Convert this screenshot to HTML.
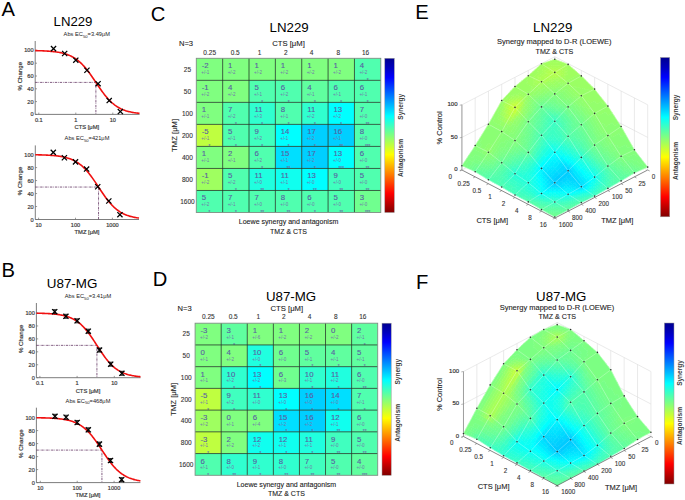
<!DOCTYPE html>
<html><head><meta charset="utf-8"><style>
html,body{margin:0;padding:0;background:#fff;}
svg{display:block;font-family:"Liberation Sans", sans-serif;}
.s text{stroke-width:0.18;}
</style></head><body>
<svg width="685" height="500" viewBox="0 0 685 500">
<rect width="685" height="500" fill="#fff"/>
<text x="1.50" y="16.40" font-size="20.20" text-anchor="start" fill="#000">A</text>
<text x="1.40" y="276.80" font-size="20.20" text-anchor="start" fill="#000">B</text>
<text x="150.80" y="20.90" font-size="20.20" text-anchor="start" fill="#000">C</text>
<text x="152.70" y="286.40" font-size="20.20" text-anchor="start" fill="#000">D</text>
<text x="415.20" y="18.60" font-size="20.20" text-anchor="start" fill="#000">E</text>
<text x="416.00" y="289.00" font-size="20.20" text-anchor="start" fill="#000">F</text>
<path d="M35.20 41.00 V114.40 H139.50" fill="none" stroke="#6e6e6e" stroke-width="0.9"/>
<line x1="35.20" y1="114.40" x2="37.00" y2="114.40" stroke="#6e6e6e" stroke-width="0.7"/>
<text x="33.60" y="116.40" font-size="5.60" text-anchor="end" fill="#3c3c3c" stroke="#3c3c3c" stroke-width="0.2">0</text>
<line x1="35.20" y1="101.60" x2="37.00" y2="101.60" stroke="#6e6e6e" stroke-width="0.7"/>
<text x="33.60" y="103.60" font-size="5.60" text-anchor="end" fill="#3c3c3c" stroke="#3c3c3c" stroke-width="0.2">20</text>
<line x1="35.20" y1="88.80" x2="37.00" y2="88.80" stroke="#6e6e6e" stroke-width="0.7"/>
<text x="33.60" y="90.80" font-size="5.60" text-anchor="end" fill="#3c3c3c" stroke="#3c3c3c" stroke-width="0.2">40</text>
<line x1="35.20" y1="76.00" x2="37.00" y2="76.00" stroke="#6e6e6e" stroke-width="0.7"/>
<text x="33.60" y="78.00" font-size="5.60" text-anchor="end" fill="#3c3c3c" stroke="#3c3c3c" stroke-width="0.2">60</text>
<line x1="35.20" y1="63.20" x2="37.00" y2="63.20" stroke="#6e6e6e" stroke-width="0.7"/>
<text x="33.60" y="65.20" font-size="5.60" text-anchor="end" fill="#3c3c3c" stroke="#3c3c3c" stroke-width="0.2">80</text>
<line x1="35.20" y1="50.40" x2="37.00" y2="50.40" stroke="#6e6e6e" stroke-width="0.7"/>
<text x="33.60" y="52.40" font-size="5.60" text-anchor="end" fill="#3c3c3c" stroke="#3c3c3c" stroke-width="0.2">100</text>
<line x1="38.80" y1="114.40" x2="38.80" y2="112.60" stroke="#6e6e6e" stroke-width="0.7"/>
<text x="38.80" y="122.00" font-size="5.60" text-anchor="middle" fill="#3c3c3c" stroke="#3c3c3c" stroke-width="0.2">0.1</text>
<line x1="75.80" y1="114.40" x2="75.80" y2="112.60" stroke="#6e6e6e" stroke-width="0.7"/>
<text x="75.80" y="122.00" font-size="5.60" text-anchor="middle" fill="#3c3c3c" stroke="#3c3c3c" stroke-width="0.2">1</text>
<line x1="112.80" y1="114.40" x2="112.80" y2="112.60" stroke="#6e6e6e" stroke-width="0.7"/>
<text x="112.80" y="122.00" font-size="5.60" text-anchor="middle" fill="#3c3c3c" stroke="#3c3c3c" stroke-width="0.2">10</text>
<text x="86.80" y="129.00" font-size="5.80" text-anchor="middle" fill="#3c3c3c" stroke="#3c3c3c" stroke-width="0.2">CTS [μM]</text>
<text x="22.00" y="76.20" font-size="6.10" text-anchor="middle" fill="#3c3c3c" stroke="#3c3c3c" stroke-width="0.2" transform="rotate(-90 22 76.2)">% Change</text>
<text x="86.80" y="35.90" font-size="5.7" text-anchor="middle" fill="#222">Abs EC<tspan font-size="4.2" dy="1.6">50</tspan><tspan dy="-1.6">=3.49μM</tspan></text>
<path d="M35.20 82.40 H95.88 V114.40" fill="none" stroke="#5a2a5a" stroke-width="0.75" stroke-dasharray="2.4,0.9,0.7,0.9"/>
<path d="M35.20 50.62 L36.07 50.64 L36.94 50.66 L37.81 50.68 L38.68 50.71 L39.55 50.73 L40.42 50.76 L41.28 50.79 L42.15 50.82 L43.02 50.86 L43.89 50.90 L44.76 50.94 L45.63 50.98 L46.50 51.03 L47.37 51.08 L48.24 51.14 L49.11 51.20 L49.98 51.27 L50.84 51.34 L51.71 51.42 L52.58 51.50 L53.45 51.60 L54.32 51.70 L55.19 51.80 L56.06 51.92 L56.93 52.04 L57.80 52.18 L58.67 52.32 L59.54 52.48 L60.41 52.65 L61.28 52.83 L62.14 53.03 L63.01 53.24 L63.88 53.47 L64.75 53.72 L65.62 53.98 L66.49 54.27 L67.36 54.57 L68.23 54.90 L69.10 55.25 L69.97 55.63 L70.84 56.03 L71.70 56.46 L72.57 56.92 L73.44 57.41 L74.31 57.94 L75.18 58.49 L76.05 59.09 L76.92 59.71 L77.79 60.38 L78.66 61.08 L79.53 61.82 L80.40 62.60 L81.27 63.42 L82.13 64.29 L83.00 65.19 L83.87 66.13 L84.74 67.11 L85.61 68.13 L86.48 69.19 L87.35 70.29 L88.22 71.42 L89.09 72.58 L89.96 73.77 L90.83 74.98 L91.70 76.22 L92.56 77.48 L93.43 78.76 L94.30 80.04 L95.17 81.34 L96.04 82.63 L96.91 83.93 L97.78 85.22 L98.65 86.51 L99.52 87.78 L100.39 89.03 L101.26 90.26 L102.13 91.47 L103.00 92.65 L103.86 93.80 L104.73 94.91 L105.60 95.99 L106.47 97.04 L107.34 98.05 L108.21 99.02 L109.08 99.94 L109.95 100.83 L110.82 101.68 L111.69 102.49 L112.56 103.25 L113.42 103.98 L114.29 104.67 L115.16 105.32 L116.03 105.93 L116.90 106.51 L117.77 107.06 L118.64 107.57 L119.51 108.05 L120.38 108.50 L121.25 108.92 L122.12 109.31 L122.99 109.68 L123.86 110.02 L124.72 110.34 L125.59 110.64 L126.46 110.91 L127.33 111.17 L128.20 111.41 L129.07 111.64 L129.94 111.84 L130.81 112.03 L131.68 112.21 L132.55 112.38 L133.42 112.53 L134.28 112.67 L135.15 112.80 L136.02 112.92 L136.89 113.04 L137.76 113.14 L138.63 113.24 L139.50 113.33" fill="none" stroke="#f01010" stroke-width="1.6"/>
<path d="M50.92 46.01 L56.12 51.21 M50.92 51.21 L56.12 46.01" stroke="#000" stroke-width="1.25"/>
<path d="M62.06 50.87 L67.26 56.07 M62.06 56.07 L67.26 50.87" stroke="#000" stroke-width="1.25"/>
<path d="M73.20 57.59 L78.40 62.79 M73.20 62.79 L78.40 57.59" stroke="#000" stroke-width="1.25"/>
<path d="M84.34 67.64 L89.54 72.84 M84.34 72.84 L89.54 67.64" stroke="#000" stroke-width="1.25"/>
<path d="M95.48 81.08 L100.68 86.28 M95.48 86.28 L100.68 81.08" stroke="#000" stroke-width="1.25"/>
<path d="M106.61 97.98 L111.81 103.18 M106.61 103.18 L111.81 97.98" stroke="#000" stroke-width="1.25"/>
<path d="M117.75 108.98 L122.95 114.18 M117.75 114.18 L122.95 108.98" stroke="#000" stroke-width="1.25"/>
<text x="53.60" y="25.80" font-size="13.20" text-anchor="start" fill="#000">LN229</text>
<path d="M35.30 145.40 V219.50 H139.00" fill="none" stroke="#6e6e6e" stroke-width="0.9"/>
<line x1="35.30" y1="219.50" x2="37.10" y2="219.50" stroke="#6e6e6e" stroke-width="0.7"/>
<text x="33.70" y="221.50" font-size="5.60" text-anchor="end" fill="#3c3c3c" stroke="#3c3c3c" stroke-width="0.2">0</text>
<line x1="35.30" y1="206.52" x2="37.10" y2="206.52" stroke="#6e6e6e" stroke-width="0.7"/>
<text x="33.70" y="208.52" font-size="5.60" text-anchor="end" fill="#3c3c3c" stroke="#3c3c3c" stroke-width="0.2">20</text>
<line x1="35.30" y1="193.54" x2="37.10" y2="193.54" stroke="#6e6e6e" stroke-width="0.7"/>
<text x="33.70" y="195.54" font-size="5.60" text-anchor="end" fill="#3c3c3c" stroke="#3c3c3c" stroke-width="0.2">40</text>
<line x1="35.30" y1="180.56" x2="37.10" y2="180.56" stroke="#6e6e6e" stroke-width="0.7"/>
<text x="33.70" y="182.56" font-size="5.60" text-anchor="end" fill="#3c3c3c" stroke="#3c3c3c" stroke-width="0.2">60</text>
<line x1="35.30" y1="167.58" x2="37.10" y2="167.58" stroke="#6e6e6e" stroke-width="0.7"/>
<text x="33.70" y="169.58" font-size="5.60" text-anchor="end" fill="#3c3c3c" stroke="#3c3c3c" stroke-width="0.2">80</text>
<line x1="35.30" y1="154.60" x2="37.10" y2="154.60" stroke="#6e6e6e" stroke-width="0.7"/>
<text x="33.70" y="156.60" font-size="5.60" text-anchor="end" fill="#3c3c3c" stroke="#3c3c3c" stroke-width="0.2">100</text>
<line x1="38.60" y1="219.50" x2="38.60" y2="217.70" stroke="#6e6e6e" stroke-width="0.7"/>
<text x="38.60" y="227.10" font-size="5.60" text-anchor="middle" fill="#3c3c3c" stroke="#3c3c3c" stroke-width="0.2">10</text>
<line x1="75.50" y1="219.50" x2="75.50" y2="217.70" stroke="#6e6e6e" stroke-width="0.7"/>
<text x="75.50" y="227.10" font-size="5.60" text-anchor="middle" fill="#3c3c3c" stroke="#3c3c3c" stroke-width="0.2">100</text>
<line x1="112.40" y1="219.50" x2="112.40" y2="217.70" stroke="#6e6e6e" stroke-width="0.7"/>
<text x="112.40" y="227.10" font-size="5.60" text-anchor="middle" fill="#3c3c3c" stroke="#3c3c3c" stroke-width="0.2">1000</text>
<text x="87.00" y="234.00" font-size="5.80" text-anchor="middle" fill="#3c3c3c" stroke="#3c3c3c" stroke-width="0.2">TMZ [μM]</text>
<text x="22.10" y="180.95" font-size="6.10" text-anchor="middle" fill="#3c3c3c" stroke="#3c3c3c" stroke-width="0.2" transform="rotate(-90 22.1 180.95)">% Change</text>
<text x="87.00" y="140.20" font-size="5.7" text-anchor="middle" fill="#222">Abs EC<tspan font-size="4.2" dy="1.6">50</tspan><tspan dy="-1.6">=421μM</tspan></text>
<path d="M35.30 187.05 H98.54 V219.50" fill="none" stroke="#5a2a5a" stroke-width="0.75" stroke-dasharray="2.4,0.9,0.7,0.9"/>
<path d="M35.30 154.77 L36.16 154.79 L37.03 154.80 L37.89 154.82 L38.76 154.84 L39.62 154.86 L40.48 154.88 L41.35 154.91 L42.21 154.93 L43.08 154.96 L43.94 154.99 L44.81 155.02 L45.67 155.06 L46.53 155.10 L47.40 155.14 L48.26 155.18 L49.13 155.23 L49.99 155.28 L50.85 155.34 L51.72 155.40 L52.58 155.47 L53.45 155.54 L54.31 155.62 L55.18 155.70 L56.04 155.79 L56.90 155.89 L57.77 156.00 L58.63 156.11 L59.50 156.24 L60.36 156.37 L61.22 156.52 L62.09 156.67 L62.95 156.84 L63.82 157.02 L64.68 157.22 L65.55 157.43 L66.41 157.66 L67.27 157.90 L68.14 158.16 L69.00 158.45 L69.87 158.75 L70.73 159.08 L71.59 159.43 L72.46 159.80 L73.32 160.20 L74.19 160.63 L75.05 161.08 L75.92 161.57 L76.78 162.09 L77.64 162.64 L78.51 163.23 L79.37 163.86 L80.24 164.52 L81.10 165.22 L81.97 165.95 L82.83 166.73 L83.69 167.55 L84.56 168.41 L85.42 169.31 L86.29 170.25 L87.15 171.23 L88.01 172.25 L88.88 173.31 L89.74 174.40 L90.61 175.53 L91.47 176.69 L92.33 177.89 L93.20 179.11 L94.06 180.35 L94.93 181.62 L95.79 182.90 L96.66 184.20 L97.52 185.51 L98.38 186.82 L99.25 188.13 L100.11 189.44 L100.98 190.74 L101.84 192.03 L102.70 193.30 L103.57 194.56 L104.43 195.79 L105.30 196.99 L106.16 198.16 L107.03 199.31 L107.89 200.41 L108.75 201.48 L109.62 202.52 L110.48 203.51 L111.35 204.47 L112.21 205.38 L113.08 206.25 L113.94 207.09 L114.80 207.88 L115.67 208.63 L116.53 209.34 L117.40 210.02 L118.26 210.65 L119.12 211.25 L119.99 211.82 L120.85 212.35 L121.72 212.85 L122.58 213.32 L123.44 213.75 L124.31 214.16 L125.17 214.55 L126.04 214.90 L126.90 215.24 L127.77 215.55 L128.63 215.84 L129.49 216.11 L130.36 216.36 L131.22 216.59 L132.09 216.81 L132.95 217.01 L133.81 217.20 L134.68 217.37 L135.54 217.53 L136.41 217.68 L137.27 217.82 L138.14 217.94 L139.00 218.06" fill="none" stroke="#f01010" stroke-width="1.6"/>
<path d="M50.68 149.79 L55.88 154.99 M50.68 154.99 L55.88 149.79" stroke="#000" stroke-width="1.25"/>
<path d="M61.79 155.12 L66.99 160.32 M61.79 160.32 L66.99 155.12" stroke="#000" stroke-width="1.25"/>
<path d="M72.90 159.27 L78.10 164.47 M72.90 164.47 L78.10 159.27" stroke="#000" stroke-width="1.25"/>
<path d="M84.01 166.47 L89.21 171.67 M84.01 171.67 L89.21 166.47" stroke="#000" stroke-width="1.25"/>
<path d="M95.12 184.13 L100.32 189.33 M95.12 189.33 L100.32 184.13" stroke="#000" stroke-width="1.25"/>
<path d="M106.22 198.40 L111.42 203.60 M106.22 203.60 L111.42 198.40" stroke="#000" stroke-width="1.25"/>
<path d="M117.33 212.10 L122.53 217.30 M117.33 217.30 L122.53 212.10" stroke="#000" stroke-width="1.25"/>
<path d="M36.40 303.00 V377.70 H140.50" fill="none" stroke="#6e6e6e" stroke-width="0.9"/>
<line x1="36.40" y1="377.70" x2="38.20" y2="377.70" stroke="#6e6e6e" stroke-width="0.7"/>
<text x="34.80" y="379.70" font-size="5.60" text-anchor="end" fill="#3c3c3c" stroke="#3c3c3c" stroke-width="0.2">0</text>
<line x1="36.40" y1="364.76" x2="38.20" y2="364.76" stroke="#6e6e6e" stroke-width="0.7"/>
<text x="34.80" y="366.76" font-size="5.60" text-anchor="end" fill="#3c3c3c" stroke="#3c3c3c" stroke-width="0.2">20</text>
<line x1="36.40" y1="351.82" x2="38.20" y2="351.82" stroke="#6e6e6e" stroke-width="0.7"/>
<text x="34.80" y="353.82" font-size="5.60" text-anchor="end" fill="#3c3c3c" stroke="#3c3c3c" stroke-width="0.2">40</text>
<line x1="36.40" y1="338.88" x2="38.20" y2="338.88" stroke="#6e6e6e" stroke-width="0.7"/>
<text x="34.80" y="340.88" font-size="5.60" text-anchor="end" fill="#3c3c3c" stroke="#3c3c3c" stroke-width="0.2">60</text>
<line x1="36.40" y1="325.94" x2="38.20" y2="325.94" stroke="#6e6e6e" stroke-width="0.7"/>
<text x="34.80" y="327.94" font-size="5.60" text-anchor="end" fill="#3c3c3c" stroke="#3c3c3c" stroke-width="0.2">80</text>
<line x1="36.40" y1="313.00" x2="38.20" y2="313.00" stroke="#6e6e6e" stroke-width="0.7"/>
<text x="34.80" y="315.00" font-size="5.60" text-anchor="end" fill="#3c3c3c" stroke="#3c3c3c" stroke-width="0.2">100</text>
<line x1="39.90" y1="377.70" x2="39.90" y2="375.90" stroke="#6e6e6e" stroke-width="0.7"/>
<text x="39.90" y="385.30" font-size="5.60" text-anchor="middle" fill="#3c3c3c" stroke="#3c3c3c" stroke-width="0.2">0.1</text>
<line x1="77.10" y1="377.70" x2="77.10" y2="375.90" stroke="#6e6e6e" stroke-width="0.7"/>
<text x="77.10" y="385.30" font-size="5.60" text-anchor="middle" fill="#3c3c3c" stroke="#3c3c3c" stroke-width="0.2">1</text>
<line x1="114.30" y1="377.70" x2="114.30" y2="375.90" stroke="#6e6e6e" stroke-width="0.7"/>
<text x="114.30" y="385.30" font-size="5.60" text-anchor="middle" fill="#3c3c3c" stroke="#3c3c3c" stroke-width="0.2">10</text>
<text x="88.00" y="392.80" font-size="5.80" text-anchor="middle" fill="#3c3c3c" stroke="#3c3c3c" stroke-width="0.2">CTS [μM]</text>
<text x="23.20" y="338.85" font-size="6.10" text-anchor="middle" fill="#3c3c3c" stroke="#3c3c3c" stroke-width="0.2" transform="rotate(-90 23.2 338.85)">% Change</text>
<text x="88.00" y="298.30" font-size="5.7" text-anchor="middle" fill="#222">Abs EC<tspan font-size="4.2" dy="1.6">50</tspan><tspan dy="-1.6">=3.41μM</tspan></text>
<path d="M36.40 345.35 H96.92 V377.70" fill="none" stroke="#5a2a5a" stroke-width="0.75" stroke-dasharray="2.4,0.9,0.7,0.9"/>
<path d="M36.40 313.19 L37.27 313.21 L38.13 313.23 L39.00 313.25 L39.87 313.27 L40.74 313.29 L41.60 313.32 L42.47 313.35 L43.34 313.38 L44.21 313.41 L45.08 313.44 L45.94 313.48 L46.81 313.52 L47.68 313.57 L48.55 313.62 L49.41 313.67 L50.28 313.73 L51.15 313.79 L52.02 313.86 L52.88 313.93 L53.75 314.01 L54.62 314.10 L55.48 314.19 L56.35 314.29 L57.22 314.40 L58.09 314.52 L58.95 314.65 L59.82 314.79 L60.69 314.94 L61.56 315.10 L62.42 315.28 L63.29 315.47 L64.16 315.68 L65.03 315.90 L65.89 316.14 L66.76 316.40 L67.63 316.67 L68.50 316.97 L69.36 317.30 L70.23 317.64 L71.10 318.01 L71.97 318.41 L72.83 318.84 L73.70 319.30 L74.57 319.79 L75.44 320.31 L76.30 320.87 L77.17 321.46 L78.04 322.09 L78.91 322.76 L79.78 323.47 L80.64 324.22 L81.51 325.01 L82.38 325.85 L83.25 326.73 L84.11 327.65 L84.98 328.61 L85.85 329.62 L86.71 330.67 L87.58 331.76 L88.45 332.89 L89.32 334.05 L90.19 335.25 L91.05 336.48 L91.92 337.74 L92.79 339.02 L93.66 340.33 L94.52 341.65 L95.39 342.98 L96.26 344.32 L97.12 345.67 L97.99 347.02 L98.86 348.35 L99.73 349.68 L100.59 351.00 L101.46 352.29 L102.33 353.56 L103.20 354.81 L104.06 356.03 L104.93 357.21 L105.80 358.36 L106.67 359.46 L107.53 360.53 L108.40 361.56 L109.27 362.55 L110.14 363.49 L111.00 364.40 L111.87 365.25 L112.74 366.07 L113.61 366.84 L114.47 367.57 L115.34 368.26 L116.21 368.92 L117.08 369.53 L117.94 370.10 L118.81 370.64 L119.68 371.15 L120.55 371.63 L121.41 372.07 L122.28 372.48 L123.15 372.87 L124.02 373.23 L124.88 373.56 L125.75 373.87 L126.62 374.16 L127.49 374.43 L128.35 374.68 L129.22 374.91 L130.09 375.12 L130.96 375.32 L131.82 375.50 L132.69 375.67 L133.56 375.83 L134.43 375.98 L135.29 376.11 L136.16 376.24 L137.03 376.35 L137.90 376.46 L138.76 376.55 L139.63 376.64 L140.50 376.73" fill="none" stroke="#f01010" stroke-width="1.6"/>
<path d="M52.10 309.11 L57.30 314.31 M52.10 314.31 L57.30 309.11" stroke="#000" stroke-width="1.25"/>
<path d="M54.70 309.71 V313.71 M52.90 309.71 H56.50 M52.90 313.71 H56.50" stroke="#000" stroke-width="0.8"/>
<path d="M63.30 313.70 L68.50 318.90 M63.30 318.90 L68.50 313.70" stroke="#000" stroke-width="1.25"/>
<path d="M65.90 314.30 V318.30 M64.10 314.30 H67.70 M64.10 318.30 H67.70" stroke="#000" stroke-width="0.8"/>
<path d="M74.50 318.23 L79.70 323.43 M74.50 323.43 L79.70 318.23" stroke="#000" stroke-width="1.25"/>
<path d="M77.10 318.83 V322.83 M75.30 318.83 H78.90 M75.30 322.83 H78.90" stroke="#000" stroke-width="0.8"/>
<path d="M85.70 328.58 L90.90 333.78 M85.70 333.78 L90.90 328.58" stroke="#000" stroke-width="1.25"/>
<path d="M88.30 329.18 V333.18 M86.50 329.18 H90.10 M86.50 333.18 H90.10" stroke="#000" stroke-width="0.8"/>
<path d="M96.90 347.47 L102.10 352.67 M96.90 352.67 L102.10 347.47" stroke="#000" stroke-width="1.25"/>
<path d="M99.50 348.07 V352.07 M97.70 348.07 H101.30 M97.70 352.07 H101.30" stroke="#000" stroke-width="0.8"/>
<path d="M108.09 361.58 L113.29 366.78 M108.09 366.78 L113.29 361.58" stroke="#000" stroke-width="1.25"/>
<path d="M110.69 362.18 V366.18 M108.89 362.18 H112.49 M108.89 366.18 H112.49" stroke="#000" stroke-width="0.8"/>
<path d="M119.29 370.70 L124.49 375.90 M119.29 375.90 L124.49 370.70" stroke="#000" stroke-width="1.25"/>
<path d="M121.89 371.30 V375.30 M120.09 371.30 H123.69 M120.09 375.30 H123.69" stroke="#000" stroke-width="0.8"/>
<text x="46.80" y="287.50" font-size="13.40" text-anchor="start" fill="#000">U87-MG</text>
<path d="M36.40 407.70 V482.60 H140.40" fill="none" stroke="#6e6e6e" stroke-width="0.9"/>
<line x1="36.40" y1="482.60" x2="38.20" y2="482.60" stroke="#6e6e6e" stroke-width="0.7"/>
<text x="34.80" y="484.60" font-size="5.60" text-anchor="end" fill="#3c3c3c" stroke="#3c3c3c" stroke-width="0.2">0</text>
<line x1="36.40" y1="469.60" x2="38.20" y2="469.60" stroke="#6e6e6e" stroke-width="0.7"/>
<text x="34.80" y="471.60" font-size="5.60" text-anchor="end" fill="#3c3c3c" stroke="#3c3c3c" stroke-width="0.2">20</text>
<line x1="36.40" y1="456.60" x2="38.20" y2="456.60" stroke="#6e6e6e" stroke-width="0.7"/>
<text x="34.80" y="458.60" font-size="5.60" text-anchor="end" fill="#3c3c3c" stroke="#3c3c3c" stroke-width="0.2">40</text>
<line x1="36.40" y1="443.60" x2="38.20" y2="443.60" stroke="#6e6e6e" stroke-width="0.7"/>
<text x="34.80" y="445.60" font-size="5.60" text-anchor="end" fill="#3c3c3c" stroke="#3c3c3c" stroke-width="0.2">60</text>
<line x1="36.40" y1="430.60" x2="38.20" y2="430.60" stroke="#6e6e6e" stroke-width="0.7"/>
<text x="34.80" y="432.60" font-size="5.60" text-anchor="end" fill="#3c3c3c" stroke="#3c3c3c" stroke-width="0.2">80</text>
<line x1="36.40" y1="417.60" x2="38.20" y2="417.60" stroke="#6e6e6e" stroke-width="0.7"/>
<text x="34.80" y="419.60" font-size="5.60" text-anchor="end" fill="#3c3c3c" stroke="#3c3c3c" stroke-width="0.2">100</text>
<line x1="40.30" y1="482.60" x2="40.30" y2="480.80" stroke="#6e6e6e" stroke-width="0.7"/>
<text x="40.30" y="490.20" font-size="5.60" text-anchor="middle" fill="#3c3c3c" stroke="#3c3c3c" stroke-width="0.2">10</text>
<line x1="77.20" y1="482.60" x2="77.20" y2="480.80" stroke="#6e6e6e" stroke-width="0.7"/>
<text x="77.20" y="490.20" font-size="5.60" text-anchor="middle" fill="#3c3c3c" stroke="#3c3c3c" stroke-width="0.2">100</text>
<line x1="114.10" y1="482.60" x2="114.10" y2="480.80" stroke="#6e6e6e" stroke-width="0.7"/>
<text x="114.10" y="490.20" font-size="5.60" text-anchor="middle" fill="#3c3c3c" stroke="#3c3c3c" stroke-width="0.2">1000</text>
<text x="88.00" y="497.30" font-size="5.80" text-anchor="middle" fill="#3c3c3c" stroke="#3c3c3c" stroke-width="0.2">TMZ [μM]</text>
<text x="23.20" y="443.65" font-size="6.10" text-anchor="middle" fill="#3c3c3c" stroke="#3c3c3c" stroke-width="0.2" transform="rotate(-90 23.2 443.65)">% Change</text>
<text x="88.00" y="402.50" font-size="5.7" text-anchor="middle" fill="#222">Abs EC<tspan font-size="4.2" dy="1.6">50</tspan><tspan dy="-1.6">=468μM</tspan></text>
<path d="M36.40 450.10 H101.93 V482.60" fill="none" stroke="#5a2a5a" stroke-width="0.75" stroke-dasharray="2.4,0.9,0.7,0.9"/>
<path d="M36.40 417.74 L37.27 417.75 L38.13 417.77 L39.00 417.78 L39.87 417.79 L40.73 417.81 L41.60 417.83 L42.47 417.85 L43.33 417.87 L44.20 417.89 L45.07 417.92 L45.93 417.94 L46.80 417.97 L47.67 418.00 L48.53 418.04 L49.40 418.07 L50.27 418.11 L51.13 418.15 L52.00 418.20 L52.87 418.25 L53.73 418.31 L54.60 418.37 L55.47 418.43 L56.33 418.50 L57.20 418.57 L58.07 418.65 L58.93 418.74 L59.80 418.84 L60.67 418.94 L61.53 419.05 L62.40 419.17 L63.27 419.30 L64.13 419.44 L65.00 419.59 L65.87 419.75 L66.73 419.92 L67.60 420.11 L68.47 420.32 L69.33 420.54 L70.20 420.77 L71.07 421.03 L71.93 421.30 L72.80 421.59 L73.67 421.91 L74.53 422.24 L75.40 422.61 L76.27 422.99 L77.13 423.41 L78.00 423.85 L78.87 424.33 L79.73 424.83 L80.60 425.37 L81.47 425.94 L82.33 426.55 L83.20 427.20 L84.07 427.88 L84.93 428.60 L85.80 429.36 L86.67 430.16 L87.53 431.01 L88.40 431.89 L89.27 432.81 L90.13 433.78 L91.00 434.79 L91.87 435.83 L92.73 436.91 L93.60 438.03 L94.47 439.19 L95.33 440.37 L96.20 441.58 L97.07 442.82 L97.93 444.09 L98.80 445.37 L99.67 446.67 L100.53 447.98 L101.40 449.29 L102.27 450.61 L103.13 451.93 L104.00 453.24 L104.87 454.54 L105.73 455.82 L106.60 457.09 L107.47 458.33 L108.33 459.56 L109.20 460.75 L110.07 461.91 L110.93 463.03 L111.80 464.13 L112.67 465.18 L113.53 466.19 L114.40 467.17 L115.27 468.10 L116.13 469.00 L117.00 469.85 L117.87 470.66 L118.73 471.43 L119.60 472.16 L120.47 472.85 L121.33 473.51 L122.20 474.12 L123.07 474.70 L123.93 475.25 L124.80 475.76 L125.67 476.24 L126.53 476.69 L127.40 477.11 L128.27 477.51 L129.13 477.88 L130.00 478.22 L130.87 478.54 L131.73 478.84 L132.60 479.11 L133.47 479.37 L134.33 479.61 L135.20 479.84 L136.07 480.04 L136.93 480.23 L137.80 480.41 L138.67 480.58 L139.53 480.73 L140.40 480.87" fill="none" stroke="#f01010" stroke-width="1.6"/>
<path d="M52.38 413.70 L57.58 418.90 M52.38 418.90 L57.58 413.70" stroke="#000" stroke-width="1.25"/>
<path d="M54.98 414.30 V418.30 M53.18 414.30 H56.78 M53.18 418.30 H56.78" stroke="#000" stroke-width="0.8"/>
<path d="M63.49 414.68 L68.69 419.88 M63.49 419.88 L68.69 414.68" stroke="#000" stroke-width="1.25"/>
<path d="M66.09 415.28 V419.28 M64.29 415.28 H67.89 M64.29 419.28 H67.89" stroke="#000" stroke-width="0.8"/>
<path d="M74.60 419.88 L79.80 425.08 M74.60 425.08 L79.80 419.88" stroke="#000" stroke-width="1.25"/>
<path d="M77.20 420.48 V424.48 M75.40 420.48 H79.00 M75.40 424.48 H79.00" stroke="#000" stroke-width="0.8"/>
<path d="M85.71 427.22 L90.91 432.42 M85.71 432.42 L90.91 427.22" stroke="#000" stroke-width="1.25"/>
<path d="M88.31 427.82 V431.82 M86.51 427.82 H90.11 M86.51 431.82 H90.11" stroke="#000" stroke-width="0.8"/>
<path d="M96.82 441.52 L102.02 446.72 M96.82 446.72 L102.02 441.52" stroke="#000" stroke-width="1.25"/>
<path d="M99.42 442.12 V446.12 M97.62 442.12 H101.22 M97.62 446.12 H101.22" stroke="#000" stroke-width="0.8"/>
<path d="M107.92 457.90 L113.12 463.10 M107.92 463.10 L113.12 457.90" stroke="#000" stroke-width="1.25"/>
<path d="M110.52 458.50 V462.50 M108.72 458.50 H112.32 M108.72 462.50 H112.32" stroke="#000" stroke-width="0.8"/>
<path d="M119.03 477.07 L124.23 482.28 M119.03 482.28 L124.23 477.07" stroke="#000" stroke-width="1.25"/>
<path d="M121.63 477.68 V481.68 M119.83 477.68 H123.43 M119.83 481.68 H123.43" stroke="#000" stroke-width="0.8"/>
<rect x="196.30" y="58.30" width="26.36" height="22.03" fill="#80ff80"/>
<rect x="222.66" y="58.30" width="26.36" height="22.03" fill="#80ff80"/>
<rect x="249.01" y="58.30" width="26.36" height="22.03" fill="#80ff80"/>
<rect x="275.37" y="58.30" width="26.36" height="22.03" fill="#80ff80"/>
<rect x="301.73" y="58.30" width="26.36" height="22.03" fill="#80ff80"/>
<rect x="328.09" y="58.30" width="26.36" height="22.03" fill="#80ff80"/>
<rect x="354.44" y="58.30" width="26.36" height="22.03" fill="#50ffaf"/>
<rect x="196.30" y="80.33" width="26.36" height="22.03" fill="#80ff80"/>
<rect x="222.66" y="80.33" width="26.36" height="22.03" fill="#80ff80"/>
<rect x="249.01" y="80.33" width="26.36" height="22.03" fill="#50ffaf"/>
<rect x="275.37" y="80.33" width="26.36" height="22.03" fill="#50ffaf"/>
<rect x="301.73" y="80.33" width="26.36" height="22.03" fill="#60ff9f"/>
<rect x="328.09" y="80.33" width="26.36" height="22.03" fill="#50ffaf"/>
<rect x="354.44" y="80.33" width="26.36" height="22.03" fill="#50ffaf"/>
<rect x="196.30" y="102.36" width="26.36" height="22.03" fill="#80ff80"/>
<rect x="222.66" y="102.36" width="26.36" height="22.03" fill="#50ffaf"/>
<rect x="249.01" y="102.36" width="26.36" height="22.03" fill="#30ffcf"/>
<rect x="275.37" y="102.36" width="26.36" height="22.03" fill="#50ffaf"/>
<rect x="301.73" y="102.36" width="26.36" height="22.03" fill="#30ffcf"/>
<rect x="328.09" y="102.36" width="26.36" height="22.03" fill="#00ffff"/>
<rect x="354.44" y="102.36" width="26.36" height="22.03" fill="#50ffaf"/>
<rect x="196.30" y="124.39" width="26.36" height="22.03" fill="#bfff40"/>
<rect x="222.66" y="124.39" width="26.36" height="22.03" fill="#50ffaf"/>
<rect x="249.01" y="124.39" width="26.36" height="22.03" fill="#40ffbf"/>
<rect x="275.37" y="124.39" width="26.36" height="22.03" fill="#00ffff"/>
<rect x="301.73" y="124.39" width="26.36" height="22.03" fill="#00cfff"/>
<rect x="328.09" y="124.39" width="26.36" height="22.03" fill="#00cfff"/>
<rect x="354.44" y="124.39" width="26.36" height="22.03" fill="#50ffaf"/>
<rect x="196.30" y="146.41" width="26.36" height="22.03" fill="#80ff80"/>
<rect x="222.66" y="146.41" width="26.36" height="22.03" fill="#80ff80"/>
<rect x="249.01" y="146.41" width="26.36" height="22.03" fill="#50ffaf"/>
<rect x="275.37" y="146.41" width="26.36" height="22.03" fill="#00dfff"/>
<rect x="301.73" y="146.41" width="26.36" height="22.03" fill="#00cfff"/>
<rect x="328.09" y="146.41" width="26.36" height="22.03" fill="#00ffff"/>
<rect x="354.44" y="146.41" width="26.36" height="22.03" fill="#50ffaf"/>
<rect x="196.30" y="168.44" width="26.36" height="22.03" fill="#9fff60"/>
<rect x="222.66" y="168.44" width="26.36" height="22.03" fill="#50ffaf"/>
<rect x="249.01" y="168.44" width="26.36" height="22.03" fill="#20ffdf"/>
<rect x="275.37" y="168.44" width="26.36" height="22.03" fill="#10ffef"/>
<rect x="301.73" y="168.44" width="26.36" height="22.03" fill="#00ffff"/>
<rect x="328.09" y="168.44" width="26.36" height="22.03" fill="#40ffbf"/>
<rect x="354.44" y="168.44" width="26.36" height="22.03" fill="#50ffaf"/>
<rect x="196.30" y="190.47" width="26.36" height="22.03" fill="#50ffaf"/>
<rect x="222.66" y="190.47" width="26.36" height="22.03" fill="#50ffaf"/>
<rect x="249.01" y="190.47" width="26.36" height="22.03" fill="#50ffaf"/>
<rect x="275.37" y="190.47" width="26.36" height="22.03" fill="#50ffaf"/>
<rect x="301.73" y="190.47" width="26.36" height="22.03" fill="#50ffaf"/>
<rect x="328.09" y="190.47" width="26.36" height="22.03" fill="#50ffaf"/>
<rect x="354.44" y="190.47" width="26.36" height="22.03" fill="#70ff8f"/>
<text x="201.70" y="68.30" font-size="7.8" fill="#5a60a2" stroke="#5a60a2" stroke-width="0.12">-2</text>
<text x="201.30" y="73.90" font-size="4.5" fill="#7278ac">+/-1</text>
<text x="228.06" y="68.30" font-size="7.8" fill="#5a60a2" stroke="#5a60a2" stroke-width="0.12">1</text>
<text x="227.66" y="73.90" font-size="4.5" fill="#7278ac">+/-2</text>
<text x="254.41" y="68.30" font-size="7.8" fill="#5a60a2" stroke="#5a60a2" stroke-width="0.12">1</text>
<text x="254.01" y="73.90" font-size="4.5" fill="#7278ac">+/-2</text>
<text x="280.77" y="68.30" font-size="7.8" fill="#5a60a2" stroke="#5a60a2" stroke-width="0.12">1</text>
<text x="280.37" y="73.90" font-size="4.5" fill="#7278ac">+/-2</text>
<text x="307.13" y="68.30" font-size="7.8" fill="#5a60a2" stroke="#5a60a2" stroke-width="0.12">1</text>
<text x="306.73" y="73.90" font-size="4.5" fill="#7278ac">+/-2</text>
<text x="333.49" y="68.30" font-size="7.8" fill="#5a60a2" stroke="#5a60a2" stroke-width="0.12">1</text>
<text x="333.09" y="73.90" font-size="4.5" fill="#7278ac">+/-2</text>
<text x="359.84" y="68.30" font-size="7.8" fill="#5a60a2" stroke="#5a60a2" stroke-width="0.12">4</text>
<text x="359.44" y="73.90" font-size="4.5" fill="#7278ac">+/-2</text>
<text x="367.62" y="81.93" font-size="4.6" text-anchor="middle" fill="#6a70a8" stroke="#6a70a8" stroke-width="0.1">*</text>
<text x="201.70" y="90.33" font-size="7.8" fill="#5a60a2" stroke="#5a60a2" stroke-width="0.12">-1</text>
<text x="201.30" y="95.93" font-size="4.5" fill="#7278ac">+/-2</text>
<text x="228.06" y="90.33" font-size="7.8" fill="#5a60a2" stroke="#5a60a2" stroke-width="0.12">4</text>
<text x="227.66" y="95.93" font-size="4.5" fill="#7278ac">+/-2</text>
<text x="254.41" y="90.33" font-size="7.8" fill="#5a60a2" stroke="#5a60a2" stroke-width="0.12">5</text>
<text x="254.01" y="95.93" font-size="4.5" fill="#7278ac">+/-1</text>
<text x="262.19" y="103.96" font-size="4.6" text-anchor="middle" fill="#6a70a8" stroke="#6a70a8" stroke-width="0.1">*</text>
<text x="280.77" y="90.33" font-size="7.8" fill="#5a60a2" stroke="#5a60a2" stroke-width="0.12">6</text>
<text x="280.37" y="95.93" font-size="4.5" fill="#7278ac">+/-2</text>
<text x="288.55" y="103.96" font-size="4.6" text-anchor="middle" fill="#6a70a8" stroke="#6a70a8" stroke-width="0.1">*</text>
<text x="307.13" y="90.33" font-size="7.8" fill="#5a60a2" stroke="#5a60a2" stroke-width="0.12">4</text>
<text x="306.73" y="95.93" font-size="4.5" fill="#7278ac">+/-1</text>
<text x="314.91" y="103.96" font-size="4.6" text-anchor="middle" fill="#6a70a8" stroke="#6a70a8" stroke-width="0.1">*</text>
<text x="333.49" y="90.33" font-size="7.8" fill="#5a60a2" stroke="#5a60a2" stroke-width="0.12">6</text>
<text x="333.09" y="95.93" font-size="4.5" fill="#7278ac">+/-1</text>
<text x="341.26" y="103.96" font-size="4.6" text-anchor="middle" fill="#6a70a8" stroke="#6a70a8" stroke-width="0.1">*</text>
<text x="359.84" y="90.33" font-size="7.8" fill="#5a60a2" stroke="#5a60a2" stroke-width="0.12">6</text>
<text x="359.44" y="95.93" font-size="4.5" fill="#7278ac">+/-1</text>
<text x="367.62" y="103.96" font-size="4.6" text-anchor="middle" fill="#6a70a8" stroke="#6a70a8" stroke-width="0.1">*</text>
<text x="201.70" y="112.36" font-size="7.8" fill="#5a60a2" stroke="#5a60a2" stroke-width="0.12">1</text>
<text x="201.30" y="117.96" font-size="4.5" fill="#7278ac">+/-1</text>
<text x="228.06" y="112.36" font-size="7.8" fill="#5a60a2" stroke="#5a60a2" stroke-width="0.12">7</text>
<text x="227.66" y="117.96" font-size="4.5" fill="#7278ac">+/-2</text>
<text x="235.84" y="125.99" font-size="4.6" text-anchor="middle" fill="#6a70a8" stroke="#6a70a8" stroke-width="0.1">*</text>
<text x="254.41" y="112.36" font-size="7.8" fill="#5a60a2" stroke="#5a60a2" stroke-width="0.12">11</text>
<text x="254.01" y="117.96" font-size="4.5" fill="#7278ac">+/-3</text>
<text x="262.19" y="125.99" font-size="4.6" text-anchor="middle" fill="#6a70a8" stroke="#6a70a8" stroke-width="0.1">*</text>
<text x="280.77" y="112.36" font-size="7.8" fill="#5a60a2" stroke="#5a60a2" stroke-width="0.12">8</text>
<text x="280.37" y="117.96" font-size="4.5" fill="#7278ac">+/-1</text>
<text x="288.55" y="125.99" font-size="4.6" text-anchor="middle" fill="#6a70a8" stroke="#6a70a8" stroke-width="0.1">*</text>
<text x="307.13" y="112.36" font-size="7.8" fill="#5a60a2" stroke="#5a60a2" stroke-width="0.12">11</text>
<text x="306.73" y="117.96" font-size="4.5" fill="#7278ac">+/-2</text>
<text x="314.91" y="125.99" font-size="4.6" text-anchor="middle" fill="#6a70a8" stroke="#6a70a8" stroke-width="0.1">*</text>
<text x="333.49" y="112.36" font-size="7.8" fill="#5a60a2" stroke="#5a60a2" stroke-width="0.12">13</text>
<text x="333.09" y="117.96" font-size="4.5" fill="#7278ac">+/-2</text>
<text x="341.26" y="125.99" font-size="4.6" text-anchor="middle" fill="#6a70a8" stroke="#6a70a8" stroke-width="0.1">*</text>
<text x="359.84" y="112.36" font-size="7.8" fill="#5a60a2" stroke="#5a60a2" stroke-width="0.12">7</text>
<text x="359.44" y="117.96" font-size="4.5" fill="#7278ac">+/-0</text>
<text x="367.62" y="125.99" font-size="4.6" text-anchor="middle" fill="#6a70a8" stroke="#6a70a8" stroke-width="0.1">**</text>
<text x="201.70" y="134.39" font-size="7.8" fill="#5a60a2" stroke="#5a60a2" stroke-width="0.12">-5</text>
<text x="201.30" y="139.99" font-size="4.5" fill="#7278ac">+/-1</text>
<text x="209.48" y="148.01" font-size="4.6" text-anchor="middle" fill="#6a70a8" stroke="#6a70a8" stroke-width="0.1">*</text>
<text x="228.06" y="134.39" font-size="7.8" fill="#5a60a2" stroke="#5a60a2" stroke-width="0.12">5</text>
<text x="227.66" y="139.99" font-size="4.5" fill="#7278ac">+/-1</text>
<text x="235.84" y="148.01" font-size="4.6" text-anchor="middle" fill="#6a70a8" stroke="#6a70a8" stroke-width="0.1">*</text>
<text x="254.41" y="134.39" font-size="7.8" fill="#5a60a2" stroke="#5a60a2" stroke-width="0.12">9</text>
<text x="254.01" y="139.99" font-size="4.5" fill="#7278ac">+/-2</text>
<text x="262.19" y="148.01" font-size="4.6" text-anchor="middle" fill="#6a70a8" stroke="#6a70a8" stroke-width="0.1">*</text>
<text x="280.77" y="134.39" font-size="7.8" fill="#5a60a2" stroke="#5a60a2" stroke-width="0.12">14</text>
<text x="280.37" y="139.99" font-size="4.5" fill="#7278ac">+/-1</text>
<text x="288.55" y="148.01" font-size="4.6" text-anchor="middle" fill="#6a70a8" stroke="#6a70a8" stroke-width="0.1">*</text>
<text x="307.13" y="134.39" font-size="7.8" fill="#5a60a2" stroke="#5a60a2" stroke-width="0.12">17</text>
<text x="306.73" y="139.99" font-size="4.5" fill="#7278ac">+/-2</text>
<text x="314.91" y="148.01" font-size="4.6" text-anchor="middle" fill="#6a70a8" stroke="#6a70a8" stroke-width="0.1">*</text>
<text x="333.49" y="134.39" font-size="7.8" fill="#5a60a2" stroke="#5a60a2" stroke-width="0.12">16</text>
<text x="333.09" y="139.99" font-size="4.5" fill="#7278ac">+/-1</text>
<text x="341.26" y="148.01" font-size="4.6" text-anchor="middle" fill="#6a70a8" stroke="#6a70a8" stroke-width="0.1">**</text>
<text x="359.84" y="134.39" font-size="7.8" fill="#5a60a2" stroke="#5a60a2" stroke-width="0.12">8</text>
<text x="359.44" y="139.99" font-size="4.5" fill="#7278ac">+/-0</text>
<text x="367.62" y="148.01" font-size="4.6" text-anchor="middle" fill="#6a70a8" stroke="#6a70a8" stroke-width="0.1">***</text>
<text x="201.70" y="156.41" font-size="7.8" fill="#5a60a2" stroke="#5a60a2" stroke-width="0.12">1</text>
<text x="201.30" y="162.01" font-size="4.5" fill="#7278ac">+/-1</text>
<text x="228.06" y="156.41" font-size="7.8" fill="#5a60a2" stroke="#5a60a2" stroke-width="0.12">2</text>
<text x="227.66" y="162.01" font-size="4.5" fill="#7278ac">+/-1</text>
<text x="254.41" y="156.41" font-size="7.8" fill="#5a60a2" stroke="#5a60a2" stroke-width="0.12">6</text>
<text x="254.01" y="162.01" font-size="4.5" fill="#7278ac">+/-2</text>
<text x="262.19" y="170.04" font-size="4.6" text-anchor="middle" fill="#6a70a8" stroke="#6a70a8" stroke-width="0.1">*</text>
<text x="280.77" y="156.41" font-size="7.8" fill="#5a60a2" stroke="#5a60a2" stroke-width="0.12">15</text>
<text x="280.37" y="162.01" font-size="4.5" fill="#7278ac">+/-1</text>
<text x="288.55" y="170.04" font-size="4.6" text-anchor="middle" fill="#6a70a8" stroke="#6a70a8" stroke-width="0.1">**</text>
<text x="307.13" y="156.41" font-size="7.8" fill="#5a60a2" stroke="#5a60a2" stroke-width="0.12">17</text>
<text x="306.73" y="162.01" font-size="4.5" fill="#7278ac">+/-2</text>
<text x="314.91" y="170.04" font-size="4.6" text-anchor="middle" fill="#6a70a8" stroke="#6a70a8" stroke-width="0.1">*</text>
<text x="333.49" y="156.41" font-size="7.8" fill="#5a60a2" stroke="#5a60a2" stroke-width="0.12">13</text>
<text x="333.09" y="162.01" font-size="4.5" fill="#7278ac">+/-0</text>
<text x="341.26" y="170.04" font-size="4.6" text-anchor="middle" fill="#6a70a8" stroke="#6a70a8" stroke-width="0.1">***</text>
<text x="359.84" y="156.41" font-size="7.8" fill="#5a60a2" stroke="#5a60a2" stroke-width="0.12">6</text>
<text x="359.44" y="162.01" font-size="4.5" fill="#7278ac">+/-0</text>
<text x="367.62" y="170.04" font-size="4.6" text-anchor="middle" fill="#6a70a8" stroke="#6a70a8" stroke-width="0.1">**</text>
<text x="201.70" y="178.44" font-size="7.8" fill="#5a60a2" stroke="#5a60a2" stroke-width="0.12">-1</text>
<text x="201.30" y="184.04" font-size="4.5" fill="#7278ac">+/-2</text>
<text x="228.06" y="178.44" font-size="7.8" fill="#5a60a2" stroke="#5a60a2" stroke-width="0.12">5</text>
<text x="227.66" y="184.04" font-size="4.5" fill="#7278ac">+/-2</text>
<text x="235.84" y="192.07" font-size="4.6" text-anchor="middle" fill="#6a70a8" stroke="#6a70a8" stroke-width="0.1">*</text>
<text x="254.41" y="178.44" font-size="7.8" fill="#5a60a2" stroke="#5a60a2" stroke-width="0.12">11</text>
<text x="254.01" y="184.04" font-size="4.5" fill="#7278ac">+/-0</text>
<text x="262.19" y="192.07" font-size="4.6" text-anchor="middle" fill="#6a70a8" stroke="#6a70a8" stroke-width="0.1">**</text>
<text x="280.77" y="178.44" font-size="7.8" fill="#5a60a2" stroke="#5a60a2" stroke-width="0.12">11</text>
<text x="280.37" y="184.04" font-size="4.5" fill="#7278ac">+/-1</text>
<text x="288.55" y="192.07" font-size="4.6" text-anchor="middle" fill="#6a70a8" stroke="#6a70a8" stroke-width="0.1">*</text>
<text x="307.13" y="178.44" font-size="7.8" fill="#5a60a2" stroke="#5a60a2" stroke-width="0.12">13</text>
<text x="306.73" y="184.04" font-size="4.5" fill="#7278ac">+/-0</text>
<text x="314.91" y="192.07" font-size="4.6" text-anchor="middle" fill="#6a70a8" stroke="#6a70a8" stroke-width="0.1">**</text>
<text x="333.49" y="178.44" font-size="7.8" fill="#5a60a2" stroke="#5a60a2" stroke-width="0.12">9</text>
<text x="333.09" y="184.04" font-size="4.5" fill="#7278ac">+/-0</text>
<text x="341.26" y="192.07" font-size="4.6" text-anchor="middle" fill="#6a70a8" stroke="#6a70a8" stroke-width="0.1">**</text>
<text x="359.84" y="178.44" font-size="7.8" fill="#5a60a2" stroke="#5a60a2" stroke-width="0.12">5</text>
<text x="359.44" y="184.04" font-size="4.5" fill="#7278ac">+/-0</text>
<text x="367.62" y="192.07" font-size="4.6" text-anchor="middle" fill="#6a70a8" stroke="#6a70a8" stroke-width="0.1">**</text>
<text x="201.70" y="200.47" font-size="7.8" fill="#5a60a2" stroke="#5a60a2" stroke-width="0.12">5</text>
<text x="201.30" y="206.07" font-size="4.5" fill="#7278ac">+/-2</text>
<text x="209.48" y="214.10" font-size="4.6" text-anchor="middle" fill="#6a70a8" stroke="#6a70a8" stroke-width="0.1">*</text>
<text x="228.06" y="200.47" font-size="7.8" fill="#5a60a2" stroke="#5a60a2" stroke-width="0.12">7</text>
<text x="227.66" y="206.07" font-size="4.5" fill="#7278ac">+/-1</text>
<text x="235.84" y="214.10" font-size="4.6" text-anchor="middle" fill="#6a70a8" stroke="#6a70a8" stroke-width="0.1">*</text>
<text x="254.41" y="200.47" font-size="7.8" fill="#5a60a2" stroke="#5a60a2" stroke-width="0.12">7</text>
<text x="254.01" y="206.07" font-size="4.5" fill="#7278ac">+/-0</text>
<text x="262.19" y="214.10" font-size="4.6" text-anchor="middle" fill="#6a70a8" stroke="#6a70a8" stroke-width="0.1">**</text>
<text x="280.77" y="200.47" font-size="7.8" fill="#5a60a2" stroke="#5a60a2" stroke-width="0.12">8</text>
<text x="280.37" y="206.07" font-size="4.5" fill="#7278ac">+/-0</text>
<text x="288.55" y="214.10" font-size="4.6" text-anchor="middle" fill="#6a70a8" stroke="#6a70a8" stroke-width="0.1">**</text>
<text x="307.13" y="200.47" font-size="7.8" fill="#5a60a2" stroke="#5a60a2" stroke-width="0.12">6</text>
<text x="306.73" y="206.07" font-size="4.5" fill="#7278ac">+/-0</text>
<text x="314.91" y="214.10" font-size="4.6" text-anchor="middle" fill="#6a70a8" stroke="#6a70a8" stroke-width="0.1">*</text>
<text x="333.49" y="200.47" font-size="7.8" fill="#5a60a2" stroke="#5a60a2" stroke-width="0.12">5</text>
<text x="333.09" y="206.07" font-size="4.5" fill="#7278ac">+/-0</text>
<text x="341.26" y="214.10" font-size="4.6" text-anchor="middle" fill="#6a70a8" stroke="#6a70a8" stroke-width="0.1">**</text>
<text x="359.84" y="200.47" font-size="7.8" fill="#5a60a2" stroke="#5a60a2" stroke-width="0.12">3</text>
<text x="359.44" y="206.07" font-size="4.5" fill="#7278ac">+/-0</text>
<text x="367.62" y="214.10" font-size="4.6" text-anchor="middle" fill="#6a70a8" stroke="#6a70a8" stroke-width="0.1">***</text>
<path d="M222.66 58.30 V212.50 M249.01 58.30 V212.50 M275.37 58.30 V212.50 M301.73 58.30 V212.50 M328.09 58.30 V212.50 M354.44 58.30 V212.50 M196.30 80.33 H380.80 M196.30 102.36 H380.80 M196.30 124.39 H380.80 M196.30 146.41 H380.80 M196.30 168.44 H380.80 M196.30 190.47 H380.80" stroke="#1f3a24" stroke-width="0.8" fill="none"/>
<rect x="196.30" y="58.30" width="184.50" height="154.20" fill="none" stroke="#7f8f84" stroke-width="0.9"/>
<text x="289.10" y="31.80" font-size="13.30" text-anchor="middle" fill="#000">LN229</text>
<text x="186.00" y="46.30" font-size="7.60" text-anchor="middle" fill="#222" stroke="#222" stroke-width="0.1">N=3</text>
<text x="288.50" y="46.30" font-size="7.70" text-anchor="middle" fill="#222" stroke="#222" stroke-width="0.1">CTS [μM]</text>
<text x="209.70" y="54.70" font-size="6.50" text-anchor="middle" fill="#333" stroke="#333" stroke-width="0.1">0.25</text>
<text x="235.20" y="54.70" font-size="6.50" text-anchor="middle" fill="#333" stroke="#333" stroke-width="0.1">0.5</text>
<text x="259.60" y="54.70" font-size="6.50" text-anchor="middle" fill="#333" stroke="#333" stroke-width="0.1">1</text>
<text x="285.70" y="54.70" font-size="6.50" text-anchor="middle" fill="#333" stroke="#333" stroke-width="0.1">2</text>
<text x="311.50" y="54.70" font-size="6.50" text-anchor="middle" fill="#333" stroke="#333" stroke-width="0.1">4</text>
<text x="338.40" y="54.70" font-size="6.50" text-anchor="middle" fill="#333" stroke="#333" stroke-width="0.1">8</text>
<text x="365.60" y="54.70" font-size="6.50" text-anchor="middle" fill="#333" stroke="#333" stroke-width="0.1">16</text>
<text x="187.40" y="71.61" font-size="6.50" text-anchor="middle" fill="#333" stroke="#333" stroke-width="0.1">25</text>
<text x="187.40" y="93.64" font-size="6.50" text-anchor="middle" fill="#333" stroke="#333" stroke-width="0.1">50</text>
<text x="187.40" y="115.67" font-size="6.50" text-anchor="middle" fill="#333" stroke="#333" stroke-width="0.1">100</text>
<text x="187.40" y="137.70" font-size="6.50" text-anchor="middle" fill="#333" stroke="#333" stroke-width="0.1">200</text>
<text x="187.40" y="159.73" font-size="6.50" text-anchor="middle" fill="#333" stroke="#333" stroke-width="0.1">400</text>
<text x="187.40" y="181.76" font-size="6.50" text-anchor="middle" fill="#333" stroke="#333" stroke-width="0.1">800</text>
<text x="187.40" y="203.79" font-size="6.50" text-anchor="middle" fill="#333" stroke="#333" stroke-width="0.1">1600</text>
<text x="176.70" y="135.40" font-size="7.70" text-anchor="middle" fill="#222" stroke="#222" stroke-width="0.1" transform="rotate(-90 176.7 135.4)">TMZ [μM]</text>
<defs><linearGradient id="g58" x1="0" y1="0" x2="0" y2="1">
<stop offset="0.0000" stop-color="#00008f"/>
<stop offset="0.0625" stop-color="#0000bf"/>
<stop offset="0.1250" stop-color="#0000ff"/>
<stop offset="0.1875" stop-color="#0040ff"/>
<stop offset="0.2500" stop-color="#0080ff"/>
<stop offset="0.3125" stop-color="#00bfff"/>
<stop offset="0.3750" stop-color="#00ffff"/>
<stop offset="0.4375" stop-color="#40ffbf"/>
<stop offset="0.5000" stop-color="#80ff80"/>
<stop offset="0.5625" stop-color="#bfff40"/>
<stop offset="0.6250" stop-color="#ffff00"/>
<stop offset="0.6875" stop-color="#ffbf00"/>
<stop offset="0.7500" stop-color="#ff8000"/>
<stop offset="0.8125" stop-color="#ff4000"/>
<stop offset="0.8750" stop-color="#ff0000"/>
<stop offset="0.9375" stop-color="#bf0000"/>
<stop offset="1.0000" stop-color="#800000"/>
</linearGradient></defs>
<rect x="384.80" y="58.30" width="9.50" height="154.20" fill="url(#g58)" stroke="#9a9a9a" stroke-width="0.5"/>
<text x="402.70" y="106.80" font-size="6.50" text-anchor="middle" fill="#3a3a3a" font-weight="bold" transform="rotate(-90 402.7 106.8)">Synergy</text>
<text x="402.70" y="157.90" font-size="6.60" text-anchor="middle" fill="#3a3a3a" font-weight="bold" transform="rotate(-90 402.7 157.9)">Antagonism</text>
<text x="288.55" y="224.30" font-size="7.05" text-anchor="middle" fill="#222" stroke="#222" stroke-width="0.1">Loewe synergy and antagonism</text>
<text x="288.55" y="233.60" font-size="7.00" text-anchor="middle" fill="#222" stroke="#222" stroke-width="0.1">TMZ &amp; CTS</text>
<rect x="195.10" y="323.20" width="26.09" height="21.73" fill="#80ff80"/>
<rect x="221.19" y="323.20" width="26.09" height="21.73" fill="#60ff9f"/>
<rect x="247.27" y="323.20" width="26.09" height="21.73" fill="#80ff80"/>
<rect x="273.36" y="323.20" width="26.09" height="21.73" fill="#80ff80"/>
<rect x="299.44" y="323.20" width="26.09" height="21.73" fill="#80ff80"/>
<rect x="325.53" y="323.20" width="26.09" height="21.73" fill="#80ff80"/>
<rect x="351.61" y="323.20" width="26.09" height="21.73" fill="#60ff9f"/>
<rect x="195.10" y="344.93" width="26.09" height="21.73" fill="#80ff80"/>
<rect x="221.19" y="344.93" width="26.09" height="21.73" fill="#80ff80"/>
<rect x="247.27" y="344.93" width="26.09" height="21.73" fill="#20ffdf"/>
<rect x="273.36" y="344.93" width="26.09" height="21.73" fill="#70ff8f"/>
<rect x="299.44" y="344.93" width="26.09" height="21.73" fill="#60ff9f"/>
<rect x="325.53" y="344.93" width="26.09" height="21.73" fill="#60ff9f"/>
<rect x="351.61" y="344.93" width="26.09" height="21.73" fill="#60ff9f"/>
<rect x="195.10" y="366.66" width="26.09" height="21.73" fill="#80ff80"/>
<rect x="221.19" y="366.66" width="26.09" height="21.73" fill="#30ffcf"/>
<rect x="247.27" y="366.66" width="26.09" height="21.73" fill="#00ffff"/>
<rect x="273.36" y="366.66" width="26.09" height="21.73" fill="#70ff8f"/>
<rect x="299.44" y="366.66" width="26.09" height="21.73" fill="#30ffcf"/>
<rect x="325.53" y="366.66" width="26.09" height="21.73" fill="#20ffdf"/>
<rect x="351.61" y="366.66" width="26.09" height="21.73" fill="#50ffaf"/>
<rect x="195.10" y="388.39" width="26.09" height="21.73" fill="#bfff40"/>
<rect x="221.19" y="388.39" width="26.09" height="21.73" fill="#40ffbf"/>
<rect x="247.27" y="388.39" width="26.09" height="21.73" fill="#30ffcf"/>
<rect x="273.36" y="388.39" width="26.09" height="21.73" fill="#00ffff"/>
<rect x="299.44" y="388.39" width="26.09" height="21.73" fill="#00cfff"/>
<rect x="325.53" y="388.39" width="26.09" height="21.73" fill="#00dfff"/>
<rect x="351.61" y="388.39" width="26.09" height="21.73" fill="#50ffaf"/>
<rect x="195.10" y="410.11" width="26.09" height="21.73" fill="#9fff60"/>
<rect x="221.19" y="410.11" width="26.09" height="21.73" fill="#80ff80"/>
<rect x="247.27" y="410.11" width="26.09" height="21.73" fill="#80ff80"/>
<rect x="273.36" y="410.11" width="26.09" height="21.73" fill="#00dfff"/>
<rect x="299.44" y="410.11" width="26.09" height="21.73" fill="#00cfff"/>
<rect x="325.53" y="410.11" width="26.09" height="21.73" fill="#10ffef"/>
<rect x="351.61" y="410.11" width="26.09" height="21.73" fill="#50ffaf"/>
<rect x="195.10" y="431.84" width="26.09" height="21.73" fill="#bfff40"/>
<rect x="221.19" y="431.84" width="26.09" height="21.73" fill="#80ff80"/>
<rect x="247.27" y="431.84" width="26.09" height="21.73" fill="#10ffef"/>
<rect x="273.36" y="431.84" width="26.09" height="21.73" fill="#10ffef"/>
<rect x="299.44" y="431.84" width="26.09" height="21.73" fill="#20ffdf"/>
<rect x="325.53" y="431.84" width="26.09" height="21.73" fill="#40ffbf"/>
<rect x="351.61" y="431.84" width="26.09" height="21.73" fill="#50ffaf"/>
<rect x="195.10" y="453.57" width="26.09" height="21.73" fill="#50ffaf"/>
<rect x="221.19" y="453.57" width="26.09" height="21.73" fill="#30ffcf"/>
<rect x="247.27" y="453.57" width="26.09" height="21.73" fill="#30ffcf"/>
<rect x="273.36" y="453.57" width="26.09" height="21.73" fill="#30ffcf"/>
<rect x="299.44" y="453.57" width="26.09" height="21.73" fill="#40ffbf"/>
<rect x="325.53" y="453.57" width="26.09" height="21.73" fill="#50ffaf"/>
<rect x="351.61" y="453.57" width="26.09" height="21.73" fill="#60ff9f"/>
<text x="200.50" y="333.20" font-size="7.8" fill="#5a60a2" stroke="#5a60a2" stroke-width="0.12">-3</text>
<text x="200.10" y="338.80" font-size="4.5" fill="#7278ac">+/-2</text>
<text x="226.59" y="333.20" font-size="7.8" fill="#5a60a2" stroke="#5a60a2" stroke-width="0.12">3</text>
<text x="226.19" y="338.80" font-size="4.5" fill="#7278ac">+/-1</text>
<text x="234.23" y="346.53" font-size="4.6" text-anchor="middle" fill="#6a70a8" stroke="#6a70a8" stroke-width="0.1">*</text>
<text x="252.67" y="333.20" font-size="7.8" fill="#5a60a2" stroke="#5a60a2" stroke-width="0.12">1</text>
<text x="252.27" y="338.80" font-size="4.5" fill="#7278ac">+/-6</text>
<text x="278.76" y="333.20" font-size="7.8" fill="#5a60a2" stroke="#5a60a2" stroke-width="0.12">1</text>
<text x="278.36" y="338.80" font-size="4.5" fill="#7278ac">+/-2</text>
<text x="304.84" y="333.20" font-size="7.8" fill="#5a60a2" stroke="#5a60a2" stroke-width="0.12">2</text>
<text x="304.44" y="338.80" font-size="4.5" fill="#7278ac">+/-2</text>
<text x="330.93" y="333.20" font-size="7.8" fill="#5a60a2" stroke="#5a60a2" stroke-width="0.12">0</text>
<text x="330.53" y="338.80" font-size="4.5" fill="#7278ac">+/-2</text>
<text x="357.01" y="333.20" font-size="7.8" fill="#5a60a2" stroke="#5a60a2" stroke-width="0.12">2</text>
<text x="356.61" y="338.80" font-size="4.5" fill="#7278ac">+/-1</text>
<text x="364.66" y="346.53" font-size="4.6" text-anchor="middle" fill="#6a70a8" stroke="#6a70a8" stroke-width="0.1">*</text>
<text x="200.50" y="354.93" font-size="7.8" fill="#5a60a2" stroke="#5a60a2" stroke-width="0.12">0</text>
<text x="200.10" y="360.53" font-size="4.5" fill="#7278ac">+/-1</text>
<text x="226.59" y="354.93" font-size="7.8" fill="#5a60a2" stroke="#5a60a2" stroke-width="0.12">4</text>
<text x="226.19" y="360.53" font-size="4.5" fill="#7278ac">+/-2</text>
<text x="252.67" y="354.93" font-size="7.8" fill="#5a60a2" stroke="#5a60a2" stroke-width="0.12">10</text>
<text x="252.27" y="360.53" font-size="4.5" fill="#7278ac">+/-0</text>
<text x="260.31" y="368.26" font-size="4.6" text-anchor="middle" fill="#6a70a8" stroke="#6a70a8" stroke-width="0.1">*</text>
<text x="278.76" y="354.93" font-size="7.8" fill="#5a60a2" stroke="#5a60a2" stroke-width="0.12">6</text>
<text x="278.36" y="360.53" font-size="4.5" fill="#7278ac">+/-0</text>
<text x="304.84" y="354.93" font-size="7.8" fill="#5a60a2" stroke="#5a60a2" stroke-width="0.12">5</text>
<text x="304.44" y="360.53" font-size="4.5" fill="#7278ac">+/-1</text>
<text x="312.49" y="368.26" font-size="4.6" text-anchor="middle" fill="#6a70a8" stroke="#6a70a8" stroke-width="0.1">*</text>
<text x="330.93" y="354.93" font-size="7.8" fill="#5a60a2" stroke="#5a60a2" stroke-width="0.12">4</text>
<text x="330.53" y="360.53" font-size="4.5" fill="#7278ac">+/-1</text>
<text x="338.57" y="368.26" font-size="4.6" text-anchor="middle" fill="#6a70a8" stroke="#6a70a8" stroke-width="0.1">*</text>
<text x="357.01" y="354.93" font-size="7.8" fill="#5a60a2" stroke="#5a60a2" stroke-width="0.12">5</text>
<text x="356.61" y="360.53" font-size="4.5" fill="#7278ac">+/-1</text>
<text x="364.66" y="368.26" font-size="4.6" text-anchor="middle" fill="#6a70a8" stroke="#6a70a8" stroke-width="0.1">*</text>
<text x="200.50" y="376.66" font-size="7.8" fill="#5a60a2" stroke="#5a60a2" stroke-width="0.12">1</text>
<text x="200.10" y="382.26" font-size="4.5" fill="#7278ac">+/-1</text>
<text x="226.59" y="376.66" font-size="7.8" fill="#5a60a2" stroke="#5a60a2" stroke-width="0.12">10</text>
<text x="226.19" y="382.26" font-size="4.5" fill="#7278ac">+/-2</text>
<text x="234.23" y="389.99" font-size="4.6" text-anchor="middle" fill="#6a70a8" stroke="#6a70a8" stroke-width="0.1">*</text>
<text x="252.67" y="376.66" font-size="7.8" fill="#5a60a2" stroke="#5a60a2" stroke-width="0.12">13</text>
<text x="252.27" y="382.26" font-size="4.5" fill="#7278ac">+/-2</text>
<text x="260.31" y="389.99" font-size="4.6" text-anchor="middle" fill="#6a70a8" stroke="#6a70a8" stroke-width="0.1">*</text>
<text x="278.76" y="376.66" font-size="7.8" fill="#5a60a2" stroke="#5a60a2" stroke-width="0.12">6</text>
<text x="278.36" y="382.26" font-size="4.5" fill="#7278ac">+/-3</text>
<text x="304.84" y="376.66" font-size="7.8" fill="#5a60a2" stroke="#5a60a2" stroke-width="0.12">10</text>
<text x="304.44" y="382.26" font-size="4.5" fill="#7278ac">+/-1</text>
<text x="312.49" y="389.99" font-size="4.6" text-anchor="middle" fill="#6a70a8" stroke="#6a70a8" stroke-width="0.1">*</text>
<text x="330.93" y="376.66" font-size="7.8" fill="#5a60a2" stroke="#5a60a2" stroke-width="0.12">11</text>
<text x="330.53" y="382.26" font-size="4.5" fill="#7278ac">+/-2</text>
<text x="338.57" y="389.99" font-size="4.6" text-anchor="middle" fill="#6a70a8" stroke="#6a70a8" stroke-width="0.1">*</text>
<text x="357.01" y="376.66" font-size="7.8" fill="#5a60a2" stroke="#5a60a2" stroke-width="0.12">6</text>
<text x="356.61" y="382.26" font-size="4.5" fill="#7278ac">+/-0</text>
<text x="364.66" y="389.99" font-size="4.6" text-anchor="middle" fill="#6a70a8" stroke="#6a70a8" stroke-width="0.1">**</text>
<text x="200.50" y="398.39" font-size="7.8" fill="#5a60a2" stroke="#5a60a2" stroke-width="0.12">-5</text>
<text x="200.10" y="403.99" font-size="4.5" fill="#7278ac">+/-1</text>
<text x="208.14" y="411.71" font-size="4.6" text-anchor="middle" fill="#6a70a8" stroke="#6a70a8" stroke-width="0.1">*</text>
<text x="226.59" y="398.39" font-size="7.8" fill="#5a60a2" stroke="#5a60a2" stroke-width="0.12">9</text>
<text x="226.19" y="403.99" font-size="4.5" fill="#7278ac">+/-2</text>
<text x="234.23" y="411.71" font-size="4.6" text-anchor="middle" fill="#6a70a8" stroke="#6a70a8" stroke-width="0.1">*</text>
<text x="252.67" y="398.39" font-size="7.8" fill="#5a60a2" stroke="#5a60a2" stroke-width="0.12">11</text>
<text x="252.27" y="403.99" font-size="4.5" fill="#7278ac">+/-0</text>
<text x="278.76" y="398.39" font-size="7.8" fill="#5a60a2" stroke="#5a60a2" stroke-width="0.12">13</text>
<text x="278.36" y="403.99" font-size="4.5" fill="#7278ac">+/-0</text>
<text x="286.40" y="411.71" font-size="4.6" text-anchor="middle" fill="#6a70a8" stroke="#6a70a8" stroke-width="0.1">*</text>
<text x="304.84" y="398.39" font-size="7.8" fill="#5a60a2" stroke="#5a60a2" stroke-width="0.12">16</text>
<text x="304.44" y="403.99" font-size="4.5" fill="#7278ac">+/-0</text>
<text x="312.49" y="411.71" font-size="4.6" text-anchor="middle" fill="#6a70a8" stroke="#6a70a8" stroke-width="0.1">*</text>
<text x="330.93" y="398.39" font-size="7.8" fill="#5a60a2" stroke="#5a60a2" stroke-width="0.12">14</text>
<text x="330.53" y="403.99" font-size="4.5" fill="#7278ac">+/-0</text>
<text x="338.57" y="411.71" font-size="4.6" text-anchor="middle" fill="#6a70a8" stroke="#6a70a8" stroke-width="0.1">*</text>
<text x="357.01" y="398.39" font-size="7.8" fill="#5a60a2" stroke="#5a60a2" stroke-width="0.12">7</text>
<text x="356.61" y="403.99" font-size="4.5" fill="#7278ac">+/-1</text>
<text x="364.66" y="411.71" font-size="4.6" text-anchor="middle" fill="#6a70a8" stroke="#6a70a8" stroke-width="0.1">*</text>
<text x="200.50" y="420.11" font-size="7.8" fill="#5a60a2" stroke="#5a60a2" stroke-width="0.12">-3</text>
<text x="200.10" y="425.71" font-size="4.5" fill="#7278ac">+/-2</text>
<text x="226.59" y="420.11" font-size="7.8" fill="#5a60a2" stroke="#5a60a2" stroke-width="0.12">0</text>
<text x="226.19" y="425.71" font-size="4.5" fill="#7278ac">+/-1</text>
<text x="252.67" y="420.11" font-size="7.8" fill="#5a60a2" stroke="#5a60a2" stroke-width="0.12">6</text>
<text x="252.27" y="425.71" font-size="4.5" fill="#7278ac">+/-4</text>
<text x="278.76" y="420.11" font-size="7.8" fill="#5a60a2" stroke="#5a60a2" stroke-width="0.12">15</text>
<text x="278.36" y="425.71" font-size="4.5" fill="#7278ac">+/-2</text>
<text x="286.40" y="433.44" font-size="4.6" text-anchor="middle" fill="#6a70a8" stroke="#6a70a8" stroke-width="0.1">*</text>
<text x="304.84" y="420.11" font-size="7.8" fill="#5a60a2" stroke="#5a60a2" stroke-width="0.12">16</text>
<text x="304.44" y="425.71" font-size="4.5" fill="#7278ac">+/-2</text>
<text x="312.49" y="433.44" font-size="4.6" text-anchor="middle" fill="#6a70a8" stroke="#6a70a8" stroke-width="0.1">*</text>
<text x="330.93" y="420.11" font-size="7.8" fill="#5a60a2" stroke="#5a60a2" stroke-width="0.12">12</text>
<text x="330.53" y="425.71" font-size="4.5" fill="#7278ac">+/-1</text>
<text x="338.57" y="433.44" font-size="4.6" text-anchor="middle" fill="#6a70a8" stroke="#6a70a8" stroke-width="0.1">**</text>
<text x="357.01" y="420.11" font-size="7.8" fill="#5a60a2" stroke="#5a60a2" stroke-width="0.12">6</text>
<text x="356.61" y="425.71" font-size="4.5" fill="#7278ac">+/-0</text>
<text x="364.66" y="433.44" font-size="4.6" text-anchor="middle" fill="#6a70a8" stroke="#6a70a8" stroke-width="0.1">**</text>
<text x="200.50" y="441.84" font-size="7.8" fill="#5a60a2" stroke="#5a60a2" stroke-width="0.12">-3</text>
<text x="200.10" y="447.44" font-size="4.5" fill="#7278ac">+/-1</text>
<text x="208.14" y="455.17" font-size="4.6" text-anchor="middle" fill="#6a70a8" stroke="#6a70a8" stroke-width="0.1">*</text>
<text x="226.59" y="441.84" font-size="7.8" fill="#5a60a2" stroke="#5a60a2" stroke-width="0.12">2</text>
<text x="226.19" y="447.44" font-size="4.5" fill="#7278ac">+/-2</text>
<text x="252.67" y="441.84" font-size="7.8" fill="#5a60a2" stroke="#5a60a2" stroke-width="0.12">12</text>
<text x="252.27" y="447.44" font-size="4.5" fill="#7278ac">+/-2</text>
<text x="260.31" y="455.17" font-size="4.6" text-anchor="middle" fill="#6a70a8" stroke="#6a70a8" stroke-width="0.1">*</text>
<text x="278.76" y="441.84" font-size="7.8" fill="#5a60a2" stroke="#5a60a2" stroke-width="0.12">12</text>
<text x="278.36" y="447.44" font-size="4.5" fill="#7278ac">+/-1</text>
<text x="286.40" y="455.17" font-size="4.6" text-anchor="middle" fill="#6a70a8" stroke="#6a70a8" stroke-width="0.1">*</text>
<text x="304.84" y="441.84" font-size="7.8" fill="#5a60a2" stroke="#5a60a2" stroke-width="0.12">11</text>
<text x="304.44" y="447.44" font-size="4.5" fill="#7278ac">+/-1</text>
<text x="312.49" y="455.17" font-size="4.6" text-anchor="middle" fill="#6a70a8" stroke="#6a70a8" stroke-width="0.1">*</text>
<text x="330.93" y="441.84" font-size="7.8" fill="#5a60a2" stroke="#5a60a2" stroke-width="0.12">9</text>
<text x="330.53" y="447.44" font-size="4.5" fill="#7278ac">+/-0</text>
<text x="338.57" y="455.17" font-size="4.6" text-anchor="middle" fill="#6a70a8" stroke="#6a70a8" stroke-width="0.1">**</text>
<text x="357.01" y="441.84" font-size="7.8" fill="#5a60a2" stroke="#5a60a2" stroke-width="0.12">5</text>
<text x="356.61" y="447.44" font-size="4.5" fill="#7278ac">+/-0</text>
<text x="364.66" y="455.17" font-size="4.6" text-anchor="middle" fill="#6a70a8" stroke="#6a70a8" stroke-width="0.1">**</text>
<text x="200.50" y="463.57" font-size="7.8" fill="#5a60a2" stroke="#5a60a2" stroke-width="0.12">6</text>
<text x="200.10" y="469.17" font-size="4.5" fill="#7278ac">+/-1</text>
<text x="208.14" y="476.90" font-size="4.6" text-anchor="middle" fill="#6a70a8" stroke="#6a70a8" stroke-width="0.1">*</text>
<text x="226.59" y="463.57" font-size="7.8" fill="#5a60a2" stroke="#5a60a2" stroke-width="0.12">8</text>
<text x="226.19" y="469.17" font-size="4.5" fill="#7278ac">+/-0</text>
<text x="234.23" y="476.90" font-size="4.6" text-anchor="middle" fill="#6a70a8" stroke="#6a70a8" stroke-width="0.1">**</text>
<text x="252.67" y="463.57" font-size="7.8" fill="#5a60a2" stroke="#5a60a2" stroke-width="0.12">9</text>
<text x="252.27" y="469.17" font-size="4.5" fill="#7278ac">+/-1</text>
<text x="260.31" y="476.90" font-size="4.6" text-anchor="middle" fill="#6a70a8" stroke="#6a70a8" stroke-width="0.1">*</text>
<text x="278.76" y="463.57" font-size="7.8" fill="#5a60a2" stroke="#5a60a2" stroke-width="0.12">8</text>
<text x="278.36" y="469.17" font-size="4.5" fill="#7278ac">+/-0</text>
<text x="286.40" y="476.90" font-size="4.6" text-anchor="middle" fill="#6a70a8" stroke="#6a70a8" stroke-width="0.1">**</text>
<text x="304.84" y="463.57" font-size="7.8" fill="#5a60a2" stroke="#5a60a2" stroke-width="0.12">7</text>
<text x="304.44" y="469.17" font-size="4.5" fill="#7278ac">+/-0</text>
<text x="312.49" y="476.90" font-size="4.6" text-anchor="middle" fill="#6a70a8" stroke="#6a70a8" stroke-width="0.1">**</text>
<text x="330.93" y="463.57" font-size="7.8" fill="#5a60a2" stroke="#5a60a2" stroke-width="0.12">5</text>
<text x="330.53" y="469.17" font-size="4.5" fill="#7278ac">+/-0</text>
<text x="338.57" y="476.90" font-size="4.6" text-anchor="middle" fill="#6a70a8" stroke="#6a70a8" stroke-width="0.1">**</text>
<text x="357.01" y="463.57" font-size="7.8" fill="#5a60a2" stroke="#5a60a2" stroke-width="0.12">4</text>
<text x="356.61" y="469.17" font-size="4.5" fill="#7278ac">+/-0</text>
<text x="364.66" y="476.90" font-size="4.6" text-anchor="middle" fill="#6a70a8" stroke="#6a70a8" stroke-width="0.1">***</text>
<path d="M221.19 323.20 V475.30 M247.27 323.20 V475.30 M273.36 323.20 V475.30 M299.44 323.20 V475.30 M325.53 323.20 V475.30 M351.61 323.20 V475.30 M195.10 344.93 H377.70 M195.10 366.66 H377.70 M195.10 388.39 H377.70 M195.10 410.11 H377.70 M195.10 431.84 H377.70 M195.10 453.57 H377.70" stroke="#1f3a24" stroke-width="0.8" fill="none"/>
<rect x="195.10" y="323.20" width="182.60" height="152.10" fill="none" stroke="#7f8f84" stroke-width="0.9"/>
<text x="291.10" y="301.00" font-size="13.30" text-anchor="middle" fill="#000">U87-MG</text>
<text x="184.60" y="311.10" font-size="7.60" text-anchor="middle" fill="#222" stroke="#222" stroke-width="0.1">N=3</text>
<text x="286.80" y="311.10" font-size="7.70" text-anchor="middle" fill="#222" stroke="#222" stroke-width="0.1">CTS [μM]</text>
<text x="208.30" y="319.20" font-size="6.50" text-anchor="middle" fill="#333" stroke="#333" stroke-width="0.1">0.25</text>
<text x="233.20" y="319.20" font-size="6.50" text-anchor="middle" fill="#333" stroke="#333" stroke-width="0.1">0.5</text>
<text x="258.20" y="319.20" font-size="6.50" text-anchor="middle" fill="#333" stroke="#333" stroke-width="0.1">1</text>
<text x="283.70" y="319.20" font-size="6.50" text-anchor="middle" fill="#333" stroke="#333" stroke-width="0.1">2</text>
<text x="309.50" y="319.20" font-size="6.50" text-anchor="middle" fill="#333" stroke="#333" stroke-width="0.1">4</text>
<text x="335.90" y="319.20" font-size="6.50" text-anchor="middle" fill="#333" stroke="#333" stroke-width="0.1">8</text>
<text x="362.80" y="319.20" font-size="6.50" text-anchor="middle" fill="#333" stroke="#333" stroke-width="0.1">16</text>
<text x="186.20" y="336.36" font-size="6.50" text-anchor="middle" fill="#333" stroke="#333" stroke-width="0.1">25</text>
<text x="186.20" y="358.09" font-size="6.50" text-anchor="middle" fill="#333" stroke="#333" stroke-width="0.1">50</text>
<text x="186.20" y="379.82" font-size="6.50" text-anchor="middle" fill="#333" stroke="#333" stroke-width="0.1">100</text>
<text x="186.20" y="401.55" font-size="6.50" text-anchor="middle" fill="#333" stroke="#333" stroke-width="0.1">200</text>
<text x="186.20" y="423.28" font-size="6.50" text-anchor="middle" fill="#333" stroke="#333" stroke-width="0.1">400</text>
<text x="186.20" y="445.01" font-size="6.50" text-anchor="middle" fill="#333" stroke="#333" stroke-width="0.1">800</text>
<text x="186.20" y="466.74" font-size="6.50" text-anchor="middle" fill="#333" stroke="#333" stroke-width="0.1">1600</text>
<text x="175.50" y="399.25" font-size="7.70" text-anchor="middle" fill="#222" stroke="#222" stroke-width="0.1" transform="rotate(-90 175.5 399.25)">TMZ [μM]</text>
<defs><linearGradient id="g323" x1="0" y1="0" x2="0" y2="1">
<stop offset="0.0000" stop-color="#00008f"/>
<stop offset="0.0625" stop-color="#0000bf"/>
<stop offset="0.1250" stop-color="#0000ff"/>
<stop offset="0.1875" stop-color="#0040ff"/>
<stop offset="0.2500" stop-color="#0080ff"/>
<stop offset="0.3125" stop-color="#00bfff"/>
<stop offset="0.3750" stop-color="#00ffff"/>
<stop offset="0.4375" stop-color="#40ffbf"/>
<stop offset="0.5000" stop-color="#80ff80"/>
<stop offset="0.5625" stop-color="#bfff40"/>
<stop offset="0.6250" stop-color="#ffff00"/>
<stop offset="0.6875" stop-color="#ffbf00"/>
<stop offset="0.7500" stop-color="#ff8000"/>
<stop offset="0.8125" stop-color="#ff4000"/>
<stop offset="0.8750" stop-color="#ff0000"/>
<stop offset="0.9375" stop-color="#bf0000"/>
<stop offset="1.0000" stop-color="#800000"/>
</linearGradient></defs>
<rect x="382.00" y="323.20" width="9.20" height="152.10" fill="url(#g323)" stroke="#9a9a9a" stroke-width="0.5"/>
<text x="399.60" y="371.70" font-size="6.50" text-anchor="middle" fill="#3a3a3a" font-weight="bold" transform="rotate(-90 399.6 371.7)">Synergy</text>
<text x="399.60" y="422.80" font-size="6.60" text-anchor="middle" fill="#3a3a3a" font-weight="bold" transform="rotate(-90 399.6 422.8)">Antagonism</text>
<text x="286.40" y="487.10" font-size="7.05" text-anchor="middle" fill="#222" stroke="#222" stroke-width="0.1">Loewe synergy and antagonism</text>
<text x="286.40" y="496.20" font-size="7.00" text-anchor="middle" fill="#222" stroke="#222" stroke-width="0.1">TMZ &amp; CTS</text>
<path d="M554.80 121.92 L554.80 56.72 M541.53 128.79 L541.53 63.59 M528.26 135.66 L528.26 70.46 M514.99 142.53 L514.99 77.33 M501.72 149.40 L501.72 84.20 M488.45 156.27 L488.45 91.07 M475.18 163.14 L475.18 97.94 M461.91 170.01 L461.91 104.81 M461.91 170.01 L554.80 121.92 M461.91 137.41 L554.80 89.32 M461.91 104.81 L554.80 56.72 M554.80 121.92 L554.80 56.72 M568.07 128.79 L568.07 63.59 M581.34 135.66 L581.34 70.46 M594.61 142.53 L594.61 77.33 M607.88 149.40 L607.88 84.20 M621.15 156.27 L621.15 91.07 M634.42 163.14 L634.42 97.94 M647.69 170.01 L647.69 104.81 M554.80 121.92 L647.69 170.01 M554.80 89.32 L647.69 137.41 M554.80 56.72 L647.69 104.81" stroke="#dcdcdc" stroke-width="0.6" fill="none"/>
<path d="M461.91 170.01 L461.91 104.81" stroke="#8a8a8a" stroke-width="0.8"/>
<path d="M459.71 170.41 L461.91 170.01" stroke="#8a8a8a" stroke-width="0.6"/>
<text x="457.51" y="171.31" font-size="6.00" text-anchor="end" fill="#333" stroke="#333" stroke-width="0.2">0</text>
<path d="M459.71 137.81 L461.91 137.41" stroke="#8a8a8a" stroke-width="0.6"/>
<text x="457.51" y="138.71" font-size="6.00" text-anchor="end" fill="#333" stroke="#333" stroke-width="0.2">50</text>
<path d="M459.71 105.21 L461.91 104.81" stroke="#8a8a8a" stroke-width="0.6"/>
<text x="457.51" y="106.11" font-size="6.00" text-anchor="end" fill="#333" stroke="#333" stroke-width="0.2">100</text>
<text x="442.40" y="127.90" font-size="7.50" text-anchor="middle" fill="#222" stroke="#222" stroke-width="0.1" transform="rotate(-90 442.4 127.9)">% Control</text>
<path fill="#9fff60" stroke="#9fff60" stroke-width="0.55" stroke-linejoin="round" d="M554.8 59.2l2.2 .9 -2.2 .8 -2.2 -.9zM552.6 60l2.2 .9 -2.2 .9 -2.2 -1.1zM550.4 60.7l2.2 1.1 -2.2 .8 -2.2 -1.1zM548.2 61.5l2.2 1.1 -2.2 .9 -2.2 -1.3zM546 62.2l2.2 1.3 -2.2 .8 -2.3 -1.3zM543.7 63l2.3 1.3 -2.3 .9 -2.2 -1.5zM557 60.1l2.2 .8 -2.2 1 -2.2 -1zM554.8 60.9l2.2 1 -2.2 .9 -2.2 -1zM559.2 60.9l2.2 .9 -2.2 1 -2.2 -.9zM561.4 61.8l2.2 .8 -2.2 1.2 -2.2 -1zM563.6 62.6l2.3 .9 -2.3 1.3 -2.2 -1zM565.9 63.5l2.2 .9 -2.2 1.3 -2.3 -.9zM541.5 63.7l2.2 1.5 -2.2 1.9 -2.2 -1.4zM539.3 65.7l2.2 1.4 -2.2 1.9 -2.2 -1.3zM537.1 67.7l2.2 1.3 -2.2 1.9 -2.2 -1.2zM534.9 69.7l2.2 1.2 -2.2 2 -2.2 -1.2zM532.7 71.7l2.2 1.2 -2.2 1.9 -2.2 -1.1zM530.5 73.7l2.2 1.1 -2.2 1.9 -2.2 -1zM537.1 70.9l2.2 1.3 -2.2 1.8 -2.2 -1.1zM534.9 72.9l2.2 1.1 -2.2 1.9 -2.2 -1.1zM532.7 74.8l2.2 1.1 -2.2 1.8 -2.2 -1zM528.3 75.7l2.2 1 -2.2 1.8 -2.3 -1zM530.5 76.7l2.2 1 -2.2 1.9 -2.2 -1.1zM528.3 78.5l2.2 1.1 -2.2 1.9 -2.3 -1.1zM532.7 77.7l2.2 1.1 -2.2 1.9 -2.2 -1.1zM530.5 79.6l2.2 1.1 -2.2 1.9 -2.2 -1.1zM528.3 81.5l2.2 1.1 -2.2 2 -2.3 -1.2zM532.7 80.7l2.2 1.1 -2.2 1.9 -2.2 -1.1zM530.5 82.6l2.2 1.1 -2.2 2 -2.2 -1.1zM532.7 83.7l2.2 1.2 -2.2 2 -2.2 -1.2zM534.9 84.9l2.2 1.1 -2.2 2 -2.2 -1.1zM532.7 86.9l2.2 1.1 -2.2 2.1 -2.2 -1.2zM510.6 94.7l2.2 1.2 -2.2 2.3 -2.2 -1.2zM508.4 97l2.2 1.2 -2.2 2.3 -2.3 -1.2zM515 93.6l2.2 1.3 -2.2 2.3 -2.2 -1.3zM519.4 92.6l2.2 1.3 -2.2 2.2 -2.2 -1.2zM521.6 93.9l2.2 1.3 -2.2 2.2 -2.2 -1.3zM523.8 95.2l2.2 1.2 -2.2 2.2 -2.2 -1.2zM501.7 110.7l2.2 1.2 -2.2 4 -2.2 -1.2zM503.9 117.1l2.2 1.2 -2.2 4 -2.2 -1.2zM568.1 64.4l2.2 1.9 -2.2 1.3 -2.2 -1.9zM570.3 66.3l2.2 1.9 -2.2 1.3 -2.2 -1.9zM568.1 67.6l2.2 1.9 -2.2 1.3 -2.2 -1.9zM572.5 68.2l2.2 1.9 -2.2 1.3 -2.2 -1.9zM570.3 69.5l2.2 1.9 -2.2 1.3 -2.2 -1.9zM568.1 70.8l2.2 1.9 -2.2 1.3 -2.2 -1.9zM574.7 70.1l2.2 1.9 -2.2 1.3 -2.2 -1.9zM572.5 71.4l2.2 1.9 -2.2 1.3 -2.2 -1.9zM570.3 72.7l2.2 1.9 -2.2 1.2 -2.2 -1.8zM568.1 74l2.2 1.8 -2.2 1.3 -2.2 -1.8zM565.9 75.3l2.2 1.8 -2.2 1.3 -2.3 -1.8zM576.9 72l2.2 2 -2.2 1.2 -2.2 -1.9zM574.7 73.3l2.2 1.9 -2.2 1.3 -2.2 -1.9zM572.5 74.6l2.2 1.9 -2.2 1.2 -2.2 -1.9zM570.3 75.8l2.2 1.9 -2.2 1.3 -2.2 -1.9zM568.1 77.1l2.2 1.9 -2.2 1.2 -2.2 -1.8zM565.9 78.4l2.2 1.8 -2.2 1.3 -2.3 -1.8zM548.2 80.6l2.2 2 -2.2 1.6 -2.2 -2zM546 82.2l2.2 2 -2.2 1.7 -2.3 -2.1zM554.8 79.3l2.2 1.9 -2.2 1.7 -2.2 -2zM552.6 80.9l2.2 2 -2.2 1.6 -2.2 -1.9zM561.4 77.9l2.2 1.8 -2.2 1.7 -2.2 -1.9zM559.2 79.5l2.2 1.9 -2.2 1.7 -2.2 -1.9zM563.6 79.7l2.3 1.8 -2.3 1.7 -2.2 -1.8zM539.3 83.9l2.2 2 -2.2 2.1 -2.2 -2zM523.8 103.1l2.2 2.2 -2.2 2.3 -2.2 -2.3zM521.6 109.9l2.2 2.3 -2.2 2.4 -2.2 -2.4zM508.4 119.5l2.2 1.9 -2.2 3.9 -2.3 -1.8zM512.8 117.5l2.2 2.1 -2.2 3.8 -2.2 -2zM519.4 112.2l2.2 2.4 -2.2 3.5 -2.2 -2.2z"/>
<path fill="#a3ff5c" stroke="#a3ff5c" stroke-width="0.55" stroke-linejoin="round" d="M552.6 61.8l2.2 1 -2.2 1 -2.2 -1.2zM550.4 62.6l2.2 1.2 -2.2 .9 -2.2 -1.2zM548.2 63.5l2.2 1.2 -2.2 1 -2.2 -1.4zM546 64.3l2.2 1.4 -2.2 .9 -2.3 -1.4zM557 61.9l2.2 .9 -2.2 1.1 -2.2 -1.1zM554.8 62.8l2.2 1.1 -2.2 1 -2.2 -1.1zM552.6 63.8l2.2 1.1 -2.2 1.1 -2.2 -1.3zM559.2 62.8l2.2 1 -2.2 1.1 -2.2 -1zM557 63.9l2.2 1 -2.2 1.2 -2.2 -1.2zM561.4 63.8l2.2 1 -2.2 1.2 -2.2 -1.1zM563.6 64.8l2.3 .9 -2.3 1.4 -2.2 -1.1zM543.7 65.2l2.3 1.4 -2.3 1.9 -2.2 -1.4zM541.5 67.1l2.2 1.4 -2.2 1.8 -2.2 -1.3zM539.3 69l2.2 1.3 -2.2 1.9 -2.2 -1.3zM541.5 70.3l2.2 1.3 -2.2 1.8 -2.2 -1.2zM539.3 72.2l2.2 1.2 -2.2 1.8 -2.2 -1.2zM537.1 74l2.2 1.2 -2.2 1.8 -2.2 -1.1zM534.9 75.9l2.2 1.1 -2.2 1.8 -2.2 -1.1zM537.1 77l2.2 1.1 -2.2 1.7 -2.2 -1zM534.9 78.8l2.2 1 -2.2 2 -2.2 -1.1zM534.9 81.8l2.2 1 -2.2 2.1 -2.2 -1.2zM537.1 82.8l2.2 1.1 -2.2 2.1 -2.2 -1.1zM506.1 99.3l2.3 1.2 -2.3 2.3 -2.2 -1.2zM512.8 95.9l2.2 1.3 -2.2 2.2 -2.2 -1.2zM517.2 94.9l2.2 1.2 -2.2 2.3 -2.2 -1.2zM503.9 101.6l2.2 1.2 -2.2 4 -2.2 -1.2zM503.9 106.8l2.2 1.1 -2.2 4 -2.2 -1.2zM503.9 111.9l2.2 1.2 -2.2 4 -2.2 -1.2zM506.1 118.3l2.3 1.2 -2.3 4 -2.2 -1.2zM565.9 65.7l2.2 1.9 -2.2 1.3 -2.3 -1.8zM565.9 68.9l2.2 1.9 -2.2 1.3 -2.3 -1.8zM565.9 72.1l2.2 1.9 -2.2 1.3 -2.3 -1.9zM563.6 76.6l2.3 1.8 -2.3 1.3 -2.2 -1.8zM550.4 79l2.2 1.9 -2.2 1.7 -2.2 -2zM557 77.7l2.2 1.8 -2.2 1.7 -2.2 -1.9zM541.5 81.8l2.2 2 -2.2 2.1 -2.2 -2zM523.8 98.6l2.2 2.2 -2.2 2.3 -2.2 -2.3z"/>
<path fill="#a7ff58" stroke="#a7ff58" stroke-width="0.55" stroke-linejoin="round" d="M550.4 64.7l2.2 1.3 -2.2 1 -2.2 -1.3zM548.2 65.7l2.2 1.3 -2.2 1.1 -2.2 -1.5zM554.8 64.9l2.2 1.2 -2.2 1.1 -2.2 -1.2zM552.6 66l2.2 1.2 -2.2 1.2 -2.2 -1.4zM559.2 64.9l2.2 1.1 -2.2 1.2 -2.2 -1.1zM557 66.1l2.2 1.1 -2.2 1.3 -2.2 -1.3zM561.4 66l2.2 1.1 -2.2 1.3 -2.2 -1.2zM546 66.6l2.2 1.5 -2.2 1.8 -2.3 -1.4zM543.7 68.5l2.3 1.4 -2.3 1.7 -2.2 -1.3zM543.7 71.6l2.3 1.3 -2.3 1.8 -2.2 -1.3zM541.5 73.4l2.2 1.3 -2.2 1.7 -2.2 -1.2zM539.3 75.2l2.2 1.2 -2.2 1.7 -2.2 -1.1zM539.3 78.1l2.2 1.1 -2.2 1.6 -2.2 -1zM537.1 79.8l2.2 1 -2.2 2 -2.2 -1zM539.3 80.8l2.2 1 -2.2 2.1 -2.2 -1.1zM510.6 98.2l2.2 1.2 -2.2 2.3 -2.2 -1.2zM515 97.2l2.2 1.2 -2.2 2.2 -2.2 -1.2zM519.4 96.1l2.2 1.3 -2.2 2.2 -2.2 -1.2zM563.6 67.1l2.3 1.8 -2.3 1.4 -2.2 -1.9zM563.6 70.3l2.3 1.8 -2.3 1.3 -2.2 -1.8zM563.6 73.4l2.3 1.9 -2.3 1.3 -2.2 -1.9zM561.4 74.7l2.2 1.9 -2.2 1.3 -2.2 -1.9zM543.7 80.3l2.3 1.9 -2.3 1.6 -2.2 -2zM552.6 77.4l2.2 1.9 -2.2 1.6 -2.2 -1.9zM559.2 76l2.2 1.9 -2.2 1.6 -2.2 -1.8zM521.6 105.3l2.2 2.3 -2.2 2.3 -2.2 -2.4zM515 113.7l2.2 2.2 -2.2 3.7 -2.2 -2.1z"/>
<path fill="#abff54" stroke="#abff54" stroke-width="0.55" stroke-linejoin="round" d="M550.4 67l2.2 1.4 -2.2 1.1 -2.2 -1.4zM554.8 67.2l2.2 1.3 -2.2 1.2 -2.2 -1.3zM559.2 67.2l2.2 1.2 -2.2 1.3 -2.2 -1.2zM548.2 68.1l2.2 1.4 -2.2 1.7 -2.2 -1.3zM546 69.9l2.2 1.3 -2.2 1.7 -2.3 -1.3zM546 72.9l2.2 1.4 -2.2 1.6 -2.3 -1.2zM543.7 74.7l2.3 1.2 -2.3 1.6 -2.2 -1.1zM541.5 76.4l2.2 1.1 -2.2 1.7 -2.2 -1.1zM543.7 77.5l2.3 1.2 -2.3 1.6 -2.2 -1.1zM541.5 79.2l2.2 1.1 -2.2 1.5 -2.2 -1zM508.4 100.5l2.2 1.2 -2.2 2.2 -2.3 -1.1zM521.6 97.4l2.2 1.2 -2.2 2.2 -2.2 -1.2zM506.1 102.8l2.3 1.1 -2.3 4 -2.2 -1.1zM506.1 107.9l2.3 1.2 -2.3 4 -2.2 -1.2zM506.1 113.1l2.3 1.2 -2.3 4 -2.2 -1.2zM561.4 68.4l2.2 1.9 -2.2 1.3 -2.2 -1.9zM561.4 71.6l2.2 1.8 -2.2 1.3 -2.2 -1.8zM548.2 77.1l2.2 1.9 -2.2 1.6 -2.2 -1.9zM546 78.7l2.2 1.9 -2.2 1.6 -2.3 -1.9zM554.8 75.8l2.2 1.9 -2.2 1.6 -2.2 -1.9zM510.6 115.4l2.2 2.1 -2.2 3.9 -2.2 -1.9z"/>
<path fill="#afff50" stroke="#afff50" stroke-width="0.55" stroke-linejoin="round" d="M552.6 68.4l2.2 1.3 -2.2 1.3 -2.2 -1.5zM557 68.5l2.2 1.2 -2.2 1.4 -2.2 -1.4zM550.4 69.5l2.2 1.5 -2.2 1.6 -2.2 -1.4zM548.2 71.2l2.2 1.4 -2.2 1.7 -2.2 -1.4zM548.2 74.3l2.2 1.3 -2.2 1.5 -2.2 -1.2zM546 75.9l2.2 1.2 -2.2 1.6 -2.3 -1.2zM512.8 99.4l2.2 1.2 -2.2 2.3 -2.2 -1.2zM517.2 98.4l2.2 1.2 -2.2 2.2 -2.2 -1.2zM508.4 114.3l2.2 1.1 -2.2 4.1 -2.3 -1.2zM559.2 69.7l2.2 1.9 -2.2 1.3 -2.2 -1.8zM559.2 72.9l2.2 1.8 -2.2 1.3 -2.2 -1.8zM552.6 74l2.2 1.8 -2.2 1.6 -2.2 -1.8zM550.4 75.6l2.2 1.8 -2.2 1.6 -2.2 -1.9zM557 74.2l2.2 1.8 -2.2 1.7 -2.2 -1.9zM521.6 100.8l2.2 2.3 -2.2 2.2 -2.2 -2.3zM519.4 107.5l2.2 2.4 -2.2 2.3 -2.2 -2.4zM517.2 109.8l2.2 2.4 -2.2 3.7 -2.2 -2.2z"/>
<path fill="#b3ff4c" stroke="#b3ff4c" stroke-width="0.55" stroke-linejoin="round" d="M554.8 69.7l2.2 1.4 -2.2 1.3 -2.2 -1.4zM552.6 71l2.2 1.4 -2.2 1.6 -2.2 -1.4zM550.4 72.6l2.2 1.4 -2.2 1.6 -2.2 -1.3zM510.6 101.7l2.2 1.2 -2.2 2.2 -2.2 -1.2zM519.4 99.6l2.2 1.2 -2.2 2.2 -2.2 -1.2zM508.4 103.9l2.2 1.2 -2.2 4 -2.3 -1.2zM508.4 109.1l2.2 1.2 -2.2 4 -2.3 -1.2zM557 71.1l2.2 1.8 -2.2 1.3 -2.2 -1.8zM554.8 72.4l2.2 1.8 -2.2 1.6 -2.2 -1.8z"/>
<path fill="#9bff64" stroke="#9bff64" stroke-width="0.55" stroke-linejoin="round" d="M526 77.5l2.3 1 -2.3 1.9 -2.2 -1.1zM523.8 79.3l2.2 1.1 -2.2 1.8 -2.2 -1.1zM521.6 81.1l2.2 1.1 -2.2 1.9 -2.2 -1.2zM519.4 82.9l2.2 1.2 -2.2 1.8 -2.2 -1.2zM517.2 84.7l2.2 1.2 -2.2 1.9 -2.2 -1.3zM526 80.4l2.3 1.1 -2.3 1.9 -2.2 -1.2zM523.8 82.2l2.2 1.2 -2.2 1.9 -2.2 -1.2zM521.6 84.1l2.2 1.2 -2.2 1.9 -2.2 -1.3zM519.4 85.9l2.2 1.3 -2.2 1.9 -2.2 -1.3zM526 83.4l2.3 1.2 -2.3 1.9 -2.2 -1.2zM523.8 85.3l2.2 1.2 -2.2 1.9 -2.2 -1.2zM521.6 87.2l2.2 1.2 -2.2 2 -2.2 -1.3zM528.3 84.6l2.2 1.1 -2.2 2 -2.3 -1.2zM526 86.5l2.3 1.2 -2.3 2 -2.2 -1.3zM523.8 88.4l2.2 1.3 -2.2 2 -2.2 -1.3zM530.5 85.7l2.2 1.2 -2.2 2 -2.2 -1.2zM528.3 87.7l2.2 1.2 -2.2 2 -2.3 -1.2zM526 89.7l2.3 1.2 -2.3 2.1 -2.2 -1.3zM530.5 88.9l2.2 1.2 -2.2 2.1 -2.2 -1.3zM515 86.5l2.2 1.3 -2.2 2.3 -2.2 -1.3zM512.8 88.8l2.2 1.3 -2.2 2.3 -2.2 -1.3zM510.6 91.1l2.2 1.3 -2.2 2.3 -2.2 -1.2zM508.4 93.5l2.2 1.2 -2.2 2.3 -2.3 -1.2zM506.1 95.8l2.3 1.2 -2.3 2.3 -2.2 -1.1zM503.9 98.2l2.2 1.1 -2.2 2.3 -2.2 -1.1zM517.2 87.8l2.2 1.3 -2.2 2.2 -2.2 -1.2zM515 90.1l2.2 1.2 -2.2 2.3 -2.2 -1.2zM512.8 92.4l2.2 1.2 -2.2 2.3 -2.2 -1.2zM519.4 89.1l2.2 1.3 -2.2 2.2 -2.2 -1.3zM517.2 91.3l2.2 1.3 -2.2 2.3 -2.2 -1.3zM521.6 90.4l2.2 1.3 -2.2 2.2 -2.2 -1.3zM523.8 91.7l2.2 1.3 -2.2 2.2 -2.2 -1.3zM526 93l2.3 1.3 -2.3 2.1 -2.2 -1.2zM501.7 105.6l2.2 1.2 -2.2 3.9 -2.2 -1.1zM501.7 115.9l2.2 1.2 -2.2 4 -2.2 -1.2zM579.1 74l2.2 1.9 -2.2 1.2 -2.2 -1.9zM576.9 75.2l2.2 1.9 -2.2 1.2 -2.2 -1.8zM574.7 76.5l2.2 1.8 -2.2 1.3 -2.2 -1.9zM572.5 77.7l2.2 1.9 -2.2 1.2 -2.2 -1.8zM570.3 79l2.2 1.8 -2.2 1.2 -2.2 -1.8zM568.1 80.2l2.2 1.8 -2.2 1.3 -2.2 -1.8zM550.4 82.6l2.2 1.9 -2.2 1.7 -2.2 -2zM548.2 84.2l2.2 2 -2.2 1.7 -2.2 -2zM557 81.2l2.2 1.9 -2.2 1.7 -2.2 -1.9zM554.8 82.9l2.2 1.9 -2.2 1.7 -2.2 -2zM561.4 81.4l2.2 1.8 -2.2 1.7 -2.2 -1.8zM565.9 81.5l2.2 1.8 -2.2 1.7 -2.3 -1.8zM537.1 86l2.2 2 -2.2 2.1 -2.2 -2.1zM534.9 88l2.2 2.1 -2.2 2.1 -2.2 -2.1zM543.7 83.8l2.3 2.1 -2.3 2.1 -2.2 -2.1zM541.5 85.9l2.2 2.1 -2.2 2.1 -2.2 -2.1zM526 96.4l2.3 2.2 -2.3 2.2 -2.2 -2.2zM581.3 75.9l2.3 2.2 -2.3 1.2 -2.2 -2.2zM579.1 77.1l2.2 2.2 -2.2 1.2 -2.2 -2.2zM576.9 78.3l2.2 2.2 -2.2 1.2 -2.2 -2.1zM574.7 79.6l2.2 2.1 -2.2 1.2 -2.2 -2.1zM572.5 80.8l2.2 2.1 -2.2 1.2 -2.2 -2.1zM570.3 82l2.2 2.1 -2.2 1.2 -2.2 -2zM583.6 78.1l2.2 2.2 -2.2 1.2 -2.3 -2.2zM581.3 79.3l2.3 2.2 -2.3 1.2 -2.2 -2.2zM579.1 80.5l2.2 2.2 -2.2 1.2 -2.2 -2.2zM576.9 81.7l2.2 2.2 -2.2 1.1 -2.2 -2.1zM574.7 82.9l2.2 2.1 -2.2 1.2 -2.2 -2.1zM572.5 84.1l2.2 2.1 -2.2 1.2 -2.2 -2.1zM585.8 80.3l2.2 2.2 -2.2 1.2 -2.2 -2.2zM583.6 81.5l2.2 2.2 -2.2 1.1 -2.3 -2.1zM581.3 82.7l2.3 2.1 -2.3 1.2 -2.2 -2.1zM579.1 83.9l2.2 2.1 -2.2 1.2 -2.2 -2.2zM576.9 85l2.2 2.2 -2.2 1.1 -2.2 -2.1zM588 82.5l2.2 2.2 -2.2 1.2 -2.2 -2.2zM585.8 83.7l2.2 2.2 -2.2 1.1 -2.2 -2.2zM583.6 84.8l2.2 2.2 -2.2 1.1 -2.3 -2.1zM581.3 86l2.3 2.1 -2.3 1.2 -2.2 -2.1zM590.2 84.7l2.2 2.2 -2.2 1.1 -2.2 -2.1zM588 85.9l2.2 2.1 -2.2 1.2 -2.2 -2.2zM585.8 87l2.2 2.2 -2.2 1.1 -2.2 -2.2zM592.4 86.9l2.2 2.2 -2.2 1.1 -2.2 -2.2zM590.2 88l2.2 2.2 -2.2 1.1 -2.2 -2.1z"/>
<path fill="#97ff68" stroke="#97ff68" stroke-width="0.55" stroke-linejoin="round" d="M528.3 90.9l2.2 1.3 -2.2 2.1 -2.3 -1.3zM501.7 100.5l2.2 1.1 -2.2 4 -2.2 -1.2zM499.5 104.4l2.2 1.2 -2.2 4 -2.2 -1.2zM499.5 109.6l2.2 1.1 -2.2 4 -2.2 -1.2zM499.5 114.7l2.2 1.2 -2.2 4 -2.2 -1.2zM501.7 121.1l2.2 1.2 -2.2 4 -2.2 -1.2zM503.9 122.3l2.2 1.2 -2.2 4 -2.2 -1.2zM552.6 84.5l2.2 2 -2.2 1.7 -2.2 -2zM559.2 83.1l2.2 1.8 -2.2 1.8 -2.2 -1.9zM557 84.8l2.2 1.9 -2.2 1.7 -2.2 -1.9zM563.6 83.2l2.3 1.8 -2.3 1.8 -2.2 -1.9zM532.7 90.1l2.2 2.1 -2.2 2.1 -2.2 -2.1zM530.5 92.2l2.2 2.1 -2.2 2.1 -2.2 -2.1zM539.3 88l2.2 2.1 -2.2 2.1 -2.2 -2.1zM546 85.9l2.2 2 -2.2 2.1 -2.3 -2zM528.3 94.3l2.2 2.1 -2.2 2.2 -2.3 -2.2zM526 100.8l2.3 2.2 -2.3 2.3 -2.2 -2.2zM523.8 107.6l2.2 2.3 -2.2 2.3 -2.2 -2.3zM510.6 121.4l2.2 2 -2.2 3.7 -2.2 -1.8zM517.2 115.9l2.2 2.2 -2.2 3.6 -2.2 -2.1zM574.7 86.2l2.2 2.1 -2.2 1.2 -2.2 -2.1zM579.1 87.2l2.2 2.1 -2.2 1.1 -2.2 -2.1zM576.9 88.3l2.2 2.1 -2.2 1.2 -2.2 -2.1zM583.6 88.1l2.2 2.2 -2.2 1.1 -2.3 -2.1zM581.3 89.3l2.3 2.1 -2.3 1.1 -2.2 -2.1zM579.1 90.4l2.2 2.1 -2.2 1.1 -2.2 -2zM588 89.2l2.2 2.1 -2.2 1.1 -2.2 -2.1zM585.8 90.3l2.2 2.1 -2.2 1.1 -2.2 -2.1zM583.6 91.4l2.2 2.1 -2.2 1.1 -2.3 -2.1zM581.3 92.5l2.3 2.1 -2.3 1.1 -2.2 -2.1zM568.1 83.3l2.2 2 -2.2 1.8 -2.2 -2.1zM570.3 85.3l2.2 2.1 -2.2 1.8 -2.2 -2.1zM572.5 87.4l2.2 2.1 -2.2 1.8 -2.2 -2.1zM574.7 89.5l2.2 2.1 -2.2 1.8 -2.2 -2.1zM576.9 91.6l2.2 2 -2.2 1.9 -2.2 -2.1zM579.1 93.6l2.2 2.1 -2.2 1.9 -2.2 -2.1zM594.6 89.1l2.2 2.9 -2.2 1.1 -2.2 -2.9zM592.4 90.2l2.2 2.9 -2.2 1.1 -2.2 -2.9zM590.2 91.3l2.2 2.9 -2.2 1.1 -2.2 -2.9zM588 92.4l2.2 2.9 -2.2 1.1 -2.2 -2.9zM585.8 93.5l2.2 2.9 -2.2 1.1 -2.2 -2.9zM583.6 94.6l2.2 2.9 -2.2 1.2 -2.3 -3zM596.8 92l2.2 2.8 -2.2 1.1 -2.2 -2.8zM594.6 93.1l2.2 2.8 -2.2 1.2 -2.2 -2.9zM592.4 94.2l2.2 2.9 -2.2 1.1 -2.2 -2.9zM590.2 95.3l2.2 2.9 -2.2 1.1 -2.2 -2.9zM588 96.4l2.2 2.9 -2.2 1.2 -2.2 -3zM585.8 97.5l2.2 3 -2.2 1.1 -2.2 -2.9zM599 94.8l2.2 2.8 -2.2 1.2 -2.2 -2.9zM596.8 95.9l2.2 2.9 -2.2 1.1 -2.2 -2.8zM594.6 97.1l2.2 2.8 -2.2 1.2 -2.2 -2.9zM592.4 98.2l2.2 2.9 -2.2 1.1 -2.2 -2.9zM590.2 99.3l2.2 2.9 -2.2 1.2 -2.2 -2.9zM601.2 97.6l2.3 2.8 -2.3 1.2 -2.2 -2.8zM599 98.8l2.2 2.8 -2.2 1.2 -2.2 -2.9zM596.8 99.9l2.2 2.9 -2.2 1.2 -2.2 -2.9zM603.5 100.4l2.2 2.9 -2.2 1.2 -2.3 -2.9z"/>
<path fill="#b7ff48" stroke="#b7ff48" stroke-width="0.55" stroke-linejoin="round" d="M515 100.6l2.2 1.2 -2.2 2.2 -2.2 -1.1zM519.4 103l2.2 2.3 -2.2 2.2 -2.2 -2.3zM512.8 111.4l2.2 2.3 -2.2 3.8 -2.2 -2.1z"/>
<path fill="#bfff40" stroke="#bfff40" stroke-width="0.55" stroke-linejoin="round" d="M512.8 102.9l2.2 1.1 -2.2 2.2 -2.2 -1.1zM517.2 101.8l2.2 1.2 -2.2 2.2 -2.2 -1.2zM510.6 105.1l2.2 1.1 -2.2 4.1 -2.2 -1.2z"/>
<path fill="#c7ff38" stroke="#c7ff38" stroke-width="0.55" stroke-linejoin="round" d="M515 104l2.2 1.2 -2.2 2.2 -2.2 -1.2zM512.8 106.2l2.2 1.2 -2.2 4 -2.2 -1.1z"/>
<path fill="#93ff6c" stroke="#93ff6c" stroke-width="0.55" stroke-linejoin="round" d="M497.3 108.4l2.2 1.2 -2.2 3.9 -2.2 -1.2zM495.1 112.3l2.2 1.2 -2.2 4 -2.2 -1.2zM497.3 113.5l2.2 1.2 -2.2 4 -2.2 -1.2zM495.1 117.5l2.2 1.2 -2.2 4 -2.2 -1.2zM497.3 118.7l2.2 1.2 -2.2 4 -2.2 -1.2zM499.5 119.9l2.2 1.2 -2.2 4 -2.2 -1.2zM488.4 147.6l2.3 1.2 -2.3 3.4 -2.2 -1.1zM550.4 86.2l2.2 2 -2.2 1.7 -2.2 -2zM554.8 86.5l2.2 1.9 -2.2 1.7 -2.2 -1.9zM561.4 84.9l2.2 1.9 -2.2 1.8 -2.2 -1.9zM537.1 90.1l2.2 2.1 -2.2 2.1 -2.2 -2.1zM534.9 92.2l2.2 2.1 -2.2 2.1 -2.2 -2.1zM543.7 88l2.3 2 -2.3 2.1 -2.2 -2zM541.5 90.1l2.2 2 -2.2 2.1 -2.2 -2zM548.2 87.9l2.2 2 -2.2 2.1 -2.2 -2zM528.3 98.6l2.2 2.2 -2.2 2.2 -2.3 -2.2zM526 105.3l2.3 2.3 -2.3 2.3 -2.2 -2.3zM523.8 112.2l2.2 2.4 -2.2 2.3 -2.2 -2.3zM506.1 123.5l2.3 1.8 -2.3 3.9 -2.2 -1.7zM515 119.6l2.2 2.1 -2.2 3.6 -2.2 -1.9zM521.6 114.6l2.2 2.3 -2.2 3.5 -2.2 -2.3zM565.9 85l2.2 2.1 -2.2 1.8 -2.3 -2.1zM563.6 86.8l2.3 2.1 -2.3 1.8 -2.2 -2.1zM568.1 87.1l2.2 2.1 -2.2 1.8 -2.2 -2.1zM570.3 89.2l2.2 2.1 -2.2 1.8 -2.2 -2.1zM572.5 91.3l2.2 2.1 -2.2 1.8 -2.2 -2.1zM574.7 93.4l2.2 2.1 -2.2 1.8 -2.2 -2.1zM588 100.5l2.2 2.9 -2.2 1.1 -2.2 -2.9zM594.6 101.1l2.2 2.9 -2.2 1.1 -2.2 -2.9zM592.4 102.2l2.2 2.9 -2.2 1.2 -2.2 -2.9zM590.2 103.4l2.2 2.9 -2.2 1.2 -2.2 -3zM601.2 101.6l2.3 2.9 -2.3 1.2 -2.2 -2.9zM599 102.8l2.2 2.9 -2.2 1.2 -2.2 -2.9zM596.8 104l2.2 2.9 -2.2 1.1 -2.2 -2.9zM594.6 105.1l2.2 2.9 -2.2 1.2 -2.2 -2.9zM592.4 106.3l2.2 2.9 -2.2 1.2 -2.2 -2.9zM605.7 103.3l2.2 2.8 -2.2 1.2 -2.2 -2.8zM603.5 104.5l2.2 2.8 -2.2 1.2 -2.3 -2.8zM601.2 105.7l2.3 2.8 -2.3 1.2 -2.2 -2.8zM599 106.9l2.2 2.8 -2.2 1.3 -2.2 -3zM596.8 108l2.2 3 -2.2 1.2 -2.2 -3zM594.6 109.2l2.2 3 -2.2 1.2 -2.2 -3zM581.3 95.7l2.3 3 -2.3 1.8 -2.2 -2.9zM583.6 98.7l2.2 2.9 -2.2 1.9 -2.3 -3zM585.8 101.6l2.2 2.9 -2.2 1.9 -2.2 -2.9zM588 104.5l2.2 3 -2.2 1.9 -2.2 -3zM607.9 106.1l2.2 3.4 -2.2 1.3 -2.2 -3.5zM605.7 107.3l2.2 3.5 -2.2 1.2 -2.2 -3.5zM603.5 108.5l2.2 3.5 -2.2 1.3 -2.3 -3.6zM601.2 109.7l2.3 3.6 -2.3 1.3 -2.2 -3.6zM599 111l2.2 3.6 -2.2 1.2 -2.2 -3.6zM610.1 109.5l2.2 3.4 -2.2 1.3 -2.2 -3.4zM607.9 110.8l2.2 3.4 -2.2 1.3 -2.2 -3.5z"/>
<path fill="#8fff70" stroke="#8fff70" stroke-width="0.55" stroke-linejoin="round" d="M492.9 116.3l2.2 1.2 -2.2 4 -2.2 -1.3zM490.7 120.2l2.2 1.3 -2.2 3.9 -2.3 -1.2zM492.9 121.5l2.2 1.2 -2.2 3.9 -2.2 -1.2zM495.1 122.7l2.2 1.2 -2.2 4 -2.2 -1.3zM497.3 123.9l2.2 1.2 -2.2 4 -2.2 -1.2zM499.5 125.1l2.2 1.2 -2.2 4 -2.2 -1.2zM501.7 126.3l2.2 1.2 -2.2 4.1 -2.2 -1.3zM488.4 124.2l2.3 1.2 -2.3 3.6 -2.2 -1.3zM488.4 143l2.3 1.2 -2.3 3.4 -2.2 -1.1zM486.2 146.5l2.2 1.1 -2.2 3.5 -2.2 -1.1zM490.7 144.2l2.2 1.1 -2.2 3.5 -2.3 -1.2zM552.6 88.2l2.2 1.9 -2.2 1.8 -2.2 -2zM559.2 86.7l2.2 1.9 -2.2 1.7 -2.2 -1.9zM532.7 94.3l2.2 2.1 -2.2 2.1 -2.2 -2.1zM539.3 92.2l2.2 2 -2.2 2.1 -2.2 -2zM546 90l2.2 2 -2.2 2.1 -2.3 -2zM530.5 96.4l2.2 2.1 -2.2 2.3 -2.2 -2.2zM528.3 103l2.2 2.2 -2.2 2.4 -2.3 -2.3zM526 109.9l2.3 2.3 -2.3 2.4 -2.2 -2.4zM503.9 127.5l2.2 1.7 -2.2 3.9 -2.2 -1.5zM508.4 125.3l2.2 1.8 -2.2 3.7 -2.3 -1.6zM512.8 123.4l2.2 1.9 -2.2 3.6 -2.2 -1.8zM510.6 127.1l2.2 1.8 -2.2 3.6 -2.2 -1.7zM519.4 118.1l2.2 2.3 -2.2 3.4 -2.2 -2.1zM517.2 121.7l2.2 2.1 -2.2 3.5 -2.2 -2zM490.7 148.8l2.2 1.7 -2.2 3.5 -2.3 -1.8zM561.4 88.6l2.2 2.1 -2.2 1.8 -2.2 -2.2zM565.9 88.9l2.2 2.1 -2.2 1.8 -2.3 -2.1zM568.1 91l2.2 2.1 -2.2 1.8 -2.2 -2.1zM570.3 93.1l2.2 2.1 -2.2 1.9 -2.2 -2.2zM572.5 95.2l2.2 2.1 -2.2 1.9 -2.2 -2.1zM576.9 95.5l2.2 2.1 -2.2 1.8 -2.2 -2.1zM579.1 97.6l2.2 2.9 -2.2 1.9 -2.2 -3zM581.3 100.5l2.3 3 -2.3 1.8 -2.2 -2.9zM583.6 103.5l2.2 2.9 -2.2 1.9 -2.3 -3zM590.2 107.5l2.2 2.9 -2.2 1.9 -2.2 -2.9zM592.4 110.4l2.2 3 -2.2 1.9 -2.2 -3zM596.8 112.2l2.2 3.6 -2.2 1.3 -2.2 -3.7zM605.7 112l2.2 3.5 -2.2 1.3 -2.2 -3.5zM603.5 113.3l2.2 3.5 -2.2 1.3 -2.3 -3.5zM601.2 114.6l2.3 3.5 -2.3 1.4 -2.2 -3.7zM599 115.8l2.2 3.7 -2.2 1.3 -2.2 -3.7zM612.3 112.9l2.2 3.4 -2.2 1.4 -2.2 -3.5zM610.1 114.2l2.2 3.5 -2.2 1.3 -2.2 -3.5zM607.9 115.5l2.2 3.5 -2.2 1.4 -2.2 -3.6zM605.7 116.8l2.2 3.6 -2.2 1.3 -2.2 -3.6zM603.5 118.1l2.2 3.6 -2.2 1.4 -2.3 -3.6zM601.2 119.5l2.3 3.6 -2.3 1.4 -2.2 -3.7zM614.5 116.3l2.2 3.4 -2.2 1.4 -2.2 -3.4zM612.3 117.7l2.2 3.4 -2.2 1.4 -2.2 -3.5zM610.1 119l2.2 3.5 -2.2 1.4 -2.2 -3.5zM607.9 120.4l2.2 3.5 -2.2 1.4 -2.2 -3.6zM605.7 121.7l2.2 3.6 -2.2 1.5 -2.2 -3.7zM616.7 119.7l2.2 3.4 -2.2 1.4 -2.2 -3.4zM614.5 121.1l2.2 3.4 -2.2 1.5 -2.2 -3.5zM594.6 113.4l2.2 3.7 -2.2 1.8 -2.2 -3.6z"/>
<path fill="#bbff44" stroke="#bbff44" stroke-width="0.55" stroke-linejoin="round" d="M510.6 110.3l2.2 1.1 -2.2 4 -2.2 -1.1z"/>
<path fill="#8bff74" stroke="#8bff74" stroke-width="0.55" stroke-linejoin="round" d="M486.2 127.7l2.2 1.3 -2.2 3.5 -2.2 -1.2zM484 131.3l2.2 1.2 -2.2 3.5 -2.2 -1.1zM481.8 134.9l2.2 1.1 -2.2 3.6 -2.2 -1.2zM490.7 125.4l2.2 1.2 -2.2 3.6 -2.3 -1.2zM488.4 129l2.3 1.2 -2.3 3.5 -2.2 -1.2zM486.2 132.5l2.2 1.2 -2.2 3.5 -2.2 -1.2zM484 136l2.2 1.2 -2.2 3.5 -2.2 -1.1zM481.8 139.6l2.2 1.1 -2.2 3.5 -2.2 -1.1zM492.9 126.6l2.2 1.3 -2.2 3.5 -2.2 -1.2zM490.7 130.2l2.2 1.2 -2.2 3.5 -2.3 -1.2zM488.4 133.7l2.3 1.2 -2.3 3.5 -2.2 -1.2zM486.2 137.2l2.2 1.2 -2.2 3.5 -2.2 -1.2zM484 140.7l2.2 1.2 -2.2 3.5 -2.2 -1.2zM481.8 144.2l2.2 1.2 -2.2 3.5 -2.2 -1.1zM495.1 127.9l2.2 1.2 -2.2 3.5 -2.2 -1.2zM492.9 131.4l2.2 1.2 -2.2 3.5 -2.2 -1.2zM490.7 134.9l2.2 1.2 -2.2 3.4 -2.3 -1.1zM488.4 138.4l2.3 1.1 -2.3 3.5 -2.2 -1.1zM486.2 141.9l2.2 1.1 -2.2 3.5 -2.2 -1.1zM484 145.4l2.2 1.1 -2.2 3.5 -2.2 -1.1zM497.3 129.1l2.2 1.2 -2.2 3.5 -2.2 -1.2zM495.1 132.6l2.2 1.2 -2.2 3.5 -2.2 -1.2zM492.9 136.1l2.2 1.2 -2.2 3.4 -2.2 -1.2zM490.7 139.5l2.2 1.2 -2.2 3.5 -2.3 -1.2zM499.5 130.3l2.2 1.3 -2.2 3.4 -2.2 -1.2zM497.3 133.8l2.2 1.2 -2.2 3.4 -2.2 -1.1zM495.1 137.3l2.2 1.1 -2.2 3.5 -2.2 -1.2zM492.9 140.7l2.2 1.2 -2.2 3.4 -2.2 -1.1zM484 150l2.2 1.1 -2.2 3.3 -2.2 -1.1zM486.2 151.1l2.2 1.1 -2.2 3.3 -2.2 -1.1zM557 88.4l2.2 1.9 -2.2 1.8 -2.2 -2zM554.8 90.1l2.2 2 -2.2 1.8 -2.2 -2zM537.1 94.3l2.2 2 -2.2 2.2 -2.2 -2.1zM543.7 92.1l2.3 2 -2.3 2.2 -2.2 -2.1zM550.4 89.9l2.2 2 -2.2 2.1 -2.2 -2zM530.5 100.8l2.2 2.1 -2.2 2.3 -2.2 -2.2zM528.3 107.6l2.2 2.2 -2.2 2.4 -2.3 -2.3zM506.1 129.2l2.3 1.6 -2.3 3.8 -2.2 -1.5zM508.4 130.8l2.2 1.7 -2.2 3.6 -2.3 -1.5zM515 125.3l2.2 2 -2.2 3.4 -2.2 -1.8zM512.8 128.9l2.2 1.8 -2.2 3.4 -2.2 -1.6zM501.7 131.6l2.2 1.5 -2.2 3.4 -2.2 -1.5zM499.5 135l2.2 1.5 -2.2 3.5 -2.2 -1.6zM497.3 138.4l2.2 1.6 -2.2 3.5 -2.2 -1.6zM495.1 141.9l2.2 1.6 -2.2 3.5 -2.2 -1.7zM492.9 145.3l2.2 1.7 -2.2 3.5 -2.2 -1.7zM559.2 90.3l2.2 2.2 -2.2 1.8 -2.2 -2.2zM563.6 90.7l2.3 2.1 -2.3 1.8 -2.2 -2.1zM565.9 92.8l2.2 2.1 -2.2 1.8 -2.3 -2.1zM568.1 94.9l2.2 2.2 -2.2 1.8 -2.2 -2.2zM574.7 97.3l2.2 2.1 -2.2 1.9 -2.2 -2.1zM576.9 99.4l2.2 3 -2.2 1.9 -2.2 -3zM579.1 102.4l2.2 2.9 -2.2 1.9 -2.2 -2.9zM585.8 106.4l2.2 3 -2.2 1.8 -2.2 -2.9zM588 109.4l2.2 2.9 -2.2 1.9 -2.2 -3zM590.2 112.3l2.2 3 -2.2 1.8 -2.2 -2.9zM603.5 123.1l2.2 3.7 -2.2 1.4 -2.3 -3.7zM612.3 122.5l2.2 3.5 -2.2 1.5 -2.2 -3.6zM610.1 123.9l2.2 3.6 -2.2 1.4 -2.2 -3.6zM607.9 125.3l2.2 3.6 -2.2 1.5 -2.2 -3.6zM605.7 126.8l2.2 3.6 -2.2 1.5 -2.2 -3.7zM618.9 123.1l2.2 3.4 -2.2 1.5 -2.2 -3.5zM616.7 124.5l2.2 3.5 -2.2 1.5 -2.2 -3.5zM614.5 126l2.2 3.5 -2.2 1.5 -2.2 -3.5zM612.3 127.5l2.2 3.5 -2.2 1.5 -2.2 -3.6zM610.1 128.9l2.2 3.6 -2.2 1.6 -2.2 -3.7zM607.9 130.4l2.2 3.7 -2.2 1.5 -2.2 -3.7zM596.8 117.1l2.2 3.7 -2.2 1.8 -2.2 -3.7zM599 120.8l2.2 3.7 -2.2 1.7 -2.2 -3.6zM601.2 124.5l2.3 3.7 -2.3 1.7 -2.2 -3.7zM603.5 128.2l2.2 3.7 -2.2 1.6 -2.3 -3.6zM621.1 126.5l2.3 3.9 -2.3 1.4 -2.2 -3.8zM618.9 128l2.2 3.8 -2.2 1.5 -2.2 -3.8zM616.7 129.5l2.2 3.8 -2.2 1.4 -2.2 -3.7zM614.5 131l2.2 3.7 -2.2 1.4 -2.2 -3.6zM612.3 132.5l2.2 3.6 -2.2 1.5 -2.2 -3.5zM623.4 130.4l2.2 3.9 -2.2 1.3 -2.3 -3.8zM621.1 131.8l2.3 3.8 -2.3 1.4 -2.2 -3.7z"/>
<path fill="#87ff78" stroke="#87ff78" stroke-width="0.55" stroke-linejoin="round" d="M479.6 138.4l2.2 1.2 -2.2 3.5 -2.2 -1.1zM477.4 142l2.2 1.1 -2.2 3.6 -2.2 -1.2zM479.6 143.1l2.2 1.1 -2.2 3.6 -2.2 -1.1zM475.2 145.5l2.2 1.2 -2.2 3.3 -2.2 -1.1zM477.4 146.7l2.2 1.1 -2.2 3.3 -2.2 -1.1zM479.6 147.8l2.2 1.1 -2.2 3.3 -2.2 -1.1zM481.8 148.9l2.2 1.1 -2.2 3.3 -2.2 -1.1zM534.9 96.4l2.2 2.1 -2.2 2.1 -2.2 -2.1zM541.5 94.2l2.2 2.1 -2.2 2.1 -2.2 -2.1zM548.2 92l2.2 2 -2.2 2.2 -2.2 -2.1zM552.6 91.9l2.2 2 -2.2 2.1 -2.2 -2zM532.7 98.5l2.2 2.1 -2.2 2.3 -2.2 -2.1zM530.5 105.2l2.2 2.2 -2.2 2.4 -2.2 -2.2zM526 114.6l2.3 2.3 -2.3 2.4 -2.2 -2.4zM510.6 132.5l2.2 1.6 -2.2 3.5 -2.2 -1.5zM523.8 116.9l2.2 2.4 -2.2 3.3 -2.2 -2.2zM521.6 120.4l2.2 2.2 -2.2 3.3 -2.2 -2.1zM519.4 123.8l2.2 2.1 -2.2 3.3 -2.2 -1.9zM517.2 127.3l2.2 1.9 -2.2 3.3 -2.2 -1.8zM515 130.7l2.2 1.8 -2.2 3.3 -2.2 -1.7zM512.8 134.1l2.2 1.7 -2.2 3.3 -2.2 -1.5zM503.9 133.1l2.2 1.5 -2.2 3.5 -2.2 -1.6zM501.7 136.5l2.2 1.6 -2.2 3.5 -2.2 -1.6zM499.5 140l2.2 1.6 -2.2 3.5 -2.2 -1.6zM497.3 143.5l2.2 1.6 -2.2 3.6 -2.2 -1.7zM495.1 147l2.2 1.7 -2.2 3.5 -2.2 -1.7zM492.9 150.5l2.2 1.7 -2.2 3.5 -2.2 -1.7zM506.1 134.6l2.3 1.5 -2.3 3.5 -2.2 -1.5zM503.9 138.1l2.2 1.5 -2.2 3.6 -2.2 -1.6zM508.4 136.1l2.2 1.5 -2.2 3.6 -2.3 -1.6zM488.4 152.2l2.3 1.8 -2.3 3.2 -2.2 -1.7zM557 92.1l2.2 2.2 -2.2 1.7 -2.2 -2.1zM561.4 92.5l2.2 2.1 -2.2 1.8 -2.2 -2.1zM563.6 94.6l2.3 2.1 -2.3 1.9 -2.2 -2.2zM565.9 96.7l2.2 2.2 -2.2 1.8 -2.3 -2.1zM570.3 97.1l2.2 2.1 -2.2 1.8 -2.2 -2.1zM572.5 99.2l2.2 2.1 -2.2 1.9 -2.2 -2.2zM574.7 101.3l2.2 3 -2.2 1.8 -2.2 -2.9zM581.3 105.3l2.3 3 -2.3 1.9 -2.2 -3zM583.6 108.3l2.2 2.9 -2.2 1.9 -2.3 -2.9zM585.8 111.2l2.2 3 -2.2 1.9 -2.2 -3zM592.4 115.3l2.2 3.6 -2.2 1.8 -2.2 -3.6zM594.6 118.9l2.2 3.7 -2.2 1.7 -2.2 -3.6zM596.8 122.6l2.2 3.6 -2.2 1.7 -2.2 -3.6zM599 126.2l2.2 3.7 -2.2 1.6 -2.2 -3.6zM601.2 129.9l2.3 3.6 -2.3 1.6 -2.2 -3.6zM605.7 131.9l2.2 3.7 -2.2 1.5 -2.2 -3.6zM610.1 134.1l2.2 3.5 -2.2 1.4 -2.2 -3.4zM618.9 133.3l2.2 3.7 -2.2 1.4 -2.2 -3.7zM616.7 134.7l2.2 3.7 -2.2 1.4 -2.2 -3.7zM614.5 136.1l2.2 3.7 -2.2 1.3 -2.2 -3.5zM612.3 137.6l2.2 3.5 -2.2 1.4 -2.2 -3.5zM625.6 134.3l2.2 3.9 -2.2 1.3 -2.2 -3.9zM623.4 135.6l2.2 3.9 -2.2 1.3 -2.3 -3.8zM621.1 137l2.3 3.8 -2.3 1.3 -2.2 -3.7zM618.9 138.4l2.2 3.7 -2.2 1.3 -2.2 -3.6zM616.7 139.8l2.2 3.6 -2.2 1.3 -2.2 -3.6zM614.5 141.1l2.2 3.6 -2.2 1.3 -2.2 -3.5zM627.8 138.2l2.2 3.9 -2.2 1.2 -2.2 -3.8zM625.6 139.5l2.2 3.8 -2.2 1.2 -2.2 -3.7zM623.4 140.8l2.2 3.7 -2.2 1.2 -2.3 -3.6zM621.1 142.1l2.3 3.6 -2.3 1.3 -2.2 -3.6zM618.9 143.4l2.2 3.6 -2.2 1.2 -2.2 -3.5zM630 142.1l2.2 3.8 -2.2 1.2 -2.2 -3.8zM627.8 143.3l2.2 3.8 -2.2 1.2 -2.2 -3.8zM607.9 135.6l2.2 3.4 -2.2 1.6 -2.2 -3.5zM610.1 139l2.2 3.5 -2.2 1.6 -2.2 -3.5z"/>
<path fill="#83ff7c" stroke="#83ff7c" stroke-width="0.55" stroke-linejoin="round" d="M473 148.9l2.2 1.1 -2.2 3.3 -2.2 -1zM470.8 152.3l2.2 1 -2.2 3.4 -2.3 -1.1zM475.2 150l2.2 1.1 -2.2 3.3 -2.2 -1.1zM473 153.3l2.2 1.1 -2.2 3.3 -2.2 -1zM477.4 151.1l2.2 1.1 -2.2 3.3 -2.2 -1.1zM479.6 152.2l2.2 1.1 -2.2 3.3 -2.2 -1.1zM481.8 153.3l2.2 1.1 -2.2 3.3 -2.2 -1.1zM484 154.4l2.2 1.1 -2.2 3.2 -2.2 -1zM539.3 96.3l2.2 2.1 -2.2 2.1 -2.2 -2zM546 94.1l2.2 2.1 -2.2 2.1 -2.3 -2zM550.4 94l2.2 2 -2.2 2.2 -2.2 -2zM532.7 102.9l2.2 2.2 -2.2 2.3 -2.2 -2.2zM530.5 109.8l2.2 2.3 -2.2 2.4 -2.2 -2.3zM528.3 112.2l2.2 2.3 -2.2 2.4 -2.3 -2.3zM519.4 129.2l2.2 1.9 -2.2 3.2 -2.2 -1.8zM517.2 132.5l2.2 1.8 -2.2 3.1 -2.2 -1.6zM515 135.8l2.2 1.6 -2.2 3.2 -2.2 -1.5zM501.7 141.6l2.2 1.6 -2.2 3.6 -2.2 -1.7zM499.5 145.1l2.2 1.7 -2.2 3.5 -2.2 -1.6zM497.3 148.7l2.2 1.6 -2.2 3.6 -2.2 -1.7zM506.1 139.6l2.3 1.6 -2.3 3.6 -2.2 -1.6zM503.9 143.2l2.2 1.6 -2.2 3.6 -2.2 -1.6zM510.6 137.6l2.2 1.5 -2.2 3.6 -2.2 -1.5zM512.8 139.1l2.2 1.5 -2.2 3.7 -2.2 -1.6zM486.2 155.5l2.2 1.7 -2.2 3.1 -2.2 -1.6zM490.7 154l2.2 1.7 -2.2 3.1 -2.3 -1.6zM559.2 94.3l2.2 2.1 -2.2 1.8 -2.2 -2.2zM561.4 96.4l2.2 2.2 -2.2 1.8 -2.2 -2.2zM568.1 98.9l2.2 2.1 -2.2 1.9 -2.2 -2.2zM570.3 101l2.2 2.2 -2.2 1.8 -2.2 -2.1zM576.9 104.3l2.2 2.9 -2.2 1.9 -2.2 -3zM579.1 107.2l2.2 3 -2.2 1.8 -2.2 -2.9zM588 114.2l2.2 2.9 -2.2 1.9 -2.2 -2.9zM590.2 117.1l2.2 3.6 -2.2 1.9 -2.2 -3.6zM592.4 120.7l2.2 3.6 -2.2 1.8 -2.2 -3.5zM594.6 124.3l2.2 3.6 -2.2 1.8 -2.2 -3.6zM596.8 127.9l2.2 3.6 -2.2 1.7 -2.2 -3.5zM599 131.5l2.2 3.6 -2.2 1.7 -2.2 -3.6zM603.5 133.5l2.2 3.6 -2.2 1.6 -2.3 -3.6zM616.7 144.7l2.2 3.5 -2.2 1.2 -2.2 -3.4zM625.6 144.5l2.2 3.8 -2.2 1.1 -2.2 -3.7zM623.4 145.7l2.2 3.7 -2.2 1.2 -2.3 -3.6zM621.1 147l2.3 3.6 -2.3 1.1 -2.2 -3.5zM618.9 148.2l2.2 3.5 -2.2 1.2 -2.2 -3.5zM632.2 145.9l2.2 3.9 -2.2 1.1 -2.2 -3.8zM630 147.1l2.2 3.8 -2.2 1.1 -2.2 -3.7zM627.8 148.3l2.2 3.7 -2.2 1.1 -2.2 -3.7zM625.6 149.4l2.2 3.7 -2.2 1.1 -2.2 -3.6zM623.4 150.6l2.2 3.6 -2.2 1.1 -2.3 -3.6zM621.1 151.7l2.3 3.6 -2.3 1 -2.2 -3.4zM605.7 137.1l2.2 3.5 -2.2 1.6 -2.2 -3.5zM607.9 140.6l2.2 3.5 -2.2 1.6 -2.2 -3.5zM612.3 142.5l2.2 3.5 -2.2 1.6 -2.2 -3.5zM614.5 146l2.2 3.4 -2.2 1.6 -2.2 -3.4zM634.4 149.8l2.2 2.9 -2.2 1.1 -2.2 -2.9zM632.2 150.9l2.2 2.9 -2.2 1.1 -2.2 -2.9zM630 152l2.2 2.9 -2.2 1 -2.2 -2.8zM627.8 153.1l2.2 2.8 -2.2 1.1 -2.2 -2.8zM636.6 152.7l2.2 2.9 -2.2 1 -2.2 -2.8z"/>
<path fill="#80ff80" stroke="#80ff80" stroke-width="0.55" stroke-linejoin="round" d="M468.5 155.6l2.3 1.1 -2.3 3.3 -2.2 -1zM466.3 159l2.2 1 -2.2 3.4 -2.2 -1.1zM464.1 162.3l2.2 1.1 -2.2 3.3 -2.2 -1zM470.8 156.7l2.2 1 -2.2 3.4 -2.3 -1.1zM475.2 154.4l2.2 1.1 -2.2 3.3 -2.2 -1.1zM473 157.7l2.2 1.1 -2.2 3.3 -2.2 -1zM477.4 155.5l2.2 1.1 -2.2 3.3 -2.2 -1.1zM479.6 156.6l2.2 1.1 -2.2 3.2 -2.2 -1zM481.8 157.7l2.2 1 -2.2 3.3 -2.2 -1.1zM537.1 98.5l2.2 2 -2.2 2.2 -2.2 -2.1zM543.7 96.3l2.3 2 -2.3 2.2 -2.2 -2.1zM534.9 100.6l2.2 2.1 -2.2 2.4 -2.2 -2.2zM532.7 107.4l2.2 2.2 -2.2 2.5 -2.2 -2.3zM523.8 122.6l2.2 2.3 -2.2 3.1 -2.2 -2.1zM521.6 125.9l2.2 2.1 -2.2 3.1 -2.2 -1.9zM495.1 152.2l2.2 1.7 -2.2 3.6 -2.2 -1.8zM501.7 146.8l2.2 1.6 -2.2 3.6 -2.2 -1.7zM508.4 141.2l2.2 1.5 -2.2 3.7 -2.3 -1.6zM506.1 144.8l2.3 1.6 -2.3 3.6 -2.2 -1.6zM510.6 142.7l2.2 1.6 -2.2 3.6 -2.2 -1.5zM488.4 157.2l2.3 1.6 -2.3 3.2 -2.2 -1.7zM492.9 155.7l2.2 1.8 -2.2 3 -2.2 -1.7zM563.6 98.6l2.3 2.1 -2.3 1.8 -2.2 -2.1zM565.9 100.7l2.2 2.2 -2.2 1.8 -2.3 -2.2zM554.8 93.9l2.2 2.1 -2.2 2.2 -2.2 -2.2zM557 96l2.2 2.2 -2.2 2.3 -2.2 -2.3zM519.4 134.3l2.2 2 -2.2 3.1 -2.2 -2zM517.2 137.4l2.2 2 -2.2 3.1 -2.2 -1.9zM515 140.6l2.2 1.9 -2.2 3.7 -2.2 -1.9zM572.5 103.2l2.2 2.9 -2.2 1.9 -2.2 -3zM574.7 106.1l2.2 3 -2.2 1.9 -2.2 -3zM581.3 110.2l2.3 2.9 -2.3 1.9 -2.2 -3zM583.6 113.1l2.2 3 -2.2 1.9 -2.3 -3zM585.8 116.1l2.2 2.9 -2.2 1.9 -2.2 -2.9zM594.6 129.7l2.2 3.5 -2.2 1.7 -2.2 -3.5zM596.8 133.2l2.2 3.6 -2.2 1.6 -2.2 -3.5zM601.2 135.1l2.3 3.6 -2.3 1.6 -2.2 -3.5zM599 136.8l2.2 3.5 -2.2 1.6 -2.2 -3.5zM603.5 138.7l2.2 3.5 -2.2 1.6 -2.3 -3.5zM605.7 142.2l2.2 3.5 -2.2 1.6 -2.2 -3.5zM610.1 144.1l2.2 3.5 -2.2 1.6 -2.2 -3.5zM612.3 147.6l2.2 3.4 -2.2 1.6 -2.2 -3.4zM616.7 149.4l2.2 3.5 -2.2 1.6 -2.2 -3.5zM618.9 152.9l2.2 3.4 -2.2 1.7 -2.2 -3.5zM625.6 154.2l2.2 2.8 -2.2 1 -2.2 -2.7zM623.4 155.3l2.2 2.7 -2.2 1.1 -2.3 -2.8zM634.4 153.8l2.2 2.8 -2.2 1.1 -2.2 -2.8zM632.2 154.9l2.2 2.8 -2.2 1 -2.2 -2.8zM630 155.9l2.2 2.8 -2.2 1.1 -2.2 -2.8zM627.8 157l2.2 2.8 -2.2 1 -2.2 -2.8zM638.8 155.6l2.3 2.9 -2.3 1 -2.2 -2.9zM636.6 156.6l2.2 2.9 -2.2 1 -2.2 -2.8zM634.4 157.7l2.2 2.8 -2.2 1.1 -2.2 -2.9zM641.1 158.5l2.2 2.9 -2.2 1 -2.3 -2.9zM638.8 159.5l2.3 2.9 -2.3 1 -2.2 -2.9zM643.3 161.4l2.2 2.9 -2.2 .9 -2.2 -2.8zM645.5 164.3l2.2 2.8 -2.2 1 -2.2 -2.9z"/>
<path fill="#7cff83" stroke="#7cff83" stroke-width="0.55" stroke-linejoin="round" d="M468.5 160l2.3 1.1 -2.3 3.3 -2.2 -1zM466.3 163.4l2.2 1 -2.2 3.3 -2.2 -1zM470.8 161.1l2.2 1 -2.2 3.3 -2.3 -1zM475.2 158.8l2.2 1.1 -2.2 3.3 -2.2 -1.1zM477.4 159.9l2.2 1 -2.2 3.3 -2.2 -1zM541.5 98.4l2.2 2.1 -2.2 2.1 -2.2 -2.1zM548.2 96.2l2.2 2 -2.2 2.2 -2.2 -2.1zM534.9 105.1l2.2 2.1 -2.2 2.4 -2.2 -2.2zM528.3 116.9l2.2 2.3 -2.2 2.5 -2.3 -2.4zM526 119.3l2.3 2.4 -2.3 3.2 -2.2 -2.3zM499.5 150.3l2.2 1.7 -2.2 3.6 -2.2 -1.7zM497.3 153.9l2.2 1.7 -2.2 3.6 -2.2 -1.7zM503.9 148.4l2.2 1.6 -2.2 3.7 -2.2 -1.7zM508.4 146.4l2.2 1.5 -2.2 3.7 -2.3 -1.6zM484 158.7l2.2 1.6 -2.2 3.2 -2.2 -1.5zM568.1 102.9l2.2 2.1 -2.2 1.9 -2.2 -2.2zM552.6 96l2.2 2.2 -2.2 2.3 -2.2 -2.3zM559.2 98.2l2.2 2.2 -2.2 2.3 -2.2 -2.2zM561.4 100.4l2.2 2.1 -2.2 2.4 -2.2 -2.2zM521.6 131.1l2.2 2.2 -2.2 3 -2.2 -2zM519.4 139.4l2.2 2.1 -2.2 3 -2.2 -2zM512.8 144.3l2.2 1.9 -2.2 3.7 -2.2 -2zM517.2 142.5l2.2 2 -2.2 3.6 -2.2 -1.9zM570.3 105l2.2 3 -2.2 1.9 -2.2 -3zM576.9 109.1l2.2 2.9 -2.2 1.9 -2.2 -2.9zM579.1 112l2.2 3 -2.2 1.9 -2.2 -3zM588 119l2.2 3.6 -2.2 1.8 -2.2 -3.5zM590.2 122.6l2.2 3.5 -2.2 1.8 -2.2 -3.5zM592.4 126.1l2.2 3.6 -2.2 1.7 -2.2 -3.5zM596.8 138.4l2.2 3.5 -2.2 1.6 -2.2 -3.5zM601.2 140.3l2.3 3.5 -2.3 1.6 -2.2 -3.5zM603.5 143.8l2.2 3.5 -2.2 1.6 -2.3 -3.5zM607.9 145.7l2.2 3.5 -2.2 1.6 -2.2 -3.5zM610.1 149.2l2.2 3.4 -2.2 1.6 -2.2 -3.4zM614.5 151l2.2 3.5 -2.2 1.6 -2.2 -3.5zM616.7 154.5l2.2 3.5 -2.2 1.6 -2.2 -3.5zM625.6 158l2.2 2.8 -2.2 1.1 -2.2 -2.8zM632.2 158.7l2.2 2.9 -2.2 1 -2.2 -2.8zM630 159.8l2.2 2.8 -2.2 1 -2.2 -2.8zM636.6 160.5l2.2 2.9 -2.2 1 -2.2 -2.8zM634.4 161.6l2.2 2.8 -2.2 1 -2.2 -2.8zM641.1 162.4l2.2 2.8 -2.2 1 -2.3 -2.8zM638.8 163.4l2.3 2.8 -2.3 1 -2.2 -2.8zM643.3 165.2l2.2 2.9 -2.2 1 -2.2 -2.9zM621.1 156.3l2.3 2.8 -2.3 1.6 -2.2 -2.7zM623.4 159.1l2.2 2.8 -2.2 1.5 -2.3 -2.7z"/>
<path fill="#78ff87" stroke="#78ff87" stroke-width="0.55" stroke-linejoin="round" d="M468.5 164.4l2.3 1 -2.3 3.3 -2.2 -1zM473 162.1l2.2 1.1 -2.2 3.3 -2.2 -1.1zM479.6 160.9l2.2 1.1 -2.2 3.2 -2.2 -1zM539.3 100.5l2.2 2.1 -2.2 2.2 -2.2 -2.1zM546 98.3l2.2 2.1 -2.2 2.2 -2.3 -2.1zM537.1 102.7l2.2 2.1 -2.2 2.4 -2.2 -2.1zM532.7 112.1l2.2 2.2 -2.2 2.5 -2.2 -2.3zM530.5 114.5l2.2 2.3 -2.2 2.4 -2.2 -2.3zM501.7 152l2.2 1.7 -2.2 3.6 -2.2 -1.7zM506.1 150l2.3 1.6 -2.3 3.7 -2.2 -1.6zM486.2 160.3l2.2 1.7 -2.2 3.1 -2.2 -1.6zM490.7 158.8l2.2 1.7 -2.2 3.1 -2.3 -1.6zM495.1 157.5l2.2 1.7 -2.2 3 -2.2 -1.7zM550.4 98.2l2.2 2.3 -2.2 2.2 -2.2 -2.3zM554.8 98.2l2.2 2.3 -2.2 2.2 -2.2 -2.2zM557 100.5l2.2 2.2 -2.2 2.2 -2.2 -2.2zM563.6 102.5l2.3 2.2 -2.3 2.4 -2.2 -2.2zM565.9 104.7l2.2 2.2 -2.2 2.4 -2.3 -2.2zM526 124.9l2.3 2.2 -2.3 3.1 -2.2 -2.2zM523.8 128l2.2 2.2 -2.2 3.1 -2.2 -2.2zM523.8 133.3l2.2 2.1 -2.2 3 -2.2 -2.1zM521.6 136.3l2.2 2.1 -2.2 3.1 -2.2 -2.1zM521.6 141.5l2.2 2 -2.2 3 -2.2 -2zM510.6 147.9l2.2 2 -2.2 3.6 -2.2 -1.9zM572.5 108l2.2 3 -2.2 1.8 -2.2 -2.9zM574.7 111l2.2 2.9 -2.2 1.9 -2.2 -3zM581.3 115l2.3 3 -2.3 1.8 -2.2 -2.9zM583.6 118l2.2 2.9 -2.2 1.9 -2.3 -3zM585.8 120.9l2.2 3.5 -2.2 1.8 -2.2 -3.4zM588 124.4l2.2 3.5 -2.2 1.8 -2.2 -3.5zM590.2 127.9l2.2 3.5 -2.2 1.7 -2.2 -3.4zM592.4 131.4l2.2 3.5 -2.2 1.7 -2.2 -3.5zM594.6 134.9l2.2 3.5 -2.2 1.6 -2.2 -3.4zM594.6 140l2.2 3.5 -2.2 1.6 -2.2 -3.4zM599 141.9l2.2 3.5 -2.2 1.6 -2.2 -3.5zM605.7 147.3l2.2 3.5 -2.2 1.6 -2.2 -3.5zM612.3 152.6l2.2 3.5 -2.2 1.6 -2.2 -3.5zM627.8 160.8l2.2 2.8 -2.2 1 -2.2 -2.7zM632.2 162.6l2.2 2.8 -2.2 1 -2.2 -2.8zM636.6 164.4l2.2 2.8 -2.2 1 -2.2 -2.8zM641.1 166.2l2.2 2.9 -2.2 .9 -2.3 -2.8zM618.9 158l2.2 2.7 -2.2 1.5 -2.2 -2.6zM625.6 161.9l2.2 2.7 -2.2 1.5 -2.2 -2.7z"/>
<path fill="#74ff8b" stroke="#74ff8b" stroke-width="0.55" stroke-linejoin="round" d="M470.8 165.4l2.2 1.1 -2.2 3.2 -2.3 -1zM475.2 163.2l2.2 1 -2.2 3.3 -2.2 -1zM543.7 100.5l2.3 2.1 -2.3 2.1 -2.2 -2.1zM534.9 109.6l2.2 2.2 -2.2 2.5 -2.2 -2.2zM499.5 155.6l2.2 1.7 -2.2 3.7 -2.2 -1.8zM503.9 153.7l2.2 1.6 -2.2 3.7 -2.2 -1.7zM481.8 162l2.2 1.5 -2.2 3.2 -2.2 -1.5zM488.4 162l2.3 1.6 -2.3 3 -2.2 -1.5zM492.9 160.5l2.2 1.7 -2.2 3 -2.2 -1.6zM548.2 100.4l2.2 2.3 -2.2 2.2 -2.2 -2.3zM552.6 100.5l2.2 2.2 -2.2 2.2 -2.2 -2.2zM559.2 102.7l2.2 2.2 -2.2 2.3 -2.2 -2.3zM528.3 121.7l2.2 2.3 -2.2 3.1 -2.3 -2.2zM526 130.2l2.3 2.1 -2.3 3.1 -2.2 -2.1zM523.8 138.4l2.2 2.1 -2.2 3 -2.2 -2zM515 146.2l2.2 1.9 -2.2 3.7 -2.2 -1.9zM519.4 144.5l2.2 2 -2.2 3.6 -2.2 -2zM576.9 113.9l2.2 3 -2.2 1.9 -2.2 -3zM579.1 116.9l2.2 2.9 -2.2 1.9 -2.2 -2.9zM568.1 106.9l2.2 3 -2.2 2.3 -2.2 -2.9zM570.3 109.9l2.2 2.9 -2.2 2.3 -2.2 -2.9zM588 129.7l2.2 3.4 -2.2 1.8 -2.2 -3.4zM590.2 133.1l2.2 3.5 -2.2 1.7 -2.2 -3.4zM592.4 136.6l2.2 3.4 -2.2 1.7 -2.2 -3.4zM596.8 143.5l2.2 3.5 -2.2 1.6 -2.2 -3.5zM601.2 145.4l2.3 3.5 -2.3 1.6 -2.2 -3.5zM603.5 148.9l2.2 3.5 -2.2 1.6 -2.3 -3.5zM607.9 150.8l2.2 3.4 -2.2 1.6 -2.2 -3.4zM610.1 154.2l2.2 3.5 -2.2 1.6 -2.2 -3.5zM614.5 156.1l2.2 3.5 -2.2 1.6 -2.2 -3.5zM630 163.6l2.2 2.8 -2.2 1 -2.2 -2.8zM634.4 165.4l2.2 2.8 -2.2 1 -2.2 -2.8zM638.8 167.2l2.3 2.8 -2.3 1 -2.2 -2.8zM616.7 159.6l2.2 2.6 -2.2 1.6 -2.2 -2.6zM621.1 160.7l2.3 2.7 -2.3 1.5 -2.2 -2.7zM623.4 163.4l2.2 2.7 -2.2 1.5 -2.3 -2.7zM627.8 164.6l2.2 2.8 -2.2 1.4 -2.2 -2.7z"/>
<path fill="#70ff8f" stroke="#70ff8f" stroke-width="0.55" stroke-linejoin="round" d="M473 166.5l2.2 1 -2.2 3.3 -2.2 -1.1zM477.4 164.2l2.2 1 -2.2 3.3 -2.2 -1zM541.5 102.6l2.2 2.1 -2.2 2.2 -2.2 -2.1zM539.3 104.8l2.2 2.1 -2.2 2.5 -2.2 -2.2zM537.1 107.2l2.2 2.2 -2.2 2.4 -2.2 -2.2zM484 163.5l2.2 1.6 -2.2 3.1 -2.2 -1.5zM497.3 159.2l2.2 1.8 -2.2 2.9 -2.2 -1.7zM554.8 102.7l2.2 2.2 -2.2 2.3 -2.2 -2.3zM561.4 104.9l2.2 2.2 -2.2 2.3 -2.2 -2.2zM532.7 116.8l2.2 2.3 -2.2 2.4 -2.2 -2.3zM530.5 119.2l2.2 2.3 -2.2 2.5 -2.2 -2.3zM528.3 127.1l2.2 2.2 -2.2 3 -2.3 -2.1zM528.3 132.3l2.2 2.2 -2.2 3 -2.3 -2.1zM526 135.4l2.3 2.1 -2.3 3 -2.2 -2.1zM526 140.5l2.3 2 -2.3 3 -2.2 -2zM523.8 143.5l2.2 2 -2.2 2.9 -2.2 -1.9zM508.4 151.6l2.2 1.9 -2.2 3.7 -2.3 -1.9zM512.8 149.9l2.2 1.9 -2.2 3.6 -2.2 -1.9zM517.2 148.1l2.2 2 -2.2 3.6 -2.2 -1.9zM521.6 146.5l2.2 1.9 -2.2 3.6 -2.2 -1.9zM581.3 119.8l2.3 3 -2.3 1.9 -2.2 -3zM572.5 112.8l2.2 3 -2.2 2.1 -2.2 -2.8zM574.7 115.8l2.2 3 -2.2 2 -2.2 -2.9zM583.6 122.8l2.2 3.4 -2.2 1.9 -2.3 -3.4zM585.8 126.2l2.2 3.5 -2.2 1.8 -2.2 -3.4zM590.2 138.3l2.2 3.4 -2.2 2 -2.2 -3.4zM592.4 141.7l2.2 3.4 -2.2 2 -2.2 -3.4zM599 147l2.2 3.5 -2.2 1.6 -2.2 -3.5zM605.7 152.4l2.2 3.4 -2.2 1.7 -2.2 -3.5zM612.3 157.7l2.2 3.5 -2.2 1.6 -2.2 -3.5zM632.2 166.4l2.2 2.8 -2.2 1 -2.2 -2.8zM636.6 168.2l2.2 2.8 -2.2 1 -2.2 -2.8zM618.9 162.2l2.2 2.7 -2.2 1.5 -2.2 -2.6zM625.6 166.1l2.2 2.7 -2.2 1.4 -2.2 -2.6zM630 167.4l2.2 2.8 -2.2 1.3 -2.2 -2.7z"/>
<path fill="#68ff97" stroke="#68ff97" stroke-width="0.55" stroke-linejoin="round" d="M475.2 167.5l2.2 1 -2.2 3.3 -2.2 -1zM481.8 166.7l2.2 1.5 -2.2 3.1 -2.2 -1.4zM488.4 166.6l2.3 1.6 -2.3 2.9 -2.2 -1.4zM492.9 165.2l2.2 1.6 -2.2 2.9 -2.2 -1.5zM499.5 161l2.2 1.7 -2.2 2.8 -2.2 -1.6zM543.7 104.7l2.3 2.4 -2.3 2.2 -2.2 -2.4zM548.2 104.9l2.2 2.3 -2.2 2.2 -2.2 -2.3zM552.6 104.9l2.2 2.3 -2.2 2.3 -2.2 -2.3zM559.2 107.2l2.2 2.2 -2.2 2.4 -2.2 -2.3zM539.3 109.4l2.2 2.3 -2.2 2.5 -2.2 -2.4zM534.9 119.1l2.2 2.3 -2.2 2.4 -2.2 -2.3zM532.7 126.2l2.2 2.3 -2.2 3 -2.2 -2.2zM530.5 134.5l2.2 2.1 -2.2 3 -2.2 -2.1zM528.3 142.5l2.2 2.1 -2.2 2.9 -2.3 -2zM510.6 153.5l2.2 1.9 -2.2 3.7 -2.2 -1.9zM515 151.8l2.2 1.9 -2.2 3.6 -2.2 -1.9zM519.4 150.1l2.2 1.9 -2.2 3.6 -2.2 -1.9zM523.8 148.4l2.2 2 -2.2 3.6 -2.2 -2zM570.3 115.1l2.2 2.8 -2.2 2.2 -2.2 -2.8zM572.5 117.9l2.2 2.9 -2.2 2.1 -2.2 -2.8zM574.7 120.8l2.2 2.9 -2.2 2 -2.2 -2.8zM576.9 123.7l2.2 2.9 -2.2 1.9 -2.2 -2.8zM579.1 126.6l2.2 3.4 -2.2 2 -2.2 -3.5zM603.5 154l2.2 3.5 -2.2 1.6 -2.3 -3.5zM605.7 157.5l2.2 3.5 -2.2 1.6 -2.2 -3.5zM610.1 159.3l2.2 3.5 -2.2 1.6 -2.2 -3.4zM596.8 148.6l2.2 3.5 -2.2 1.9 -2.2 -3.4zM612.3 162.8l2.2 2.6 -2.2 1.6 -2.2 -2.6zM618.9 166.4l2.2 2.6 -2.2 1.5 -2.2 -2.5zM625.6 170.2l2.2 2.7 -2.2 1.4 -2.2 -2.6zM630 171.5l2.2 2.7 -2.2 1.4 -2.2 -2.7zM550.4 212.1l2.2 1.2 -2.2 1.2 -2.2 -1.2zM554.8 212.1l2.2 1.3 -2.2 1.2 -2.2 -1.3zM559.2 212.2l2.2 1.3 -2.2 1.1 -2.2 -1.2z"/>
<path fill="#c3ff3c" stroke="#c3ff3c" stroke-width="0.55" stroke-linejoin="round" d="M517.2 105.2l2.2 2.3 -2.2 2.3 -2.2 -2.4zM515 107.4l2.2 2.4 -2.2 3.9 -2.2 -2.3z"/>
<path fill="#6cff93" stroke="#6cff93" stroke-width="0.55" stroke-linejoin="round" d="M501.7 157.3l2.2 1.7 -2.2 3.7 -2.2 -1.7zM479.6 165.2l2.2 1.5 -2.2 3.2 -2.2 -1.4zM486.2 165.1l2.2 1.5 -2.2 3.1 -2.2 -1.5zM490.7 163.6l2.2 1.6 -2.2 3 -2.3 -1.6zM495.1 162.2l2.2 1.7 -2.2 2.9 -2.2 -1.6zM546 102.6l2.2 2.3 -2.2 2.2 -2.3 -2.4zM550.4 102.7l2.2 2.2 -2.2 2.3 -2.2 -2.3zM557 104.9l2.2 2.3 -2.2 2.3 -2.2 -2.3zM563.6 107.1l2.3 2.2 -2.3 2.4 -2.2 -2.3zM537.1 111.8l2.2 2.4 -2.2 2.4 -2.2 -2.3zM534.9 114.3l2.2 2.3 -2.2 2.5 -2.2 -2.3zM532.7 121.5l2.2 2.3 -2.2 2.4 -2.2 -2.2zM530.5 124l2.2 2.2 -2.2 3.1 -2.2 -2.2zM530.5 129.3l2.2 2.2 -2.2 3 -2.2 -2.2zM528.3 137.5l2.2 2.1 -2.2 2.9 -2.3 -2zM526 145.5l2.3 2 -2.3 2.9 -2.2 -2zM506.1 155.3l2.3 1.9 -2.3 3.7 -2.2 -1.9zM565.9 109.3l2.2 2.9 -2.2 2.3 -2.3 -2.8zM568.1 112.2l2.2 2.9 -2.2 2.2 -2.2 -2.8zM576.9 118.8l2.2 2.9 -2.2 2 -2.2 -2.9zM579.1 121.7l2.2 3 -2.2 1.9 -2.2 -2.9zM581.3 124.7l2.3 3.4 -2.3 1.9 -2.2 -3.4zM583.6 128.1l2.2 3.4 -2.2 1.9 -2.3 -3.4zM585.8 131.5l2.2 3.4 -2.2 2 -2.2 -3.5zM588 134.9l2.2 3.4 -2.2 2 -2.2 -3.4zM601.2 150.5l2.3 3.5 -2.3 1.6 -2.2 -3.5zM607.9 155.8l2.2 3.5 -2.2 1.7 -2.2 -3.5zM594.6 145.1l2.2 3.5 -2.2 2 -2.2 -3.5zM634.4 169.2l2.2 2.8 -2.2 .9 -2.2 -2.7zM614.5 161.2l2.2 2.6 -2.2 1.6 -2.2 -2.6zM616.7 163.8l2.2 2.6 -2.2 1.6 -2.2 -2.6zM621.1 164.9l2.3 2.7 -2.3 1.4 -2.2 -2.6zM623.4 167.6l2.2 2.6 -2.2 1.5 -2.3 -2.7zM627.8 168.8l2.2 2.7 -2.2 1.4 -2.2 -2.7zM632.2 170.2l2.2 2.7 -2.2 1.3 -2.2 -2.7zM552.6 213.3l2.2 1.3 -2.2 1.2 -2.2 -1.3zM557 213.4l2.2 1.2 -2.2 1.2 -2.2 -1.2zM554.8 214.6l2.2 1.2 -2.2 1.2 -2.2 -1.2z"/>
<path fill="#64ff9b" stroke="#64ff9b" stroke-width="0.55" stroke-linejoin="round" d="M477.4 168.5l2.2 1.4 -2.2 3.2 -2.2 -1.3zM484 168.2l2.2 1.5 -2.2 3 -2.2 -1.4zM497.3 163.9l2.2 1.6 -2.2 2.9 -2.2 -1.6zM554.8 107.2l2.2 2.3 -2.2 2.3 -2.2 -2.3zM561.4 109.4l2.2 2.3 -2.2 2.4 -2.2 -2.3zM541.5 106.9l2.2 2.4 -2.2 2.4 -2.2 -2.3zM539.3 114.2l2.2 2.3 -2.2 2.5 -2.2 -2.4zM537.1 116.6l2.2 2.4 -2.2 2.4 -2.2 -2.3zM534.9 123.8l2.2 2.3 -2.2 2.4 -2.2 -2.3zM532.7 131.5l2.2 2.2 -2.2 2.9 -2.2 -2.1zM530.5 139.6l2.2 2.1 -2.2 2.9 -2.2 -2.1zM528.3 147.5l2.2 2 -2.2 2.9 -2.3 -2zM503.9 159l2.2 1.9 -2.2 3.6 -2.2 -1.8zM508.4 157.2l2.2 1.9 -2.2 3.6 -2.3 -1.8zM526 150.4l2.3 2 -2.3 3.5 -2.2 -1.9zM572.5 122.9l2.2 2.8 -2.2 2 -2.2 -2.7zM574.7 125.7l2.2 2.8 -2.2 2 -2.2 -2.8zM581.3 130l2.3 3.4 -2.3 2 -2.2 -3.4zM583.6 133.4l2.2 3.5 -2.2 2 -2.3 -3.5zM585.8 136.9l2.2 3.4 -2.2 2 -2.2 -3.4zM588 140.3l2.2 3.4 -2.2 2 -2.2 -3.4zM590.2 143.7l2.2 3.4 -2.2 2.1 -2.2 -3.5zM607.9 161l2.2 3.4 -2.2 1.7 -2.2 -3.5zM592.4 147.1l2.2 3.5 -2.2 2 -2.2 -3.4zM599 152.1l2.2 3.5 -2.2 1.9 -2.2 -3.5zM614.5 165.4l2.2 2.6 -2.2 1.5 -2.2 -2.5zM616.7 168l2.2 2.5 -2.2 1.5 -2.2 -2.5zM621.1 169l2.3 2.7 -2.3 1.4 -2.2 -2.6zM623.4 171.7l2.2 2.6 -2.2 1.3 -2.3 -2.5zM627.8 172.9l2.2 2.7 -2.2 1.3 -2.2 -2.6zM548.2 210.8l2.2 1.3 -2.2 1.2 -2.2 -1.2zM552.6 210.9l2.2 1.2 -2.2 1.2 -2.2 -1.2zM557 210.9l2.2 1.3 -2.2 1.2 -2.2 -1.3zM561.4 211l2.2 1.3 -2.2 1.2 -2.2 -1.3z"/>
<path fill="#60ff9f" stroke="#60ff9f" stroke-width="0.55" stroke-linejoin="round" d="M479.6 169.9l2.2 1.4 -2.2 3.1 -2.2 -1.3zM481.8 171.3l2.2 1.4 -2.2 3.1 -2.2 -1.4zM486.2 169.7l2.2 1.4 -2.2 3 -2.2 -1.4zM490.7 168.2l2.2 1.5 -2.2 2.9 -2.3 -1.5zM495.1 166.8l2.2 1.6 -2.2 2.8 -2.2 -1.5zM546 107.1l2.2 2.3 -2.2 2.3 -2.3 -2.4zM550.4 107.2l2.2 2.3 -2.2 2.3 -2.2 -2.4zM557 109.5l2.2 2.3 -2.2 2.3 -2.2 -2.3zM543.7 109.3l2.3 2.4 -2.3 2.4 -2.2 -2.4zM541.5 111.7l2.2 2.4 -2.2 2.4 -2.2 -2.3zM539.3 119l2.2 2.3 -2.2 2.4 -2.2 -2.3zM537.1 121.4l2.2 2.3 -2.2 2.4 -2.2 -2.3zM534.9 128.5l2.2 2.2 -2.2 3 -2.2 -2.2zM532.7 136.6l2.2 2.2 -2.2 2.9 -2.2 -2.1zM530.5 144.6l2.2 2.1 -2.2 2.8 -2.2 -2zM512.8 155.4l2.2 1.9 -2.2 3.7 -2.2 -1.9zM517.2 153.7l2.2 1.9 -2.2 3.6 -2.2 -1.9zM521.6 152l2.2 2 -2.2 3.6 -2.2 -2zM501.7 162.7l2.2 1.8 -2.2 2.8 -2.2 -1.8zM563.6 111.7l2.3 2.8 -2.3 2.3 -2.2 -2.7zM565.9 114.5l2.2 2.8 -2.2 2.2 -2.3 -2.7zM568.1 117.3l2.2 2.8 -2.2 2.2 -2.2 -2.8zM570.3 120.1l2.2 2.8 -2.2 2.1 -2.2 -2.7zM572.5 127.7l2.2 2.8 -2.2 1.9 -2.2 -2.7zM576.9 128.5l2.2 3.5 -2.2 1.9 -2.2 -3.4zM579.1 132l2.2 3.4 -2.2 2 -2.2 -3.5zM581.3 135.4l2.3 3.5 -2.3 2 -2.2 -3.5zM594.6 150.6l2.2 3.4 -2.2 2 -2.2 -3.4zM601.2 155.6l2.3 3.5 -2.3 1.9 -2.2 -3.5zM610.1 164.4l2.2 2.6 -2.2 1.5 -2.2 -2.4zM612.3 167l2.2 2.5 -2.2 1.5 -2.2 -2.5zM618.9 170.5l2.2 2.6 -2.2 1.4 -2.2 -2.5zM621.1 173.1l2.3 2.5 -2.3 1.4 -2.2 -2.5zM625.6 174.3l2.2 2.6 -2.2 1.3 -2.2 -2.6zM543.7 208.3l2.3 1.3 -2.3 1.2 -2.2 -1.2zM546 209.6l2.2 1.2 -2.2 1.3 -2.3 -1.3zM550.4 209.6l2.2 1.3 -2.2 1.2 -2.2 -1.3zM554.8 209.6l2.2 1.3 -2.2 1.2 -2.2 -1.2zM559.2 209.7l2.2 1.3 -2.2 1.2 -2.2 -1.3zM565.9 208.6l2.2 1.4 -2.2 1.1 -2.3 -1.3zM563.6 209.8l2.3 1.3 -2.3 1.2 -2.2 -1.3z"/>
<path fill="#5cffa3" stroke="#5cffa3" stroke-width="0.55" stroke-linejoin="round" d="M484 172.7l2.2 1.4 -2.2 3 -2.2 -1.3zM488.4 171.1l2.3 1.5 -2.3 2.9 -2.2 -1.4zM492.9 169.7l2.2 1.5 -2.2 2.9 -2.2 -1.5zM552.6 109.5l2.2 2.3 -2.2 2.3 -2.2 -2.3zM541.5 116.5l2.2 2.4 -2.2 2.4 -2.2 -2.3zM539.3 123.7l2.2 2.3 -2.2 2.4 -2.2 -2.3zM537.1 126.1l2.2 2.3 -2.2 2.3 -2.2 -2.2zM534.9 133.7l2.2 2.2 -2.2 2.9 -2.2 -2.2zM532.7 141.7l2.2 2.1 -2.2 2.9 -2.2 -2.1zM506.1 160.9l2.3 1.8 -2.3 3.7 -2.2 -1.9zM510.6 159.1l2.2 1.9 -2.2 3.6 -2.2 -1.9zM499.5 165.5l2.2 1.8 -2.2 2.7 -2.2 -1.6zM497.3 168.4l2.2 1.6 -2.2 2.8 -2.2 -1.6zM568.1 122.3l2.2 2.7 -2.2 2.1 -2.2 -2.7zM570.3 125l2.2 2.7 -2.2 2 -2.2 -2.6zM530.5 149.5l2.2 2.7 -2.2 2.8 -2.2 -2.6zM574.7 130.5l2.2 3.4 -2.2 2 -2.2 -3.5zM576.9 133.9l2.2 3.5 -2.2 2 -2.2 -3.5zM583.6 138.9l2.2 3.4 -2.2 2 -2.3 -3.4zM585.8 142.3l2.2 3.4 -2.2 2.1 -2.2 -3.5zM588 145.7l2.2 3.5 -2.2 2 -2.2 -3.4zM596.8 154l2.2 3.5 -2.2 2 -2.2 -3.5zM603.5 159.1l2.2 3.5 -2.2 1.8 -2.3 -3.4zM539.3 205.7l2.2 1.3 -2.2 1.3 -2.2 -1.3zM541.5 207l2.2 1.3 -2.2 1.3 -2.2 -1.3zM614.5 169.5l2.2 2.5 -2.2 1.5 -2.2 -2.5zM616.7 172l2.2 2.5 -2.2 1.4 -2.2 -2.4zM618.9 174.5l2.2 2.5 -2.2 1.4 -2.2 -2.5zM623.4 175.6l2.2 2.6 -2.2 1.3 -2.3 -2.5zM621.1 177l2.3 2.5 -2.3 1.4 -2.2 -2.5zM570.3 206.2l2.2 1.3 -2.2 1.2 -2.2 -1.3zM568.1 207.4l2.2 1.3 -2.2 1.3 -2.2 -1.4zM548.2 208.3l2.2 1.3 -2.2 1.2 -2.2 -1.2zM552.6 208.3l2.2 1.3 -2.2 1.3 -2.2 -1.3zM557 208.4l2.2 1.3 -2.2 1.2 -2.2 -1.3zM561.4 208.5l2.2 1.3 -2.2 1.2 -2.2 -1.3z"/>
<path fill="#58ffa7" stroke="#58ffa7" stroke-width="0.55" stroke-linejoin="round" d="M486.2 174.1l2.2 1.4 -2.2 3 -2.2 -1.4zM490.7 172.6l2.2 1.5 -2.2 2.8 -2.3 -1.4zM548.2 109.4l2.2 2.4 -2.2 2.3 -2.2 -2.4zM559.2 111.8l2.2 2.3 -2.2 2.4 -2.2 -2.4zM546 111.7l2.2 2.4 -2.2 2.4 -2.3 -2.4zM543.7 114.1l2.3 2.4 -2.3 2.4 -2.2 -2.4zM541.5 121.3l2.2 2.3 -2.2 2.4 -2.2 -2.3zM537.1 130.7l2.2 2.3 -2.2 2.9 -2.2 -2.2zM534.9 138.8l2.2 2.2 -2.2 2.8 -2.2 -2.1zM515 157.3l2.2 1.9 -2.2 3.6 -2.2 -1.8zM519.4 155.6l2.2 2 -2.2 3.5 -2.2 -1.9zM523.8 154l2.2 1.9 -2.2 3.6 -2.2 -1.9zM495.1 171.2l2.2 1.6 -2.2 2.7 -2.2 -1.4zM503.9 164.5l2.2 1.9 -2.2 2.6 -2.2 -1.7zM501.7 167.3l2.2 1.7 -2.2 2.6 -2.2 -1.6zM561.4 114.1l2.2 2.7 -2.2 2.3 -2.2 -2.6zM563.6 116.8l2.3 2.7 -2.3 2.3 -2.2 -2.7zM565.9 119.5l2.2 2.8 -2.2 2.1 -2.3 -2.6zM568.1 127.1l2.2 2.6 -2.2 2 -2.2 -2.5zM570.3 129.7l2.2 2.7 -2.2 1.9 -2.2 -2.6zM532.7 146.7l2.2 2.7 -2.2 2.8 -2.2 -2.7zM528.3 152.4l2.2 2.6 -2.2 3.4 -2.3 -2.5zM572.5 132.4l2.2 3.5 -2.2 1.9 -2.2 -3.5zM579.1 137.4l2.2 3.5 -2.2 1.9 -2.2 -3.4zM590.2 149.2l2.2 3.4 -2.2 2 -2.2 -3.4zM599 157.5l2.2 3.5 -2.2 1.9 -2.2 -3.4zM605.7 162.6l2.2 3.5 -2.2 1.8 -2.2 -3.5zM534.9 203.1l2.2 1.3 -2.2 1.3 -2.2 -1.3zM537.1 204.4l2.2 1.3 -2.2 1.3 -2.2 -1.3zM543.7 205.7l2.3 1.4 -2.3 1.2 -2.2 -1.3zM607.9 166.1l2.2 2.4 -2.2 1.8 -2.2 -2.4zM610.1 168.5l2.2 2.5 -2.2 1.6 -2.2 -2.3zM612.3 171l2.2 2.5 -2.2 1.5 -2.2 -2.4zM614.5 173.5l2.2 2.4 -2.2 1.5 -2.2 -2.4zM616.7 175.9l2.2 2.5 -2.2 1.4 -2.2 -2.4zM618.9 178.4l2.2 2.5 -2.2 1.2 -2.2 -2.3zM565.9 206.1l2.2 1.3 -2.2 1.2 -2.3 -1.3zM574.7 203.7l2.2 1.4 -2.2 1.2 -2.2 -1.4zM572.5 204.9l2.2 1.4 -2.2 1.2 -2.2 -1.3zM546 207.1l2.2 1.2 -2.2 1.3 -2.3 -1.3zM550.4 207.1l2.2 1.2 -2.2 1.3 -2.2 -1.3zM554.8 207.1l2.2 1.3 -2.2 1.2 -2.2 -1.3zM559.2 207.2l2.2 1.3 -2.2 1.2 -2.2 -1.3zM563.6 207.3l2.3 1.3 -2.3 1.2 -2.2 -1.3z"/>
<path fill="#54ffab" stroke="#54ffab" stroke-width="0.55" stroke-linejoin="round" d="M488.4 175.5l2.3 1.4 -2.3 2.9 -2.2 -1.3zM554.8 111.8l2.2 2.3 -2.2 2.4 -2.2 -2.4zM543.7 118.9l2.3 2.3 -2.3 2.4 -2.2 -2.3zM541.5 126l2.2 2.3 -2.2 2.3 -2.2 -2.2zM539.3 128.4l2.2 2.2 -2.2 2.4 -2.2 -2.3zM537.1 135.9l2.2 2.2 -2.2 2.9 -2.2 -2.2zM508.4 162.7l2.2 1.9 -2.2 3.6 -2.3 -1.8zM492.9 174.1l2.2 1.4 -2.2 2.8 -2.2 -1.4zM499.5 170l2.2 1.6 -2.2 2.7 -2.2 -1.5zM497.3 172.8l2.2 1.5 -2.2 2.6 -2.2 -1.4zM565.9 124.4l2.2 2.7 -2.2 2.1 -2.3 -2.6zM568.1 131.7l2.2 2.6 -2.2 1.9 -2.2 -2.5zM534.9 143.8l2.2 2.8 -2.2 2.8 -2.2 -2.7zM570.3 134.3l2.2 3.5 -2.2 2 -2.2 -3.6zM574.7 135.9l2.2 3.5 -2.2 1.9 -2.2 -3.5zM581.3 140.9l2.3 3.4 -2.3 2 -2.2 -3.5zM583.6 144.3l2.2 3.5 -2.2 2 -2.3 -3.5zM592.4 152.6l2.2 3.4 -2.2 2 -2.2 -3.4zM530.5 200.5l2.2 1.3 -2.2 1.4 -2.2 -1.3zM532.7 201.8l2.2 1.3 -2.2 1.3 -2.2 -1.2zM541.5 204.4l2.2 1.3 -2.2 1.3 -2.2 -1.3zM614.5 177.4l2.2 2.4 -2.2 1.3 -2.2 -2.3zM616.7 179.8l2.2 2.3 -2.2 1.3 -2.2 -2.3zM614.5 181.1l2.2 2.3 -2.2 1.2 -2.2 -2.1zM568.1 204.8l2.2 1.4 -2.2 1.2 -2.2 -1.3zM579.1 201.3l2.2 1.3 -2.2 1.3 -2.2 -1.4zM576.9 202.5l2.2 1.4 -2.2 1.2 -2.2 -1.4zM548.2 205.8l2.2 1.3 -2.2 1.2 -2.2 -1.2zM552.6 205.8l2.2 1.3 -2.2 1.2 -2.2 -1.2zM557 205.9l2.2 1.3 -2.2 1.2 -2.2 -1.3zM561.4 206l2.2 1.3 -2.2 1.2 -2.2 -1.3z"/>
<path fill="#50ffaf" stroke="#50ffaf" stroke-width="0.55" stroke-linejoin="round" d="M550.4 111.8l2.2 2.3 -2.2 2.4 -2.2 -2.4zM548.2 114.1l2.2 2.4 -2.2 2.3 -2.2 -2.3zM546 116.5l2.2 2.3 -2.2 2.4 -2.3 -2.3zM543.7 123.6l2.3 2.3 -2.3 2.4 -2.2 -2.3zM539.3 133l2.2 2.2 -2.2 2.9 -2.2 -2.2zM512.8 161l2.2 1.8 -2.2 3.6 -2.2 -1.8zM517.2 159.2l2.2 1.9 -2.2 3.6 -2.2 -1.9zM521.6 157.6l2.2 1.9 -2.2 3.5 -2.2 -1.9zM490.7 176.9l2.2 1.4 -2.2 2.7 -2.3 -1.2zM495.1 175.5l2.2 1.4 -2.2 2.7 -2.2 -1.3zM492.9 178.3l2.2 1.3 -2.2 2.6 -2.2 -1.2zM506.1 166.4l2.3 1.8 -2.3 2.5 -2.2 -1.7zM503.9 169l2.2 1.7 -2.2 2.6 -2.2 -1.7zM501.7 171.6l2.2 1.7 -2.2 2.5 -2.2 -1.5zM499.5 174.3l2.2 1.5 -2.2 2.5 -2.2 -1.4zM497.3 176.9l2.2 1.4 -2.2 2.6 -2.2 -1.3zM495.1 179.6l2.2 1.3 -2.2 2.5 -2.2 -1.2zM497.3 180.9l2.2 1.3 -2.2 2.4 -2.2 -1.2zM561.4 119.1l2.2 2.7 -2.2 2.2 -2.2 -2.6zM563.6 121.8l2.3 2.6 -2.3 2.2 -2.2 -2.6zM565.9 129.2l2.2 2.5 -2.2 2 -2.3 -2.5zM537.1 141l2.2 2.7 -2.2 2.9 -2.2 -2.8zM526 155.9l2.3 2.5 -2.3 3.4 -2.2 -2.3zM572.5 137.8l2.2 3.5 -2.2 2 -2.2 -3.5zM576.9 139.4l2.2 3.4 -2.2 2 -2.2 -3.5zM585.8 147.8l2.2 3.4 -2.2 2.1 -2.2 -3.5zM526 198l2.3 1.2 -2.3 1.5 -2.2 -1.1zM528.3 199.2l2.2 1.3 -2.2 1.4 -2.3 -1.2zM594.6 156l2.2 3.5 -2.2 1.9 -2.2 -3.4zM601.2 161l2.3 3.4 -2.3 1.9 -2.2 -3.4zM537.1 201.7l2.2 1.4 -2.2 1.3 -2.2 -1.3zM539.3 203.1l2.2 1.3 -2.2 1.3 -2.2 -1.3zM546 204.4l2.2 1.4 -2.2 1.3 -2.3 -1.4zM610.1 172.6l2.2 2.4 -2.2 1.6 -2.2 -2.3zM612.3 175l2.2 2.4 -2.2 1.4 -2.2 -2.2zM612.3 178.8l2.2 2.3 -2.2 1.4 -2.2 -2.2zM612.3 182.5l2.2 2.1 -2.2 1.3 -2.2 -2.1zM581.3 200.1l2.3 1.5 -2.3 1 -2.2 -1.3zM563.6 204.7l2.3 1.4 -2.3 1.2 -2.2 -1.3zM570.3 203.6l2.2 1.3 -2.2 1.3 -2.2 -1.4z"/>
<path fill="#48ffb7" stroke="#48ffb7" stroke-width="0.55" stroke-linejoin="round" d="M552.6 114.1l2.2 2.4 -2.2 2.4 -2.2 -2.4zM550.4 116.5l2.2 2.4 -2.2 2.3 -2.2 -2.4zM548.2 118.8l2.2 2.4 -2.2 2.4 -2.2 -2.4zM546 125.9l2.2 2.3 -2.2 2.4 -2.3 -2.3zM510.6 164.6l2.2 1.8 -2.2 3.7 -2.2 -1.9zM515 162.8l2.2 1.9 -2.2 3.6 -2.2 -1.9zM519.4 161.1l2.2 1.9 -2.2 3.6 -2.2 -1.9zM506.1 170.7l2.3 1.8 -2.3 2.4 -2.2 -1.6zM503.9 173.3l2.2 1.6 -2.2 2.4 -2.2 -1.5zM503.9 177.3l2.2 1.5 -2.2 2.4 -2.2 -1.4zM501.7 179.8l2.2 1.4 -2.2 2.3 -2.2 -1.3zM503.9 181.2l2.2 1.4 -2.2 2.2 -2.2 -1.3zM561.4 124l2.2 2.6 -2.2 2.1 -2.2 -2.5zM561.4 128.7l2.2 2.5 -2.2 2.6 -2.2 -2.6zM541.5 135.2l2.2 2.9 -2.2 2.8 -2.2 -2.8zM534.9 149.4l2.2 2.7 -2.2 2.8 -2.2 -2.7zM523.8 159.5l2.2 2.3 -2.2 3.3 -2.2 -2.1zM530.5 155l2.2 2.7 -2.2 3.2 -2.2 -2.5zM506.1 186.1l2.3 1.4 -2.3 2.2 -2.2 -1.4zM508.4 187.5l2.2 1.4 -2.2 2.1 -2.3 -1.3zM510.6 188.9l2.2 1.3 -2.2 2.1 -2.2 -1.3zM574.7 141.3l2.2 3.5 -2.2 2 -2.2 -3.5zM581.3 146.3l2.3 3.5 -2.3 2.1 -2.2 -3.5zM519.4 194.2l2.2 1.2 -2.2 1.9 -2.2 -1.2zM521.6 195.4l2.2 1.3 -2.2 1.7 -2.2 -1.1zM530.5 197.7l2.2 1.4 -2.2 1.4 -2.2 -1.3zM590.2 154.6l2.2 3.4 -2.2 2 -2.2 -3.3zM532.7 199.1l2.2 1.3 -2.2 1.4 -2.2 -1.3zM541.5 201.7l2.2 1.4 -2.2 1.3 -2.2 -1.3zM548.2 203.1l2.2 1.4 -2.2 1.3 -2.2 -1.4zM607.9 174.3l2.2 2.3 -2.2 1.5 -2.2 -2.2zM607.9 181.7l2.2 2.1 -2.2 1.4 -2.2 -2zM605.7 186.5l2.2 1.9 -2.2 1.3 -2.2 -1.8zM603.5 187.9l2.2 1.8 -2.2 1.3 -2.3 -1.8zM588 196.8l2.2 1.5 -2.2 1.1 -2.2 -1.5zM585.8 197.9l2.2 1.5 -2.2 1.1 -2.2 -1.5zM561.4 203.4l2.2 1.3 -2.2 1.3 -2.2 -1.4zM568.1 202.2l2.2 1.4 -2.2 1.2 -2.2 -1.3zM576.9 199.9l2.2 1.4 -2.2 1.2 -2.2 -1.4zM552.6 203.2l2.2 1.3 -2.2 1.3 -2.2 -1.3zM557 203.3l2.2 1.3 -2.2 1.3 -2.2 -1.4z"/>
<path fill="#4cffb3" stroke="#4cffb3" stroke-width="0.55" stroke-linejoin="round" d="M557 114.1l2.2 2.4 -2.2 2.4 -2.2 -2.4zM546 121.2l2.2 2.4 -2.2 2.3 -2.3 -2.3zM543.7 128.3l2.3 2.3 -2.3 2.3 -2.2 -2.3zM541.5 130.6l2.2 2.3 -2.2 2.3 -2.2 -2.2zM501.7 175.8l2.2 1.5 -2.2 2.5 -2.2 -1.5zM499.5 178.3l2.2 1.5 -2.2 2.4 -2.2 -1.3zM499.5 182.2l2.2 1.3 -2.2 2.3 -2.2 -1.2zM501.7 183.5l2.2 1.3 -2.2 2.2 -2.2 -1.2zM559.2 116.5l2.2 2.6 -2.2 2.3 -2.2 -2.5zM563.6 126.6l2.3 2.6 -2.3 2 -2.2 -2.5zM563.6 131.2l2.3 2.5 -2.3 2.7 -2.2 -2.6zM565.9 133.7l2.2 2.5 -2.2 2.7 -2.3 -2.5zM539.3 138.1l2.2 2.8 -2.2 2.8 -2.2 -2.7zM532.7 152.2l2.2 2.7 -2.2 2.8 -2.2 -2.7zM503.9 184.8l2.2 1.3 -2.2 2.2 -2.2 -1.3zM579.1 142.8l2.2 3.5 -2.2 2.1 -2.2 -3.6zM568.1 136.2l2.2 3.6 -2.2 2.6 -2.2 -3.5zM523.8 196.7l2.2 1.3 -2.2 1.6 -2.2 -1.2zM588 151.2l2.2 3.4 -2.2 2.1 -2.2 -3.4zM596.8 159.5l2.2 3.4 -2.2 1.9 -2.2 -3.4zM603.5 164.4l2.2 3.5 -2.2 1.9 -2.3 -3.5zM534.9 200.4l2.2 1.3 -2.2 1.4 -2.2 -1.3zM543.7 203.1l2.3 1.3 -2.3 1.3 -2.2 -1.3zM605.7 167.9l2.2 2.4 -2.2 1.7 -2.2 -2.2zM607.9 170.3l2.2 2.3 -2.2 1.7 -2.2 -2.3zM610.1 176.6l2.2 2.2 -2.2 1.5 -2.2 -2.2zM610.1 180.3l2.2 2.2 -2.2 1.3 -2.2 -2.1zM610.1 183.8l2.2 2.1 -2.2 1.3 -2.2 -2zM607.9 185.2l2.2 2 -2.2 1.2 -2.2 -1.9zM583.6 199l2.2 1.5 -2.2 1.1 -2.3 -1.5zM565.9 203.5l2.2 1.3 -2.2 1.3 -2.3 -1.4zM574.7 201.1l2.2 1.4 -2.2 1.2 -2.2 -1.4zM572.5 202.3l2.2 1.4 -2.2 1.2 -2.2 -1.3zM550.4 204.5l2.2 1.3 -2.2 1.3 -2.2 -1.3zM554.8 204.5l2.2 1.4 -2.2 1.2 -2.2 -1.3zM559.2 204.6l2.2 1.4 -2.2 1.2 -2.2 -1.3z"/>
<path fill="#40ffbf" stroke="#40ffbf" stroke-width="0.55" stroke-linejoin="round" d="M554.8 116.5l2.2 2.4 -2.2 2.4 -2.2 -2.4zM550.4 121.2l2.2 2.4 -2.2 2.3 -2.2 -2.3zM508.4 172.5l2.2 1.7 -2.2 2.3 -2.3 -1.6zM506.1 178.8l2.3 1.6 -2.3 2.2 -2.2 -1.4zM557 118.9l2.2 2.5 -2.2 2.3 -2.2 -2.4zM550.4 125.9l2.2 2.6 -2.2 2.4 -2.2 -2.7zM548.2 128.2l2.2 2.7 -2.2 2.4 -2.2 -2.7zM557 123.7l2.2 2.5 -2.2 2.5 -2.2 -2.6zM554.8 126.1l2.2 2.6 -2.2 2.4 -2.2 -2.6zM557 128.7l2.2 2.5 -2.2 2.5 -2.2 -2.6zM559.2 131.2l2.2 2.6 -2.2 2.6 -2.2 -2.7zM561.4 133.8l2.2 2.6 -2.2 2.6 -2.2 -2.6zM541.5 140.9l2.2 2.8 -2.2 2.8 -2.2 -2.8zM521.6 163l2.2 2.1 -2.2 3.4 -2.2 -1.9zM508.4 180.4l2.2 1.4 -2.2 2.2 -2.3 -1.4zM512.8 186.7l2.2 1.4 -2.2 2.1 -2.2 -1.3zM515 188.1l2.2 1.4 -2.2 2.1 -2.2 -1.4zM565.9 138.9l2.2 3.5 -2.2 2.6 -2.3 -3.4zM572.5 143.3l2.2 3.5 -2.2 2.5 -2.2 -3.5zM519.4 190.9l2.2 1.3 -2.2 2 -2.2 -1.3zM521.6 192.2l2.2 1.4 -2.2 1.8 -2.2 -1.2zM523.8 193.6l2.2 1.4 -2.2 1.7 -2.2 -1.3zM585.8 153.3l2.2 3.4 -2.2 2 -2.2 -3.3zM592.4 158l2.2 3.4 -2.2 2 -2.2 -3.4zM601.2 166.3l2.3 3.5 -2.3 1.8 -2.2 -3.4zM537.1 199l2.2 1.4 -2.2 1.3 -2.2 -1.3zM543.7 200.4l2.3 1.4 -2.3 1.3 -2.2 -1.4zM550.4 201.8l2.2 1.4 -2.2 1.3 -2.2 -1.4zM603.5 169.8l2.2 2.2 -2.2 1.8 -2.3 -2.2zM605.7 175.9l2.2 2.2 -2.2 1.6 -2.2 -2.1zM605.7 179.7l2.2 2 -2.2 1.5 -2.2 -2zM605.7 183.2l2.2 2 -2.2 1.3 -2.2 -1.8zM603.5 184.7l2.2 1.8 -2.2 1.4 -2.3 -1.9zM596.8 191.9l2.2 1.7 -2.2 1.2 -2.2 -1.6zM581.3 197.6l2.3 1.4 -2.3 1.1 -2.2 -1.4zM592.4 194.6l2.2 1.5 -2.2 1.1 -2.2 -1.5zM559.2 202l2.2 1.4 -2.2 1.2 -2.2 -1.3zM565.9 200.9l2.2 1.3 -2.2 1.3 -2.3 -1.4zM572.5 199.7l2.2 1.4 -2.2 1.2 -2.2 -1.3zM554.8 202l2.2 1.3 -2.2 1.2 -2.2 -1.3z"/>
<path fill="#3cffc3" stroke="#3cffc3" stroke-width="0.55" stroke-linejoin="round" d="M552.6 118.9l2.2 2.4 -2.2 2.3 -2.2 -2.4zM512.8 166.4l2.2 1.9 -2.2 3.6 -2.2 -1.8zM517.2 164.7l2.2 1.9 -2.2 3.6 -2.2 -1.9zM510.6 170.1l2.2 1.8 -2.2 2.3 -2.2 -1.7zM508.4 176.5l2.2 1.7 -2.2 2.2 -2.3 -1.6zM554.8 121.3l2.2 2.4 -2.2 2.4 -2.2 -2.5zM552.6 123.6l2.2 2.5 -2.2 2.4 -2.2 -2.6zM552.6 128.5l2.2 2.6 -2.2 2.5 -2.2 -2.7zM550.4 130.9l2.2 2.7 -2.2 2.4 -2.2 -2.7zM548.2 133.3l2.2 2.7 -2.2 2.5 -2.2 -2.8zM546 135.7l2.2 2.8 -2.2 2.4 -2.3 -2.8zM554.8 131.1l2.2 2.6 -2.2 2.5 -2.2 -2.6zM557 133.7l2.2 2.7 -2.2 2.5 -2.2 -2.7zM543.7 138.1l2.3 2.8 -2.3 2.8 -2.2 -2.8zM534.9 154.9l2.2 2.7 -2.2 2.8 -2.2 -2.7zM526 161.8l2.3 2.3 -2.3 3.1 -2.2 -2.1zM510.6 181.8l2.2 1.4 -2.2 2.1 -2.2 -1.3zM512.8 183.2l2.2 1.4 -2.2 2.1 -2.2 -1.4zM515 184.6l2.2 1.4 -2.2 2.1 -2.2 -1.4zM517.2 189.5l2.2 1.4 -2.2 2 -2.2 -1.3zM579.1 148.4l2.2 3.5 -2.2 2 -2.2 -3.5zM530.5 194.7l2.2 1.5 -2.2 1.5 -2.2 -1.4zM532.7 196.2l2.2 1.5 -2.2 1.4 -2.2 -1.4zM594.6 161.4l2.2 3.4 -2.2 1.9 -2.2 -3.3zM534.9 197.7l2.2 1.3 -2.2 1.4 -2.2 -1.3zM541.5 199l2.2 1.4 -2.2 1.3 -2.2 -1.3zM548.2 200.5l2.2 1.3 -2.2 1.3 -2.2 -1.3zM601.2 186l2.3 1.9 -2.3 1.3 -2.2 -1.8zM594.6 193.2l2.2 1.6 -2.2 1.3 -2.2 -1.5zM583.6 196.4l2.2 1.5 -2.2 1.1 -2.3 -1.4zM561.4 200.8l2.2 1.3 -2.2 1.3 -2.2 -1.4zM568.1 199.6l2.2 1.4 -2.2 1.2 -2.2 -1.3zM574.7 198.5l2.2 1.4 -2.2 1.2 -2.2 -1.4z"/>
<path fill="#44ffbb" stroke="#44ffbb" stroke-width="0.55" stroke-linejoin="round" d="M548.2 123.6l2.2 2.3 -2.2 2.3 -2.2 -2.3zM508.4 168.2l2.2 1.9 -2.2 2.4 -2.3 -1.8zM506.1 174.9l2.3 1.6 -2.3 2.3 -2.2 -1.5zM559.2 121.4l2.2 2.6 -2.2 2.2 -2.2 -2.5zM546 130.6l2.2 2.7 -2.2 2.4 -2.3 -2.8zM543.7 132.9l2.3 2.8 -2.3 2.4 -2.2 -2.9zM559.2 126.2l2.2 2.5 -2.2 2.5 -2.2 -2.5zM563.6 136.4l2.3 2.5 -2.3 2.7 -2.2 -2.6zM539.3 143.7l2.2 2.8 -2.2 2.8 -2.2 -2.7zM537.1 146.6l2.2 2.7 -2.2 2.8 -2.2 -2.7zM528.3 158.4l2.2 2.5 -2.2 3.2 -2.3 -2.3zM506.1 182.6l2.3 1.4 -2.3 2.1 -2.2 -1.3zM508.4 184l2.2 1.3 -2.2 2.2 -2.3 -1.4zM510.6 185.3l2.2 1.4 -2.2 2.2 -2.2 -1.4zM512.8 190.2l2.2 1.4 -2.2 2 -2.2 -1.3zM515 191.6l2.2 1.3 -2.2 2.1 -2.2 -1.4zM576.9 144.8l2.2 3.6 -2.2 2 -2.2 -3.6zM583.6 149.8l2.2 3.5 -2.2 2.1 -2.3 -3.5zM570.3 139.8l2.2 3.5 -2.2 2.5 -2.2 -3.4zM517.2 192.9l2.2 1.3 -2.2 1.9 -2.2 -1.1zM526 195l2.3 1.3 -2.3 1.7 -2.2 -1.3zM528.3 196.3l2.2 1.4 -2.2 1.5 -2.3 -1.2zM599 162.9l2.2 3.4 -2.2 1.9 -2.2 -3.4zM539.3 200.4l2.2 1.3 -2.2 1.4 -2.2 -1.4zM546 201.8l2.2 1.3 -2.2 1.3 -2.3 -1.3zM605.7 172l2.2 2.3 -2.2 1.6 -2.2 -2.1zM607.9 178.1l2.2 2.2 -2.2 1.4 -2.2 -2zM601.2 189.2l2.3 1.8 -2.3 1.3 -2.2 -1.7zM599 190.6l2.2 1.7 -2.2 1.3 -2.2 -1.7zM579.1 198.7l2.2 1.4 -2.2 1.2 -2.2 -1.4zM590.2 195.7l2.2 1.5 -2.2 1.1 -2.2 -1.5zM563.6 202.1l2.3 1.4 -2.3 1.2 -2.2 -1.3zM570.3 201l2.2 1.3 -2.2 1.3 -2.2 -1.4z"/>
<path fill="#30ffcf" stroke="#30ffcf" stroke-width="0.55" stroke-linejoin="round" d="M515 168.3l2.2 1.9 -2.2 3.5 -2.2 -1.8zM512.8 171.9l2.2 1.8 -2.2 2.2 -2.2 -1.7zM548.2 138.5l2.2 2.8 -2.2 2.5 -2.2 -2.9zM552.6 138.8l2.2 2.7 -2.2 2.5 -2.2 -2.7zM557 138.9l2.2 2.7 -2.2 2.6 -2.2 -2.7zM546 140.9l2.2 2.9 -2.2 2.7 -2.3 -2.8zM521.6 168.5l2.2 1.9 -2.2 3.1 -2.2 -1.6zM526 167.2l2.3 2.1 -2.3 3 -2.2 -1.9zM512.8 175.9l2.2 1.5 -2.2 2.2 -2.2 -1.4zM515 177.4l2.2 1.5 -2.2 2.1 -2.2 -1.4zM517.2 178.9l2.2 1.4 -2.2 2.2 -2.2 -1.5zM519.4 180.3l2.2 1.5 -2.2 2.1 -2.2 -1.4zM521.6 181.8l2.2 1.5 -2.2 2 -2.2 -1.4zM570.3 145.8l2.2 3.5 -2.2 2.4 -2.2 -3.4zM576.9 150.4l2.2 3.5 -2.2 2.3 -2.2 -3.5zM526 188.4l2.3 1.5 -2.3 1.9 -2.2 -1.5zM528.3 189.9l2.2 1.6 -2.2 1.8 -2.3 -1.5zM530.5 191.5l2.2 1.6 -2.2 1.6 -2.2 -1.4zM532.7 193.1l2.2 1.6 -2.2 1.5 -2.2 -1.5zM534.9 194.7l2.2 1.6 -2.2 1.4 -2.2 -1.5zM583.6 155.4l2.2 3.3 -2.2 2 -2.3 -3.3zM592.4 163.4l2.2 3.3 -2.2 2 -2.2 -3.4zM537.1 196.3l2.2 1.4 -2.2 1.3 -2.2 -1.3zM543.7 197.7l2.3 1.4 -2.3 1.3 -2.2 -1.4zM601.2 175.5l2.3 2.1 -2.3 1.6 -2.2 -1.9zM601.2 179.2l2.3 2 -2.3 1.6 -2.2 -1.9zM599 184.2l2.2 1.8 -2.2 1.4 -2.2 -1.7zM592.4 191.6l2.2 1.6 -2.2 1.4 -2.2 -1.6zM581.3 195l2.3 1.4 -2.3 1.2 -2.2 -1.5zM590.2 193l2.2 1.6 -2.2 1.1 -2.2 -1.5zM565.9 198.2l2.2 1.4 -2.2 1.3 -2.3 -1.4zM572.5 197.1l2.2 1.4 -2.2 1.2 -2.2 -1.4z"/>
<path fill="#34ffcb" stroke="#34ffcb" stroke-width="0.55" stroke-linejoin="round" d="M510.6 174.2l2.2 1.7 -2.2 2.3 -2.2 -1.7zM550.4 136l2.2 2.8 -2.2 2.5 -2.2 -2.8zM554.8 136.2l2.2 2.7 -2.2 2.6 -2.2 -2.7zM543.7 143.7l2.3 2.8 -2.3 2.8 -2.2 -2.8zM541.5 146.5l2.2 2.8 -2.2 2.8 -2.2 -2.8zM519.4 166.6l2.2 1.9 -2.2 3.4 -2.2 -1.7zM530.5 160.9l2.2 2.5 -2.2 2.9 -2.2 -2.2zM528.3 164.1l2.2 2.2 -2.2 3 -2.3 -2.1zM517.2 182.5l2.2 1.4 -2.2 2.1 -2.2 -1.4zM519.4 183.9l2.2 1.4 -2.2 2.1 -2.2 -1.4zM521.6 185.3l2.2 1.5 -2.2 2 -2.2 -1.4zM581.3 151.9l2.3 3.5 -2.3 2 -2.2 -3.5zM563.6 141.6l2.3 3.4 -2.3 2.6 -2.2 -3.3zM523.8 186.8l2.2 1.6 -2.2 1.9 -2.2 -1.5zM590.2 160l2.2 3.4 -2.2 1.9 -2.2 -3.3zM599 168.2l2.2 3.4 -2.2 1.8 -2.2 -3.3zM554.8 199.2l2.2 1.5 -2.2 1.3 -2.2 -1.4zM539.3 197.7l2.2 1.3 -2.2 1.4 -2.2 -1.4zM546 199.1l2.2 1.4 -2.2 1.3 -2.3 -1.4zM550.4 199.1l2.2 1.5 -2.2 1.2 -2.2 -1.3zM601.2 171.6l2.3 2.2 -2.3 1.7 -2.2 -2.1zM601.2 182.8l2.3 1.9 -2.3 1.3 -2.2 -1.8zM596.8 188.8l2.2 1.8 -2.2 1.3 -2.2 -1.7zM594.6 190.2l2.2 1.7 -2.2 1.3 -2.2 -1.6zM579.1 196.1l2.2 1.5 -2.2 1.1 -2.2 -1.4zM588 194.2l2.2 1.5 -2.2 1.1 -2.2 -1.5zM559.2 199.4l2.2 1.4 -2.2 1.2 -2.2 -1.3zM563.6 199.5l2.3 1.4 -2.3 1.2 -2.2 -1.3zM570.3 198.3l2.2 1.4 -2.2 1.3 -2.2 -1.4z"/>
<path fill="#38ffc7" stroke="#38ffc7" stroke-width="0.55" stroke-linejoin="round" d="M552.6 133.6l2.2 2.6 -2.2 2.6 -2.2 -2.8zM559.2 136.4l2.2 2.6 -2.2 2.6 -2.2 -2.7zM561.4 139l2.2 2.6 -2.2 2.7 -2.2 -2.7zM539.3 149.3l2.2 2.8 -2.2 2.8 -2.2 -2.8zM537.1 152.1l2.2 2.8 -2.2 2.7 -2.2 -2.7zM523.8 165.1l2.2 2.1 -2.2 3.2 -2.2 -1.9zM532.7 157.7l2.2 2.7 -2.2 3 -2.2 -2.5zM510.6 178.2l2.2 1.4 -2.2 2.2 -2.2 -1.4zM512.8 179.6l2.2 1.4 -2.2 2.2 -2.2 -1.4zM515 181l2.2 1.5 -2.2 2.1 -2.2 -1.4zM517.2 186l2.2 1.4 -2.2 2.1 -2.2 -1.4zM519.4 187.4l2.2 1.4 -2.2 2.1 -2.2 -1.4zM568.1 142.4l2.2 3.4 -2.2 2.5 -2.2 -3.3zM574.7 146.8l2.2 3.6 -2.2 2.3 -2.2 -3.4zM521.6 188.8l2.2 1.5 -2.2 1.9 -2.2 -1.3zM523.8 190.3l2.2 1.5 -2.2 1.8 -2.2 -1.4zM526 191.8l2.3 1.5 -2.3 1.7 -2.2 -1.4zM528.3 193.3l2.2 1.4 -2.2 1.6 -2.3 -1.3zM588 156.7l2.2 3.3 -2.2 2 -2.2 -3.3zM596.8 164.8l2.2 3.4 -2.2 1.9 -2.2 -3.4zM552.6 200.6l2.2 1.4 -2.2 1.2 -2.2 -1.4zM603.5 173.8l2.2 2.1 -2.2 1.7 -2.3 -2.1zM603.5 177.6l2.2 2.1 -2.2 1.5 -2.3 -2zM603.5 181.2l2.2 2 -2.2 1.5 -2.3 -1.9zM599 187.4l2.2 1.8 -2.2 1.4 -2.2 -1.8zM576.9 197.3l2.2 1.4 -2.2 1.2 -2.2 -1.4zM585.8 195.3l2.2 1.5 -2.2 1.1 -2.2 -1.5zM557 200.7l2.2 1.3 -2.2 1.3 -2.2 -1.3z"/>
<path fill="#28ffd7" stroke="#28ffd7" stroke-width="0.55" stroke-linejoin="round" d="M550.4 141.3l2.2 2.7 -2.2 2.6 -2.2 -2.8zM554.8 141.5l2.2 2.7 -2.2 2.6 -2.2 -2.8zM541.5 152.1l2.2 2.7 -2.2 2.8 -2.2 -2.7zM539.3 154.9l2.2 2.7 -2.2 2.7 -2.2 -2.7zM537.1 157.6l2.2 2.7 -2.2 2.8 -2.2 -2.7zM519.4 171.9l2.2 1.6 -2.2 3.2 -2.2 -1.5zM521.6 173.5l2.2 1.7 -2.2 3 -2.2 -1.5zM534.9 160.4l2.2 2.7 -2.2 2.8 -2.2 -2.5zM532.7 163.4l2.2 2.5 -2.2 2.7 -2.2 -2.3zM530.5 166.3l2.2 2.3 -2.2 2.8 -2.2 -2.1zM528.3 169.3l2.2 2.1 -2.2 2.8 -2.3 -1.9zM515 173.7l2.2 1.5 -2.2 2.2 -2.2 -1.5zM517.2 175.2l2.2 1.5 -2.2 2.2 -2.2 -1.5zM519.4 176.7l2.2 1.5 -2.2 2.1 -2.2 -1.4zM521.6 178.2l2.2 1.5 -2.2 2.1 -2.2 -1.5zM523.8 179.7l2.2 1.5 -2.2 2.1 -2.2 -1.5zM526 181.2l2.3 1.5 -2.3 2 -2.2 -1.4zM579.1 153.9l2.2 3.5 -2.2 2.3 -2.2 -3.5zM528.3 186.4l2.2 1.7 -2.2 1.8 -2.3 -1.5zM530.5 188.1l2.2 1.7 -2.2 1.7 -2.2 -1.6zM594.6 166.7l2.2 3.4 -2.2 1.9 -2.2 -3.3zM541.5 196.3l2.2 1.4 -2.2 1.3 -2.2 -1.3zM599 173.4l2.2 2.1 -2.2 1.8 -2.2 -2zM599 180.9l2.2 1.9 -2.2 1.4 -2.2 -1.8zM594.6 187.1l2.2 1.7 -2.2 1.4 -2.2 -1.6zM568.1 197l2.2 1.3 -2.2 1.3 -2.2 -1.4z"/>
<path fill="#1cffe3" stroke="#1cffe3" stroke-width="0.55" stroke-linejoin="round" d="M552.6 144l2.2 2.8 -2.2 2.6 -2.2 -2.8zM532.7 168.6l2.2 2.3 -2.2 2.6 -2.2 -2.1zM530.5 171.4l2.2 2.1 -2.2 2.5 -2.2 -1.8zM530.5 176l2.2 1.9 -2.2 2.4 -2.2 -1.7zM570.3 151.7l2.2 3.4 -2.2 2.4 -2.2 -3.3zM576.9 156.2l2.2 3.5 -2.2 2.2 -2.2 -3.4zM534.9 188.1l2.2 1.8 -2.2 1.6 -2.2 -1.7zM592.4 168.7l2.2 3.3 -2.2 1.8 -2.2 -3.2zM583.6 160.7l2.2 3.3 -2.2 2 -2.3 -3.2zM552.6 194.7l2.2 1.6 -2.2 1.4 -2.2 -1.5zM543.7 194.9l2.3 1.4 -2.3 1.4 -2.2 -1.4zM596.8 179l2.2 1.9 -2.2 1.5 -2.2 -1.8zM594.6 183.9l2.2 1.8 -2.2 1.4 -2.2 -1.7zM572.5 194.5l2.2 1.4 -2.2 1.2 -2.2 -1.4zM581.3 192.3l2.3 1.5 -2.3 1.2 -2.2 -1.5zM565.9 195.6l2.2 1.4 -2.2 1.2 -2.3 -1.3z"/>
<path fill="#2cffd3" stroke="#2cffd3" stroke-width="0.55" stroke-linejoin="round" d="M559.2 141.6l2.2 2.7 -2.2 2.6 -2.2 -2.7zM517.2 170.2l2.2 1.7 -2.2 3.3 -2.2 -1.5zM523.8 170.4l2.2 1.9 -2.2 2.9 -2.2 -1.7zM523.8 183.3l2.2 1.4 -2.2 2.1 -2.2 -1.5zM565.9 145l2.2 3.3 -2.2 2.6 -2.3 -3.3zM572.5 149.3l2.2 3.4 -2.2 2.4 -2.2 -3.4zM526 184.7l2.3 1.7 -2.3 2 -2.2 -1.6zM585.8 158.7l2.2 3.3 -2.2 2 -2.2 -3.3zM552.6 197.7l2.2 1.5 -2.2 1.4 -2.2 -1.5zM557 197.8l2.2 1.6 -2.2 1.3 -2.2 -1.5zM548.2 197.7l2.2 1.4 -2.2 1.4 -2.2 -1.4zM596.8 185.7l2.2 1.7 -2.2 1.4 -2.2 -1.7zM574.7 195.9l2.2 1.4 -2.2 1.2 -2.2 -1.4zM583.6 193.8l2.2 1.5 -2.2 1.1 -2.3 -1.4zM561.4 198.1l2.2 1.4 -2.2 1.3 -2.2 -1.4z"/>
<path fill="#20ffdf" stroke="#20ffdf" stroke-width="0.55" stroke-linejoin="round" d="M557 144.2l2.2 2.7 -2.2 2.7 -2.2 -2.8zM528.3 174.2l2.2 1.8 -2.2 2.6 -2.3 -1.7zM528.3 178.6l2.2 1.7 -2.2 2.4 -2.3 -1.5zM563.6 147.6l2.3 3.3 -2.3 2.5 -2.2 -3.2zM530.5 180.3l2.2 1.9 -2.2 2.3 -2.2 -1.8zM532.7 186.3l2.2 1.8 -2.2 1.7 -2.2 -1.7zM537.1 193.2l2.2 1.7 -2.2 1.4 -2.2 -1.6zM590.2 165.3l2.2 3.4 -2.2 1.9 -2.2 -3.3zM581.3 157.4l2.3 3.3 -2.3 2.1 -2.2 -3.1zM590.2 190l2.2 1.6 -2.2 1.4 -2.2 -1.5zM579.1 193.5l2.2 1.5 -2.2 1.1 -2.2 -1.4zM588 191.5l2.2 1.5 -2.2 1.2 -2.2 -1.6z"/>
<path fill="#14ffeb" stroke="#14ffeb" stroke-width="0.55" stroke-linejoin="round" d="M554.8 146.8l2.2 2.8 -2.2 2.7 -2.2 -2.9zM543.7 154.8l2.3 2.8 -2.3 2.7 -2.2 -2.7zM541.5 157.6l2.2 2.7 -2.2 2.7 -2.2 -2.7zM539.3 160.3l2.2 2.7 -2.2 2.8 -2.2 -2.7zM537.1 163.1l2.2 2.7 -2.2 2.5 -2.2 -2.4zM532.7 173.5l2.2 2.1 -2.2 2.3 -2.2 -1.9zM572.5 155.1l2.2 3.4 -2.2 2.3 -2.2 -3.3zM534.9 184.1l2.2 1.9 -2.2 2.1 -2.2 -1.8zM539.3 191.7l2.2 1.8 -2.2 1.4 -2.2 -1.7zM594.6 172l2.2 3.3 -2.2 1.8 -2.2 -3.3zM579.1 159.7l2.2 3.1 -2.2 2.2 -2.2 -3.1zM588 167.3l2.2 3.3 -2.2 1.8 -2.2 -3.2zM541.5 193.5l2.2 1.4 -2.2 1.4 -2.2 -1.4zM594.6 180.6l2.2 1.8 -2.2 1.5 -2.2 -1.8zM590.2 186.9l2.2 1.7 -2.2 1.4 -2.2 -1.6zM583.6 191.1l2.2 1.5 -2.2 1.2 -2.3 -1.5zM568.1 194.3l2.2 1.4 -2.2 1.3 -2.2 -1.4z"/>
<path fill="#24ffdb" stroke="#24ffdb" stroke-width="0.55" stroke-linejoin="round" d="M548.2 143.8l2.2 2.8 -2.2 2.7 -2.2 -2.8zM546 146.5l2.2 2.8 -2.2 2.8 -2.3 -2.8zM543.7 149.3l2.3 2.8 -2.3 2.7 -2.2 -2.7zM526 172.3l2.3 1.9 -2.3 2.7 -2.2 -1.7zM523.8 175.2l2.2 1.7 -2.2 2.8 -2.2 -1.5zM526 176.9l2.3 1.7 -2.3 2.6 -2.2 -1.5zM561.4 144.3l2.2 3.3 -2.2 2.6 -2.2 -3.3zM568.1 148.3l2.2 3.4 -2.2 2.5 -2.2 -3.3zM574.7 152.7l2.2 3.5 -2.2 2.3 -2.2 -3.4zM528.3 182.7l2.2 1.8 -2.2 1.9 -2.3 -1.7zM530.5 184.5l2.2 1.8 -2.2 1.8 -2.2 -1.7zM532.7 189.8l2.2 1.7 -2.2 1.6 -2.2 -1.6zM534.9 191.5l2.2 1.7 -2.2 1.5 -2.2 -1.6zM588 162l2.2 3.3 -2.2 2 -2.2 -3.3zM596.8 170.1l2.2 3.3 -2.2 1.9 -2.2 -3.3zM550.4 196.2l2.2 1.5 -2.2 1.4 -2.2 -1.4zM554.8 196.3l2.2 1.5 -2.2 1.4 -2.2 -1.5zM559.2 196.5l2.2 1.6 -2.2 1.3 -2.2 -1.6zM539.3 194.9l2.2 1.4 -2.2 1.4 -2.2 -1.4zM546 196.3l2.2 1.4 -2.2 1.4 -2.3 -1.4zM599 177.3l2.2 1.9 -2.2 1.7 -2.2 -1.9zM596.8 182.4l2.2 1.8 -2.2 1.5 -2.2 -1.8zM592.4 188.6l2.2 1.6 -2.2 1.4 -2.2 -1.6zM576.9 194.7l2.2 1.4 -2.2 1.2 -2.2 -1.4zM585.8 192.6l2.2 1.6 -2.2 1.1 -2.2 -1.5zM563.6 196.9l2.3 1.3 -2.3 1.3 -2.2 -1.4zM570.3 195.7l2.2 1.4 -2.2 1.2 -2.2 -1.3z"/>
<path fill="#18ffe7" stroke="#18ffe7" stroke-width="0.55" stroke-linejoin="round" d="M550.4 146.6l2.2 2.8 -2.2 2.8 -2.2 -2.9zM548.2 149.3l2.2 2.9 -2.2 2.7 -2.2 -2.8zM546 152.1l2.2 2.8 -2.2 2.7 -2.3 -2.8zM534.9 165.9l2.2 2.4 -2.2 2.6 -2.2 -2.3zM559.2 146.9l2.2 3.3 -2.2 2.6 -2.2 -3.2zM565.9 150.9l2.2 3.3 -2.2 2.4 -2.3 -3.2zM532.7 177.9l2.2 2 -2.2 2.3 -2.2 -1.9zM532.7 182.2l2.2 1.9 -2.2 2.2 -2.2 -1.8zM537.1 189.9l2.2 1.8 -2.2 1.5 -2.2 -1.7zM585.8 164l2.2 3.3 -2.2 1.9 -2.2 -3.2zM548.2 194.7l2.2 1.5 -2.2 1.5 -2.2 -1.4zM557 194.8l2.2 1.7 -2.2 1.3 -2.2 -1.5zM561.4 195.1l2.2 1.8 -2.2 1.2 -2.2 -1.6zM596.8 175.3l2.2 2 -2.2 1.7 -2.2 -1.9zM592.4 185.4l2.2 1.7 -2.2 1.5 -2.2 -1.7zM574.7 193.3l2.2 1.4 -2.2 1.2 -2.2 -1.4z"/>
<path fill="#0cfff3" stroke="#0cfff3" stroke-width="0.55" stroke-linejoin="round" d="M552.6 149.4l2.2 2.9 -2.2 2.7 -2.2 -2.8zM568.1 154.2l2.2 3.3 -2.2 2.4 -2.2 -3.3zM574.7 158.5l2.2 3.4 -2.2 2.2 -2.2 -3.3zM537.1 181.9l2.2 2 -2.2 2.1 -2.2 -1.9zM539.3 187.9l2.2 1.9 -2.2 1.9 -2.2 -1.8zM583.6 166l2.2 3.2 -2.2 1.9 -2.3 -3.1zM590.2 170.6l2.2 3.2 -2.2 1.8 -2.2 -3.2zM594.6 177.1l2.2 1.9 -2.2 1.6 -2.2 -1.9zM570.3 193.1l2.2 1.4 -2.2 1.2 -2.2 -1.4z"/>
<path fill="#08fff7" stroke="#08fff7" stroke-width="0.55" stroke-linejoin="round" d="M550.4 152.2l2.2 2.8 -2.2 2.7 -2.2 -2.8zM537.1 168.3l2.2 2.5 -2.2 2.4 -2.2 -2.3zM557 149.6l2.2 3.2 -2.2 2.6 -2.2 -3.1zM563.6 153.4l2.3 3.2 -2.3 2.5 -2.2 -3.2zM537.1 177.7l2.2 2.1 -2.2 2.1 -2.2 -2zM539.3 183.9l2.2 2 -2.2 2 -2.2 -1.9zM541.5 189.8l2.2 1.9 -2.2 1.8 -2.2 -1.8zM576.9 161.9l2.2 3.1 -2.2 2.1 -2.2 -3zM585.8 169.2l2.2 3.2 -2.2 1.8 -2.2 -3.1zM592.4 173.8l2.2 3.3 -2.2 1.6 -2.2 -3.1zM543.7 191.7l2.3 1.5 -2.3 1.7 -2.2 -1.4zM548.2 191.5l2.2 1.6 -2.2 1.6 -2.2 -1.5zM552.6 191.5l2.2 1.6 -2.2 1.6 -2.2 -1.6zM557 191.6l2.2 1.8 -2.2 1.4 -2.2 -1.7zM561.4 191.9l2.2 1.9 -2.2 1.3 -2.2 -1.7zM565.9 192.4l2.2 1.9 -2.2 1.3 -2.3 -1.8zM592.4 178.7l2.2 1.9 -2.2 1.5 -2.2 -1.7zM590.2 183.7l2.2 1.7 -2.2 1.5 -2.2 -1.7zM579.1 190.8l2.2 1.5 -2.2 1.2 -2.2 -1.5z"/>
<path fill="#04fffb" stroke="#04fffb" stroke-width="0.55" stroke-linejoin="round" d="M548.2 154.9l2.2 2.8 -2.2 2.7 -2.2 -2.8zM546 157.6l2.2 2.8 -2.2 2.7 -2.3 -2.8zM570.3 157.5l2.2 3.3 -2.2 2.3 -2.2 -3.2zM537.1 173.2l2.2 2.2 -2.2 2.3 -2.2 -2.1zM539.3 179.8l2.2 2.1 -2.2 2 -2.2 -2zM541.5 185.9l2.2 2 -2.2 1.9 -2.2 -1.9zM579.1 165l2.2 3 -2.2 2.1 -2.2 -3zM588 172.4l2.2 3.2 -2.2 1.7 -2.2 -3.1zM588 185.2l2.2 1.7 -2.2 1.5 -2.2 -1.6zM572.5 191.8l2.2 1.5 -2.2 1.2 -2.2 -1.4zM581.3 189.6l2.3 1.5 -2.3 1.2 -2.2 -1.5z"/>
<path fill="#00ffff" stroke="#00ffff" stroke-width="0.55" stroke-linejoin="round" d="M543.7 160.3l2.3 2.8 -2.3 2.7 -2.2 -2.8zM541.5 163l2.2 2.8 -2.2 2.6 -2.2 -2.6zM539.3 165.8l2.2 2.6 -2.2 2.4 -2.2 -2.5zM559.2 152.8l2.2 3.1 -2.2 2.5 -2.2 -3zM565.9 156.6l2.2 3.3 -2.2 2.3 -2.3 -3.1zM554.8 152.3l2.2 3.1 -2.2 2.5 -2.2 -2.9zM539.3 175.4l2.2 2.2 -2.2 2.2 -2.2 -2.1zM541.5 181.9l2.2 2.1 -2.2 1.9 -2.2 -2zM581.3 168l2.3 3.1 -2.3 1.9 -2.2 -2.9zM583.6 171.1l2.2 3.1 -2.2 1.8 -2.3 -3zM590.2 175.6l2.2 3.1 -2.2 1.7 -2.2 -3.1zM568.1 191l2.2 2.1 -2.2 1.2 -2.2 -1.9zM546 189.9l2.2 1.6 -2.2 1.7 -2.3 -1.5zM550.4 189.8l2.2 1.7 -2.2 1.6 -2.2 -1.6zM554.8 189.9l2.2 1.7 -2.2 1.5 -2.2 -1.6zM559.2 190.1l2.2 1.8 -2.2 1.5 -2.2 -1.8zM563.6 190.5l2.3 1.9 -2.3 1.4 -2.2 -1.9zM590.2 180.4l2.2 1.7 -2.2 1.6 -2.2 -1.7zM574.7 190.6l2.2 1.4 -2.2 1.3 -2.2 -1.5z"/>
<path fill="#10ffef" stroke="#10ffef" stroke-width="0.55" stroke-linejoin="round" d="M534.9 170.9l2.2 2.3 -2.2 2.4 -2.2 -2.1zM561.4 150.2l2.2 3.2 -2.2 2.5 -2.2 -3.1zM534.9 175.6l2.2 2.1 -2.2 2.2 -2.2 -2zM534.9 179.9l2.2 2 -2.2 2.2 -2.2 -1.9zM537.1 186l2.2 1.9 -2.2 2 -2.2 -1.8zM581.3 162.8l2.3 3.2 -2.3 2 -2.2 -3zM546 193.2l2.2 1.5 -2.2 1.6 -2.3 -1.4zM550.4 193.1l2.2 1.6 -2.2 1.5 -2.2 -1.5zM554.8 193.1l2.2 1.7 -2.2 1.5 -2.2 -1.6zM559.2 193.4l2.2 1.7 -2.2 1.4 -2.2 -1.7zM563.6 193.8l2.3 1.8 -2.3 1.3 -2.2 -1.8zM592.4 182.1l2.2 1.8 -2.2 1.5 -2.2 -1.7zM588 188.4l2.2 1.6 -2.2 1.5 -2.2 -1.6zM576.9 192l2.2 1.5 -2.2 1.2 -2.2 -1.4zM585.8 189.9l2.2 1.6 -2.2 1.1 -2.2 -1.5z"/>
<path fill="#00f7ff" stroke="#00f7ff" stroke-width="0.55" stroke-linejoin="round" d="M561.4 155.9l2.2 3.2 -2.2 2.4 -2.2 -3.1zM568.1 159.9l2.2 3.2 -2.2 2.3 -2.2 -3.2zM550.4 157.7l2.2 2.8 -2.2 2.6 -2.2 -2.7zM548.2 160.4l2.2 2.7 -2.2 2.6 -2.2 -2.6zM557 155.4l2.2 3 -2.2 2.5 -2.2 -3zM541.5 173.1l2.2 2.3 -2.2 2.2 -2.2 -2.2zM543.7 184l2.3 2.1 -2.3 1.8 -2.2 -2zM574.7 164.1l2.2 3 -2.2 2.1 -2.2 -2.9zM576.9 167.1l2.2 3 -2.2 2 -2.2 -2.9zM588 177.3l2.2 3.1 -2.2 1.6 -2.2 -3zM565.9 189l2.2 2 -2.2 1.4 -2.3 -1.9zM570.3 189.6l2.2 2.2 -2.2 1.3 -2.2 -2.1zM588 182l2.2 1.7 -2.2 1.5 -2.2 -1.6zM576.9 189.3l2.2 1.5 -2.2 1.2 -2.2 -1.4z"/>
<path fill="#00efff" stroke="#00efff" stroke-width="0.55" stroke-linejoin="round" d="M563.6 159.1l2.3 3.1 -2.3 2.4 -2.2 -3.1zM543.7 165.8l2.3 2.5 -2.3 2.5 -2.2 -2.4zM552.6 160.5l2.2 2.9 -2.2 2.4 -2.2 -2.7zM550.4 163.1l2.2 2.7 -2.2 2.5 -2.2 -2.6zM559.2 158.4l2.2 3.1 -2.2 2.4 -2.2 -3zM543.7 175.4l2.3 2.3 -2.3 2.1 -2.2 -2.2zM546 182l2.2 2.2 -2.2 1.9 -2.3 -2.1zM583.6 176l2.2 3 -2.2 1.7 -2.3 -2.9zM585.8 179l2.2 3 -2.2 1.6 -2.2 -2.9zM563.6 186.9l2.3 2.1 -2.3 1.5 -2.2 -2zM585.8 183.6l2.2 1.6 -2.2 1.6 -2.2 -1.6zM579.1 188.1l2.2 1.5 -2.2 1.2 -2.2 -1.5z"/>
<path fill="#00e3ff" stroke="#00e3ff" stroke-width="0.55" stroke-linejoin="round" d="M565.9 162.2l2.2 3.2 -2.2 2.3 -2.3 -3.1zM550.4 168.3l2.2 2.6 -2.2 2.4 -2.2 -2.5zM548.2 170.8l2.2 2.5 -2.2 2.3 -2.2 -2.4zM561.4 161.5l2.2 3.1 -2.2 2.2 -2.2 -2.9zM559.2 163.9l2.2 2.9 -2.2 2.3 -2.2 -2.9zM557 166.2l2.2 2.9 -2.2 2.2 -2.2 -2.7zM548.2 180l2.2 2.3 -2.2 1.9 -2.2 -2.2zM563.6 183.1l2.3 2.2 -2.3 1.6 -2.2 -2zM561.4 184.9l2.2 2 -2.2 1.6 -2.2 -1.9zM568.1 183.7l2.2 2.3 -2.2 1.5 -2.2 -2.2zM576.9 185.5l2.2 2.6 -2.2 1.2 -2.2 -2.4z"/>
<path fill="#00fbff" stroke="#00fbff" stroke-width="0.55" stroke-linejoin="round" d="M572.5 160.8l2.2 3.3 -2.2 2.2 -2.2 -3.2zM552.6 155l2.2 2.9 -2.2 2.6 -2.2 -2.8zM539.3 170.8l2.2 2.3 -2.2 2.3 -2.2 -2.2zM541.5 177.6l2.2 2.2 -2.2 2.1 -2.2 -2.1zM543.7 187.9l2.3 2 -2.3 1.8 -2.2 -1.9zM585.8 174.2l2.2 3.1 -2.2 1.7 -2.2 -3zM585.8 186.8l2.2 1.6 -2.2 1.5 -2.2 -1.5zM583.6 188.4l2.2 1.5 -2.2 1.2 -2.3 -1.5z"/>
<path fill="#00ebff" stroke="#00ebff" stroke-width="0.55" stroke-linejoin="round" d="M570.3 163.1l2.2 3.2 -2.2 2.3 -2.2 -3.2zM548.2 165.7l2.2 2.6 -2.2 2.5 -2.2 -2.5zM557 160.9l2.2 3 -2.2 2.3 -2.2 -2.8zM554.8 163.4l2.2 2.8 -2.2 2.4 -2.2 -2.8zM543.7 170.8l2.3 2.4 -2.3 2.2 -2.2 -2.3zM546 177.7l2.2 2.3 -2.2 2 -2.3 -2.2zM565.9 185.3l2.2 2.2 -2.2 1.5 -2.3 -2.1zM570.3 186l2.2 2.3 -2.2 1.3 -2.2 -2.1zM574.7 186.9l2.2 2.4 -2.2 1.3 -2.2 -2.3zM550.4 186.4l2.2 1.7 -2.2 1.7 -2.2 -1.6zM554.8 186.4l2.2 1.8 -2.2 1.7 -2.2 -1.8zM559.2 186.6l2.2 1.9 -2.2 1.6 -2.2 -1.9z"/>
<path fill="#00dbff" stroke="#00dbff" stroke-width="0.55" stroke-linejoin="round" d="M568.1 165.4l2.2 3.2 -2.2 2.2 -2.2 -3.1zM550.4 173.3l2.2 2.5 -2.2 2.2 -2.2 -2.4zM563.6 164.6l2.3 3.1 -2.3 2.1 -2.2 -3zM561.4 166.8l2.2 3 -2.2 2.1 -2.2 -2.8zM559.2 169.1l2.2 2.8 -2.2 2.1 -2.2 -2.7zM550.4 178l2.2 2.4 -2.2 1.9 -2.2 -2.3zM572.5 171.3l2.2 2.8 -2.2 2 -2.2 -2.6zM574.7 174.1l2.2 2.8 -2.2 1.9 -2.2 -2.7zM576.9 176.9l2.2 2.8 -2.2 1.8 -2.2 -2.7zM579.1 179.7l2.2 2.7 -2.2 1.7 -2.2 -2.6zM561.4 181l2.2 2.1 -2.2 1.8 -2.2 -2.1zM559.2 182.8l2.2 2.1 -2.2 1.7 -2.2 -1.9zM568.1 179.6l2.2 2.4 -2.2 1.7 -2.2 -2.3zM572.5 180.4l2.2 2.6 -2.2 1.5 -2.2 -2.5zM576.9 181.5l2.2 2.6 -2.2 1.4 -2.2 -2.5zM579.1 184.1l2.2 2.7 -2.2 1.3 -2.2 -2.6z"/>
<path fill="#00f3ff" stroke="#00f3ff" stroke-width="0.55" stroke-linejoin="round" d="M546 163.1l2.2 2.6 -2.2 2.6 -2.3 -2.5zM554.8 157.9l2.2 3 -2.2 2.5 -2.2 -2.9zM541.5 168.4l2.2 2.4 -2.2 2.3 -2.2 -2.3zM543.7 179.8l2.3 2.2 -2.3 2 -2.2 -2.1zM546 186.1l2.2 2.1 -2.2 1.7 -2.3 -2zM579.1 170.1l2.2 2.9 -2.2 2 -2.2 -2.9zM581.3 173l2.3 3 -2.3 1.8 -2.2 -2.8zM568.1 187.5l2.2 2.1 -2.2 1.4 -2.2 -2zM572.5 188.3l2.2 2.3 -2.2 1.2 -2.2 -2.2zM548.2 188.2l2.2 1.6 -2.2 1.7 -2.2 -1.6zM552.6 188.1l2.2 1.8 -2.2 1.6 -2.2 -1.7zM557 188.2l2.2 1.9 -2.2 1.5 -2.2 -1.7zM561.4 188.5l2.2 2 -2.2 1.4 -2.2 -1.8z"/>
<path fill="#00e7ff" stroke="#00e7ff" stroke-width="0.55" stroke-linejoin="round" d="M546 168.3l2.2 2.5 -2.2 2.4 -2.3 -2.4zM552.6 165.8l2.2 2.8 -2.2 2.3 -2.2 -2.6zM546 173.2l2.2 2.4 -2.2 2.1 -2.3 -2.3zM548.2 184.2l2.2 2.2 -2.2 1.8 -2.2 -2.1zM572.5 166.3l2.2 2.9 -2.2 2.1 -2.2 -2.7zM574.7 169.2l2.2 2.9 -2.2 2 -2.2 -2.8zM576.9 172.1l2.2 2.9 -2.2 1.9 -2.2 -2.8zM579.1 175l2.2 2.8 -2.2 1.9 -2.2 -2.8zM581.3 177.8l2.3 2.9 -2.3 1.7 -2.2 -2.7zM583.6 180.7l2.2 2.9 -2.2 1.6 -2.3 -2.8zM572.5 184.5l2.2 2.4 -2.2 1.4 -2.2 -2.3zM583.6 185.2l2.2 1.6 -2.2 1.6 -2.3 -1.6zM581.3 186.8l2.3 1.6 -2.3 1.2 -2.2 -1.5z"/>
<path fill="#00dfff" stroke="#00dfff" stroke-width="0.55" stroke-linejoin="round" d="M554.8 168.6l2.2 2.7 -2.2 2.2 -2.2 -2.6zM552.6 170.9l2.2 2.6 -2.2 2.3 -2.2 -2.5zM548.2 175.6l2.2 2.4 -2.2 2 -2.2 -2.3zM550.4 182.3l2.2 2.3 -2.2 1.8 -2.2 -2.2zM581.3 182.4l2.3 2.8 -2.3 1.6 -2.2 -2.7zM565.9 181.4l2.2 2.3 -2.2 1.6 -2.3 -2.2zM570.3 182l2.2 2.5 -2.2 1.5 -2.2 -2.3zM574.7 183l2.2 2.5 -2.2 1.4 -2.2 -2.4zM552.6 184.6l2.2 1.8 -2.2 1.7 -2.2 -1.7zM557 184.7l2.2 1.9 -2.2 1.6 -2.2 -1.8z"/>
<path fill="#00d7ff" stroke="#00d7ff" stroke-width="0.55" stroke-linejoin="round" d="M557 171.3l2.2 2.7 -2.2 2.2 -2.2 -2.7zM554.8 173.5l2.2 2.7 -2.2 2.1 -2.2 -2.5zM552.6 175.8l2.2 2.5 -2.2 2.1 -2.2 -2.4zM570.3 168.6l2.2 2.7 -2.2 2.2 -2.2 -2.7zM565.9 177.2l2.2 2.4 -2.2 1.8 -2.3 -2.3zM563.6 179.1l2.3 2.3 -2.3 1.7 -2.2 -2.1zM572.5 176.1l2.2 2.7 -2.2 1.6 -2.2 -2.5zM570.3 177.9l2.2 2.5 -2.2 1.6 -2.2 -2.4zM574.7 178.8l2.2 2.7 -2.2 1.5 -2.2 -2.6zM554.8 182.8l2.2 1.9 -2.2 1.7 -2.2 -1.8z"/>
<path fill="#00d3ff" stroke="#00d3ff" stroke-width="0.55" stroke-linejoin="round" d="M565.9 167.7l2.2 3.1 -2.2 2 -2.3 -3zM563.6 169.8l2.3 3 -2.3 2 -2.2 -2.9zM561.4 171.9l2.2 2.9 -2.2 2 -2.2 -2.8zM552.6 180.4l2.2 2.4 -2.2 1.8 -2.2 -2.3zM557 180.8l2.2 2 -2.2 1.9 -2.2 -1.9zM570.3 173.5l2.2 2.6 -2.2 1.8 -2.2 -2.6zM568.1 175.3l2.2 2.6 -2.2 1.7 -2.2 -2.4z"/>
<path fill="#00cfff" stroke="#00cfff" stroke-width="0.55" stroke-linejoin="round" d="M559.2 174l2.2 2.8 -2.2 2 -2.2 -2.6zM557 176.2l2.2 2.6 -2.2 2 -2.2 -2.5zM554.8 178.3l2.2 2.5 -2.2 2 -2.2 -2.4zM568.1 170.8l2.2 2.7 -2.2 1.8 -2.2 -2.5zM565.9 172.8l2.2 2.5 -2.2 1.9 -2.3 -2.4zM563.6 174.8l2.3 2.4 -2.3 1.9 -2.2 -2.3zM561.4 176.8l2.2 2.3 -2.2 1.9 -2.2 -2.2zM559.2 178.8l2.2 2.2 -2.2 1.8 -2.2 -2z"/>
<path d="M554.80 59.20 L541.53 63.72 L528.26 75.68 L514.99 86.46 L501.72 100.50 L488.45 124.19 L475.18 145.54 L461.91 165.71 M568.07 64.37 L554.80 72.43 L541.53 81.84 L528.26 94.25 L514.99 107.39 L501.72 131.56 L488.45 152.22 L475.18 171.76 M581.34 75.87 L568.07 83.27 L554.80 93.87 L541.53 106.90 L528.26 121.72 L514.99 140.57 L501.72 162.70 L488.45 179.79 M594.61 89.13 L581.34 95.71 L568.07 106.89 L554.80 121.25 L541.53 135.24 L528.26 152.36 L514.99 173.73 L501.72 187.00 M607.88 106.11 L594.61 113.38 L581.34 124.69 L568.07 136.23 L554.80 152.27 L541.53 168.45 L528.26 182.66 L514.99 194.98 M621.15 126.47 L607.88 135.57 L594.61 145.05 L581.34 157.45 L568.07 170.79 L554.80 182.77 L541.53 193.53 L528.26 201.86 M634.42 149.84 L621.15 156.34 L607.88 166.07 L594.61 177.13 L581.34 186.81 L568.07 194.31 L554.80 201.96 L541.53 209.61 M647.69 167.14 L634.42 172.91 L621.15 180.86 L607.88 188.42 L594.61 196.14 L581.34 202.64 L568.07 209.95 L554.80 216.99 M554.80 59.20 L568.07 64.37 L581.34 75.87 L594.61 89.13 L607.88 106.11 L621.15 126.47 L634.42 149.84 L647.69 167.14 M541.53 63.72 L554.80 72.43 L568.07 83.27 L581.34 95.71 L594.61 113.38 L607.88 135.57 L621.15 156.34 L634.42 172.91 M528.26 75.68 L541.53 81.84 L554.80 93.87 L568.07 106.89 L581.34 124.69 L594.61 145.05 L607.88 166.07 L621.15 180.86 M514.99 86.46 L528.26 94.25 L541.53 106.90 L554.80 121.25 L568.07 136.23 L581.34 157.45 L594.61 177.13 L607.88 188.42 M501.72 100.50 L514.99 107.39 L528.26 121.72 L541.53 135.24 L554.80 152.27 L568.07 170.79 L581.34 186.81 L594.61 196.14 M488.45 124.19 L501.72 131.56 L514.99 140.57 L528.26 152.36 L541.53 168.45 L554.80 182.77 L568.07 194.31 L581.34 202.64 M475.18 145.54 L488.45 152.22 L501.72 162.70 L514.99 173.73 L528.26 182.66 L541.53 193.53 L554.80 201.96 L568.07 209.95 M461.91 165.71 L475.18 171.76 L488.45 179.79 L501.72 187.00 L514.99 194.98 L528.26 201.86 L541.53 209.61 L554.80 216.99" stroke="#ffffff" stroke-opacity="0.5" stroke-width="0.55" fill="none"/>
<circle cx="554.8" cy="59.2" r="0.8" fill="#303030"/>
<circle cx="541.5" cy="63.7" r="0.8" fill="#303030"/>
<circle cx="528.3" cy="75.7" r="0.8" fill="#303030"/>
<circle cx="515.0" cy="86.5" r="0.8" fill="#303030"/>
<circle cx="501.7" cy="100.5" r="0.8" fill="#303030"/>
<circle cx="488.4" cy="124.2" r="0.8" fill="#303030"/>
<circle cx="475.2" cy="145.5" r="0.8" fill="#303030"/>
<circle cx="461.9" cy="165.7" r="0.8" fill="#303030"/>
<circle cx="568.1" cy="64.4" r="0.8" fill="#303030"/>
<circle cx="554.8" cy="72.4" r="0.8" fill="#303030"/>
<circle cx="541.5" cy="81.8" r="0.8" fill="#303030"/>
<circle cx="528.3" cy="94.3" r="0.8" fill="#303030"/>
<circle cx="515.0" cy="107.4" r="0.8" fill="#303030"/>
<circle cx="501.7" cy="131.6" r="0.8" fill="#303030"/>
<circle cx="488.4" cy="152.2" r="0.8" fill="#303030"/>
<circle cx="475.2" cy="171.8" r="0.8" fill="#303030"/>
<circle cx="581.3" cy="75.9" r="0.8" fill="#303030"/>
<circle cx="568.1" cy="83.3" r="0.8" fill="#303030"/>
<circle cx="554.8" cy="93.9" r="0.8" fill="#303030"/>
<circle cx="541.5" cy="106.9" r="0.8" fill="#303030"/>
<circle cx="528.3" cy="121.7" r="0.8" fill="#303030"/>
<circle cx="515.0" cy="140.6" r="0.8" fill="#303030"/>
<circle cx="501.7" cy="162.7" r="0.8" fill="#303030"/>
<circle cx="488.4" cy="179.8" r="0.8" fill="#303030"/>
<circle cx="594.6" cy="89.1" r="0.8" fill="#303030"/>
<circle cx="581.3" cy="95.7" r="0.8" fill="#303030"/>
<circle cx="568.1" cy="106.9" r="0.8" fill="#303030"/>
<circle cx="554.8" cy="121.3" r="0.8" fill="#303030"/>
<circle cx="541.5" cy="135.2" r="0.8" fill="#303030"/>
<circle cx="528.3" cy="152.4" r="0.8" fill="#303030"/>
<circle cx="515.0" cy="173.7" r="0.8" fill="#303030"/>
<circle cx="501.7" cy="187.0" r="0.8" fill="#303030"/>
<circle cx="607.9" cy="106.1" r="0.8" fill="#303030"/>
<circle cx="594.6" cy="113.4" r="0.8" fill="#303030"/>
<circle cx="581.3" cy="124.7" r="0.8" fill="#303030"/>
<circle cx="568.1" cy="136.2" r="0.8" fill="#303030"/>
<circle cx="554.8" cy="152.3" r="0.8" fill="#303030"/>
<circle cx="541.5" cy="168.4" r="0.8" fill="#303030"/>
<circle cx="528.3" cy="182.7" r="0.8" fill="#303030"/>
<circle cx="515.0" cy="195.0" r="0.8" fill="#303030"/>
<circle cx="621.1" cy="126.5" r="0.8" fill="#303030"/>
<circle cx="607.9" cy="135.6" r="0.8" fill="#303030"/>
<circle cx="594.6" cy="145.1" r="0.8" fill="#303030"/>
<circle cx="581.3" cy="157.4" r="0.8" fill="#303030"/>
<circle cx="568.1" cy="170.8" r="0.8" fill="#303030"/>
<circle cx="554.8" cy="182.8" r="0.8" fill="#303030"/>
<circle cx="541.5" cy="193.5" r="0.8" fill="#303030"/>
<circle cx="528.3" cy="201.9" r="0.8" fill="#303030"/>
<circle cx="634.4" cy="149.8" r="0.8" fill="#303030"/>
<circle cx="621.1" cy="156.3" r="0.8" fill="#303030"/>
<circle cx="607.9" cy="166.1" r="0.8" fill="#303030"/>
<circle cx="594.6" cy="177.1" r="0.8" fill="#303030"/>
<circle cx="581.3" cy="186.8" r="0.8" fill="#303030"/>
<circle cx="568.1" cy="194.3" r="0.8" fill="#303030"/>
<circle cx="554.8" cy="202.0" r="0.8" fill="#303030"/>
<circle cx="541.5" cy="209.6" r="0.8" fill="#303030"/>
<circle cx="647.7" cy="167.1" r="0.8" fill="#303030"/>
<circle cx="634.4" cy="172.9" r="0.8" fill="#303030"/>
<circle cx="621.1" cy="180.9" r="0.8" fill="#303030"/>
<circle cx="607.9" cy="188.4" r="0.8" fill="#303030"/>
<circle cx="594.6" cy="196.1" r="0.8" fill="#303030"/>
<circle cx="581.3" cy="202.6" r="0.8" fill="#303030"/>
<circle cx="568.1" cy="210.0" r="0.8" fill="#303030"/>
<circle cx="554.8" cy="217.0" r="0.8" fill="#303030"/>
<path d="M461.91 170.01 L554.80 218.10 L647.69 170.01" stroke="#6a6a6a" stroke-width="0.8" fill="none"/>
<path d="M461.91 170.01 L459.91 171.01 M475.18 176.88 L473.18 177.88 M488.45 183.75 L486.45 184.75 M501.72 190.62 L499.72 191.62 M514.99 197.49 L512.99 198.49 M528.26 204.36 L526.26 205.36 M541.53 211.23 L539.53 212.23 M554.80 218.10 L552.80 219.10 M647.69 170.01 L649.69 171.01 M634.42 176.88 L636.42 177.88 M621.15 183.75 L623.15 184.75 M607.88 190.62 L609.88 191.62 M594.61 197.49 L596.61 198.49 M581.34 204.36 L583.34 205.36 M568.07 211.23 L570.07 212.23 M554.80 218.10 L556.80 219.10" stroke="#6a6a6a" stroke-width="0.6"/>
<text x="450.31" y="178.81" font-size="6.30" text-anchor="middle" fill="#333" stroke="#333" stroke-width="0.1">0</text>
<text x="463.58" y="185.68" font-size="6.30" text-anchor="middle" fill="#333" stroke="#333" stroke-width="0.1">0.25</text>
<text x="476.85" y="192.55" font-size="6.30" text-anchor="middle" fill="#333" stroke="#333" stroke-width="0.1">0.5</text>
<text x="490.12" y="199.42" font-size="6.30" text-anchor="middle" fill="#333" stroke="#333" stroke-width="0.1">1</text>
<text x="503.39" y="206.29" font-size="6.30" text-anchor="middle" fill="#333" stroke="#333" stroke-width="0.1">2</text>
<text x="516.66" y="213.16" font-size="6.30" text-anchor="middle" fill="#333" stroke="#333" stroke-width="0.1">4</text>
<text x="529.93" y="220.03" font-size="6.30" text-anchor="middle" fill="#333" stroke="#333" stroke-width="0.1">8</text>
<text x="543.20" y="226.90" font-size="6.30" text-anchor="middle" fill="#333" stroke="#333" stroke-width="0.1">16</text>
<text x="651.69" y="178.81" font-size="6.30" text-anchor="start" fill="#333" stroke="#333" stroke-width="0.1">0</text>
<text x="638.42" y="185.68" font-size="6.30" text-anchor="start" fill="#333" stroke="#333" stroke-width="0.1">25</text>
<text x="625.15" y="192.55" font-size="6.30" text-anchor="start" fill="#333" stroke="#333" stroke-width="0.1">50</text>
<text x="611.88" y="199.42" font-size="6.30" text-anchor="start" fill="#333" stroke="#333" stroke-width="0.1">100</text>
<text x="598.61" y="206.29" font-size="6.30" text-anchor="start" fill="#333" stroke="#333" stroke-width="0.1">200</text>
<text x="585.34" y="213.16" font-size="6.30" text-anchor="start" fill="#333" stroke="#333" stroke-width="0.1">400</text>
<text x="572.07" y="220.03" font-size="6.30" text-anchor="start" fill="#333" stroke="#333" stroke-width="0.1">800</text>
<text x="558.80" y="226.90" font-size="6.30" text-anchor="start" fill="#333" stroke="#333" stroke-width="0.1">1600</text>
<text x="492.30" y="222.50" font-size="7.50" text-anchor="middle" fill="#222" stroke="#222" stroke-width="0.1">CTS [μM]</text>
<text x="617.30" y="222.70" font-size="7.50" text-anchor="middle" fill="#222" stroke="#222" stroke-width="0.1">TMZ [μM]</text>
<text x="552.70" y="32.20" font-size="13.30" text-anchor="middle" fill="#000">LN229</text>
<text x="554.30" y="44.40" font-size="7.50" text-anchor="middle" fill="#222" stroke="#222" stroke-width="0.1">Synergy mapped to D-R (LOEWE)</text>
<text x="554.40" y="53.90" font-size="7.15" text-anchor="middle" fill="#222" stroke="#222" stroke-width="0.1">TMZ &amp; CTS</text>
<defs><linearGradient id="cbE" x1="0" y1="0" x2="0" y2="1">
<stop offset="0.0000" stop-color="#00008f"/>
<stop offset="0.0625" stop-color="#0000bf"/>
<stop offset="0.1250" stop-color="#0000ff"/>
<stop offset="0.1875" stop-color="#0040ff"/>
<stop offset="0.2500" stop-color="#0080ff"/>
<stop offset="0.3125" stop-color="#00bfff"/>
<stop offset="0.3750" stop-color="#00ffff"/>
<stop offset="0.4375" stop-color="#40ffbf"/>
<stop offset="0.5000" stop-color="#80ff80"/>
<stop offset="0.5625" stop-color="#bfff40"/>
<stop offset="0.6250" stop-color="#ffff00"/>
<stop offset="0.6875" stop-color="#ffbf00"/>
<stop offset="0.7500" stop-color="#ff8000"/>
<stop offset="0.8125" stop-color="#ff4000"/>
<stop offset="0.8750" stop-color="#ff0000"/>
<stop offset="0.9375" stop-color="#bf0000"/>
<stop offset="1.0000" stop-color="#800000"/>
</linearGradient></defs>
<rect x="660.50" y="57.50" width="9.20" height="159.30" fill="url(#cbE)" stroke="#9a9a9a" stroke-width="0.5"/>
<text x="677.90" y="107.50" font-size="6.50" text-anchor="middle" fill="#3a3a3a" font-weight="bold" transform="rotate(-90 677.9 107.5)">Synergy</text>
<text x="677.90" y="160.90" font-size="6.60" text-anchor="middle" fill="#3a3a3a" font-weight="bold" transform="rotate(-90 677.9 160.9)">Antagonism</text>
<path d="M557.20 387.50 L557.20 322.50 M543.81 394.50 L543.81 329.50 M530.42 401.50 L530.42 336.50 M517.03 408.50 L517.03 343.50 M503.64 415.50 L503.64 350.50 M490.25 422.50 L490.25 357.50 M476.86 429.50 L476.86 364.50 M463.47 436.50 L463.47 371.50 M463.47 436.50 L557.20 387.50 M463.47 404.00 L557.20 355.00 M463.47 371.50 L557.20 322.50 M557.20 387.50 L557.20 322.50 M570.59 394.50 L570.59 329.50 M583.98 401.50 L583.98 336.50 M597.37 408.50 L597.37 343.50 M610.76 415.50 L610.76 350.50 M624.15 422.50 L624.15 357.50 M637.54 429.50 L637.54 364.50 M650.93 436.50 L650.93 371.50 M557.20 387.50 L650.93 436.50 M557.20 355.00 L650.93 404.00 M557.20 322.50 L650.93 371.50" stroke="#dcdcdc" stroke-width="0.6" fill="none"/>
<path d="M463.47 436.50 L463.47 371.50" stroke="#8a8a8a" stroke-width="0.8"/>
<path d="M461.27 436.90 L463.47 436.50" stroke="#8a8a8a" stroke-width="0.6"/>
<text x="459.07" y="437.80" font-size="6.00" text-anchor="end" fill="#333" stroke="#333" stroke-width="0.2">0</text>
<path d="M461.27 404.40 L463.47 404.00" stroke="#8a8a8a" stroke-width="0.6"/>
<text x="459.07" y="405.30" font-size="6.00" text-anchor="end" fill="#333" stroke="#333" stroke-width="0.2">50</text>
<path d="M461.27 371.90 L463.47 371.50" stroke="#8a8a8a" stroke-width="0.6"/>
<text x="459.07" y="372.80" font-size="6.00" text-anchor="end" fill="#333" stroke="#333" stroke-width="0.2">100</text>
<text x="442.30" y="394.60" font-size="7.50" text-anchor="middle" fill="#222" stroke="#222" stroke-width="0.1" transform="rotate(-90 442.3 394.6)">% Control</text>
<path fill="#80ff80" stroke="#80ff80" stroke-width="0.55" stroke-linejoin="round" d="M557.2 324.8l2.2 .8 -2.2 .8 -2.2 -.8zM555 325.6l2.2 .8 -2.2 .9 -2.3 -1zM552.7 326.3l2.3 1 -2.3 .9 -2.2 -1.1zM550.5 327.1l2.2 1.1 -2.2 .8 -2.2 -1.1zM548.3 327.9l2.2 1.1 -2.2 .9 -2.3 -1.2zM546 328.7l2.3 1.2 -2.3 .9 -2.2 -1.3zM559.4 325.6l2.3 .7 -2.3 1 -2.2 -.9zM557.2 326.4l2.2 .9 -2.2 .9 -2.2 -.9zM555 327.3l2.2 .9 -2.2 1 -2.3 -1zM561.7 326.3l2.2 .8 -2.2 1.1 -2.3 -.9zM559.4 327.3l2.3 .9 -2.3 1 -2.2 -1zM563.9 327.1l2.2 .8 -2.2 1.1 -2.2 -.8zM566.1 327.9l2.3 .8 -2.3 1.2 -2.2 -.9zM568.4 328.7l2.2 .8 -2.2 1.3 -2.3 -.9zM543.8 329.5l2.2 1.3 -2.2 1.3 -2.2 -1.3zM541.6 330.8l2.2 1.3 -2.2 1.4 -2.3 -1.4zM539.3 332.1l2.3 1.4 -2.3 1.4 -2.2 -1.5zM537.1 333.4l2.2 1.5 -2.2 1.4 -2.2 -1.6zM541.6 333.5l2.2 1.4 -2.2 1.5 -2.3 -1.5zM539.3 334.9l2.3 1.5 -2.3 1.5 -2.2 -1.6zM537.1 336.3l2.2 1.6 -2.2 1.4 -2.2 -1.6zM534.9 337.7l2.2 1.6 -2.2 1.5 -2.2 -1.8zM539.3 337.9l2.3 1.5 -2.3 1.6 -2.2 -1.7zM537.1 339.3l2.2 1.7 -2.2 1.5 -2.2 -1.7zM539.3 341l2.3 1.7 -2.3 1.6 -2.2 -1.8zM541.6 342.7l2.2 1.6 -2.2 1.7 -2.3 -1.7zM534.9 340.8l2.2 1.7 -2.2 2 -2.2 -1.7zM537.1 342.5l2.2 1.8 -2.2 2 -2.2 -1.8zM534.9 344.5l2.2 1.8 -2.2 1.9 -2.2 -1.7zM539.3 344.3l2.3 1.7 -2.3 2 -2.2 -1.7zM537.1 346.3l2.2 1.7 -2.2 1.9 -2.2 -1.7zM541.6 346l2.2 1.8 -2.2 1.9 -2.3 -1.7zM539.3 348l2.3 1.7 -2.3 1.9 -2.2 -1.7zM512.6 354.5l2.2 1.4 -2.2 2.3 -2.3 -1.4zM510.3 356.8l2.3 1.4 -2.3 2.3 -2.2 -1.3zM508.1 359.2l2.2 1.3 -2.2 2.2 -2.2 -1.2zM505.9 361.5l2.2 1.2 -2.2 2.3 -2.3 -1.2zM517 353.7l2.3 1.5 -2.3 2.2 -2.2 -1.5zM514.8 355.9l2.2 1.5 -2.2 2.2 -2.2 -1.4zM519.3 355.2l2.2 1.5 -2.2 2.1 -2.3 -1.4zM521.5 356.7l2.2 1.5 -2.2 2.1 -2.2 -1.5zM503.6 363.8l2.3 1.2 -2.3 3.5 -2.2 -1.2zM501.4 367.3l2.2 1.2 -2.2 3.6 -2.2 -1.2zM499.2 370.9l2.2 1.2 -2.2 3.5 -2.3 -1.2zM496.9 374.4l2.3 1.2 -2.3 3.6 -2.2 -1.3zM494.7 377.9l2.2 1.3 -2.2 3.6 -2.2 -1.4zM492.5 381.4l2.2 1.4 -2.2 3.5 -2.3 -1.4zM490.2 384.9l2.3 1.4 -2.2 3.9 -2.3 -1.4zM488 388.8l2.3 1.4 -2.3 3.9 -2.2 -1.4zM485.8 392.7l2.2 1.4 -2.2 3.8 -2.2 -1.3zM483.6 396.6l2.2 1.3 -2.2 3.9 -2.3 -1.3zM481.3 400.5l2.3 1.3 -2.3 3.9 -2.2 -1.3zM479.1 404.4l2.2 1.3 -2.2 3.8 -2.2 -1.2zM476.9 408.3l2.2 1.2 -2.2 4.2 -2.3 -1.2zM476.9 413.7l2.2 1.2 -2.2 4.1 -2.3 -1.2zM479.1 414.9l2.2 1.2 -2.2 4 -2.2 -1.1zM570.6 329.5l2.2 1.9 -2.2 1.3 -2.2 -1.9zM572.8 331.4l2.3 1.8 -2.3 1.4 -2.2 -1.9zM570.6 332.7l2.2 1.9 -2.2 1.4 -2.2 -2zM572.8 334.6l2.3 2 -2.3 1.4 -2.2 -2zM570.6 336l2.2 2 -2.2 1.4 -2.2 -2zM568.4 337.4l2.2 2 -2.2 1.5 -2.3 -2.1zM546 346l2.3 2.1 -2.3 1.7 -2.2 -2zM552.7 344.6l2.3 2.1 -2.3 1.7 -2.2 -2.1zM559.4 343.2l2.3 2.2 -2.3 1.7 -2.2 -2.1zM528.2 361.3l2.2 2.7 -2.2 2 -2.2 -2.8zM519.3 380.4l2.2 2.9 -2.2 3.1 -2.3 -2.7zM508.1 408l2.2 1.8 -2.2 3.8 -2.2 -1.8zM505.9 411.8l2.2 1.8 -2.2 3.8 -2.3 -1.9zM514.8 402.2l2.2 1.8 -2.2 3.8 -2.2 -1.8zM512.6 406l2.2 1.8 -2.2 3.8 -2.3 -1.8zM490.2 421.4l2.3 1.8 -2.2 3.8 -2.3 -1.7zM630.8 415.4l2.3 3.4 -2.3 1.1 -2.2 -3.4zM628.6 416.5l2.2 3.4 -2.2 1.1 -2.2 -3.4zM626.4 417.6l2.2 3.4 -2.2 1.1 -2.2 -3.3zM624.2 418.8l2.2 3.3 -2.2 1.1 -2.3 -3.3zM633.1 418.8l2.2 2.7 -2.2 1.1 -2.3 -2.7zM630.8 419.9l2.3 2.7 -2.3 1.1 -2.2 -2.7zM628.6 421l2.2 2.7 -2.2 1.1 -2.2 -2.7zM626.4 422.1l2.2 2.7 -2.2 1.1 -2.2 -2.7z"/>
<path fill="#83ff7c" stroke="#83ff7c" stroke-width="0.55" stroke-linejoin="round" d="M552.7 328.2l2.3 1 -2.3 .9 -2.2 -1.1zM550.5 329l2.2 1.1 -2.2 1 -2.2 -1.2zM548.3 329.9l2.2 1.2 -2.2 .9 -2.3 -1.2zM557.2 328.2l2.2 1 -2.2 1 -2.2 -1zM561.7 328.2l2.2 .8 -2.2 1.1 -2.3 -.9zM563.9 329l2.2 .9 -2.2 1.2 -2.2 -1zM566.1 329.9l2.3 .9 -2.3 1.2 -2.2 -.9zM546 330.8l2.3 1.2 -2.3 1.5 -2.2 -1.4zM543.8 332.1l2.2 1.4 -2.2 1.4 -2.2 -1.4zM541.6 336.4l2.2 1.5 -2.2 1.5 -2.3 -1.5zM541.6 339.4l2.2 1.6 -2.2 1.7 -2.3 -1.7zM543.8 344.3l2.2 1.7 -2.2 1.8 -2.2 -1.8zM512.6 358.2l2.2 1.4 -2.2 2.2 -2.3 -1.3zM517 357.4l2.3 1.4 -2.3 2.2 -2.2 -1.4zM523.7 358.2l2.3 1.5 -2.3 2 -2.2 -1.4zM492.5 386.3l2.2 1.4 -2.2 3.8 -2.2 -1.3zM490.3 390.2l2.2 1.3 -2.2 3.9 -2.3 -1.3zM488 394.1l2.3 1.3 -2.3 3.8 -2.2 -1.3zM485.8 397.9l2.2 1.3 -2.2 3.9 -2.2 -1.3zM483.6 401.8l2.2 1.3 -2.2 3.8 -2.3 -1.2zM481.3 405.7l2.3 1.2 -2.3 3.9 -2.2 -1.3zM479.1 409.5l2.2 1.3 -2.2 4.1 -2.2 -1.2zM481.3 416.1l2.3 1.2 -2.3 4 -2.2 -1.2zM568.4 330.8l2.2 1.9 -2.2 1.3 -2.3 -2zM568.4 334l2.2 2 -2.2 1.4 -2.3 -2.1zM566.1 338.8l2.3 2.1 -2.3 1.4 -2.2 -2.2zM548.3 344.2l2.2 2.1 -2.2 1.8 -2.3 -2.1zM561.7 341.5l2.2 2.2 -2.2 1.7 -2.3 -2.2zM523.7 370l2.3 2.9 -2.3 2.1 -2.2 -3zM517 383.7l2.3 2.7 -2.3 3 -2.2 -2.5zM514.8 392.5l2.2 2.2 -2.2 2.9 -2.2 -2.1zM514.8 397.6l2.2 2 -2.2 2.6 -2.2 -1.8zM501.4 413.7l2.2 1.8 -2.2 3.8 -2.2 -1.8zM499.2 417.5l2.2 1.8 -2.2 3.8 -2.3 -1.9zM510.3 404.2l2.3 1.8 -2.3 3.8 -2.2 -1.8zM488 419.6l2.2 1.8 -2.2 3.9 -2.2 -1.8zM494.7 419.4l2.2 1.8 -2.2 3.8 -2.2 -1.8z"/>
<path fill="#87ff78" stroke="#87ff78" stroke-width="0.55" stroke-linejoin="round" d="M555 329.2l2.2 1 -2.2 1 -2.3 -1.1zM552.7 330.1l2.3 1.1 -2.3 1.1 -2.2 -1.2zM559.4 329.2l2.3 .9 -2.3 1.1 -2.2 -1zM561.7 330.1l2.2 1 -2.2 1.2 -2.3 -1.1zM546 333.5l2.3 1.3 -2.3 1.6 -2.2 -1.5zM543.8 334.9l2.2 1.5 -2.2 1.5 -2.2 -1.5zM543.8 337.9l2.2 1.5 -2.2 1.6 -2.2 -1.6zM543.8 341l2.2 1.6 -2.2 1.7 -2.2 -1.6zM546 342.6l2.3 1.6 -2.3 1.8 -2.2 -1.7zM510.3 360.5l2.3 1.3 -2.3 2.2 -2.2 -1.3zM519.3 358.8l2.2 1.5 -2.2 2 -2.3 -1.3zM526 359.7l2.2 1.6 -2.2 1.9 -2.3 -1.5zM501.4 372.1l2.2 1.2 -2.2 3.6 -2.2 -1.3zM499.2 375.6l2.2 1.3 -2.2 3.6 -2.3 -1.3zM496.9 379.2l2.3 1.3 -2.3 3.6 -2.2 -1.3zM494.7 382.8l2.2 1.3 -2.2 3.6 -2.2 -1.4zM481.3 410.8l2.3 1.2 -2.3 4.1 -2.2 -1.2zM483.6 417.3l2.2 1.1 -2.2 4 -2.3 -1.1zM485.8 418.4l2.2 1.2 -2.2 3.9 -2.2 -1.1zM566.1 335.3l2.3 2.1 -2.3 1.4 -2.2 -2.1zM563.9 340.1l2.2 2.2 -2.2 1.4 -2.2 -2.2zM555 342.8l2.2 2.2 -2.2 1.7 -2.3 -2.1zM526 363.2l2.2 2.8 -2.2 2 -2.3 -2.9zM503.6 409.9l2.3 1.9 -2.3 3.7 -2.2 -1.8zM512.6 400.4l2.2 1.8 -2.2 3.8 -2.3 -1.8z"/>
<path fill="#8bff74" stroke="#8bff74" stroke-width="0.55" stroke-linejoin="round" d="M550.5 331.1l2.2 1.2 -2.2 1 -2.2 -1.3zM557.2 330.2l2.2 1 -2.2 1.1 -2.2 -1.1zM563.9 331.1l2.2 .9 -2.2 1.3 -2.2 -1zM548.3 332l2.2 1.3 -2.2 1.5 -2.3 -1.3zM546 336.4l2.3 1.4 -2.3 1.6 -2.2 -1.5zM546 339.4l2.3 1.5 -2.3 1.7 -2.2 -1.6zM508.1 362.7l2.2 1.3 -2.2 2.2 -2.2 -1.2zM514.8 359.6l2.2 1.4 -2.2 2.1 -2.2 -1.3zM505.9 365l2.2 1.2 -2.2 3.5 -2.3 -1.2zM503.6 368.5l2.3 1.2 -2.3 3.6 -2.2 -1.2zM566.1 332l2.3 2 -2.3 1.3 -2.2 -2zM550.5 342.4l2.2 2.2 -2.2 1.7 -2.2 -2.1zM557.2 341.1l2.2 2.1 -2.2 1.8 -2.2 -2.2zM514.8 386.9l2.2 2.5 -2.2 3.1 -2.2 -2.3zM512.6 395.5l2.2 2.1 -2.2 2.8 -2.3 -1.8zM505.9 406.2l2.2 1.8 -2.2 3.8 -2.3 -1.9z"/>
<path fill="#8fff70" stroke="#8fff70" stroke-width="0.55" stroke-linejoin="round" d="M555 331.2l2.2 1.1 -2.2 1.2 -2.3 -1.2zM559.4 331.2l2.3 1.1 -2.3 1.2 -2.2 -1.2zM548.3 334.8l2.2 1.4 -2.2 1.6 -2.3 -1.4zM548.3 337.8l2.2 1.4 -2.2 1.7 -2.3 -1.5zM548.3 340.9l2.2 1.5 -2.2 1.8 -2.3 -1.6zM512.6 361.8l2.2 1.3 -2.2 2.1 -2.3 -1.2zM521.5 360.3l2.2 1.4 -2.2 2 -2.2 -1.4zM499.2 380.5l2.2 1.3 -2.2 3.6 -2.3 -1.3zM496.9 384.1l2.3 1.3 -2.3 3.7 -2.2 -1.4zM494.7 387.7l2.2 1.4 -2.2 3.8 -2.2 -1.4zM492.5 391.5l2.2 1.4 -2.2 3.8 -2.2 -1.3zM490.3 395.4l2.2 1.3 -2.2 3.8 -2.3 -1.3zM488 399.2l2.3 1.3 -2.3 3.9 -2.2 -1.3zM485.8 403.1l2.2 1.3 -2.2 3.8 -2.2 -1.3zM483.6 406.9l2.2 1.3 -2.2 3.8 -2.3 -1.2zM483.6 412l2.2 1.2 -2.2 4.1 -2.3 -1.2zM563.9 336.7l2.2 2.1 -2.2 1.3 -2.2 -2.1zM521.5 372l2.2 3 -2.2 2.1 -2.2 -3.1zM512.6 390.2l2.2 2.3 -2.2 3 -2.3 -2zM499.2 411.9l2.2 1.8 -2.2 3.8 -2.3 -1.9zM496.9 415.6l2.3 1.9 -2.3 3.7 -2.2 -1.8zM510.3 398.6l2.3 1.8 -2.3 3.8 -2.2 -1.8zM508.1 402.4l2.2 1.8 -2.2 3.8 -2.2 -1.8zM492.5 417.6l2.2 1.8 -2.2 3.8 -2.3 -1.8z"/>
<path fill="#93ff6c" stroke="#93ff6c" stroke-width="0.55" stroke-linejoin="round" d="M552.7 332.3l2.3 1.2 -2.3 1.1 -2.2 -1.3zM561.7 332.3l2.2 1 -2.2 1.3 -2.3 -1.1zM550.5 333.3l2.2 1.3 -2.2 1.6 -2.2 -1.4zM517 361l2.3 1.3 -2.3 2.1 -2.2 -1.3zM523.7 361.7l2.3 1.5 -2.3 1.9 -2.2 -1.4zM503.6 373.3l2.3 1.3 -2.3 3.6 -2.2 -1.3zM501.4 376.9l2.2 1.3 -2.2 3.6 -2.2 -1.3zM563.9 333.3l2.2 2 -2.2 1.4 -2.2 -2.1zM561.7 338l2.2 2.1 -2.2 1.4 -2.3 -2.2zM552.7 340.6l2.3 2.2 -2.3 1.8 -2.2 -2.2zM559.4 339.3l2.3 2.2 -2.3 1.7 -2.2 -2.1zM503.6 404.3l2.3 1.9 -2.3 3.7 -2.2 -1.8zM501.4 408.1l2.2 1.8 -2.2 3.8 -2.2 -1.8z"/>
<path fill="#97ff68" stroke="#97ff68" stroke-width="0.55" stroke-linejoin="round" d="M557.2 332.3l2.2 1.2 -2.2 1.1 -2.2 -1.1zM550.5 336.2l2.2 1.3 -2.2 1.7 -2.2 -1.4zM550.5 339.2l2.2 1.4 -2.2 1.8 -2.2 -1.5zM510.3 364l2.3 1.2 -2.3 2.1 -2.2 -1.1zM508.1 366.2l2.2 1.1 -2.2 3.6 -2.2 -1.2zM505.9 369.7l2.2 1.2 -2.2 3.7 -2.3 -1.3zM499.2 385.4l2.2 1.4 -2.2 3.6 -2.3 -1.3zM496.9 389.1l2.3 1.3 -2.3 3.8 -2.2 -1.3zM494.7 392.9l2.2 1.3 -2.2 3.8 -2.2 -1.3zM492.5 396.7l2.2 1.3 -2.2 3.8 -2.2 -1.3zM490.3 400.5l2.2 1.3 -2.2 3.8 -2.3 -1.2zM488 404.4l2.3 1.2 -2.3 3.8 -2.2 -1.2zM485.8 408.2l2.2 1.2 -2.2 3.8 -2.2 -1.2zM485.8 413.2l2.2 1.3 -2.2 3.9 -2.2 -1.1zM523.7 365.1l2.3 2.9 -2.3 2 -2.2 -3zM519.3 374l2.2 3.1 -2.2 3.3 -2.3 -2.9zM517 377.5l2.3 2.9 -2.3 3.3 -2.2 -2.7zM510.3 393.5l2.3 2 -2.3 3.1 -2.2 -1.8zM508.1 396.8l2.2 1.8 -2.2 3.8 -2.2 -1.8zM505.9 400.6l2.2 1.8 -2.2 3.8 -2.3 -1.9z"/>
<path fill="#9bff64" stroke="#9bff64" stroke-width="0.55" stroke-linejoin="round" d="M555 333.5l2.2 1.1 -2.2 1.2 -2.3 -1.2zM559.4 333.5l2.3 1.1 -2.3 1.2 -2.2 -1.2zM552.7 334.6l2.3 1.2 -2.3 1.7 -2.2 -1.3zM514.8 363.1l2.2 1.3 -2.2 2 -2.2 -1.2zM519.3 362.3l2.2 1.4 -2.2 2 -2.3 -1.3zM501.4 381.8l2.2 1.3 -2.2 3.7 -2.2 -1.4zM561.7 334.6l2.2 2.1 -2.2 1.3 -2.3 -2.2zM555 338.9l2.2 2.2 -2.2 1.7 -2.3 -2.2zM514.8 381l2.2 2.7 -2.2 3.2 -2.2 -2.4zM512.6 384.5l2.2 2.4 -2.2 3.3 -2.3 -2.2zM499.2 406.3l2.2 1.8 -2.2 3.8 -2.3 -1.9zM496.9 410l2.3 1.9 -2.3 3.7 -2.2 -1.8zM494.7 413.8l2.2 1.8 -2.2 3.8 -2.2 -1.8zM490.2 415.7l2.3 1.9 -2.3 3.8 -2.2 -1.8z"/>
<path fill="#a3ff5c" stroke="#a3ff5c" stroke-width="0.55" stroke-linejoin="round" d="M557.2 334.6l2.2 1.2 -2.2 1.3 -2.2 -1.3zM555 335.8l2.2 1.3 -2.2 1.8 -2.3 -1.4zM512.6 365.2l2.2 1.2 -2.2 2.1 -2.3 -1.2zM517 364.4l2.3 1.3 -2.3 2 -2.2 -1.3zM508.1 370.9l2.2 1.2 -2.2 3.7 -2.2 -1.2zM503.6 383.1l2.3 1.3 -2.3 3.7 -2.2 -1.3zM521.5 367l2.2 3 -2.2 2 -2.2 -3.1z"/>
<path fill="#7cff83" stroke="#7cff83" stroke-width="0.55" stroke-linejoin="round" d="M534.9 334.7l2.2 1.6 -2.2 1.4 -2.2 -1.7zM532.7 336l2.2 1.7 -2.2 1.3 -2.3 -1.7zM530.4 337.3l2.3 1.7 -2.3 2.1 -2.2 -1.7zM528.2 339.4l2.2 1.7 -2.2 2.1 -2.2 -1.7zM526 341.5l2.2 1.7 -2.2 2 -2.3 -1.7zM523.7 343.5l2.3 1.7 -2.3 2.1 -2.2 -1.7zM521.5 345.6l2.2 1.7 -2.2 2 -2.2 -1.6zM519.3 347.7l2.2 1.6 -2.2 2.1 -2.3 -1.6zM532.7 339l2.2 1.8 -2.2 2 -2.3 -1.7zM530.4 341.1l2.3 1.7 -2.3 2 -2.2 -1.6zM528.2 343.2l2.2 1.6 -2.2 2.1 -2.2 -1.7zM526 345.2l2.2 1.7 -2.2 2 -2.3 -1.6zM523.7 347.3l2.3 1.6 -2.3 2.1 -2.2 -1.7zM521.5 349.3l2.2 1.7 -2.2 2 -2.2 -1.6zM532.7 342.8l2.2 1.7 -2.2 2 -2.3 -1.7zM530.4 344.8l2.3 1.7 -2.3 2.1 -2.2 -1.7zM528.2 346.9l2.2 1.7 -2.2 2 -2.2 -1.7zM526 348.9l2.2 1.7 -2.2 2 -2.3 -1.6zM523.7 351l2.3 1.6 -2.3 2 -2.2 -1.6zM532.7 346.5l2.2 1.7 -2.2 2 -2.3 -1.6zM530.4 348.6l2.3 1.6 -2.3 2 -2.2 -1.6zM528.2 350.6l2.2 1.6 -2.2 2 -2.2 -1.6zM526 352.6l2.2 1.6 -2.2 2 -2.3 -1.6zM534.9 348.2l2.2 1.7 -2.2 2 -2.2 -1.7zM532.7 350.2l2.2 1.7 -2.2 1.9 -2.3 -1.6zM530.4 352.2l2.3 1.6 -2.3 2 -2.2 -1.6zM528.2 354.2l2.2 1.6 -2.2 2 -2.2 -1.6zM537.1 349.9l2.2 1.7 -2.2 2 -2.2 -1.7zM534.9 351.9l2.2 1.7 -2.2 1.9 -2.2 -1.7zM532.7 353.8l2.2 1.7 -2.2 1.9 -2.3 -1.6zM530.4 355.8l2.3 1.6 -2.3 2 -2.2 -1.6zM517 349.8l2.3 1.6 -2.3 2.3 -2.2 -1.6zM514.8 352.1l2.2 1.6 -2.2 2.2 -2.2 -1.4zM519.3 351.4l2.2 1.6 -2.2 2.2 -2.3 -1.5zM521.5 353l2.2 1.6 -2.2 2.1 -2.2 -1.5zM523.7 354.6l2.3 1.6 -2.3 2 -2.2 -1.5zM526 356.2l2.2 1.6 -2.2 1.9 -2.3 -1.5zM528.2 357.8l2.2 1.6 -2.2 1.9 -2.2 -1.6zM474.6 412.5l2.3 1.2 -2.3 4.1 -2.2 -1.1zM472.4 416.7l2.2 1.1 -2.2 4.2 -2.2 -1.1zM470.2 420.9l2.2 1.1 -2.2 4.2 -2.3 -1.1zM467.9 425.1l2.3 1.1 -2.3 4.1 -2.2 -1zM465.7 429.3l2.2 1 -2.2 4.2 -2.2 -1zM474.6 417.8l2.3 1.2 -2.3 4.1 -2.2 -1.1zM472.4 422l2.2 1.1 -2.2 4.1 -2.2 -1zM476.9 419l2.2 1.1 -2.2 4.1 -2.3 -1.1zM479.1 420.1l2.2 1.2 -2.2 4 -2.2 -1.1zM481.3 421.3l2.3 1.1 -2.3 4 -2.2 -1.1zM483.6 422.4l2.2 1.1 -2.2 4 -2.3 -1.1zM575.1 333.2l2.2 1.9 -2.2 1.5 -2.3 -2zM577.3 335.1l2.2 1.9 -2.2 1.5 -2.2 -1.9zM575.1 336.6l2.2 1.9 -2.2 1.5 -2.3 -2zM572.8 338l2.3 2 -2.3 1.5 -2.2 -2.1zM570.6 339.4l2.2 2.1 -2.2 1.5 -2.2 -2.1zM568.4 340.9l2.2 2.1 -2.2 1.5 -2.3 -2.2zM566.1 342.3l2.3 2.2 -2.3 1.5 -2.2 -2.3zM579.5 337l2.2 1.9 -2.2 1.5 -2.2 -1.9zM577.3 338.5l2.2 1.9 -2.2 1.6 -2.2 -2zM575.1 340l2.2 2 -2.2 1.5 -2.3 -2zM581.7 338.9l2.3 1.8 -2.3 1.6 -2.2 -1.9zM579.5 340.4l2.2 1.9 -2.2 1.7 -2.2 -2zM550.5 346.3l2.2 2.1 -2.2 1.7 -2.2 -2zM548.3 348.1l2.2 2 -2.2 1.7 -2.3 -2zM557.2 345l2.2 2.1 -2.2 1.7 -2.2 -2.1zM555 346.7l2.2 2.1 -2.2 1.7 -2.3 -2.1zM563.9 343.7l2.2 2.3 -2.2 1.6 -2.2 -2.2zM561.7 345.4l2.2 2.2 -2.2 1.7 -2.3 -2.2zM543.8 347.8l2.2 2 -2.2 2 -2.2 -2.1zM541.6 349.7l2.2 2.1 -2.2 2.1 -2.3 -2.3zM539.3 351.6l2.3 2.3 -2.3 2 -2.2 -2.3zM526 368l2.2 2.9 -2.2 2 -2.3 -2.9zM521.5 377.1l2.2 3.1 -2.2 3.1 -2.2 -2.9zM517 389.4l2.3 2.5 -2.3 2.8 -2.2 -2.2zM517 394.7l2.3 2.3 -2.3 2.6 -2.2 -2zM517 399.6l2.3 2 -2.3 2.4 -2.2 -1.8zM503.6 415.5l2.3 1.9 -2.3 3.8 -2.2 -1.9zM501.4 419.3l2.2 1.9 -2.2 3.7 -2.2 -1.8zM510.3 409.8l2.3 1.8 -2.3 3.8 -2.2 -1.8zM508.1 413.6l2.2 1.8 -2.2 3.8 -2.2 -1.8zM492.5 423.2l2.2 1.8 -2.2 3.7 -2.2 -1.7zM496.9 421.2l2.3 1.9 -2.3 3.6 -2.2 -1.7zM584 340.7l2.2 2 -2.2 1.6 -2.3 -2zM586.2 342.7l2.2 1.9 -2.2 1.6 -2.2 -1.9zM584 344.3l2.2 1.9 -2.2 1.6 -2.3 -1.9zM588.4 344.6l2.3 2 -2.3 1.5 -2.2 -1.9zM586.2 346.2l2.2 1.9 -2.2 1.6 -2.2 -1.9zM590.7 346.6l2.2 1.9 -2.2 1.6 -2.3 -2zM588.4 348.1l2.3 2 -2.3 1.6 -2.2 -2zM592.9 348.5l2.2 2 -2.2 1.5 -2.2 -1.9zM590.7 350.1l2.2 1.9 -2.2 1.6 -2.3 -1.9zM588.4 351.7l2.3 1.9 -2.3 1.5 -2.2 -1.9zM595.1 350.5l2.3 1.9 -2.3 1.6 -2.2 -2zM592.9 352l2.2 2 -2.2 1.5 -2.2 -1.9zM590.7 353.6l2.2 1.9 -2.2 1.5 -2.3 -1.9zM588.4 355.1l2.3 1.9 -2.3 1.6 -2.2 -1.9zM586.2 356.7l2.2 1.9 -2.2 1.5 -2.2 -1.8zM517 404l2.3 2.4 -2.3 3.8 -2.2 -2.4zM597.4 352.4l2.2 2.9 -2.2 1.6 -2.3 -2.9zM595.1 354l2.3 2.9 -2.3 1.5 -2.2 -2.9zM592.9 355.5l2.2 2.9 -2.2 1.6 -2.2 -3zM590.7 357l2.2 3 -2.2 1.6 -2.3 -3zM588.4 358.6l2.3 3 -2.3 1.5 -2.2 -3zM586.2 360.1l2.2 3 -2.2 1.6 -2.2 -3zM599.6 355.3l2.2 2.9 -2.2 1.6 -2.2 -2.9zM597.4 356.9l2.2 2.9 -2.2 1.6 -2.3 -3zM595.1 358.4l2.3 3 -2.3 1.6 -2.2 -3zM592.9 360l2.2 3 -2.2 1.6 -2.2 -3zM590.7 361.6l2.2 3 -2.2 1.6 -2.3 -3.1zM588.4 363.1l2.3 3.1 -2.3 1.5 -2.2 -3zM601.8 358.2l2.3 2.9 -2.3 1.6 -2.2 -2.9zM599.6 359.8l2.2 2.9 -2.2 1.6 -2.2 -2.9zM597.4 361.4l2.2 2.9 -2.2 1.6 -2.3 -2.9zM595.1 363l2.3 2.9 -2.3 1.6 -2.2 -2.9zM592.9 364.6l2.2 2.9 -2.2 1.7 -2.2 -3zM590.7 366.2l2.2 3 -2.2 1.6 -2.3 -3.1zM604.1 361.1l2.2 2.9 -2.2 1.6 -2.3 -2.9zM601.8 362.7l2.3 2.9 -2.3 1.7 -2.2 -3zM599.6 364.3l2.2 3 -2.2 1.6 -2.2 -3zM597.4 365.9l2.2 3 -2.2 1.6 -2.3 -3zM595.1 367.5l2.3 3 -2.3 1.7 -2.2 -3zM592.9 369.2l2.2 3 -2.2 1.6 -2.2 -3zM606.3 364l2.2 2.9 -2.2 1.7 -2.2 -3zM604.1 365.6l2.2 3 -2.2 1.6 -2.3 -2.9zM601.8 367.3l2.3 2.9 -2.3 1.7 -2.2 -3zM599.6 368.9l2.2 3 -2.2 1.6 -2.2 -3zM597.4 370.5l2.2 3 -2.2 1.7 -2.3 -3zM595.1 372.2l2.3 3 -2.3 1.6 -2.2 -3zM608.5 366.9l2.3 2.9 -2.3 1.7 -2.2 -2.9zM606.3 368.6l2.2 2.9 -2.2 1.6 -2.2 -2.9zM604.1 370.2l2.2 2.9 -2.2 1.7 -2.3 -2.9zM601.8 371.9l2.3 2.9 -2.3 1.7 -2.2 -3zM599.6 373.5l2.2 3 -2.2 1.7 -2.2 -3zM597.4 375.2l2.2 3 -2.2 1.6 -2.3 -3zM610.8 369.8l2.2 4.3 -2.2 1.6 -2.3 -4.2zM608.5 371.5l2.3 4.2 -2.3 1.7 -2.2 -4.3zM606.3 373.1l2.2 4.3 -2.2 1.6 -2.2 -4.2zM604.1 374.8l2.2 4.2 -2.2 1.6 -2.3 -4.1zM601.8 376.5l2.3 4.1 -2.3 1.6 -2.2 -4zM599.6 378.2l2.2 4 -2.2 1.6 -2.2 -4zM613 374.1l2.2 4.4 -2.2 1.5 -2.2 -4.3zM610.8 375.7l2.2 4.3 -2.2 1.6 -2.3 -4.2zM608.5 377.4l2.3 4.2 -2.3 1.5 -2.2 -4.1zM606.3 379l2.2 4.1 -2.2 1.5 -2.2 -4zM615.2 378.5l2.3 4.3 -2.3 1.5 -2.2 -4.3zM613 380l2.2 4.3 -2.2 1.5 -2.2 -4.2zM610.8 381.6l2.2 4.2 -2.2 1.4 -2.3 -4.1zM608.5 383.1l2.3 4.1 -2.3 1.5 -2.2 -4.1zM617.5 382.8l2.2 4.4 -2.2 1.4 -2.3 -4.3zM615.2 384.3l2.3 4.3 -2.3 1.4 -2.2 -4.2zM613 385.8l2.2 4.2 -2.2 1.4 -2.2 -4.2zM619.7 387.2l2.2 4.3 -2.2 1.3 -2.2 -4.2zM617.5 388.6l2.2 4.2 -2.2 1.4 -2.3 -4.2zM615.2 390l2.3 4.2 -2.3 1.3 -2.2 -4.1zM621.9 391.5l2.3 4.4 -2.3 1.2 -2.2 -4.3zM619.7 392.8l2.2 4.3 -2.2 1.3 -2.2 -4.2zM624.2 395.9l2.2 3.4 -2.2 1.2 -2.3 -3.4zM621.9 397.1l2.3 3.4 -2.3 1.3 -2.2 -3.4zM626.4 399.3l2.2 3.5 -2.2 1.2 -2.2 -3.5zM624.2 400.5l2.2 3.5 -2.3 1.2 -2.2 -3.4zM621.9 401.8l2.2 3.4 -2.2 1.2 -2.2 -3.4zM628.6 402.8l2.2 3.4 -2.2 1.2 -2.2 -3.4zM626.4 404l2.2 3.4 -2.2 1.2 -2.3 -3.4zM624.1 405.2l2.3 3.4 -2.3 1.2 -2.2 -3.4zM621.9 406.4l2.2 3.4 -2.2 1.1 -2.2 -3.3zM619.7 407.6l2.2 3.3 -2.2 1.2 -2.2 -3.3zM630.8 406.2l2.3 3.5 -2.3 1.2 -2.2 -3.5zM628.6 407.4l2.2 3.5 -2.2 1.1 -2.2 -3.4zM626.4 408.6l2.2 3.4 -2.2 1.1 -2.3 -3.3zM624.1 409.8l2.3 3.3 -2.3 1.2 -2.2 -3.4zM621.9 410.9l2.2 3.4 -2.2 1.1 -2.2 -3.3zM619.7 412.1l2.2 3.3 -2.2 1.2 -2.2 -3.3zM633.1 409.7l2.2 3.5 -2.2 1.1 -2.3 -3.4zM630.8 410.9l2.3 3.4 -2.3 1.1 -2.2 -3.4zM628.6 412l2.2 3.4 -2.2 1.1 -2.2 -3.4zM626.4 413.1l2.2 3.4 -2.2 1.1 -2.3 -3.3zM624.1 414.3l2.3 3.3 -2.2 1.2 -2.3 -3.4zM621.9 415.4l2.3 3.4 -2.3 1.1 -2.2 -3.3zM635.3 413.2l2.2 3.4 -2.2 1.1 -2.2 -3.4zM633.1 414.3l2.2 3.4 -2.2 1.1 -2.3 -3.4zM619.7 416.6l2.2 3.3 -2.2 1.7 -2.2 -3.3zM621.9 419.9l2.3 3.3 -2.3 1.6 -2.2 -3.2zM637.5 416.6l2.3 2.6 -2.3 1.1 -2.2 -2.6zM635.3 417.7l2.2 2.6 -2.2 1.2 -2.2 -2.7zM639.8 419.2l2.2 2.6 -2.2 1.2 -2.3 -2.7zM637.5 420.3l2.3 2.7 -2.3 1.1 -2.2 -2.6zM635.3 421.5l2.2 2.6 -2.2 1.1 -2.2 -2.6zM633.1 422.6l2.2 2.6 -2.2 1.1 -2.3 -2.6zM630.8 423.7l2.3 2.6 -2.3 1.2 -2.2 -2.7zM628.6 424.8l2.2 2.7 -2.2 1.1 -2.2 -2.7zM642 421.8l2.2 2.6 -2.2 1.2 -2.2 -2.6zM639.8 423l2.2 2.6 -2.2 1.1 -2.3 -2.6zM637.5 424.1l2.3 2.6 -2.3 1.2 -2.2 -2.7zM635.3 425.2l2.2 2.7 -2.2 1.1 -2.2 -2.7zM633.1 426.3l2.2 2.7 -2.2 1.2 -2.3 -2.7zM630.8 427.5l2.3 2.7 -2.3 1.1 -2.2 -2.7zM644.2 424.4l2.3 2.6 -2.3 1.2 -2.2 -2.6zM642 425.6l2.2 2.6 -2.2 1.2 -2.2 -2.7zM639.8 426.7l2.2 2.7 -2.2 1.1 -2.3 -2.6zM637.5 427.9l2.3 2.6 -2.3 1.2 -2.2 -2.7zM635.3 429l2.2 2.7 -2.2 1.2 -2.2 -2.7zM646.5 427l2.2 2.6 -2.2 1.2 -2.3 -2.6zM644.2 428.2l2.3 2.6 -2.3 1.2 -2.2 -2.6zM642 429.4l2.2 2.6 -2.2 1.2 -2.2 -2.7zM648.7 429.6l2.2 2.6 -2.2 1.2 -2.2 -2.6zM646.5 430.8l2.2 2.6 -2.2 1.2 -2.3 -2.6zM624.2 423.2l2.2 2.7 -2.2 1.6 -2.3 -2.7zM626.4 425.9l2.2 2.7 -2.2 1.6 -2.2 -2.7z"/>
<path fill="#9fff60" stroke="#9fff60" stroke-width="0.55" stroke-linejoin="round" d="M552.7 337.5l2.3 1.4 -2.3 1.7 -2.2 -1.4zM521.5 363.7l2.2 1.4 -2.2 1.9 -2.2 -1.3zM505.9 374.6l2.2 1.2 -2.2 3.7 -2.3 -1.3zM503.6 378.2l2.3 1.3 -2.3 3.6 -2.2 -1.3zM501.4 386.8l2.2 1.3 -2.2 3.7 -2.2 -1.4zM499.2 390.4l2.2 1.4 -2.2 3.8 -2.3 -1.4zM496.9 394.2l2.3 1.4 -2.3 3.8 -2.2 -1.4zM494.7 398l2.2 1.4 -2.2 3.7 -2.2 -1.3zM492.5 401.8l2.2 1.3 -2.2 3.8 -2.2 -1.3zM490.3 405.6l2.2 1.3 -2.2 3.8 -2.3 -1.3zM488 409.4l2.3 1.3 -2.3 3.8 -2.2 -1.3zM488 414.5l2.2 1.2 -2.2 3.9 -2.2 -1.2zM559.4 335.8l2.3 2.2 -2.3 1.3 -2.2 -2.2zM557.2 337.1l2.2 2.2 -2.2 1.8 -2.2 -2.2zM510.3 388l2.3 2.2 -2.3 3.3 -2.2 -2zM508.1 391.5l2.2 2 -2.2 3.3 -2.2 -1.8zM505.9 395l2.2 1.8 -2.2 3.8 -2.3 -1.9zM503.6 398.7l2.3 1.9 -2.3 3.7 -2.2 -1.8zM501.4 402.5l2.2 1.8 -2.2 3.8 -2.2 -1.8z"/>
<path fill="#afff50" stroke="#afff50" stroke-width="0.55" stroke-linejoin="round" d="M514.8 366.4l2.2 1.3 -2.2 2 -2.2 -1.2zM519.3 365.7l2.2 1.3 -2.2 1.9 -2.3 -1.2zM510.3 372.1l2.3 1.2 -2.3 3.7 -2.2 -1.2zM505.9 384.4l2.2 1.3 -2.2 3.7 -2.3 -1.3zM510.3 382l2.3 2.5 -2.3 3.5 -2.2 -2.3z"/>
<path fill="#bbff44" stroke="#bbff44" stroke-width="0.55" stroke-linejoin="round" d="M517 367.7l2.3 1.2 -2.3 1.9 -2.2 -1.1zM512.6 373.3l2.2 1.2 -2.2 3.8 -2.3 -1.3z"/>
<path fill="#a7ff58" stroke="#a7ff58" stroke-width="0.55" stroke-linejoin="round" d="M510.3 367.3l2.3 1.2 -2.3 3.6 -2.2 -1.2zM505.9 379.5l2.2 1.2 -2.2 3.7 -2.3 -1.3zM501.4 391.8l2.2 1.4 -2.2 3.7 -2.2 -1.3zM499.2 395.6l2.2 1.3 -2.2 3.8 -2.3 -1.3zM496.9 399.4l2.3 1.3 -2.3 3.7 -2.2 -1.3zM494.7 403.1l2.2 1.3 -2.2 3.8 -2.2 -1.3zM492.5 406.9l2.2 1.3 -2.2 3.8 -2.2 -1.3zM490.3 410.7l2.2 1.3 -2.3 3.7 -2.2 -1.2zM503.6 393.2l2.3 1.8 -2.3 3.7 -2.2 -1.8zM501.4 396.9l2.2 1.8 -2.2 3.8 -2.2 -1.8zM499.2 400.7l2.2 1.8 -2.2 3.8 -2.3 -1.9zM496.9 404.4l2.3 1.9 -2.3 3.7 -2.2 -1.8zM494.7 408.2l2.2 1.8 -2.2 3.8 -2.2 -1.8zM492.5 412l2.2 1.8 -2.2 3.8 -2.3 -1.9z"/>
<path fill="#b3ff4c" stroke="#b3ff4c" stroke-width="0.55" stroke-linejoin="round" d="M512.6 368.5l2.2 1.2 -2.2 3.6 -2.3 -1.2zM508.1 380.7l2.2 1.3 -2.2 3.7 -2.2 -1.3zM519.3 368.9l2.2 3.1 -2.2 2 -2.3 -3.2zM514.8 374.5l2.2 3 -2.2 3.5 -2.2 -2.7zM512.6 378.3l2.2 2.7 -2.2 3.5 -2.3 -2.5z"/>
<path fill="#abff54" stroke="#abff54" stroke-width="0.55" stroke-linejoin="round" d="M508.1 375.8l2.2 1.2 -2.2 3.7 -2.2 -1.2zM503.6 388.1l2.3 1.3 -2.3 3.8 -2.2 -1.4zM508.1 385.7l2.2 2.3 -2.2 3.5 -2.2 -2.1zM505.9 389.4l2.2 2.1 -2.2 3.5 -2.3 -1.8z"/>
<path fill="#bfff40" stroke="#bfff40" stroke-width="0.55" stroke-linejoin="round" d="M514.8 369.7l2.2 1.1 -2.2 3.7 -2.2 -1.2z"/>
<path fill="#b7ff48" stroke="#b7ff48" stroke-width="0.55" stroke-linejoin="round" d="M510.3 377l2.3 1.3 -2.3 3.7 -2.2 -1.3zM517 370.8l2.3 3.2 -2.3 3.5 -2.2 -3z"/>
<path fill="#78ff87" stroke="#78ff87" stroke-width="0.55" stroke-linejoin="round" d="M470.2 426.2l2.2 1 -2.2 4.1 -2.3 -1zM474.6 423.1l2.3 1.1 -2.3 4 -2.2 -1zM476.9 424.2l2.2 1.1 -2.2 4 -2.3 -1.1zM572.8 341.5l2.3 2 -2.3 1.6 -2.2 -2.1zM570.6 343l2.2 2.1 -2.2 1.5 -2.2 -2.1zM568.4 344.5l2.2 2.1 -2.2 1.6 -2.3 -2.2zM577.3 342l2.2 2 -2.2 1.6 -2.2 -2.1zM575.1 343.5l2.2 2.1 -2.2 1.6 -2.3 -2.1zM552.7 348.4l2.3 2.1 -2.3 1.7 -2.2 -2.1zM550.5 350.1l2.2 2.1 -2.2 1.7 -2.2 -2.1zM559.4 347.1l2.3 2.2 -2.3 1.7 -2.2 -2.2zM557.2 348.8l2.2 2.2 -2.2 1.6 -2.2 -2.1zM566.1 346l2.3 2.2 -2.3 1.6 -2.2 -2.2zM537.1 353.6l2.2 2.3 -2.2 2 -2.2 -2.4zM534.9 355.5l2.2 2.4 -2.2 2 -2.2 -2.5zM532.7 357.4l2.2 2.5 -2.2 2.1 -2.3 -2.6zM546 349.8l2.3 2 -2.3 2.2 -2.2 -2.2zM543.8 351.8l2.2 2.2 -2.2 2.1 -2.2 -2.2zM530.4 359.4l2.3 2.6 -2.3 2 -2.2 -2.7zM528.2 366l2.2 2.8 -2.2 2.1 -2.2 -2.9zM523.7 375l2.3 3.1 -2.3 2.1 -2.2 -3.1zM519.3 386.4l2.2 2.7 -2.2 2.8 -2.3 -2.5zM505.9 417.4l2.2 1.8 -2.2 3.8 -2.3 -1.8zM503.6 421.2l2.3 1.8 -2.3 3.8 -2.2 -1.9zM485.8 423.5l2.2 1.8 -2.2 3.8 -2.2 -1.6zM499.2 423.1l2.2 1.8 -2.2 3.6 -2.3 -1.8zM581.7 342.3l2.3 2 -2.3 1.6 -2.2 -1.9zM579.5 344l2.2 1.9 -2.2 1.6 -2.2 -1.9zM581.7 345.9l2.3 1.9 -2.3 1.6 -2.2 -1.9zM579.5 347.5l2.2 1.9 -2.2 1.6 -2.2 -1.9zM584 347.8l2.2 1.9 -2.2 1.6 -2.3 -1.9zM581.7 349.4l2.3 1.9 -2.3 1.6 -2.2 -1.9zM586.2 349.7l2.2 2 -2.2 1.5 -2.2 -1.9zM584 351.3l2.2 1.9 -2.2 1.6 -2.3 -1.9zM581.7 352.9l2.3 1.9 -2.3 1.6 -2.2 -1.9zM586.2 353.2l2.2 1.9 -2.2 1.6 -2.2 -1.9zM584 354.8l2.2 1.9 -2.2 1.6 -2.3 -1.9zM581.7 356.4l2.3 1.9 -2.3 1.5 -2.2 -1.9zM584 358.3l2.2 1.8 -2.2 1.6 -2.3 -1.9zM519.3 401.6l2.2 2.4 -2.2 2.4 -2.3 -2.4zM514.8 407.8l2.2 2.4 -2.2 3.8 -2.2 -2.4zM512.6 411.6l2.2 2.4 -2.2 3.9 -2.3 -2.5zM586.2 364.7l2.2 3 -2.2 2.4 -2.2 -3zM588.4 367.7l2.3 3.1 -2.3 2.2 -2.2 -2.9zM590.7 370.8l2.2 3 -2.2 2.2 -2.3 -3zM592.9 373.8l2.2 3 -2.2 2.1 -2.2 -2.9zM595.1 376.8l2.3 3 -2.3 2 -2.2 -2.9zM604.1 380.6l2.2 4 -2.2 1.6 -2.3 -4zM601.8 382.2l2.3 4 -2.3 1.5 -2.2 -3.9zM606.3 384.6l2.2 4.1 -2.2 1.5 -2.2 -4zM604.1 386.2l2.2 4 -2.2 1.4 -2.3 -3.9zM610.8 387.2l2.2 4.2 -2.2 1.4 -2.3 -4.1zM608.5 388.7l2.3 4.1 -2.3 1.3 -2.2 -3.9zM606.3 390.2l2.2 3.9 -2.2 1.4 -2.2 -3.9zM613 391.4l2.2 4.1 -2.2 1.3 -2.2 -4zM610.8 392.8l2.2 4 -2.2 1.3 -2.3 -4zM608.5 394.1l2.3 4 -2.3 1.4 -2.2 -4zM617.5 394.2l2.2 4.2 -2.2 1.2 -2.3 -4.1zM615.2 395.5l2.3 4.1 -2.3 1.3 -2.2 -4.1zM613 396.8l2.2 4.1 -2.2 1.2 -2.2 -4zM597.4 379.8l2.2 4 -2.2 1.9 -2.3 -3.9zM599.6 383.8l2.2 3.9 -2.2 1.9 -2.2 -3.9zM619.7 398.4l2.2 3.4 -2.2 1.2 -2.2 -3.4zM617.5 399.6l2.2 3.4 -2.2 1.2 -2.3 -3.3zM615.2 400.9l2.3 3.3 -2.3 1.3 -2.2 -3.4zM619.7 403l2.2 3.4 -2.2 1.2 -2.2 -3.4zM617.5 404.2l2.2 3.4 -2.2 1.2 -2.3 -3.3zM615.2 405.5l2.3 3.3 -2.3 1.2 -2.2 -3.3zM617.5 408.8l2.2 3.3 -2.2 1.2 -2.3 -3.3zM615.2 410l2.3 3.3 -2.3 1.7 -2.2 -3.3zM617.5 413.3l2.2 3.3 -2.2 1.7 -2.3 -3.3zM617.5 418.3l2.2 3.3 -2.2 1.6 -2.3 -3.3zM619.7 421.6l2.2 3.2 -2.2 1.7 -2.2 -3.3zM633.1 430.2l2.2 2.7 -2.2 1.1 -2.3 -2.7zM639.8 430.5l2.2 2.7 -2.2 1.2 -2.3 -2.7zM637.5 431.7l2.3 2.7 -2.3 1.2 -2.2 -2.7zM635.3 432.9l2.2 2.7 -2.2 1.1 -2.2 -2.7zM644.2 432l2.3 2.6 -2.3 1.2 -2.2 -2.6zM642 433.2l2.2 2.6 -2.2 1.2 -2.2 -2.6zM639.8 434.4l2.2 2.6 -2.2 1.3 -2.3 -2.7zM621.9 424.8l2.3 2.7 -2.3 1.7 -2.2 -2.7zM624.2 427.5l2.2 2.7 -2.2 1.6 -2.3 -2.6zM628.6 428.6l2.2 2.7 -2.2 1.6 -2.2 -2.7zM630.8 431.3l2.3 2.7 -2.3 1.6 -2.2 -2.7z"/>
<path fill="#74ff8b" stroke="#74ff8b" stroke-width="0.55" stroke-linejoin="round" d="M467.9 430.3l2.3 1 -2.3 4.1 -2.2 -.9zM472.4 427.2l2.2 1 -2.2 4.1 -2.2 -1zM479.1 425.3l2.2 1.1 -2.2 3.9 -2.2 -1zM481.3 426.4l2.3 1.1 -2.3 3.9 -2.2 -1.1zM572.8 345.1l2.3 2.1 -2.3 1.6 -2.2 -2.2zM555 350.5l2.2 2.1 -2.2 1.7 -2.3 -2.1zM552.7 352.2l2.3 2.1 -2.3 1.6 -2.2 -2zM563.9 347.6l2.2 2.2 -2.2 1.7 -2.2 -2.2zM561.7 349.3l2.2 2.2 -2.2 1.6 -2.3 -2.1zM541.6 353.9l2.2 2.2 -2.2 2.1 -2.3 -2.3zM548.3 351.8l2.2 2.1 -2.2 2.2 -2.3 -2.1zM530.4 364l2.3 2.7 -2.3 2.1 -2.2 -2.8zM526 372.9l2.2 3 -2.2 2.2 -2.3 -3.1zM521.5 383.3l2.2 2.9 -2.2 2.9 -2.2 -2.7zM519.3 391.9l2.2 2.5 -2.2 2.6 -2.3 -2.3zM519.3 397l2.2 2.2 -2.2 2.4 -2.3 -2zM488 425.3l2.3 1.7 -2.3 3.7 -2.2 -1.6zM494.7 425l2.2 1.7 -2.2 3.7 -2.2 -1.7zM501.4 424.9l2.2 1.9 -2.2 3.5 -2.2 -1.8zM577.3 345.6l2.2 1.9 -2.2 1.6 -2.2 -1.9zM575.1 347.2l2.2 1.9 -2.2 1.6 -2.3 -1.9zM577.3 349.1l2.2 1.9 -2.2 1.6 -2.2 -1.9zM579.5 351l2.2 1.9 -2.2 1.6 -2.2 -1.9zM577.3 352.6l2.2 1.9 -2.2 1.5 -2.2 -1.8zM579.5 354.5l2.2 1.9 -2.2 1.5 -2.2 -1.9zM579.5 357.9l2.2 1.9 -2.2 2.4 -2.2 -2.1zM581.7 359.8l2.3 1.9 -2.3 2.5 -2.2 -2zM521.5 404l2.2 2.4 -2.2 2.4 -2.2 -2.4zM510.3 415.4l2.3 2.5 -2.3 3.8 -2.2 -2.5zM508.1 419.2l2.2 2.5 -2.2 3.8 -2.2 -2.5zM519.3 406.4l2.2 2.4 -2.2 3.8 -2.3 -2.4zM517 410.2l2.3 2.4 -2.3 3.9 -2.2 -2.5zM584 361.7l2.2 3 -2.2 2.4 -2.3 -2.9zM610.8 398.1l2.2 4 -2.2 1.3 -2.3 -3.9zM601.8 387.7l2.3 3.9 -2.3 1.9 -2.2 -3.9zM604.1 391.6l2.2 3.9 -2.2 1.8 -2.3 -3.8zM606.3 395.5l2.2 4 -2.2 1.7 -2.2 -3.9zM608.5 399.5l2.3 3.9 -2.3 1.7 -2.2 -3.9zM613 402.1l2.2 3.4 -2.2 1.2 -2.2 -3.3zM610.8 403.4l2.2 3.3 -2.2 1.7 -2.3 -3.3zM613 406.7l2.2 3.3 -2.2 1.7 -2.2 -3.3zM613 411.7l2.2 3.3 -2.2 1.6 -2.2 -3.3zM615.2 415l2.3 3.3 -2.3 1.6 -2.2 -3.3zM615.2 419.9l2.3 3.3 -2.3 1.7 -2.2 -3.3zM617.5 423.2l2.2 3.3 -2.2 1.7 -2.3 -3.3zM637.5 435.6l2.3 2.7 -2.3 1.2 -2.2 -2.8zM619.7 426.5l2.2 2.7 -2.2 1.6 -2.2 -2.6zM621.9 429.2l2.3 2.6 -2.3 1.6 -2.2 -2.6zM626.4 430.2l2.2 2.7 -2.2 1.6 -2.2 -2.7zM628.6 432.9l2.2 2.7 -2.2 1.6 -2.2 -2.7zM633.1 434l2.2 2.7 -2.2 1.6 -2.3 -2.7zM635.3 436.7l2.2 2.8 -2.2 1.5 -2.2 -2.7z"/>
<path fill="#70ff8f" stroke="#70ff8f" stroke-width="0.55" stroke-linejoin="round" d="M470.2 431.3l2.2 1 -2.2 4.1 -2.3 -1zM474.6 428.2l2.3 1.1 -2.3 4 -2.2 -1zM570.6 346.6l2.2 2.2 -2.2 1.6 -2.2 -2.2zM559.4 351l2.3 2.1 -2.3 1.6 -2.2 -2.1zM557.2 352.6l2.2 2.1 -2.2 1.6 -2.2 -2zM568.4 348.2l2.2 2.2 -2.2 1.6 -2.3 -2.2zM566.1 349.8l2.3 2.2 -2.3 1.6 -2.2 -2.1zM539.3 355.9l2.3 2.3 -2.3 2.1 -2.2 -2.4zM537.1 357.9l2.2 2.4 -2.2 2.2 -2.2 -2.6zM546 354l2.3 2.1 -2.3 2.2 -2.2 -2.2zM550.5 353.9l2.2 2 -2.2 2.4 -2.2 -2.2zM528.2 370.9l2.2 2.8 -2.2 2.2 -2.2 -3zM523.7 380.2l2.3 3.2 -2.3 2.8 -2.2 -2.9zM483.6 427.5l2.2 1.6 -2.2 3.8 -2.3 -1.5zM490.3 427l2.2 1.7 -2.2 3.7 -2.3 -1.7zM496.9 426.7l2.3 1.8 -2.3 3.6 -2.2 -1.7zM572.8 348.8l2.3 1.9 -2.3 1.6 -2.2 -1.9zM575.1 350.7l2.2 1.9 -2.2 1.6 -2.3 -1.9zM572.8 352.3l2.3 1.9 -2.3 1.9 -2.2 -2.1zM575.1 354.2l2.2 1.8 -2.2 2.1 -2.3 -2zM577.3 356l2.2 1.9 -2.2 2.2 -2.2 -2zM521.5 399.2l2.2 2.4 -2.2 2.4 -2.2 -2.4zM505.9 423l2.2 2.5 -2.2 3.8 -2.3 -2.5zM514.8 414l2.2 2.5 -2.2 3.8 -2.2 -2.4zM521.5 408.8l2.2 2.4 -2.2 3.8 -2.2 -2.4zM588.4 373l2.3 3 -2.3 2.1 -2.2 -2.8zM590.7 376l2.2 2.9 -2.2 2.1 -2.3 -2.9zM592.9 378.9l2.2 2.9 -2.2 2.1 -2.2 -2.9zM595.1 381.8l2.3 3.9 -2.3 2 -2.2 -3.8zM597.4 385.7l2.2 3.9 -2.2 1.9 -2.3 -3.8zM599.6 389.6l2.2 3.9 -2.2 1.8 -2.2 -3.8zM601.8 393.5l2.3 3.8 -2.3 1.8 -2.2 -3.8zM604.1 397.3l2.2 3.9 -2.2 1.7 -2.3 -3.8zM606.3 401.2l2.2 3.9 -2.2 1.6 -2.2 -3.8zM608.5 405.1l2.3 3.3 -2.3 1.6 -2.2 -3.3zM610.8 408.4l2.2 3.3 -2.2 1.6 -2.3 -3.3zM610.8 413.3l2.2 3.3 -2.2 1.7 -2.3 -3.3zM613 416.6l2.2 3.3 -2.2 1.7 -2.2 -3.3zM613 421.6l2.2 3.3 -2.2 1.6 -2.2 -3.3zM615.2 424.9l2.3 3.3 -2.3 1.6 -2.2 -3.3zM617.5 428.2l2.2 2.6 -2.2 1.6 -2.3 -2.6zM619.7 430.8l2.2 2.6 -2.2 1.6 -2.2 -2.6zM624.2 431.8l2.2 2.7 -2.3 1.6 -2.2 -2.7zM626.4 434.5l2.2 2.7 -2.2 1.5 -2.3 -2.6zM630.8 435.6l2.3 2.7 -2.3 1.5 -2.2 -2.6zM633.1 438.3l2.2 2.7 -2.2 1.5 -2.3 -2.7z"/>
<path fill="#6cff93" stroke="#6cff93" stroke-width="0.55" stroke-linejoin="round" d="M472.4 432.3l2.2 1 -2.2 4 -2.2 -.9zM476.9 429.3l2.2 1 -2.2 4 -2.3 -1zM555 354.3l2.2 2 -2.2 1.7 -2.3 -2.1zM563.9 351.5l2.2 2.1 -2.2 1.6 -2.2 -2.1zM561.7 353.1l2.2 2.1 -2.2 1.6 -2.3 -2.1zM534.9 359.9l2.2 2.6 -2.2 2.1 -2.2 -2.6zM543.8 356.1l2.2 2.2 -2.2 2.3 -2.2 -2.4zM548.3 356.1l2.2 2.2 -2.2 2.3 -2.3 -2.3zM532.7 362l2.2 2.6 -2.2 2.1 -2.3 -2.7zM530.4 368.8l2.3 2.8 -2.3 2.1 -2.2 -2.8zM521.5 389.1l2.2 2.7 -2.2 2.6 -2.2 -2.5zM521.5 394.4l2.2 2.5 -2.2 2.3 -2.2 -2.2zM485.8 429.1l2.2 1.6 -2.2 3.8 -2.2 -1.6zM492.5 428.7l2.2 1.7 -2.2 3.6 -2.2 -1.6zM499.2 428.5l2.2 1.8 -2.2 3.5 -2.3 -1.7zM570.6 350.4l2.2 1.9 -2.2 1.7 -2.2 -2zM568.4 352l2.2 2 -2.2 1.8 -2.3 -2.2zM570.6 354l2.2 2.1 -2.2 1.9 -2.2 -2.2zM572.8 356.1l2.3 2 -2.3 2 -2.2 -2.1zM575.1 358.1l2.2 2 -2.2 2.2 -2.3 -2.2zM577.3 360.1l2.2 2.1 -2.2 2.3 -2.2 -2.2zM579.5 362.2l2.2 2 -2.2 2.5 -2.2 -2.2zM523.7 406.4l2.3 2.3 -2.3 2.5 -2.2 -2.4zM512.6 417.9l2.2 2.4 -2.2 3.8 -2.3 -2.4zM503.6 426.8l2.3 2.5 -2.3 3.3 -2.2 -2.3zM581.7 364.2l2.3 2.9 -2.3 2.4 -2.2 -2.8zM584 367.1l2.2 3 -2.2 2.3 -2.3 -2.9zM586.2 370.1l2.2 2.9 -2.2 2.3 -2.2 -2.9zM590.7 381l2.2 2.9 -2.2 2 -2.3 -2.8zM592.9 383.9l2.2 3.8 -2.2 1.9 -2.2 -3.7zM595.1 387.7l2.3 3.8 -2.3 1.9 -2.2 -3.8zM597.4 391.5l2.2 3.8 -2.2 1.8 -2.3 -3.7zM599.6 395.3l2.2 3.8 -2.2 1.8 -2.2 -3.8zM601.8 399.1l2.3 3.8 -2.3 1.7 -2.2 -3.7zM604.1 402.9l2.2 3.8 -2.2 1.7 -2.3 -3.8zM606.3 406.7l2.2 3.3 -2.2 1.7 -2.2 -3.3zM608.5 410l2.3 3.3 -2.3 1.7 -2.2 -3.3zM608.5 415l2.3 3.3 -2.3 1.6 -2.2 -3.3zM610.8 418.3l2.2 3.3 -2.2 1.6 -2.3 -3.3zM610.8 423.2l2.2 3.3 -2.2 1.7 -2.3 -3.3zM613 426.5l2.2 3.3 -2.2 1.7 -2.2 -3.3zM615.2 429.8l2.3 2.6 -2.3 1.7 -2.2 -2.6zM617.5 432.4l2.2 2.6 -2.2 1.7 -2.3 -2.6zM621.9 433.4l2.2 2.7 -2.2 1.6 -2.2 -2.7zM624.1 436.1l2.3 2.6 -2.3 1.6 -2.2 -2.6zM628.6 437.2l2.2 2.6 -2.2 1.5 -2.2 -2.6zM630.8 439.8l2.3 2.7 -2.3 1.5 -2.2 -2.7z"/>
<path fill="#64ff9b" stroke="#64ff9b" stroke-width="0.55" stroke-linejoin="round" d="M474.6 433.3l2.3 1 -2.3 4 -2.2 -1zM539.3 360.3l2.3 2.5 -2.3 2.2 -2.2 -2.5zM546 358.3l2.3 2.3 -2.3 2.3 -2.2 -2.3zM550.5 358.3l2.2 2.1 -2.2 2.4 -2.2 -2.2zM555 358l2.2 2 -2.2 2.5 -2.3 -2.1zM528.2 375.9l2.2 3 -2.2 2.2 -2.2 -3zM523.7 386.2l2.3 2.9 -2.3 2.7 -2.2 -2.7zM481.3 431.4l2.3 1.5 -2.3 3.9 -2.2 -1.5zM490.3 432.4l2.2 1.6 -2.3 3.6 -2.2 -1.5zM496.9 432.1l2.3 1.7 -2.3 3.5 -2.2 -1.7zM561.7 356.8l2.2 2.5 -2.2 1.7 -2.3 -2.6zM566.1 357.5l2.3 2.4 -2.3 1.9 -2.2 -2.5zM570.6 358l2.2 2.1 -2.2 2.1 -2.2 -2.3zM572.8 360.1l2.3 2.2 -2.3 2.2 -2.2 -2.3zM523.7 396.9l2.3 2.3 -2.3 2.4 -2.2 -2.4zM526 408.7l2.2 2.4 -2.2 2.5 -2.3 -2.4zM508.1 425.5l2.2 2.5 -2.2 3.8 -2.2 -2.5zM517 416.5l2.3 2.4 -2.3 3.8 -2.2 -2.4zM523.7 411.2l2.3 2.4 -2.3 3.9 -2.2 -2.5zM501.4 430.3l2.2 2.3 -2.2 3.3 -2.2 -2.1zM584 372.4l2.2 2.9 -2.2 2.2 -2.3 -2.8zM588.4 383.1l2.3 2.8 -2.3 2 -2.2 -2.7zM590.7 385.9l2.2 3.7 -2.2 2 -2.3 -3.7zM592.9 389.6l2.2 3.8 -2.2 1.9 -2.2 -3.7zM595.1 393.4l2.3 3.7 -2.3 1.9 -2.2 -3.7zM599.6 406.4l2.2 3.7 -2.2 1.6 -2.2 -3.6zM601.8 410.1l2.3 3.3 -2.3 1.6 -2.2 -3.3zM604.1 413.4l2.2 3.2 -2.2 1.7 -2.3 -3.3zM604.1 418.3l2.2 3.3 -2.2 1.7 -2.3 -3.3zM606.3 421.6l2.2 3.3 -2.2 1.7 -2.2 -3.3zM608.5 424.9l2.3 3.3 -2.3 1.7 -2.2 -3.3zM615.2 434.1l2.3 2.6 -2.3 1.6 -2.2 -2.6zM617.5 436.7l2.2 2.5 -2.2 1.6 -2.3 -2.5zM619.7 439.2l2.2 2.6 -2.2 1.6 -2.2 -2.6zM624.1 440.3l2.3 2.6 -2.3 1.5 -2.2 -2.6zM626.4 442.9l2.2 2.6 -2.2 1.5 -2.3 -2.6zM557.2 483.1l2.2 1.3 -2.2 1.3 -2.2 -1.4z"/>
<path fill="#68ff97" stroke="#68ff97" stroke-width="0.55" stroke-linejoin="round" d="M479.1 430.3l2.2 1.1 -2.2 3.9 -2.2 -1zM559.4 354.7l2.3 2.1 -2.3 1.6 -2.2 -2.1zM557.2 356.3l2.2 2.1 -2.2 1.6 -2.2 -2zM541.6 358.2l2.2 2.4 -2.2 2.2 -2.3 -2.5zM552.7 355.9l2.3 2.1 -2.3 2.4 -2.2 -2.1zM532.7 366.7l2.2 2.7 -2.2 2.2 -2.3 -2.8zM526 378.1l2.2 3 -2.2 2.3 -2.3 -3.2zM488 430.7l2.3 1.7 -2.3 3.7 -2.2 -1.6zM494.7 430.4l2.2 1.7 -2.2 3.5 -2.2 -1.6zM566.1 353.6l2.3 2.2 -2.3 1.7 -2.2 -2.3zM563.9 355.2l2.2 2.3 -2.2 1.8 -2.2 -2.5zM568.4 355.8l2.2 2.2 -2.2 1.9 -2.3 -2.4zM523.7 401.6l2.3 2.3 -2.3 2.5 -2.2 -2.4zM510.3 421.7l2.3 2.4 -2.3 3.9 -2.2 -2.5zM519.3 412.6l2.2 2.4 -2.2 3.9 -2.3 -2.4zM586.2 375.3l2.2 2.8 -2.2 2.2 -2.2 -2.8zM588.4 378.1l2.3 2.9 -2.3 2.1 -2.2 -2.8zM597.4 397.1l2.2 3.8 -2.2 1.8 -2.3 -3.7zM599.6 400.9l2.2 3.7 -2.2 1.8 -2.2 -3.7zM601.8 404.6l2.3 3.8 -2.3 1.7 -2.2 -3.7zM604.1 408.4l2.2 3.3 -2.2 1.7 -2.3 -3.3zM606.3 411.7l2.2 3.3 -2.2 1.6 -2.2 -3.2zM606.3 416.6l2.2 3.3 -2.2 1.7 -2.2 -3.3zM608.5 419.9l2.3 3.3 -2.3 1.7 -2.2 -3.3zM610.8 428.2l2.2 3.3 -2.2 1.6 -2.3 -3.2zM613 431.5l2.2 2.6 -2.2 1.6 -2.2 -2.6zM619.7 435l2.2 2.7 -2.2 1.5 -2.2 -2.5zM621.9 437.7l2.2 2.6 -2.2 1.5 -2.2 -2.6zM626.4 438.7l2.2 2.6 -2.2 1.6 -2.3 -2.6zM628.6 441.3l2.2 2.7 -2.2 1.5 -2.2 -2.6z"/>
<path fill="#5cffa3" stroke="#5cffa3" stroke-width="0.55" stroke-linejoin="round" d="M476.9 434.3l2.2 1 -2.2 3.9 -2.3 -.9zM548.3 360.6l2.2 2.2 -2.2 2.4 -2.3 -2.3zM552.7 360.4l2.3 2.1 -2.3 2.5 -2.2 -2.2zM532.7 371.6l2.2 2.8 -2.2 2.2 -2.3 -2.9zM526 383.4l2.2 3.1 -2.2 2.6 -2.3 -2.9zM485.8 434.5l2.2 1.6 -2.2 3.7 -2.2 -1.5zM570.6 362.2l2.2 2.3 -2.2 2.2 -2.2 -2.5zM557.2 360l2.2 2.8 -2.2 2.4 -2.2 -2.7zM526 399.2l2.2 2.3 -2.2 2.4 -2.3 -2.3zM528.2 406.3l2.2 2.3 -2.2 2.5 -2.2 -2.4zM528.2 411.1l2.2 2.4 -2.2 2.5 -2.2 -2.4zM526 413.6l2.2 2.4 -2.2 3.9 -2.3 -2.4zM499.2 433.8l2.2 2.1 -2.2 3.3 -2.3 -1.9zM505.9 429.3l2.2 2.5 -2.2 3.1 -2.3 -2.3zM584 377.5l2.2 2.8 -2.2 2.2 -2.3 -2.7zM586.2 385.2l2.2 2.7 -2.2 2 -2.2 -2.6zM592.9 400.8l2.2 3.7 -2.2 1.7 -2.2 -3.5zM595.1 404.5l2.3 3.6 -2.3 1.7 -2.2 -3.6zM597.4 408.1l2.2 3.6 -2.2 1.7 -2.3 -3.6zM601.8 420l2.3 3.3 -2.3 2 -2.2 -3.3zM604.1 423.3l2.2 3.3 -2.2 2 -2.3 -3.3zM606.3 426.6l2.2 3.3 -2.2 2 -2.2 -3.3zM615.2 438.3l2.3 2.5 -2.3 1.7 -2.2 -2.4zM617.5 440.8l2.2 2.6 -2.2 1.5 -2.3 -2.4zM619.7 443.4l2.2 2.5 -2.2 1.5 -2.2 -2.5zM621.9 445.9l2.3 2.6 -2.3 1.3 -2.2 -2.4zM548.3 477.9l2.2 1.3 -2.2 1.2 -2.3 -1.4zM550.5 479.2l2.2 1.3 -2.2 1.2 -2.2 -1.3zM555 479.3l2.2 1.3 -2.2 1.2 -2.3 -1.3zM559.4 479.4l2.3 1.3 -2.3 1.2 -2.2 -1.3zM566.1 478.2l2.3 1.3 -2.3 1.2 -2.2 -1.2zM563.9 479.5l2.2 1.2 -2.2 1.3 -2.2 -1.3z"/>
<path fill="#60ff9f" stroke="#60ff9f" stroke-width="0.55" stroke-linejoin="round" d="M537.1 362.5l2.2 2.5 -2.2 2.2 -2.2 -2.6zM543.8 360.6l2.2 2.3 -2.2 2.3 -2.2 -2.4zM534.9 364.6l2.2 2.6 -2.2 2.2 -2.2 -2.7zM530.4 373.7l2.3 2.9 -2.3 2.3 -2.2 -3zM523.7 391.8l2.3 2.7 -2.3 2.4 -2.2 -2.5zM483.6 432.9l2.2 1.6 -2.2 3.8 -2.3 -1.5zM492.5 434l2.2 1.6 -2.2 3.6 -2.3 -1.6zM559.4 358.4l2.3 2.6 -2.3 1.8 -2.2 -2.8zM563.9 359.3l2.2 2.5 -2.2 1.9 -2.2 -2.7zM568.4 359.9l2.2 2.3 -2.2 2 -2.3 -2.4zM575.1 362.3l2.2 2.2 -2.2 2.3 -2.3 -2.3zM577.3 364.5l2.2 2.2 -2.2 2.5 -2.2 -2.4zM526 403.9l2.2 2.4 -2.2 2.4 -2.3 -2.3zM514.8 420.3l2.2 2.4 -2.2 3.9 -2.2 -2.5zM521.5 415l2.2 2.5 -2.2 3.8 -2.2 -2.4zM579.5 366.7l2.2 2.8 -2.2 2.5 -2.2 -2.8zM581.7 369.5l2.3 2.9 -2.3 2.3 -2.2 -2.7zM586.2 380.3l2.2 2.8 -2.2 2.1 -2.2 -2.7zM588.4 387.9l2.3 3.7 -2.3 1.9 -2.2 -3.6zM590.7 391.6l2.2 3.7 -2.2 1.9 -2.3 -3.7zM592.9 395.3l2.2 3.7 -2.2 1.8 -2.2 -3.6zM595.1 399l2.3 3.7 -2.3 1.8 -2.2 -3.7zM597.4 402.7l2.2 3.7 -2.2 1.7 -2.3 -3.6zM599.6 411.7l2.2 3.3 -2.2 1.7 -2.2 -3.3zM601.8 415l2.3 3.3 -2.3 1.7 -2.2 -3.3zM608.5 429.9l2.3 3.2 -2.3 2.1 -2.2 -3.3zM621.9 441.8l2.2 2.6 -2.2 1.5 -2.2 -2.5zM624.1 444.4l2.3 2.6 -2.2 1.5 -2.3 -2.6zM610.8 433.1l2.2 2.6 -2.2 1.9 -2.3 -2.4zM613 435.7l2.2 2.6 -2.2 1.8 -2.2 -2.5zM552.7 480.5l2.3 1.3 -2.3 1.2 -2.2 -1.3zM557.2 480.6l2.2 1.3 -2.2 1.2 -2.2 -1.3zM555 481.8l2.2 1.3 -2.2 1.2 -2.3 -1.3zM561.7 480.7l2.2 1.3 -2.2 1.2 -2.3 -1.3zM559.4 481.9l2.3 1.3 -2.3 1.2 -2.2 -1.3z"/>
<path fill="#58ffa7" stroke="#58ffa7" stroke-width="0.55" stroke-linejoin="round" d="M541.6 362.8l2.2 2.4 -2.2 2.3 -2.3 -2.5zM534.9 369.4l2.2 2.7 -2.2 2.3 -2.2 -2.8zM479.1 435.3l2.2 1.5 -2.2 3.8 -2.2 -1.4zM488 436.1l2.2 1.5 -2.2 3.7 -2.2 -1.5zM494.7 435.6l2.2 1.7 -2.2 3.5 -2.2 -1.6zM561.7 361l2.2 2.7 -2.2 1.9 -2.3 -2.8zM566.1 361.8l2.3 2.4 -2.3 2.1 -2.2 -2.6zM572.8 364.5l2.3 2.3 -2.3 2.4 -2.2 -2.5zM526 394.5l2.2 2.2 -2.2 2.5 -2.3 -2.3zM528.2 401.5l2.2 2.3 -2.2 2.5 -2.2 -2.4zM512.6 424.1l2.2 2.5 -2.2 3.8 -2.3 -2.4zM519.3 418.9l2.2 2.4 -2.2 3.9 -2.3 -2.5zM503.6 432.6l2.3 2.3 -2.3 3.1 -2.2 -2.1zM581.7 374.7l2.3 2.8 -2.3 2.3 -2.2 -2.7zM584 382.5l2.2 2.7 -2.2 2.1 -2.3 -2.6zM586.2 389.9l2.2 3.6 -2.2 2 -2.2 -3.6zM588.4 393.5l2.3 3.7 -2.3 1.9 -2.2 -3.6zM590.7 397.2l2.2 3.6 -2.2 1.9 -2.3 -3.6zM592.9 406.2l2.2 3.6 -2.2 2 -2.2 -3.6zM595.1 409.8l2.3 3.6 -2.3 2 -2.2 -3.6zM597.4 413.4l2.2 3.3 -2.2 2 -2.3 -3.3zM599.6 416.7l2.2 3.3 -2.2 2 -2.2 -3.3zM543.8 475.3l2.2 1.2 -2.2 1.2 -2.2 -1.2zM610.8 437.6l2.2 2.5 -2.2 1.7 -2.3 -2.3zM613 440.1l2.2 2.4 -2.2 1.7 -2.2 -2.4zM615.2 442.5l2.3 2.4 -2.3 1.6 -2.2 -2.3zM617.5 444.9l2.2 2.5 -2.2 1.4 -2.3 -2.3zM619.7 447.4l2.2 2.4 -2.2 1.3 -2.2 -2.3zM617.5 448.8l2.2 2.3 -2.2 1.3 -2.3 -2.2zM572.8 474.6l2.3 1.3 -2.3 1.2 -2.2 -1.3zM570.6 475.8l2.2 1.3 -2.2 1.2 -2.2 -1.3zM546 476.5l2.3 1.4 -2.3 1.1 -2.2 -1.3zM550.5 476.7l2.2 1.3 -2.2 1.2 -2.2 -1.3zM552.7 478l2.3 1.3 -2.3 1.2 -2.2 -1.3zM557.2 478.1l2.2 1.3 -2.2 1.2 -2.2 -1.3zM563.9 477l2.2 1.2 -2.2 1.3 -2.2 -1.3zM561.7 478.2l2.2 1.3 -2.2 1.2 -2.3 -1.3zM568.4 477l2.2 1.3 -2.2 1.2 -2.3 -1.3z"/>
<path fill="#54ffab" stroke="#54ffab" stroke-width="0.55" stroke-linejoin="round" d="M539.3 365l2.3 2.5 -2.3 2.3 -2.2 -2.6zM546 362.9l2.3 2.3 -2.3 2.4 -2.2 -2.4zM550.5 362.8l2.2 2.2 -2.2 2.6 -2.2 -2.4zM537.1 367.2l2.2 2.6 -2.2 2.3 -2.2 -2.7zM528.2 381.1l2.2 3.1 -2.2 2.3 -2.2 -3.1zM526 389.1l2.2 3 -2.2 2.4 -2.3 -2.7zM481.3 436.8l2.3 1.5 -2.3 3.8 -2.2 -1.5zM490.2 437.6l2.3 1.6 -2.2 3.6 -2.3 -1.5zM575.1 366.8l2.2 2.4 -2.2 2.5 -2.3 -2.5zM555 362.5l2.2 2.7 -2.2 2.5 -2.3 -2.7zM559.4 362.8l2.3 2.8 -2.3 2.4 -2.2 -2.8zM530.4 408.6l2.3 2.3 -2.3 2.6 -2.2 -2.4zM530.4 413.5l2.3 2.3 -2.3 2.6 -2.2 -2.4zM510.3 428l2.3 2.4 -2.3 3.9 -2.2 -2.5zM517 422.7l2.3 2.5 -2.3 3.8 -2.2 -2.4zM523.7 417.5l2.3 2.4 -2.3 3.8 -2.2 -2.4zM528.2 416l2.2 2.4 -2.2 3.9 -2.2 -2.4zM496.9 437.3l2.3 1.9 -2.3 3.3 -2.2 -1.7zM579.5 372l2.2 2.7 -2.2 2.4 -2.2 -2.7zM581.7 379.8l2.3 2.7 -2.3 2.2 -2.2 -2.7zM584 387.3l2.2 2.6 -2.2 2 -2.3 -2.5zM584 391.9l2.2 3.6 -2.2 1.8 -2.3 -3.6zM581.7 393.7l2.3 3.6 -2.3 1.8 -2.2 -3.7zM586.2 395.5l2.2 3.6 -2.2 1.8 -2.2 -3.6zM588.4 399.1l2.3 3.6 -2.3 1.8 -2.2 -3.6zM590.7 402.7l2.2 3.5 -2.2 2 -2.3 -3.7zM601.8 425.3l2.3 3.3 -2.3 2 -2.2 -3.3zM604.1 428.6l2.2 3.3 -2.2 2 -2.3 -3.3zM606.3 431.9l2.2 3.3 -2.2 2 -2.2 -3.3zM541.6 474l2.2 1.3 -2.2 1.2 -2.3 -1.2zM608.5 435.2l2.3 2.4 -2.3 1.9 -2.2 -2.3zM615.2 446.5l2.3 2.3 -2.3 1.4 -2.2 -2.2zM615.2 450.2l2.3 2.2 -2.3 1.3 -2.2 -2.1zM577.3 472.2l2.2 1.3 -2.2 1.2 -2.2 -1.3zM575.1 473.4l2.2 1.3 -2.2 1.2 -2.3 -1.3zM548.3 475.4l2.2 1.3 -2.2 1.2 -2.3 -1.4zM555 476.8l2.2 1.3 -2.2 1.2 -2.3 -1.3zM559.4 476.9l2.3 1.3 -2.3 1.2 -2.2 -1.3zM566.1 475.8l2.3 1.2 -2.3 1.2 -2.2 -1.2z"/>
<path fill="#4cffb3" stroke="#4cffb3" stroke-width="0.55" stroke-linejoin="round" d="M543.8 365.2l2.2 2.4 -2.2 2.4 -2.2 -2.5zM534.9 374.4l2.2 2.7 -2.2 2.4 -2.2 -2.9zM532.7 376.6l2.2 2.9 -2.2 2.3 -2.3 -2.9zM485.8 439.8l2.2 1.5 -2.2 3.6 -2.2 -1.4zM570.6 366.7l2.2 2.5 -2.2 2.3 -2.2 -2.6zM557.2 365.2l2.2 2.8 -2.2 2.4 -2.2 -2.7zM530.4 399l2.3 2.3 -2.3 2.5 -2.2 -2.3zM514.8 426.6l2.2 2.4 -2.2 3.9 -2.2 -2.5zM521.5 421.3l2.2 2.4 -2.2 3.9 -2.2 -2.4zM494.7 440.8l2.2 1.7 -2.2 3.3 -2.2 -1.5zM499.2 439.2l2.2 1.9 -2.2 3.1 -2.3 -1.7zM505.9 434.9l2.2 2.3 -2.2 2.9 -2.3 -2.1zM579.5 377.1l2.2 2.7 -2.2 2.2 -2.2 -2.6zM581.7 384.7l2.3 2.6 -2.3 2.1 -2.2 -2.6zM577.3 393l2.2 2.4 -2.2 1.7 -2.2 -2.3zM575.1 394.8l2.2 2.3 -2.2 1.8 -2.3 -2.3zM572.8 396.6l2.3 2.3 -2.3 1.7 -2.2 -2.2zM570.6 398.4l2.2 2.2 -2.2 1.7 -2.2 -2.1zM579.5 400.9l2.2 3.7 -2.2 1.8 -2.2 -3.8zM577.3 402.6l2.2 3.8 -2.2 1.8 -2.2 -3.8zM584 402.7l2.2 3.7 -2.2 1.9 -2.3 -3.7zM581.7 404.6l2.3 3.7 -2.3 1.9 -2.2 -3.8zM586.2 406.4l2.2 3.7 -2.2 1.9 -2.2 -3.7zM588.4 410.1l2.3 3.7 -2.3 2 -2.2 -3.8zM537.1 471.4l2.2 1.3 -2.2 1.4 -2.2 -1.2zM543.8 472.7l2.2 1.3 -2.2 1.3 -2.2 -1.3zM606.3 437.2l2.2 2.3 -2.2 1.9 -2.2 -2.1zM608.5 439.5l2.3 2.3 -2.3 1.8 -2.2 -2.2zM610.8 445.8l2.2 2.2 -2.2 1.6 -2.3 -2.1zM610.8 449.6l2.2 2 -2.2 1.5 -2.3 -2zM608.5 454.5l2.3 1.8 -2.3 1.3 -2.2 -1.7zM606.3 455.9l2.2 1.7 -2.2 1.4 -2.2 -1.7zM586.2 467.5l2.2 1.3 -2.2 1.2 -2.2 -1.4zM584 468.6l2.2 1.4 -2.2 1.1 -2.3 -1.3zM572.8 472.1l2.3 1.3 -2.3 1.2 -2.2 -1.3zM550.5 474.2l2.2 1.3 -2.2 1.2 -2.2 -1.3zM555 474.3l2.2 1.3 -2.2 1.2 -2.3 -1.3zM559.4 474.4l2.3 1.3 -2.3 1.2 -2.2 -1.3zM563.9 474.5l2.2 1.3 -2.2 1.2 -2.2 -1.3z"/>
<path fill="#44ffbb" stroke="#44ffbb" stroke-width="0.55" stroke-linejoin="round" d="M541.6 367.5l2.2 2.5 -2.2 2.5 -2.3 -2.7zM490.3 442.8l2.2 1.5 -2.2 3.4 -2.3 -1.4zM572.8 369.2l2.3 2.5 -2.3 2.5 -2.2 -2.7zM530.4 394.3l2.3 2.3 -2.3 2.4 -2.2 -2.3zM532.7 401.3l2.2 2.3 -2.2 2.5 -2.3 -2.3zM512.6 430.4l2.2 2.5 -2.2 3.9 -2.3 -2.5zM519.3 425.2l2.2 2.4 -2.2 3.9 -2.3 -2.5zM496.9 442.5l2.3 1.7 -2.3 3.1 -2.2 -1.5zM501.4 441.1l2.2 1.9 -2.2 3 -2.2 -1.8zM575.1 371.7l2.2 2.7 -2.2 2.4 -2.3 -2.6zM575.1 390.6l2.2 2.4 -2.2 1.8 -2.3 -2.3zM572.8 392.5l2.3 2.3 -2.3 1.8 -2.2 -2.2zM577.3 408.2l2.2 3.9 -2.2 1.9 -2.2 -3.9zM586.2 412l2.2 3.8 -2.2 1.9 -2.2 -3.7zM530.4 467.6l2.3 1.3 -2.3 1.6 -2.2 -1.3zM537.1 468.7l2.2 1.3 -2.2 1.4 -2.2 -1.2zM543.8 470l2.2 1.4 -2.2 1.3 -2.2 -1.3zM550.5 471.6l2.2 1.4 -2.2 1.2 -2.2 -1.4zM606.3 441.4l2.2 2.2 -2.2 1.8 -2.2 -2zM608.5 447.5l2.3 2.1 -2.3 1.5 -2.2 -1.9zM606.3 452.7l2.2 1.8 -2.2 1.4 -2.2 -1.8zM599.6 460l2.2 1.6 -2.2 1.3 -2.2 -1.5zM597.4 461.4l2.2 1.5 -2.2 1.4 -2.3 -1.5zM595.1 462.8l2.3 1.5 -2.3 1.1 -2.2 -1.4zM592.9 464l2.2 1.4 -2.2 1.2 -2.2 -1.5zM563.9 472l2.2 1.3 -2.2 1.2 -2.2 -1.3zM570.6 470.8l2.2 1.3 -2.2 1.2 -2.2 -1.3zM579.5 468.5l2.2 1.3 -2.2 1.2 -2.2 -1.3z"/>
<path fill="#48ffb7" stroke="#48ffb7" stroke-width="0.55" stroke-linejoin="round" d="M548.3 365.2l2.2 2.4 -2.2 2.5 -2.3 -2.5zM537.1 372.1l2.2 2.7 -2.2 2.3 -2.2 -2.7zM528.2 386.5l2.2 3.2 -2.2 2.4 -2.2 -3zM488 441.3l2.3 1.5 -2.3 3.5 -2.2 -1.4zM566.1 366.3l2.3 2.6 -2.3 2.2 -2.2 -2.8zM552.7 365l2.3 2.7 -2.3 2.5 -2.2 -2.6zM561.7 365.6l2.2 2.7 -2.2 2.4 -2.3 -2.7zM528.2 392.1l2.2 2.2 -2.2 2.4 -2.2 -2.2zM532.7 406.1l2.2 2.3 -2.2 2.5 -2.3 -2.3zM532.7 410.9l2.2 2.4 -2.2 2.5 -2.3 -2.3zM526 419.9l2.2 2.4 -2.2 3.9 -2.3 -2.5zM503.6 438l2.3 2.1 -2.3 2.9 -2.2 -1.9zM577.3 374.4l2.2 2.7 -2.2 2.3 -2.2 -2.6zM579.5 382l2.2 2.7 -2.2 2.1 -2.2 -2.5zM579.5 386.8l2.2 2.6 -2.2 1.8 -2.2 -2.5zM577.3 388.7l2.2 2.5 -2.2 1.8 -2.2 -2.4zM568.4 400.2l2.2 2.1 -2.2 2.9 -2.3 -2.2zM532.7 415.8l2.2 3 -2.2 2.6 -2.3 -3zM530.4 418.4l2.3 3 -2.3 3.7 -2.2 -2.8zM575.1 404.4l2.2 3.8 -2.2 1.9 -2.3 -3.9zM579.5 406.4l2.2 3.8 -2.2 1.9 -2.2 -3.9zM584 408.3l2.2 3.7 -2.2 2 -2.3 -3.8zM590.7 413.8l2.2 3.6 -2.2 2.1 -2.3 -3.7zM570.6 402.3l2.2 3.9 -2.2 2.8 -2.2 -3.8zM592.9 417.4l2.2 3.3 -2.2 2.1 -2.2 -3.3zM595.1 420.7l2.3 3.3 -2.3 2.1 -2.2 -3.3zM597.4 424l2.2 3.3 -2.2 2.1 -2.3 -3.3zM599.6 427.3l2.2 3.3 -2.2 2.1 -2.2 -3.3zM601.8 430.6l2.3 3.3 -2.3 2.1 -2.2 -3.3zM604.1 433.9l2.2 3.3 -2.2 2.1 -2.3 -3.3zM532.7 468.9l2.2 1.3 -2.2 1.5 -2.3 -1.2zM534.9 470.2l2.2 1.2 -2.2 1.5 -2.2 -1.2zM539.3 470l2.3 1.4 -2.3 1.3 -2.2 -1.3zM541.6 471.4l2.2 1.3 -2.2 1.3 -2.3 -1.3zM546 471.4l2.3 1.4 -2.3 1.2 -2.2 -1.3zM548.3 472.8l2.2 1.4 -2.2 1.2 -2.3 -1.4zM608.5 443.6l2.3 2.2 -2.3 1.7 -2.2 -2.1zM608.5 451.1l2.3 2 -2.3 1.4 -2.2 -1.8zM604.1 457.3l2.2 1.7 -2.2 1.3 -2.3 -1.7zM601.8 458.6l2.3 1.7 -2.3 1.3 -2.2 -1.6zM590.7 465.1l2.2 1.5 -2.2 1.1 -2.3 -1.4zM588.4 466.3l2.3 1.4 -2.3 1.1 -2.2 -1.3zM568.4 472l2.2 1.3 -2.2 1.2 -2.3 -1.2zM566.1 473.3l2.3 1.2 -2.3 1.3 -2.2 -1.3zM577.3 469.7l2.2 1.3 -2.2 1.2 -2.2 -1.3zM575.1 470.9l2.2 1.3 -2.2 1.2 -2.3 -1.3zM552.7 473l2.3 1.3 -2.3 1.2 -2.2 -1.3zM557.2 473.1l2.2 1.3 -2.2 1.2 -2.2 -1.3zM561.7 473.2l2.2 1.3 -2.2 1.2 -2.3 -1.3z"/>
<path fill="#40ffbf" stroke="#40ffbf" stroke-width="0.55" stroke-linejoin="round" d="M546 367.6l2.3 2.5 -2.3 2.5 -2.2 -2.6zM539.3 369.8l2.3 2.7 -2.3 2.3 -2.2 -2.7zM550.5 367.6l2.2 2.6 -2.2 2.4 -2.2 -2.5zM555 367.7l2.2 2.7 -2.2 2.4 -2.3 -2.6zM559.4 368l2.3 2.7 -2.3 2.3 -2.2 -2.6zM563.9 368.3l2.2 2.8 -2.2 2.3 -2.2 -2.7zM534.9 408.4l2.2 2.3 -2.2 2.6 -2.2 -2.4zM523.7 423.7l2.3 2.5 -2.3 3.9 -2.2 -2.5zM492.5 444.3l2.2 1.5 -2.2 3.3 -2.2 -1.4zM499.2 444.2l2.2 1.8 -2.2 2.9 -2.3 -1.6zM510.3 434.3l2.3 2.5 -2.3 2.7 -2.2 -2.3zM577.3 379.4l2.2 2.6 -2.2 2.3 -2.2 -2.6zM577.3 384.3l2.2 2.5 -2.2 1.9 -2.2 -2.5zM570.6 394.4l2.2 2.2 -2.2 1.8 -2.2 -2.1zM568.4 396.3l2.2 2.1 -2.2 1.8 -2.3 -2.1zM534.9 413.3l2.2 2.9 -2.2 2.6 -2.2 -3zM581.7 410.2l2.3 3.8 -2.3 1.9 -2.2 -3.8zM588.4 415.8l2.3 3.7 -2.3 2 -2.2 -3.8zM572.8 406.2l2.3 3.9 -2.3 2.7 -2.2 -3.8zM526 464.9l2.2 1.4 -2.2 1.6 -2.3 -1.2zM528.2 466.3l2.2 1.3 -2.2 1.6 -2.2 -1.3zM534.9 467.3l2.2 1.4 -2.2 1.5 -2.2 -1.3zM541.6 468.6l2.2 1.4 -2.2 1.4 -2.3 -1.4zM548.3 470.1l2.2 1.5 -2.2 1.2 -2.3 -1.4zM604.1 439.3l2.2 2.1 -2.2 2 -2.3 -2.1zM606.3 445.4l2.2 2.1 -2.2 1.7 -2.2 -2zM606.3 449.2l2.2 1.9 -2.2 1.6 -2.2 -1.9zM604.1 454.1l2.2 1.8 -2.2 1.4 -2.3 -1.7zM601.8 455.6l2.3 1.7 -2.3 1.3 -2.2 -1.6zM584 466.1l2.2 1.4 -2.2 1.1 -2.3 -1.3zM581.7 467.3l2.3 1.3 -2.3 1.2 -2.2 -1.3zM566.1 470.7l2.3 1.3 -2.3 1.3 -2.2 -1.3zM572.8 469.6l2.3 1.3 -2.3 1.2 -2.2 -1.3zM555 471.9l2.2 1.2 -2.2 1.2 -2.3 -1.3zM559.4 472l2.3 1.2 -2.3 1.2 -2.2 -1.3z"/>
<path fill="#34ffcb" stroke="#34ffcb" stroke-width="0.55" stroke-linejoin="round" d="M543.8 370l2.2 2.6 -2.2 2.5 -2.2 -2.6zM539.3 374.8l2.3 2.7 -2.3 2.4 -2.2 -2.8zM537.1 377.1l2.2 2.8 -2.2 2.5 -2.2 -2.9zM570.6 371.5l2.2 2.7 -2.2 2.5 -2.2 -2.8zM548.3 370.1l2.2 2.5 -2.2 2.5 -2.3 -2.5zM566.1 371.1l2.3 2.8 -2.3 2.2 -2.2 -2.7zM532.7 391.9l2.2 2.2 -2.2 2.5 -2.3 -2.3zM537.1 405.9l2.2 2.3 -2.2 2.5 -2.2 -2.3zM521.5 427.6l2.2 2.5 -2.2 3.9 -2.2 -2.5zM501.4 450.4l2.2 1.5 -2.2 2.6 -2.2 -1.4zM572.8 383.8l2.3 2.4 -2.3 2 -2.2 -2.4zM568.4 392.1l2.2 2.3 -2.2 1.9 -2.3 -2.2zM566.1 394.1l2.3 2.2 -2.3 1.8 -2.2 -2zM510.3 456l2.3 1.2 -2.3 2.2 -2.2 -1.2zM512.6 457.2l2.2 1.3 -2.2 2.1 -2.3 -1.2zM581.7 415.9l2.3 3.8 -2.3 2 -2.2 -3.9zM570.6 409l2.2 3.8 -2.2 2.7 -2.2 -3.7zM577.3 414l2.2 3.8 -2.2 2.6 -2.2 -3.8zM521.5 459l2.2 1.4 -2.2 1.9 -2.2 -1.3zM523.7 460.4l2.3 1.4 -2.3 1.8 -2.2 -1.3zM532.7 462.9l2.2 1.4 -2.2 1.7 -2.3 -1.4zM534.9 464.3l2.2 1.5 -2.2 1.5 -2.2 -1.3zM588.4 421.5l2.3 3.3 -2.3 2 -2.2 -3.3zM590.7 424.8l2.2 3.3 -2.2 2 -2.3 -3.3zM541.6 465.7l2.2 1.5 -2.2 1.4 -2.3 -1.4zM548.3 467.3l2.2 1.5 -2.2 1.3 -2.3 -1.5zM555 469.1l2.2 1.6 -2.2 1.2 -2.3 -1.6zM599.6 453.9l2.2 1.7 -2.2 1.4 -2.2 -1.6zM595.1 459.9l2.3 1.5 -2.3 1.4 -2.2 -1.5zM581.7 464.7l2.3 1.4 -2.3 1.2 -2.2 -1.4zM579.5 465.9l2.2 1.4 -2.2 1.2 -2.2 -1.4zM592.9 461.3l2.2 1.5 -2.2 1.2 -2.2 -1.5zM559.4 469.4l2.3 1.3 -2.3 1.3 -2.2 -1.3zM563.9 469.5l2.2 1.2 -2.2 1.3 -2.2 -1.3zM570.6 468.3l2.2 1.3 -2.2 1.2 -2.2 -1.3z"/>
<path fill="#50ffaf" stroke="#50ffaf" stroke-width="0.55" stroke-linejoin="round" d="M530.4 378.9l2.3 2.9 -2.3 2.4 -2.2 -3.1zM483.6 438.3l2.2 1.5 -2.2 3.7 -2.3 -1.4zM492.5 439.2l2.2 1.6 -2.2 3.5 -2.2 -1.5zM563.9 363.7l2.2 2.6 -2.2 2 -2.2 -2.7zM568.4 364.2l2.2 2.5 -2.2 2.2 -2.3 -2.6zM528.2 396.7l2.2 2.3 -2.2 2.5 -2.2 -2.3zM530.4 403.8l2.3 2.3 -2.3 2.5 -2.2 -2.3zM501.4 435.9l2.2 2.1 -2.2 3.1 -2.2 -1.9zM508.1 431.8l2.2 2.5 -2.2 2.9 -2.2 -2.3zM577.3 369.2l2.2 2.8 -2.2 2.4 -2.2 -2.7zM581.7 389.4l2.3 2.5 -2.3 1.8 -2.2 -2.5zM579.5 391.2l2.2 2.5 -2.2 1.7 -2.2 -2.4zM579.5 395.4l2.2 3.7 -2.2 1.8 -2.2 -3.8zM577.3 397.1l2.2 3.8 -2.2 1.7 -2.2 -3.7zM575.1 398.9l2.2 3.7 -2.2 1.8 -2.3 -3.8zM572.8 400.6l2.3 3.8 -2.3 1.8 -2.2 -3.9zM584 397.3l2.2 3.6 -2.2 1.8 -2.3 -3.6zM581.7 399.1l2.3 3.6 -2.3 1.9 -2.2 -3.7zM586.2 400.9l2.2 3.6 -2.2 1.9 -2.2 -3.7zM588.4 404.5l2.3 3.7 -2.3 1.9 -2.2 -3.7zM590.7 408.2l2.2 3.6 -2.2 2 -2.3 -3.7zM592.9 411.8l2.2 3.6 -2.2 2 -2.2 -3.6zM595.1 415.4l2.3 3.3 -2.3 2 -2.2 -3.3zM597.4 418.7l2.2 3.3 -2.2 2 -2.3 -3.3zM599.6 422l2.2 3.3 -2.2 2 -2.2 -3.3zM539.3 472.7l2.3 1.3 -2.3 1.3 -2.2 -1.2zM546 474l2.3 1.4 -2.3 1.1 -2.2 -1.2zM610.8 441.8l2.2 2.4 -2.2 1.6 -2.3 -2.2zM613 444.2l2.2 2.3 -2.2 1.5 -2.2 -2.2zM613 448l2.2 2.2 -2.2 1.4 -2.2 -2zM613 451.6l2.2 2.1 -2.2 1.3 -2.2 -1.9zM610.8 453.1l2.2 1.9 -2.2 1.3 -2.3 -1.8zM570.6 473.3l2.2 1.3 -2.2 1.2 -2.2 -1.3zM568.4 474.5l2.2 1.3 -2.2 1.2 -2.3 -1.2zM581.7 469.8l2.3 1.3 -2.3 1.2 -2.2 -1.3zM579.5 471l2.2 1.3 -2.2 1.2 -2.2 -1.3zM552.7 475.5l2.3 1.3 -2.3 1.2 -2.2 -1.3zM557.2 475.6l2.2 1.3 -2.2 1.2 -2.2 -1.3zM561.7 475.7l2.2 1.3 -2.2 1.2 -2.3 -1.3z"/>
<path fill="#30ffcf" stroke="#30ffcf" stroke-width="0.55" stroke-linejoin="round" d="M541.6 372.5l2.2 2.6 -2.2 2.4 -2.3 -2.7zM534.9 394.1l2.2 2.3 -2.2 2.4 -2.2 -2.2zM537.1 401.1l2.2 2.3 -2.2 2.5 -2.2 -2.3zM514.8 432.9l2.2 2.5 -2.2 3.9 -2.2 -2.5zM508.1 442.2l2.2 2.1 -2.2 2.6 -2.2 -1.9zM505.9 445l2.2 1.9 -2.2 2.5 -2.3 -1.7zM503.6 447.7l2.3 1.7 -2.3 2.5 -2.2 -1.5zM503.6 451.9l2.3 1.6 -2.3 2.3 -2.2 -1.3zM572.8 374.2l2.3 2.6 -2.3 2.4 -2.2 -2.5zM572.8 379.2l2.3 2.5 -2.3 2.1 -2.2 -2.5zM570.6 385.8l2.2 2.4 -2.2 2 -2.2 -2.4zM563.9 396.1l2.2 2 -2.2 2.7 -2.2 -2.2zM563.9 400.8l2.2 2.2 -2.2 2.8 -2.2 -2.3zM563.9 405.8l2.2 2.4 -2.2 2.9 -2.2 -2.5zM537.1 416.2l2.2 3 -2.2 2.6 -2.2 -3zM526 426.2l2.2 2.5 -2.2 3.7 -2.3 -2.3zM530.4 425.1l2.3 2.8 -2.3 3.4 -2.2 -2.6zM505.9 453.5l2.2 1.2 -2.2 2.3 -2.3 -1.2zM508.1 454.7l2.2 1.3 -2.2 2.2 -2.2 -1.2zM517 456.4l2.3 1.3 -2.3 2 -2.2 -1.2zM519.3 457.7l2.2 1.3 -2.2 2 -2.3 -1.3zM566.1 408.2l2.3 3.6 -2.3 2.9 -2.2 -3.6zM528.2 460l2.2 1.4 -2.2 1.8 -2.2 -1.4zM530.4 461.4l2.3 1.5 -2.3 1.7 -2.2 -1.4zM592.9 428.1l2.2 3.3 -2.2 2 -2.2 -3.3zM595.1 431.4l2.3 3.3 -2.3 2 -2.2 -3.3zM597.4 434.7l2.2 3.3 -2.2 2 -2.3 -3.3zM599.6 438l2.2 3.3 -2.2 2 -2.2 -3.3zM539.3 464.2l2.3 1.5 -2.3 1.5 -2.2 -1.4zM546 465.7l2.3 1.6 -2.3 1.3 -2.2 -1.4zM552.7 467.5l2.3 1.6 -2.3 1.2 -2.2 -1.5zM601.8 441.3l2.3 2.1 -2.3 1.9 -2.2 -2zM601.8 449l2.3 1.8 -2.3 1.5 -2.2 -1.7zM597.4 455.4l2.2 1.6 -2.2 1.4 -2.3 -1.5zM584 463.5l2.2 1.4 -2.2 1.2 -2.3 -1.4zM566.1 468.2l2.3 1.3 -2.3 1.2 -2.2 -1.2zM572.8 467l2.3 1.3 -2.3 1.3 -2.2 -1.3z"/>
<path fill="#38ffc7" stroke="#38ffc7" stroke-width="0.55" stroke-linejoin="round" d="M534.9 379.5l2.2 2.9 -2.2 2.4 -2.2 -3zM552.7 370.2l2.3 2.6 -2.3 2.4 -2.2 -2.6zM557.2 370.4l2.2 2.6 -2.2 2.4 -2.2 -2.6zM561.7 370.7l2.2 2.7 -2.2 2.3 -2.3 -2.7zM530.4 389.7l2.3 2.2 -2.3 2.4 -2.2 -2.2zM534.9 398.8l2.2 2.3 -2.2 2.5 -2.2 -2.3zM503.6 443l2.3 2 -2.3 2.7 -2.2 -1.7zM501.4 446l2.2 1.7 -2.2 2.7 -2.2 -1.5zM499.2 448.9l2.2 1.5 -2.2 2.7 -2.3 -1.3zM575.1 376.8l2.2 2.6 -2.2 2.3 -2.3 -2.5zM575.1 381.7l2.2 2.6 -2.2 1.9 -2.3 -2.4zM570.6 390.2l2.2 2.3 -2.2 1.9 -2.2 -2.3zM537.1 410.7l2.2 2.9 -2.2 2.6 -2.2 -2.9zM534.9 418.8l2.2 3 -2.2 2.7 -2.2 -3.1zM532.7 421.4l2.2 3.1 -2.2 3.4 -2.3 -2.8zM514.8 458.5l2.2 1.2 -2.2 2 -2.2 -1.1zM517 459.7l2.3 1.3 -2.3 1.9 -2.2 -1.2zM586.2 417.7l2.2 3.8 -2.2 2 -2.2 -3.8zM526 461.8l2.2 1.4 -2.2 1.7 -2.3 -1.3zM528.2 463.2l2.2 1.4 -2.2 1.7 -2.2 -1.4zM537.1 465.8l2.2 1.4 -2.2 1.5 -2.2 -1.4zM543.8 467.2l2.2 1.4 -2.2 1.4 -2.2 -1.4zM550.5 468.8l2.2 1.5 -2.2 1.3 -2.2 -1.5zM604.1 443.4l2.2 2 -2.2 1.8 -2.3 -1.9zM604.1 447.2l2.2 2 -2.2 1.6 -2.3 -1.8zM601.8 452.3l2.3 1.8 -2.3 1.5 -2.2 -1.7zM597.4 458.4l2.2 1.6 -2.2 1.4 -2.3 -1.5zM590.7 462.5l2.2 1.5 -2.2 1.1 -2.3 -1.4zM577.3 467.1l2.2 1.4 -2.2 1.2 -2.2 -1.4zM557.2 470.7l2.2 1.3 -2.2 1.1 -2.2 -1.2z"/>
<path fill="#3cffc3" stroke="#3cffc3" stroke-width="0.55" stroke-linejoin="round" d="M532.7 381.8l2.2 3 -2.2 2.4 -2.3 -3zM530.4 384.2l2.3 3 -2.3 2.5 -2.2 -3.2zM568.4 368.9l2.2 2.6 -2.2 2.4 -2.3 -2.8zM532.7 396.6l2.2 2.2 -2.2 2.5 -2.3 -2.3zM534.9 403.6l2.2 2.3 -2.2 2.5 -2.2 -2.3zM517 429l2.3 2.5 -2.3 3.9 -2.2 -2.5zM494.7 445.8l2.2 1.5 -2.2 3.1 -2.2 -1.3zM496.9 447.3l2.3 1.6 -2.3 2.9 -2.2 -1.4zM508.1 437.2l2.2 2.3 -2.2 2.7 -2.2 -2.1zM505.9 440.1l2.2 2.1 -2.2 2.8 -2.3 -2zM575.1 386.2l2.2 2.5 -2.2 1.9 -2.3 -2.4zM572.8 388.2l2.3 2.4 -2.3 1.9 -2.2 -2.3zM566.1 398.1l2.3 2.1 -2.3 2.8 -2.2 -2.2zM566.1 403l2.3 2.2 -2.3 3 -2.2 -2.4zM528.2 422.3l2.2 2.8 -2.2 3.6 -2.2 -2.5zM579.5 412.1l2.2 3.8 -2.2 1.9 -2.2 -3.8zM584 414l2.2 3.7 -2.2 2 -2.3 -3.8zM568.4 405.2l2.2 3.8 -2.2 2.8 -2.3 -3.6zM575.1 410.1l2.2 3.9 -2.2 2.6 -2.3 -3.8zM519.3 461l2.2 1.3 -2.2 1.9 -2.3 -1.3zM521.5 462.3l2.2 1.3 -2.2 1.8 -2.2 -1.2zM523.7 463.6l2.3 1.3 -2.3 1.8 -2.2 -1.3zM530.4 464.6l2.3 1.4 -2.3 1.6 -2.2 -1.3zM532.7 466l2.2 1.3 -2.2 1.6 -2.3 -1.3zM590.7 419.5l2.2 3.3 -2.2 2 -2.3 -3.3zM592.9 422.8l2.2 3.3 -2.2 2 -2.2 -3.3zM595.1 426.1l2.3 3.3 -2.3 2 -2.2 -3.3zM597.4 429.4l2.2 3.3 -2.2 2 -2.3 -3.3zM599.6 432.7l2.2 3.3 -2.2 2 -2.2 -3.3zM601.8 436l2.3 3.3 -2.3 2 -2.2 -3.3zM539.3 467.2l2.3 1.4 -2.3 1.4 -2.2 -1.3zM546 468.6l2.3 1.5 -2.3 1.3 -2.2 -1.4zM552.7 470.3l2.3 1.6 -2.3 1.1 -2.2 -1.4zM604.1 450.8l2.2 1.9 -2.2 1.4 -2.3 -1.8zM599.6 457l2.2 1.6 -2.2 1.4 -2.2 -1.6zM588.4 463.7l2.3 1.4 -2.3 1.2 -2.2 -1.4zM586.2 464.9l2.2 1.4 -2.2 1.2 -2.2 -1.4zM561.7 470.7l2.2 1.3 -2.2 1.2 -2.3 -1.2zM568.4 469.5l2.2 1.3 -2.2 1.2 -2.3 -1.3zM575.1 468.3l2.2 1.4 -2.2 1.2 -2.3 -1.3z"/>
<path fill="#28ffd7" stroke="#28ffd7" stroke-width="0.55" stroke-linejoin="round" d="M546 372.6l2.3 2.5 -2.3 2.4 -2.2 -2.4zM568.4 373.9l2.2 2.8 -2.2 2.1 -2.3 -2.7zM539.3 379.9l2.3 2.4 -2.3 2.4 -2.2 -2.3zM537.1 382.4l2.2 2.3 -2.2 2.4 -2.2 -2.3zM537.1 387.1l2.2 2.3 -2.2 2.4 -2.2 -2.3zM534.9 389.5l2.2 2.3 -2.2 2.3 -2.2 -2.2zM537.1 396.4l2.2 2.2 -2.2 2.5 -2.2 -2.3zM519.3 431.5l2.2 2.5 -2.2 3.9 -2.3 -2.5zM508.1 446.9l2.2 1.9 -2.2 2.3 -2.2 -1.7zM566.1 389.9l2.3 2.2 -2.3 2 -2.2 -2.2zM561.7 398.6l2.2 2.2 -2.2 2.7 -2.3 -2.3zM561.7 403.5l2.2 2.3 -2.2 2.8 -2.3 -2.4zM539.3 413.6l2.3 3 -2.3 2.6 -2.2 -3zM523.7 430.1l2.3 2.3 -2.3 3.6 -2.2 -2zM528.2 428.7l2.2 2.6 -2.2 3.4 -2.2 -2.3zM508.1 451.1l2.2 1.4 -2.2 2.2 -2.2 -1.2zM519.3 454.3l2.2 1.4 -2.2 2 -2.3 -1.3zM521.5 455.7l2.2 1.4 -2.2 1.9 -2.2 -1.3zM568.4 411.8l2.2 3.7 -2.2 2.8 -2.3 -3.6zM523.7 457.1l2.3 1.4 -2.3 1.9 -2.2 -1.4zM532.7 459.7l2.2 1.5 -2.2 1.7 -2.3 -1.5zM534.9 461.2l2.2 1.5 -2.2 1.6 -2.2 -1.4zM586.2 423.5l2.2 3.3 -2.2 2.1 -2.2 -3.3zM588.4 426.8l2.3 3.3 -2.3 2.1 -2.2 -3.3zM555 466.1l2.2 1.7 -2.2 1.3 -2.3 -1.6zM541.6 462.7l2.2 1.5 -2.2 1.5 -2.3 -1.5zM548.3 464.3l2.2 1.6 -2.2 1.4 -2.3 -1.6zM597.4 452.2l2.2 1.7 -2.2 1.5 -2.3 -1.7zM592.9 458.4l2.2 1.5 -2.2 1.4 -2.2 -1.4zM577.3 464.6l2.2 1.3 -2.2 1.2 -2.2 -1.3zM590.7 459.9l2.2 1.4 -2.2 1.2 -2.3 -1.4zM563.9 466.9l2.2 1.3 -2.2 1.3 -2.2 -1.3zM570.6 465.7l2.2 1.3 -2.2 1.3 -2.2 -1.4z"/>
<path fill="#2cffd3" stroke="#2cffd3" stroke-width="0.55" stroke-linejoin="round" d="M550.5 372.6l2.2 2.6 -2.2 2.4 -2.2 -2.5zM555 372.8l2.2 2.6 -2.2 2.3 -2.3 -2.5zM559.4 373l2.3 2.7 -2.3 2.3 -2.2 -2.6zM563.9 373.4l2.2 2.7 -2.2 2.3 -2.2 -2.7zM534.9 384.8l2.2 2.3 -2.2 2.4 -2.2 -2.3zM532.7 387.2l2.2 2.3 -2.2 2.4 -2.3 -2.2zM539.3 403.4l2.3 2.2 -2.3 2.6 -2.2 -2.3zM512.6 436.8l2.2 2.5 -2.2 2.5 -2.3 -2.3zM510.3 439.5l2.3 2.3 -2.3 2.5 -2.2 -2.1zM505.9 449.4l2.2 1.7 -2.2 2.4 -2.3 -1.6zM570.6 381.3l2.2 2.5 -2.2 2 -2.2 -2.4zM568.4 387.8l2.2 2.4 -2.2 1.9 -2.3 -2.2zM539.3 408.2l2.3 2.8 -2.3 2.6 -2.2 -2.9zM510.3 452.5l2.3 1.3 -2.3 2.2 -2.2 -1.3zM512.6 453.8l2.2 1.3 -2.2 2.1 -2.3 -1.2zM514.8 455.1l2.2 1.3 -2.2 2.1 -2.2 -1.3zM584 419.7l2.2 3.8 -2.2 2.1 -2.3 -3.9zM572.8 412.8l2.3 3.8 -2.3 2.6 -2.2 -3.7zM579.5 417.8l2.2 3.9 -2.2 2.4 -2.2 -3.7zM526 458.5l2.2 1.5 -2.2 1.8 -2.3 -1.4zM537.1 462.7l2.2 1.5 -2.2 1.6 -2.2 -1.5zM557.2 467.8l2.2 1.6 -2.2 1.3 -2.2 -1.6zM543.8 464.2l2.2 1.5 -2.2 1.5 -2.2 -1.5zM550.5 465.9l2.2 1.6 -2.2 1.3 -2.2 -1.5zM601.8 445.3l2.3 1.9 -2.3 1.8 -2.2 -1.8zM599.6 450.6l2.2 1.7 -2.2 1.6 -2.2 -1.7zM595.1 456.9l2.3 1.5 -2.3 1.5 -2.2 -1.5zM588.4 461.1l2.3 1.4 -2.3 1.2 -2.2 -1.4zM586.2 462.3l2.2 1.4 -2.2 1.2 -2.2 -1.4zM561.7 468.2l2.2 1.3 -2.2 1.2 -2.3 -1.3zM568.4 466.9l2.2 1.4 -2.2 1.2 -2.3 -1.3zM575.1 465.8l2.2 1.3 -2.2 1.2 -2.3 -1.3z"/>
<path fill="#20ffdf" stroke="#20ffdf" stroke-width="0.55" stroke-linejoin="round" d="M548.3 375.1l2.2 2.5 -2.2 2.4 -2.3 -2.5zM566.1 376.1l2.3 2.7 -2.3 2.2 -2.2 -2.6zM543.8 379.9l2.2 2.4 -2.2 2.4 -2.2 -2.4zM541.6 382.3l2.2 2.4 -2.2 2.4 -2.3 -2.4zM541.6 387.1l2.2 2.3 -2.2 2.3 -2.3 -2.3zM539.3 394l2.3 2.3 -2.3 2.3 -2.2 -2.2zM541.6 400.8l2.2 2.3 -2.2 2.5 -2.3 -2.2zM510.3 444.3l2.3 2.2 -2.3 2.3 -2.2 -1.9zM568.4 378.8l2.2 2.5 -2.2 2.1 -2.3 -2.4zM566.1 385.5l2.3 2.3 -2.3 2.1 -2.2 -2.3zM561.7 394l2.2 2.1 -2.2 2.5 -2.3 -2.2zM559.4 401.2l2.3 2.3 -2.3 2.7 -2.2 -2.5zM561.7 408.6l2.2 2.5 -2.2 2.9 -2.3 -2.6zM539.3 419.2l2.3 3 -2.3 2.7 -2.2 -3.1zM526 432.4l2.2 2.3 -2.2 3.4 -2.3 -2.1zM532.7 427.9l2.2 2.8 -2.2 3.2 -2.3 -2.6zM510.3 448.8l2.3 1.4 -2.3 2.3 -2.2 -1.4zM521.5 452.2l2.2 1.5 -2.2 2 -2.2 -1.4zM523.7 453.7l2.3 1.4 -2.3 2 -2.2 -1.4zM563.9 411.1l2.2 3.6 -2.2 2.8 -2.2 -3.5zM570.6 415.5l2.2 3.7 -2.2 2.7 -2.2 -3.6zM526 455.1l2.2 1.6 -2.2 1.8 -2.3 -1.4zM534.9 457.9l2.2 1.6 -2.2 1.7 -2.2 -1.5zM537.1 459.5l2.2 1.6 -2.2 1.6 -2.2 -1.5zM595.1 436.7l2.3 3.3 -2.3 2.1 -2.2 -3.3zM597.4 440l2.2 3.3 -2.2 2.1 -2.3 -3.3zM557.2 464.8l2.2 1.7 -2.2 1.3 -2.2 -1.7zM561.7 465.1l2.2 1.8 -2.2 1.3 -2.3 -1.7zM597.4 448.8l2.2 1.8 -2.2 1.6 -2.3 -1.8zM584 460.9l2.2 1.4 -2.2 1.2 -2.3 -1.4zM566.1 465.6l2.3 1.3 -2.3 1.3 -2.2 -1.3zM572.8 464.4l2.3 1.4 -2.3 1.2 -2.2 -1.3z"/>
<path fill="#24ffdb" stroke="#24ffdb" stroke-width="0.55" stroke-linejoin="round" d="M552.7 375.2l2.3 2.5 -2.3 2.4 -2.2 -2.5zM557.2 375.4l2.2 2.6 -2.2 2.3 -2.2 -2.6zM561.7 375.7l2.2 2.7 -2.2 2.2 -2.3 -2.6zM543.8 375.1l2.2 2.4 -2.2 2.4 -2.2 -2.4zM541.6 377.5l2.2 2.4 -2.2 2.4 -2.3 -2.4zM539.3 384.7l2.3 2.4 -2.3 2.3 -2.2 -2.3zM539.3 389.4l2.3 2.3 -2.3 2.3 -2.2 -2.2zM537.1 391.8l2.2 2.2 -2.2 2.4 -2.2 -2.3zM539.3 398.6l2.3 2.2 -2.3 2.6 -2.2 -2.3zM570.6 376.7l2.2 2.5 -2.2 2.1 -2.2 -2.5zM568.4 383.4l2.2 2.4 -2.2 2 -2.3 -2.3zM563.9 391.9l2.2 2.2 -2.2 2 -2.2 -2.1zM541.6 405.6l2.2 2.9 -2.2 2.5 -2.3 -2.8zM541.6 411l2.2 2.9 -2.2 2.7 -2.3 -3zM537.1 421.8l2.2 3.1 -2.2 2.6 -2.2 -3zM534.9 424.5l2.2 3 -2.2 3.2 -2.2 -2.8zM512.6 450.2l2.2 1.4 -2.2 2.2 -2.3 -1.3zM514.8 451.6l2.2 1.3 -2.2 2.2 -2.2 -1.3zM517 452.9l2.3 1.4 -2.3 2.1 -2.2 -1.3zM575.1 416.6l2.2 3.8 -2.2 2.5 -2.3 -3.7zM581.7 421.7l2.3 3.9 -2.3 2.3 -2.2 -3.8zM528.2 456.7l2.2 1.5 -2.2 1.8 -2.2 -1.5zM530.4 458.2l2.3 1.5 -2.3 1.7 -2.2 -1.4zM539.3 461.1l2.3 1.6 -2.3 1.5 -2.2 -1.5zM590.7 430.1l2.2 3.3 -2.2 2.1 -2.3 -3.3zM592.9 433.4l2.2 3.3 -2.2 2.1 -2.2 -3.3zM552.7 464.5l2.3 1.6 -2.3 1.4 -2.2 -1.6zM559.4 466.5l2.3 1.7 -2.3 1.2 -2.2 -1.6zM546 462.7l2.3 1.6 -2.3 1.4 -2.2 -1.5zM599.6 443.3l2.2 2 -2.2 1.9 -2.2 -1.8zM599.6 447.2l2.2 1.8 -2.2 1.6 -2.2 -1.8zM595.1 453.7l2.3 1.7 -2.3 1.5 -2.2 -1.6zM581.7 462.1l2.3 1.4 -2.3 1.2 -2.2 -1.4zM579.5 463.3l2.2 1.4 -2.2 1.2 -2.2 -1.3z"/>
<path fill="#18ffe7" stroke="#18ffe7" stroke-width="0.55" stroke-linejoin="round" d="M550.5 377.6l2.2 2.5 -2.2 2.3 -2.2 -2.4zM563.9 378.4l2.2 2.6 -2.2 2.2 -2.2 -2.6zM546 382.3l2.3 2.4 -2.3 2.4 -2.2 -2.4zM543.8 389.4l2.2 2.3 -2.2 2.3 -2.2 -2.3zM543.8 394l2.2 2.3 -2.2 2.3 -2.2 -2.3zM543.8 398.6l2.2 2.3 -2.2 2.2 -2.2 -2.3zM514.8 439.3l2.2 2.5 -2.2 2.3 -2.2 -2.3zM566.1 381l2.3 2.4 -2.3 2.1 -2.2 -2.3zM561.7 389.7l2.2 2.2 -2.2 2.1 -2.3 -2.1zM557.2 398.9l2.2 2.3 -2.2 2.5 -2.2 -2.4zM557.2 403.7l2.2 2.5 -2.2 2.7 -2.2 -2.6zM543.8 403.1l2.2 2.8 -2.2 2.6 -2.2 -2.9zM543.8 413.9l2.2 2.9 -2.2 2.7 -2.2 -2.9zM523.7 436l2.3 2.1 -2.3 3.4 -2.2 -1.8zM528.2 434.7l2.2 2.3 -2.2 3.2 -2.2 -2.1zM523.7 450.2l2.3 1.5 -2.3 2 -2.2 -1.5zM526 451.7l2.2 1.5 -2.2 1.9 -2.3 -1.4zM566.1 414.7l2.3 3.6 -2.3 2.7 -2.2 -3.5zM572.8 419.2l2.3 3.7 -2.3 2.6 -2.2 -3.6zM528.2 453.2l2.2 1.6 -2.2 1.9 -2.2 -1.6zM539.3 457.8l2.3 1.7 -2.3 1.6 -2.2 -1.6zM588.4 432.2l2.3 3.3 -2.3 2 -2.2 -3.2zM590.7 435.5l2.2 3.3 -2.2 1.9 -2.3 -3.2zM592.9 438.8l2.2 3.3 -2.2 1.8 -2.2 -3.2zM548.3 461.2l2.2 1.6 -2.2 1.5 -2.3 -1.6zM555 463l2.2 1.8 -2.2 1.3 -2.3 -1.6zM559.4 463.4l2.3 1.7 -2.3 1.4 -2.2 -1.7zM563.9 463.8l2.2 1.8 -2.2 1.3 -2.2 -1.8zM597.4 445.4l2.2 1.8 -2.2 1.6 -2.3 -1.7zM595.1 450.4l2.3 1.8 -2.3 1.5 -2.2 -1.6zM590.7 456.9l2.2 1.5 -2.2 1.5 -2.3 -1.5zM577.3 462l2.2 1.3 -2.2 1.3 -2.2 -1.4zM588.4 458.4l2.3 1.5 -2.3 1.2 -2.2 -1.4zM568.4 464.4l2.2 1.3 -2.2 1.2 -2.3 -1.3z"/>
<path fill="#1cffe3" stroke="#1cffe3" stroke-width="0.55" stroke-linejoin="round" d="M555 377.7l2.2 2.6 -2.2 2.3 -2.3 -2.5zM559.4 378l2.3 2.6 -2.3 2.2 -2.2 -2.5zM546 377.5l2.3 2.5 -2.3 2.3 -2.2 -2.4zM543.8 384.7l2.2 2.4 -2.2 2.3 -2.2 -2.3zM541.6 391.7l2.2 2.3 -2.2 2.3 -2.3 -2.3zM541.6 396.3l2.2 2.3 -2.2 2.2 -2.3 -2.2zM517 435.4l2.3 2.5 -2.3 3.9 -2.2 -2.5zM512.6 441.8l2.2 2.3 -2.2 2.4 -2.3 -2.2zM563.9 387.6l2.2 2.3 -2.2 2 -2.2 -2.2zM559.4 396.4l2.3 2.2 -2.3 2.6 -2.2 -2.3zM559.4 406.2l2.3 2.4 -2.3 2.8 -2.2 -2.5zM543.8 408.5l2.2 2.8 -2.2 2.6 -2.2 -2.9zM541.6 416.6l2.2 2.9 -2.2 2.7 -2.3 -3zM521.5 434l2.2 2 -2.2 3.7 -2.2 -1.8zM530.4 431.3l2.3 2.6 -2.3 3.1 -2.2 -2.3zM512.6 446.5l2.2 1.4 -2.2 2.3 -2.3 -1.4zM514.8 447.9l2.2 1.5 -2.2 2.2 -2.2 -1.4zM517 449.4l2.3 1.4 -2.3 2.1 -2.2 -1.3zM519.3 450.8l2.2 1.4 -2.2 2.1 -2.3 -1.4zM577.3 420.4l2.2 3.7 -2.2 2.5 -2.2 -3.7zM530.4 454.8l2.3 1.5 -2.3 1.9 -2.2 -1.5zM532.7 456.3l2.2 1.6 -2.2 1.8 -2.3 -1.5zM541.6 459.5l2.2 1.6 -2.2 1.6 -2.3 -1.6zM584 425.6l2.2 3.3 -2.2 2.2 -2.3 -3.2zM586.2 428.9l2.2 3.3 -2.2 2.1 -2.2 -3.2zM550.5 462.8l2.2 1.7 -2.2 1.4 -2.2 -1.6zM543.8 461.1l2.2 1.6 -2.2 1.5 -2.2 -1.5zM592.9 455.3l2.2 1.6 -2.2 1.5 -2.2 -1.5zM575.1 463.2l2.2 1.4 -2.2 1.2 -2.3 -1.4zM586.2 459.7l2.2 1.4 -2.2 1.2 -2.2 -1.4z"/>
<path fill="#10ffef" stroke="#10ffef" stroke-width="0.55" stroke-linejoin="round" d="M552.7 380.1l2.3 2.5 -2.3 2.3 -2.2 -2.5zM561.7 380.6l2.2 2.6 -2.2 2.2 -2.3 -2.6zM550.5 382.4l2.2 2.5 -2.2 2.3 -2.2 -2.5zM548.3 389.4l2.2 2.4 -2.2 2.3 -2.3 -2.4zM548.3 394.1l2.2 2.3 -2.2 2.2 -2.3 -2.3zM548.3 398.6l2.2 2.6 -2.2 2.3 -2.3 -2.6zM552.7 398.9l2.3 2.4 -2.3 2.4 -2.2 -2.5zM550.5 401.2l2.2 2.5 -2.2 2.5 -2.2 -2.7zM548.3 403.5l2.2 2.7 -2.2 2.4 -2.3 -2.7zM552.7 403.7l2.3 2.6 -2.3 2.6 -2.2 -2.7zM543.8 419.5l2.2 2.9 -2.2 2.7 -2.2 -2.9zM541.6 422.2l2.2 2.9 -2.2 2.8 -2.3 -3zM519.3 437.9l2.2 1.8 -2.2 3.7 -2.3 -1.6zM526 438.1l2.2 2.1 -2.2 3.2 -2.3 -1.9zM534.9 430.7l2.2 2.8 -2.2 2.9 -2.2 -2.5zM532.7 433.9l2.2 2.5 -2.2 2.9 -2.3 -2.3zM561.7 414l2.2 3.5 -2.2 2.8 -2.3 -3.4zM568.4 418.3l2.2 3.6 -2.2 2.6 -2.3 -3.5zM575.1 422.9l2.2 3.7 -2.2 2.5 -2.3 -3.6zM541.6 456l2.2 1.7 -2.2 1.8 -2.3 -1.7zM543.8 457.7l2.2 1.8 -2.2 1.6 -2.2 -1.6zM530.4 451.3l2.3 1.6 -2.3 1.9 -2.2 -1.6zM532.7 452.9l2.2 1.6 -2.2 1.8 -2.3 -1.5zM581.7 427.9l2.3 3.2 -2.3 2.3 -2.2 -3.1zM584 431.1l2.2 3.2 -2.2 2.1 -2.3 -3zM586.2 434.3l2.2 3.2 -2.2 2 -2.2 -3.1zM550.5 459.6l2.2 1.7 -2.2 1.5 -2.2 -1.6zM557.2 461.6l2.2 1.8 -2.2 1.4 -2.2 -1.8zM561.7 462l2.2 1.8 -2.2 1.3 -2.3 -1.7zM566.1 462.5l2.3 1.9 -2.3 1.2 -2.2 -1.8zM590.7 453.7l2.2 1.6 -2.2 1.6 -2.3 -1.6zM581.7 459.5l2.3 1.4 -2.3 1.2 -2.2 -1.4z"/>
<path fill="#14ffeb" stroke="#14ffeb" stroke-width="0.55" stroke-linejoin="round" d="M557.2 380.3l2.2 2.5 -2.2 2.3 -2.2 -2.5zM548.3 380l2.2 2.4 -2.2 2.3 -2.3 -2.4zM548.3 384.7l2.2 2.5 -2.2 2.2 -2.3 -2.3zM546 387.1l2.3 2.3 -2.3 2.3 -2.2 -2.3zM546 391.7l2.3 2.4 -2.3 2.2 -2.2 -2.3zM546 396.3l2.3 2.3 -2.3 2.3 -2.2 -2.3zM563.9 383.2l2.2 2.3 -2.2 2.1 -2.2 -2.2zM546 400.9l2.3 2.6 -2.3 2.4 -2.2 -2.8zM559.4 391.9l2.3 2.1 -2.3 2.4 -2.2 -2.2zM557.2 394.2l2.2 2.2 -2.2 2.5 -2.2 -2.4zM555 396.5l2.2 2.4 -2.2 2.4 -2.3 -2.4zM555 401.3l2.2 2.4 -2.2 2.6 -2.3 -2.6zM555 406.3l2.2 2.6 -2.2 2.6 -2.3 -2.6zM557.2 408.9l2.2 2.5 -2.2 2.8 -2.2 -2.7zM559.4 411.4l2.3 2.6 -2.3 2.9 -2.2 -2.7zM546 405.9l2.3 2.7 -2.3 2.7 -2.2 -2.8zM546 411.3l2.3 2.8 -2.3 2.7 -2.2 -2.9zM539.3 424.9l2.3 3 -2.3 2.7 -2.2 -3.1zM537.1 427.5l2.2 3.1 -2.2 2.9 -2.2 -2.8zM514.8 444.1l2.2 1.5 -2.2 2.3 -2.2 -1.4zM517 445.6l2.3 1.5 -2.3 2.3 -2.2 -1.5zM519.3 447.1l2.2 1.6 -2.2 2.1 -2.3 -1.4zM521.5 448.7l2.2 1.5 -2.2 2 -2.2 -1.4zM579.5 424.1l2.2 3.8 -2.2 2.4 -2.2 -3.7zM534.9 454.5l2.2 1.7 -2.2 1.7 -2.2 -1.6zM537.1 456.2l2.2 1.6 -2.2 1.7 -2.2 -1.6zM595.1 442.1l2.3 3.3 -2.3 1.7 -2.2 -3.2zM546 459.5l2.3 1.7 -2.3 1.5 -2.2 -1.6zM552.7 461.3l2.3 1.7 -2.3 1.5 -2.2 -1.7zM595.1 447.1l2.3 1.7 -2.3 1.6 -2.2 -1.7zM592.9 452.1l2.2 1.6 -2.2 1.6 -2.2 -1.6zM579.5 460.7l2.2 1.4 -2.2 1.2 -2.2 -1.3zM570.6 463.1l2.2 1.3 -2.2 1.3 -2.2 -1.3z"/>
<path fill="#08fff7" stroke="#08fff7" stroke-width="0.55" stroke-linejoin="round" d="M555 382.6l2.2 2.5 -2.2 2.2 -2.3 -2.4zM559.4 382.8l2.3 2.6 -2.3 2.2 -2.2 -2.5zM552.7 384.9l2.3 2.4 -2.3 2.3 -2.2 -2.4zM550.5 391.8l2.2 2.4 -2.2 2.2 -2.2 -2.3zM559.4 387.6l2.3 2.1 -2.3 2.2 -2.2 -2.1zM555 392l2.2 2.2 -2.2 2.3 -2.3 -2.3zM555 411.5l2.2 2.7 -2.2 2.8 -2.3 -2.8zM550.5 411.4l2.2 2.8 -2.2 2.8 -2.2 -2.9zM548.3 414.1l2.2 2.9 -2.2 2.7 -2.3 -2.9zM526 443.4l2.2 1.8 -2.2 2.9 -2.3 -1.6zM530.4 442.3l2.3 2 -2.3 2.7 -2.2 -1.8zM528.2 445.2l2.2 1.8 -2.2 2.7 -2.2 -1.6zM530.4 447l2.3 1.8 -2.3 2.5 -2.2 -1.6zM563.9 417.5l2.2 3.5 -2.2 2.7 -2.2 -3.4zM570.6 421.9l2.2 3.6 -2.2 2.5 -2.2 -3.5zM532.7 448.8l2.2 1.8 -2.2 2.3 -2.3 -1.6zM534.9 450.6l2.2 1.8 -2.2 2.1 -2.2 -1.6zM548.3 457.9l2.2 1.7 -2.2 1.6 -2.3 -1.7zM559.4 460.2l2.3 1.8 -2.3 1.4 -2.2 -1.8zM563.9 460.6l2.2 1.9 -2.2 1.3 -2.2 -1.8zM568.4 461.2l2.2 1.9 -2.2 1.3 -2.3 -1.9zM588.4 455.3l2.3 1.6 -2.3 1.5 -2.2 -1.4zM575.1 460.6l2.2 1.4 -2.2 1.2 -2.3 -1.4zM586.2 457l2.2 1.4 -2.2 1.3 -2.2 -1.5z"/>
<path fill="#00ffff" stroke="#00ffff" stroke-width="0.55" stroke-linejoin="round" d="M557.2 385.1l2.2 2.5 -2.2 2.2 -2.2 -2.5zM555 387.3l2.2 2.5 -2.2 2.2 -2.3 -2.4zM552.7 414.2l2.3 2.8 -2.3 2.8 -2.2 -2.8zM550.5 417l2.2 2.8 -2.2 2.8 -2.2 -2.9zM548.3 419.7l2.2 2.9 -2.2 2.7 -2.3 -2.9zM546 422.4l2.3 2.9 -2.3 2.8 -2.2 -3zM543.8 425.1l2.2 3 -2.2 2.8 -2.2 -3zM541.6 427.9l2.2 3 -2.2 2.8 -2.3 -3.1zM539.3 430.6l2.3 3.1 -2.3 2.6 -2.2 -2.8zM537.1 433.5l2.2 2.8 -2.2 2.7 -2.2 -2.6zM532.7 444.3l2.2 2.1 -2.2 2.4 -2.3 -1.8zM559.4 416.9l2.3 3.4 -2.3 2.8 -2.2 -3.3zM566.1 421l2.3 3.5 -2.3 2.6 -2.2 -3.4zM572.8 425.5l2.3 3.6 -2.3 2.4 -2.2 -3.5zM534.9 446.4l2.2 1.9 -2.2 2.3 -2.2 -1.8zM537.1 448.3l2.2 1.9 -2.2 2.2 -2.2 -1.8zM539.3 450.2l2.3 2 -2.3 2 -2.2 -1.8zM579.5 430.3l2.2 3.1 -2.2 2.2 -2.2 -2.9zM570.6 459.8l2.2 2 -2.2 1.3 -2.2 -1.9zM557.2 458.4l2.2 1.8 -2.2 1.4 -2.2 -1.7zM561.7 458.8l2.2 1.8 -2.2 1.4 -2.3 -1.8zM566.1 459.3l2.3 1.9 -2.3 1.3 -2.2 -1.9zM588.4 452.1l2.3 1.6 -2.3 1.6 -2.2 -1.5zM579.5 458l2.2 1.5 -2.2 1.2 -2.2 -1.4z"/>
<path fill="#0cfff3" stroke="#0cfff3" stroke-width="0.55" stroke-linejoin="round" d="M550.5 387.2l2.2 2.4 -2.2 2.2 -2.2 -2.4zM561.7 385.4l2.2 2.2 -2.2 2.1 -2.3 -2.1zM552.7 394.2l2.3 2.3 -2.3 2.4 -2.2 -2.5zM550.5 396.4l2.2 2.5 -2.2 2.3 -2.2 -2.6zM550.5 406.2l2.2 2.7 -2.2 2.5 -2.2 -2.8zM552.7 408.9l2.3 2.6 -2.3 2.7 -2.2 -2.8zM548.3 408.6l2.2 2.8 -2.2 2.7 -2.3 -2.8zM546 416.8l2.3 2.9 -2.3 2.7 -2.2 -2.9zM521.5 439.7l2.2 1.8 -2.2 3.4 -2.2 -1.5zM523.7 441.5l2.3 1.9 -2.3 3.1 -2.2 -1.6zM530.4 437l2.3 2.3 -2.3 3 -2.2 -2.1zM528.2 440.2l2.2 2.1 -2.2 2.9 -2.2 -1.8zM517 441.8l2.3 1.6 -2.3 2.2 -2.2 -1.5zM519.3 443.4l2.2 1.5 -2.2 2.2 -2.3 -1.5zM521.5 444.9l2.2 1.6 -2.2 2.2 -2.2 -1.6zM523.7 446.5l2.3 1.6 -2.3 2.1 -2.2 -1.5zM526 448.1l2.2 1.6 -2.2 2 -2.3 -1.5zM528.2 449.7l2.2 1.6 -2.2 1.9 -2.2 -1.5zM537.1 452.4l2.2 1.8 -2.2 2 -2.2 -1.7zM539.3 454.2l2.3 1.8 -2.3 1.8 -2.2 -1.6zM588.4 437.5l2.3 3.2 -2.3 1.9 -2.2 -3.1zM590.7 440.7l2.2 3.2 -2.2 1.8 -2.3 -3.1zM592.9 443.9l2.2 3.2 -2.2 1.6 -2.2 -3zM555 459.9l2.2 1.7 -2.2 1.4 -2.3 -1.7zM592.9 448.7l2.2 1.7 -2.2 1.7 -2.2 -1.7zM572.8 461.8l2.3 1.4 -2.3 1.2 -2.2 -1.3zM584 458.2l2.2 1.5 -2.2 1.2 -2.3 -1.4z"/>
<path fill="#04fffb" stroke="#04fffb" stroke-width="0.55" stroke-linejoin="round" d="M552.7 389.6l2.3 2.4 -2.3 2.2 -2.2 -2.4zM557.2 389.8l2.2 2.1 -2.2 2.3 -2.2 -2.2zM557.2 414.2l2.2 2.7 -2.2 2.9 -2.2 -2.8zM534.9 436.4l2.2 2.6 -2.2 2.7 -2.2 -2.4zM532.7 439.3l2.2 2.4 -2.2 2.6 -2.3 -2zM577.3 426.6l2.2 3.7 -2.2 2.4 -2.2 -3.6zM541.6 452.2l2.2 1.9 -2.2 1.9 -2.3 -1.8zM543.8 454.1l2.2 1.9 -2.2 1.7 -2.2 -1.7zM546 456l2.3 1.9 -2.3 1.6 -2.2 -1.8zM581.7 433.4l2.3 3 -2.3 2.2 -2.2 -3zM584 436.4l2.2 3.1 -2.2 2 -2.3 -2.9zM586.2 439.5l2.2 3.1 -2.2 1.9 -2.2 -3zM588.4 442.6l2.3 3.1 -2.3 1.8 -2.2 -3zM590.7 445.7l2.2 3 -2.2 1.7 -2.3 -2.9zM552.7 458.1l2.3 1.8 -2.3 1.4 -2.2 -1.7zM590.7 450.4l2.2 1.7 -2.2 1.6 -2.3 -1.6zM577.3 459.3l2.2 1.4 -2.2 1.3 -2.2 -1.4z"/>
<path fill="#00fbff" stroke="#00fbff" stroke-width="0.55" stroke-linejoin="round" d="M555 417l2.2 2.8 -2.2 2.8 -2.3 -2.8zM534.9 441.7l2.2 2.3 -2.2 2.4 -2.2 -2.1zM586.2 444.5l2.2 3 -2.2 1.8 -2.2 -2.9zM588.4 447.5l2.3 2.9 -2.3 1.7 -2.2 -2.8zM572.8 458.4l2.3 2.2 -2.3 1.2 -2.2 -2zM550.5 456.4l2.2 1.7 -2.2 1.5 -2.2 -1.7zM581.7 456.8l2.3 1.4 -2.3 1.3 -2.2 -1.5z"/>
<path fill="#00f7ff" stroke="#00f7ff" stroke-width="0.55" stroke-linejoin="round" d="M552.7 419.8l2.3 2.8 -2.3 2.8 -2.2 -2.8zM561.7 420.3l2.2 3.4 -2.2 2.7 -2.3 -3.3zM568.4 424.5l2.2 3.5 -2.2 2.6 -2.3 -3.5zM575.1 429.1l2.2 3.6 -2.2 2.3 -2.3 -3.5zM537.1 444l2.2 2 -2.2 2.3 -2.2 -1.9zM539.3 446l2.3 2.1 -2.3 2.1 -2.2 -1.9zM541.6 448.1l2.2 2.1 -2.2 2 -2.3 -2zM543.8 450.2l2.2 2 -2.2 1.9 -2.2 -1.9zM546 452.2l2.3 2.1 -2.3 1.7 -2.2 -1.9zM548.3 454.3l2.2 2.1 -2.2 1.5 -2.3 -1.9zM581.7 438.6l2.3 2.9 -2.3 2.1 -2.2 -2.9zM584 441.5l2.2 3 -2.2 1.9 -2.3 -2.8zM568.4 457.8l2.2 2 -2.2 1.4 -2.3 -1.9zM575.1 457l2.2 2.3 -2.2 1.3 -2.3 -2.2zM555 456.6l2.2 1.8 -2.2 1.5 -2.3 -1.8zM586.2 453.8l2.2 1.5 -2.2 1.7 -2.2 -1.5z"/>
<path fill="#00f3ff" stroke="#00f3ff" stroke-width="0.55" stroke-linejoin="round" d="M550.5 422.6l2.2 2.8 -2.2 2.9 -2.2 -3zM537.1 439l2.2 2.6 -2.2 2.4 -2.2 -2.3zM557.2 419.8l2.2 3.3 -2.2 2.7 -2.2 -3.2zM577.3 432.7l2.2 2.9 -2.2 2.3 -2.2 -2.9zM579.5 435.6l2.2 3 -2.2 2.1 -2.2 -2.8zM586.2 449.3l2.2 2.8 -2.2 1.7 -2.2 -2.7zM570.6 456.3l2.2 2.1 -2.2 1.4 -2.2 -2zM577.3 455.7l2.2 2.3 -2.2 1.3 -2.2 -2.3zM559.4 456.9l2.3 1.9 -2.3 1.4 -2.2 -1.8zM563.9 457.4l2.2 1.9 -2.2 1.3 -2.2 -1.8zM584 455.5l2.2 1.5 -2.2 1.2 -2.3 -1.4z"/>
<path fill="#00efff" stroke="#00efff" stroke-width="0.55" stroke-linejoin="round" d="M548.3 425.3l2.2 3 -2.2 2.8 -2.3 -3zM539.3 436.3l2.3 2.8 -2.3 2.5 -2.2 -2.6zM563.9 423.7l2.2 3.4 -2.2 2.7 -2.2 -3.4zM570.6 428l2.2 3.5 -2.2 2.5 -2.2 -3.4zM555 422.6l2.2 3.2 -2.2 2.7 -2.3 -3.1zM584 446.4l2.2 2.9 -2.2 1.8 -2.3 -2.8zM572.8 454.8l2.3 2.2 -2.3 1.4 -2.2 -2.1zM579.5 454.3l2.2 2.5 -2.2 1.2 -2.2 -2.3zM552.7 454.8l2.3 1.8 -2.3 1.5 -2.2 -1.7z"/>
<path fill="#00ebff" stroke="#00ebff" stroke-width="0.55" stroke-linejoin="round" d="M546 428.1l2.3 3 -2.3 2.8 -2.2 -3zM559.4 423.1l2.3 3.3 -2.3 2.6 -2.2 -3.2zM539.3 441.6l2.3 2.2 -2.3 2.2 -2.2 -2zM541.6 443.8l2.2 2.2 -2.2 2.1 -2.3 -2.1zM543.8 446l2.2 2.2 -2.2 2 -2.2 -2.1zM546 448.2l2.3 2.2 -2.3 1.8 -2.2 -2zM548.3 450.4l2.2 2.2 -2.2 1.7 -2.3 -2.1zM550.5 452.6l2.2 2.2 -2.2 1.6 -2.2 -2.1zM579.5 440.7l2.2 2.9 -2.2 2 -2.2 -2.7zM581.7 443.6l2.3 2.8 -2.3 1.9 -2.2 -2.7zM584 451.1l2.2 2.7 -2.2 1.7 -2.3 -2.6zM568.4 454.1l2.2 2.2 -2.2 1.5 -2.3 -2.1zM566.1 455.7l2.3 2.1 -2.3 1.5 -2.2 -1.9zM575.1 453.3l2.2 2.4 -2.2 1.3 -2.3 -2.2zM557.2 455.1l2.2 1.8 -2.2 1.5 -2.2 -1.8zM561.7 455.4l2.2 2 -2.2 1.4 -2.3 -1.9z"/>
<path fill="#00e7ff" stroke="#00e7ff" stroke-width="0.55" stroke-linejoin="round" d="M543.8 430.9l2.2 3 -2.2 2.8 -2.2 -3zM541.6 433.7l2.2 3 -2.2 2.4 -2.3 -2.8zM566.1 427.1l2.3 3.5 -2.3 2.5 -2.2 -3.3zM572.8 431.5l2.3 3.5 -2.3 2.4 -2.2 -3.4zM552.7 425.4l2.3 3.1 -2.3 2.7 -2.2 -2.9zM557.2 425.8l2.2 3.2 -2.2 2.5 -2.2 -3zM577.3 437.9l2.2 2.8 -2.2 2.2 -2.2 -2.8zM581.7 448.3l2.3 2.8 -2.3 1.8 -2.2 -2.6zM570.6 452.5l2.2 2.3 -2.2 1.5 -2.2 -2.2zM577.3 451.8l2.2 2.5 -2.2 1.4 -2.2 -2.4zM581.7 452.9l2.3 2.6 -2.3 1.3 -2.2 -2.5z"/>
<path fill="#00dfff" stroke="#00dfff" stroke-width="0.55" stroke-linejoin="round" d="M568.4 430.6l2.2 3.4 -2.2 2.4 -2.3 -3.3zM548.3 431.1l2.2 2.7 -2.2 2.7 -2.3 -2.6zM552.7 431.2l2.3 2.9 -2.3 2.5 -2.2 -2.8zM559.4 429l2.3 3.2 -2.3 2.4 -2.2 -3.1zM557.2 431.5l2.2 3.1 -2.2 2.4 -2.2 -2.9zM548.3 446.2l2.2 2.3 -2.2 1.9 -2.3 -2.2zM550.5 448.5l2.2 2.4 -2.2 1.7 -2.2 -2.2zM552.7 450.9l2.3 2.3 -2.3 1.6 -2.2 -2.2zM568.4 450.2l2.2 2.3 -2.2 1.6 -2.3 -2.1zM566.1 452l2.3 2.1 -2.3 1.6 -2.2 -2zM577.3 447.6l2.2 2.7 -2.2 1.5 -2.2 -2.6zM575.1 449.2l2.2 2.6 -2.2 1.5 -2.3 -2.4zM559.4 453.5l2.3 1.9 -2.3 1.5 -2.2 -1.8z"/>
<path fill="#00d3ff" stroke="#00d3ff" stroke-width="0.55" stroke-linejoin="round" d="M570.6 434l2.2 3.4 -2.2 2.3 -2.2 -3.3zM550.5 439.1l2.2 2.7 -2.2 2.4 -2.2 -2.5zM557.2 437l2.2 2.9 -2.2 2.2 -2.2 -2.7zM555 439.4l2.2 2.7 -2.2 2.3 -2.3 -2.6zM566.1 433.1l2.3 3.3 -2.3 2.1 -2.2 -3.1zM563.9 435.4l2.2 3.1 -2.2 2.2 -2.2 -3.1zM550.5 444.2l2.2 2.4 -2.2 1.9 -2.2 -2.3zM552.7 446.6l2.3 2.5 -2.3 1.8 -2.2 -2.4zM572.8 437.4l2.3 2.7 -2.3 2.3 -2.2 -2.7zM570.6 444.2l2.2 2.5 -2.2 1.8 -2.2 -2.4zM568.4 446.1l2.2 2.4 -2.2 1.7 -2.3 -2.2zM557.2 451.6l2.2 1.9 -2.2 1.6 -2.2 -1.9z"/>
<path fill="#00e3ff" stroke="#00e3ff" stroke-width="0.55" stroke-linejoin="round" d="M550.5 428.3l2.2 2.9 -2.2 2.6 -2.2 -2.7zM555 428.5l2.2 3 -2.2 2.6 -2.3 -2.9zM561.7 426.4l2.2 3.4 -2.2 2.4 -2.3 -3.2zM541.6 439.1l2.2 2.4 -2.2 2.3 -2.3 -2.2zM543.8 441.5l2.2 2.3 -2.2 2.2 -2.2 -2.2zM546 443.8l2.3 2.4 -2.3 2 -2.2 -2.2zM575.1 435l2.2 2.9 -2.2 2.2 -2.3 -2.7zM579.5 445.6l2.2 2.7 -2.2 2 -2.2 -2.7zM563.9 453.7l2.2 2 -2.2 1.7 -2.2 -2zM572.8 450.9l2.3 2.4 -2.3 1.5 -2.2 -2.3zM579.5 450.3l2.2 2.6 -2.2 1.4 -2.2 -2.5zM555 453.2l2.2 1.9 -2.2 1.5 -2.3 -1.8z"/>
<path fill="#00dbff" stroke="#00dbff" stroke-width="0.55" stroke-linejoin="round" d="M546 433.9l2.3 2.6 -2.3 2.7 -2.2 -2.5zM550.5 433.8l2.2 2.8 -2.2 2.5 -2.2 -2.6zM555 434.1l2.2 2.9 -2.2 2.4 -2.3 -2.8zM563.9 429.8l2.2 3.3 -2.2 2.3 -2.2 -3.2zM561.7 432.2l2.2 3.2 -2.2 2.2 -2.3 -3zM543.8 436.7l2.2 2.5 -2.2 2.3 -2.2 -2.4zM546 439.2l2.3 2.5 -2.3 2.1 -2.2 -2.3zM577.3 442.9l2.2 2.7 -2.2 2 -2.2 -2.6zM572.8 446.7l2.3 2.5 -2.3 1.7 -2.2 -2.4zM570.6 448.5l2.2 2.4 -2.2 1.6 -2.2 -2.3z"/>
<path fill="#00d7ff" stroke="#00d7ff" stroke-width="0.55" stroke-linejoin="round" d="M548.3 436.5l2.2 2.6 -2.2 2.6 -2.3 -2.5zM552.7 436.6l2.3 2.8 -2.3 2.4 -2.2 -2.7zM559.4 434.6l2.3 3 -2.3 2.3 -2.2 -2.9zM548.3 441.7l2.2 2.5 -2.2 2 -2.3 -2.4zM575.1 440.1l2.2 2.8 -2.2 2.1 -2.3 -2.6zM566.1 448l2.3 2.2 -2.3 1.8 -2.2 -2.2zM563.9 449.8l2.2 2.2 -2.2 1.7 -2.2 -2zM561.7 451.7l2.2 2 -2.2 1.7 -2.3 -1.9zM575.1 445l2.2 2.6 -2.2 1.6 -2.3 -2.5z"/>
<path fill="#00cfff" stroke="#00cfff" stroke-width="0.55" stroke-linejoin="round" d="M552.7 441.8l2.3 2.6 -2.3 2.2 -2.2 -2.4zM561.7 437.6l2.2 3.1 -2.2 2.1 -2.3 -2.9zM559.4 439.9l2.3 2.9 -2.3 2.1 -2.2 -2.8zM557.2 442.1l2.2 2.8 -2.2 2.1 -2.2 -2.6zM555 449.1l2.2 2.5 -2.2 1.6 -2.3 -2.3zM559.4 449.6l2.3 2.1 -2.3 1.8 -2.2 -1.9zM572.8 442.4l2.3 2.6 -2.3 1.7 -2.2 -2.5z"/>
<path fill="#00cbff" stroke="#00cbff" stroke-width="0.55" stroke-linejoin="round" d="M555 444.4l2.2 2.6 -2.2 2.1 -2.3 -2.5zM568.4 436.4l2.2 3.3 -2.2 2 -2.3 -3.2zM566.1 438.5l2.3 3.2 -2.3 2 -2.2 -3zM563.9 440.7l2.2 3 -2.2 2 -2.2 -2.9zM561.7 442.8l2.2 2.9 -2.2 2 -2.3 -2.8zM559.4 444.9l2.3 2.8 -2.3 1.9 -2.2 -2.6zM557.2 447l2.2 2.6 -2.2 2 -2.2 -2.5zM570.6 439.7l2.2 2.7 -2.2 1.8 -2.2 -2.5zM568.4 441.7l2.2 2.5 -2.2 1.9 -2.3 -2.4zM566.1 443.7l2.3 2.4 -2.3 1.9 -2.2 -2.3zM563.9 445.7l2.2 2.3 -2.2 1.8 -2.2 -2.1zM561.7 447.7l2.2 2.1 -2.2 1.9 -2.3 -2.1z"/>
<path d="M557.20 324.77 L543.81 329.50 L530.42 337.28 L517.03 349.81 L503.64 363.82 L490.25 384.93 L476.86 408.31 L463.47 433.51 M570.59 329.50 L557.20 337.09 L543.81 347.76 L530.42 359.35 L517.03 370.82 L503.64 393.17 L490.25 415.71 L476.86 439.22 M583.98 340.73 L570.59 350.41 L557.20 360.02 L543.81 375.08 L530.42 389.67 L517.03 404.03 L503.64 426.78 L490.25 447.75 M597.37 352.40 L583.98 361.69 L570.59 376.65 L557.20 389.76 L543.81 403.07 L530.42 418.36 L517.03 441.78 L503.64 455.82 M610.76 369.81 L597.37 379.83 L583.98 391.92 L570.59 402.34 L557.20 419.80 L543.81 436.72 L530.42 451.25 L517.03 462.92 M624.15 395.85 L610.76 403.40 L597.37 413.39 L583.98 425.56 L570.59 439.75 L557.20 451.61 L543.81 461.10 L530.42 470.46 M637.54 416.63 L624.15 423.19 L610.76 433.15 L597.37 445.37 L583.98 455.51 L570.59 463.11 L557.20 470.69 L543.81 477.71 M650.93 432.21 L637.54 439.46 L624.15 448.50 L610.76 456.31 L597.37 464.26 L583.98 471.13 L570.59 478.29 L557.20 485.66 M557.20 324.77 L570.59 329.50 L583.98 340.73 L597.37 352.40 L610.76 369.81 L624.15 395.85 L637.54 416.63 L650.93 432.21 M543.81 329.50 L557.20 337.09 L570.59 350.41 L583.98 361.69 L597.37 379.83 L610.76 403.40 L624.15 423.19 L637.54 439.46 M530.42 337.28 L543.81 347.76 L557.20 360.02 L570.59 376.65 L583.98 391.92 L597.37 413.39 L610.76 433.15 L624.15 448.50 M517.03 349.81 L530.42 359.35 L543.81 375.08 L557.20 389.76 L570.59 402.34 L583.98 425.56 L597.37 445.37 L610.76 456.31 M503.64 363.82 L517.03 370.82 L530.42 389.67 L543.81 403.07 L557.20 419.80 L570.59 439.75 L583.98 455.51 L597.37 464.26 M490.25 384.93 L503.64 393.17 L517.03 404.03 L530.42 418.36 L543.81 436.72 L557.20 451.61 L570.59 463.11 L583.98 471.13 M476.86 408.31 L490.25 415.71 L503.64 426.78 L517.03 441.78 L530.42 451.25 L543.81 461.10 L557.20 470.69 L570.59 478.29 M463.47 433.51 L476.86 439.22 L490.25 447.75 L503.64 455.82 L517.03 462.92 L530.42 470.46 L543.81 477.71 L557.20 485.66" stroke="#ffffff" stroke-opacity="0.5" stroke-width="0.55" fill="none"/>
<circle cx="557.2" cy="324.8" r="0.8" fill="#303030"/>
<circle cx="543.8" cy="329.5" r="0.8" fill="#303030"/>
<circle cx="530.4" cy="337.3" r="0.8" fill="#303030"/>
<circle cx="517.0" cy="349.8" r="0.8" fill="#303030"/>
<circle cx="503.6" cy="363.8" r="0.8" fill="#303030"/>
<circle cx="490.2" cy="384.9" r="0.8" fill="#303030"/>
<circle cx="476.9" cy="408.3" r="0.8" fill="#303030"/>
<circle cx="463.5" cy="433.5" r="0.8" fill="#303030"/>
<circle cx="570.6" cy="329.5" r="0.8" fill="#303030"/>
<circle cx="557.2" cy="337.1" r="0.8" fill="#303030"/>
<circle cx="543.8" cy="347.8" r="0.8" fill="#303030"/>
<circle cx="530.4" cy="359.4" r="0.8" fill="#303030"/>
<circle cx="517.0" cy="370.8" r="0.8" fill="#303030"/>
<circle cx="503.6" cy="393.2" r="0.8" fill="#303030"/>
<circle cx="490.2" cy="415.7" r="0.8" fill="#303030"/>
<circle cx="476.9" cy="439.2" r="0.8" fill="#303030"/>
<circle cx="584.0" cy="340.7" r="0.8" fill="#303030"/>
<circle cx="570.6" cy="350.4" r="0.8" fill="#303030"/>
<circle cx="557.2" cy="360.0" r="0.8" fill="#303030"/>
<circle cx="543.8" cy="375.1" r="0.8" fill="#303030"/>
<circle cx="530.4" cy="389.7" r="0.8" fill="#303030"/>
<circle cx="517.0" cy="404.0" r="0.8" fill="#303030"/>
<circle cx="503.6" cy="426.8" r="0.8" fill="#303030"/>
<circle cx="490.3" cy="447.7" r="0.8" fill="#303030"/>
<circle cx="597.4" cy="352.4" r="0.8" fill="#303030"/>
<circle cx="584.0" cy="361.7" r="0.8" fill="#303030"/>
<circle cx="570.6" cy="376.7" r="0.8" fill="#303030"/>
<circle cx="557.2" cy="389.8" r="0.8" fill="#303030"/>
<circle cx="543.8" cy="403.1" r="0.8" fill="#303030"/>
<circle cx="530.4" cy="418.4" r="0.8" fill="#303030"/>
<circle cx="517.0" cy="441.8" r="0.8" fill="#303030"/>
<circle cx="503.6" cy="455.8" r="0.8" fill="#303030"/>
<circle cx="610.8" cy="369.8" r="0.8" fill="#303030"/>
<circle cx="597.4" cy="379.8" r="0.8" fill="#303030"/>
<circle cx="584.0" cy="391.9" r="0.8" fill="#303030"/>
<circle cx="570.6" cy="402.3" r="0.8" fill="#303030"/>
<circle cx="557.2" cy="419.8" r="0.8" fill="#303030"/>
<circle cx="543.8" cy="436.7" r="0.8" fill="#303030"/>
<circle cx="530.4" cy="451.3" r="0.8" fill="#303030"/>
<circle cx="517.0" cy="462.9" r="0.8" fill="#303030"/>
<circle cx="624.2" cy="395.9" r="0.8" fill="#303030"/>
<circle cx="610.8" cy="403.4" r="0.8" fill="#303030"/>
<circle cx="597.4" cy="413.4" r="0.8" fill="#303030"/>
<circle cx="584.0" cy="425.6" r="0.8" fill="#303030"/>
<circle cx="570.6" cy="439.7" r="0.8" fill="#303030"/>
<circle cx="557.2" cy="451.6" r="0.8" fill="#303030"/>
<circle cx="543.8" cy="461.1" r="0.8" fill="#303030"/>
<circle cx="530.4" cy="470.5" r="0.8" fill="#303030"/>
<circle cx="637.5" cy="416.6" r="0.8" fill="#303030"/>
<circle cx="624.2" cy="423.2" r="0.8" fill="#303030"/>
<circle cx="610.8" cy="433.1" r="0.8" fill="#303030"/>
<circle cx="597.4" cy="445.4" r="0.8" fill="#303030"/>
<circle cx="584.0" cy="455.5" r="0.8" fill="#303030"/>
<circle cx="570.6" cy="463.1" r="0.8" fill="#303030"/>
<circle cx="557.2" cy="470.7" r="0.8" fill="#303030"/>
<circle cx="543.8" cy="477.7" r="0.8" fill="#303030"/>
<circle cx="650.9" cy="432.2" r="0.8" fill="#303030"/>
<circle cx="637.5" cy="439.5" r="0.8" fill="#303030"/>
<circle cx="624.2" cy="448.5" r="0.8" fill="#303030"/>
<circle cx="610.8" cy="456.3" r="0.8" fill="#303030"/>
<circle cx="597.4" cy="464.3" r="0.8" fill="#303030"/>
<circle cx="584.0" cy="471.1" r="0.8" fill="#303030"/>
<circle cx="570.6" cy="478.3" r="0.8" fill="#303030"/>
<circle cx="557.2" cy="485.7" r="0.8" fill="#303030"/>
<path d="M463.47 436.50 L557.20 485.50 L650.93 436.50" stroke="#6a6a6a" stroke-width="0.8" fill="none"/>
<path d="M463.47 436.50 L461.47 437.50 M476.86 443.50 L474.86 444.50 M490.25 450.50 L488.25 451.50 M503.64 457.50 L501.64 458.50 M517.03 464.50 L515.03 465.50 M530.42 471.50 L528.42 472.50 M543.81 478.50 L541.81 479.50 M557.20 485.50 L555.20 486.50 M650.93 436.50 L652.93 437.50 M637.54 443.50 L639.54 444.50 M624.15 450.50 L626.15 451.50 M610.76 457.50 L612.76 458.50 M597.37 464.50 L599.37 465.50 M583.98 471.50 L585.98 472.50 M570.59 478.50 L572.59 479.50 M557.20 485.50 L559.20 486.50" stroke="#6a6a6a" stroke-width="0.6"/>
<text x="451.87" y="445.30" font-size="6.30" text-anchor="middle" fill="#333" stroke="#333" stroke-width="0.1">0</text>
<text x="465.26" y="452.30" font-size="6.30" text-anchor="middle" fill="#333" stroke="#333" stroke-width="0.1">0.25</text>
<text x="478.65" y="459.30" font-size="6.30" text-anchor="middle" fill="#333" stroke="#333" stroke-width="0.1">0.5</text>
<text x="492.04" y="466.30" font-size="6.30" text-anchor="middle" fill="#333" stroke="#333" stroke-width="0.1">1</text>
<text x="505.43" y="473.30" font-size="6.30" text-anchor="middle" fill="#333" stroke="#333" stroke-width="0.1">2</text>
<text x="518.82" y="480.30" font-size="6.30" text-anchor="middle" fill="#333" stroke="#333" stroke-width="0.1">4</text>
<text x="532.21" y="487.30" font-size="6.30" text-anchor="middle" fill="#333" stroke="#333" stroke-width="0.1">8</text>
<text x="545.60" y="494.30" font-size="6.30" text-anchor="middle" fill="#333" stroke="#333" stroke-width="0.1">16</text>
<text x="654.93" y="445.30" font-size="6.30" text-anchor="start" fill="#333" stroke="#333" stroke-width="0.1">0</text>
<text x="641.54" y="452.30" font-size="6.30" text-anchor="start" fill="#333" stroke="#333" stroke-width="0.1">25</text>
<text x="628.15" y="459.30" font-size="6.30" text-anchor="start" fill="#333" stroke="#333" stroke-width="0.1">50</text>
<text x="614.76" y="466.30" font-size="6.30" text-anchor="start" fill="#333" stroke="#333" stroke-width="0.1">100</text>
<text x="601.37" y="473.30" font-size="6.30" text-anchor="start" fill="#333" stroke="#333" stroke-width="0.1">200</text>
<text x="587.98" y="480.30" font-size="6.30" text-anchor="start" fill="#333" stroke="#333" stroke-width="0.1">400</text>
<text x="574.59" y="487.30" font-size="6.30" text-anchor="start" fill="#333" stroke="#333" stroke-width="0.1">800</text>
<text x="561.20" y="494.30" font-size="6.30" text-anchor="start" fill="#333" stroke="#333" stroke-width="0.1">1600</text>
<text x="493.60" y="489.00" font-size="7.50" text-anchor="middle" fill="#222" stroke="#222" stroke-width="0.1">CTS [μM]</text>
<text x="621.00" y="490.20" font-size="7.50" text-anchor="middle" fill="#222" stroke="#222" stroke-width="0.1">TMZ [μM]</text>
<text x="561.20" y="300.70" font-size="13.30" text-anchor="middle" fill="#000">U87-MG</text>
<text x="557.00" y="309.80" font-size="7.50" text-anchor="middle" fill="#222" stroke="#222" stroke-width="0.1">Synergy mapped to D-R (LOEWE)</text>
<text x="557.30" y="319.40" font-size="7.15" text-anchor="middle" fill="#222" stroke="#222" stroke-width="0.1">TMZ &amp; CTS</text>
<defs><linearGradient id="cbF" x1="0" y1="0" x2="0" y2="1">
<stop offset="0.0000" stop-color="#00008f"/>
<stop offset="0.0625" stop-color="#0000bf"/>
<stop offset="0.1250" stop-color="#0000ff"/>
<stop offset="0.1875" stop-color="#0040ff"/>
<stop offset="0.2500" stop-color="#0080ff"/>
<stop offset="0.3125" stop-color="#00bfff"/>
<stop offset="0.3750" stop-color="#00ffff"/>
<stop offset="0.4375" stop-color="#40ffbf"/>
<stop offset="0.5000" stop-color="#80ff80"/>
<stop offset="0.5625" stop-color="#bfff40"/>
<stop offset="0.6250" stop-color="#ffff00"/>
<stop offset="0.6875" stop-color="#ffbf00"/>
<stop offset="0.7500" stop-color="#ff8000"/>
<stop offset="0.8125" stop-color="#ff4000"/>
<stop offset="0.8750" stop-color="#ff0000"/>
<stop offset="0.9375" stop-color="#bf0000"/>
<stop offset="1.0000" stop-color="#800000"/>
</linearGradient></defs>
<rect x="664.40" y="323.00" width="9.60" height="161.00" fill="url(#cbF)" stroke="#9a9a9a" stroke-width="0.5"/>
<text x="682.20" y="373.00" font-size="6.50" text-anchor="middle" fill="#3a3a3a" font-weight="bold" transform="rotate(-90 682.2 373)">Synergy</text>
<text x="682.20" y="426.00" font-size="6.60" text-anchor="middle" fill="#3a3a3a" font-weight="bold" transform="rotate(-90 682.2 426)">Antagonism</text>
</svg></body></html>
